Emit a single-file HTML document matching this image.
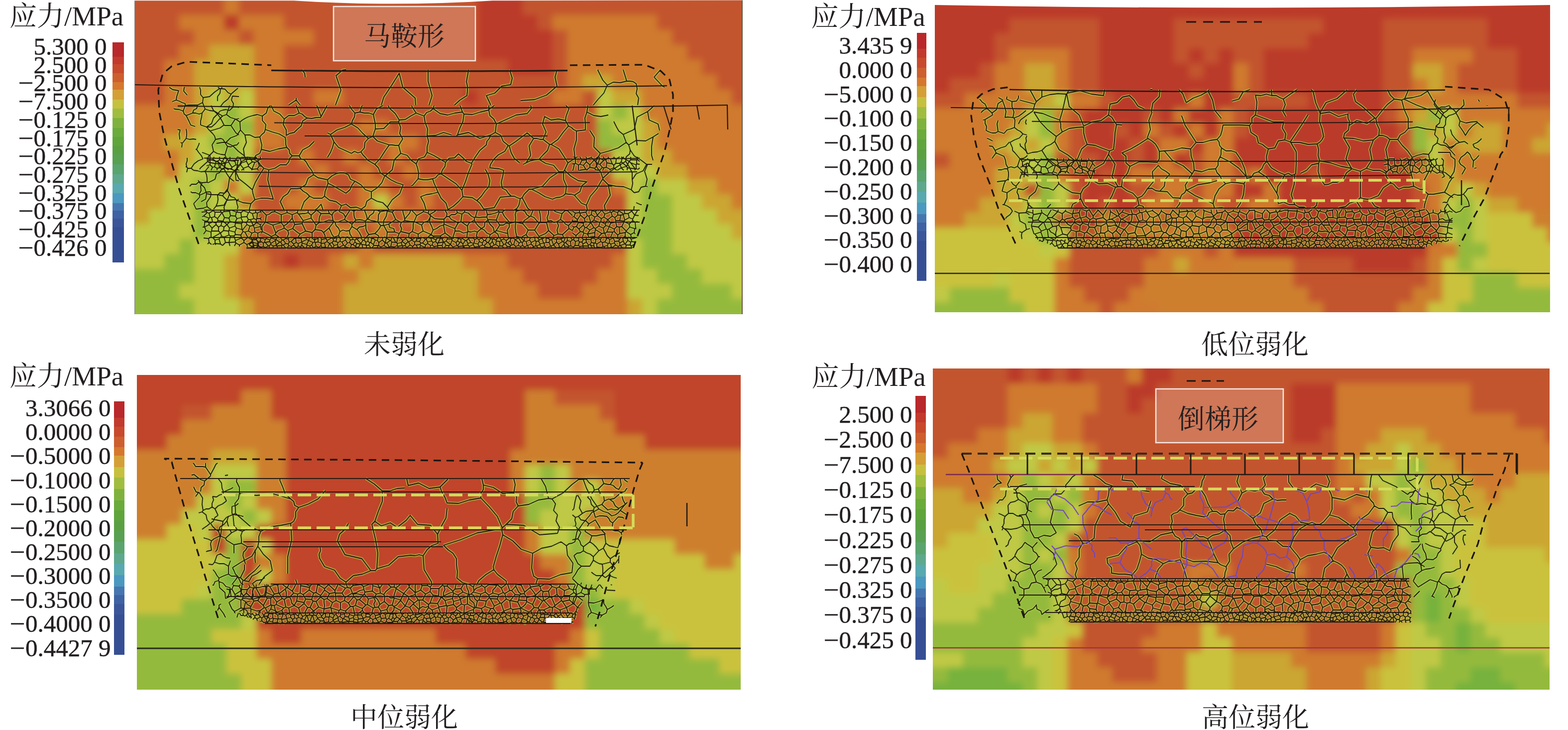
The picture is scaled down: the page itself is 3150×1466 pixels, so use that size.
<!DOCTYPE html><html><head><meta charset="utf-8"><style>
html,body{margin:0;padding:0;background:#fff;}
body{width:3150px;height:1466px;position:relative;overflow:hidden;}
.pan{position:absolute;display:block;}
.t{position:absolute;white-space:pre;color:#231f20;font-family:"Liberation Serif","Noto Serif CJK SC",serif;line-height:1;}
.cb{position:absolute;}
.lb{-webkit-text-stroke:0.45px #231f20}.ti{font-size:55px}.cap{font-size:54px}.bx{font-size:54px}.m{display:inline-block;transform:scaleX(1.12);transform-origin:right center}
</style></head><body>
<svg class="pan" style="left:270px;top:0px" width="1222" height="631" viewBox="0 0 1222 631">
<defs><filter id="bltl" filterUnits="userSpaceOnUse" x="-90" y="-90" width="1410" height="810"><feGaussianBlur stdDeviation="7"/></filter>
<clipPath id="cptl"><rect width="1222" height="631"/></clipPath></defs>
<g clip-path="url(#cptl)"><g filter="url(#bltl)"><g transform="translate(-90,-90)">
<rect x="0" y="0" width="270" height="30" fill="#c3552e"/><rect x="270" y="0" width="30" height="30" fill="#cf7a2e"/><rect x="300" y="0" width="480" height="30" fill="#c3552e"/><rect x="780" y="0" width="90" height="30" fill="#bb3a2a"/><rect x="870" y="0" width="540" height="30" fill="#c3552e"/><rect x="0" y="30" width="270" height="30" fill="#c3552e"/><rect x="270" y="30" width="30" height="30" fill="#cf7a2e"/><rect x="300" y="30" width="480" height="30" fill="#c3552e"/><rect x="780" y="30" width="90" height="30" fill="#bb3a2a"/><rect x="870" y="30" width="540" height="30" fill="#c3552e"/><rect x="0" y="60" width="270" height="30" fill="#c3552e"/><rect x="270" y="60" width="30" height="30" fill="#cf7a2e"/><rect x="300" y="60" width="480" height="30" fill="#c3552e"/><rect x="780" y="60" width="90" height="30" fill="#bb3a2a"/><rect x="870" y="60" width="540" height="30" fill="#c3552e"/><rect x="0" y="90" width="270" height="30" fill="#c3552e"/><rect x="270" y="90" width="30" height="30" fill="#cf7a2e"/><rect x="300" y="90" width="480" height="30" fill="#c3552e"/><rect x="780" y="90" width="90" height="30" fill="#bb3a2a"/><rect x="870" y="90" width="540" height="30" fill="#c3552e"/><rect x="0" y="120" width="180" height="30" fill="#c3552e"/><rect x="180" y="120" width="90" height="30" fill="#cf7a2e"/><rect x="270" y="120" width="30" height="30" fill="#bb3a2a"/><rect x="300" y="120" width="90" height="30" fill="#cf7a2e"/><rect x="390" y="120" width="390" height="30" fill="#c3552e"/><rect x="780" y="120" width="120" height="30" fill="#bb3a2a"/><rect x="900" y="120" width="30" height="30" fill="#c3552e"/><rect x="930" y="120" width="210" height="30" fill="#cf7a2e"/><rect x="1140" y="120" width="270" height="30" fill="#c3552e"/><rect x="0" y="150" width="210" height="30" fill="#c3552e"/><rect x="210" y="150" width="90" height="30" fill="#cf7a2e"/><rect x="300" y="150" width="30" height="30" fill="#c3552e"/><rect x="330" y="150" width="120" height="30" fill="#cf7a2e"/><rect x="450" y="150" width="330" height="30" fill="#c3552e"/><rect x="780" y="150" width="150" height="30" fill="#bb3a2a"/><rect x="930" y="150" width="30" height="30" fill="#c3552e"/><rect x="960" y="150" width="210" height="30" fill="#cf7a2e"/><rect x="1170" y="150" width="240" height="30" fill="#c3552e"/><rect x="0" y="180" width="180" height="30" fill="#c3552e"/><rect x="180" y="180" width="60" height="30" fill="#cf7a2e"/><rect x="240" y="180" width="90" height="30" fill="#cba633"/><rect x="330" y="180" width="60" height="30" fill="#cf7a2e"/><rect x="390" y="180" width="390" height="30" fill="#c3552e"/><rect x="780" y="180" width="150" height="30" fill="#bb3a2a"/><rect x="930" y="180" width="30" height="30" fill="#c3552e"/><rect x="960" y="180" width="240" height="30" fill="#cf7a2e"/><rect x="1200" y="180" width="210" height="30" fill="#c3552e"/><rect x="0" y="210" width="150" height="30" fill="#c3552e"/><rect x="150" y="210" width="60" height="30" fill="#cf7a2e"/><rect x="210" y="210" width="120" height="30" fill="#cba633"/><rect x="330" y="210" width="60" height="30" fill="#cf7a2e"/><rect x="390" y="210" width="450" height="30" fill="#c3552e"/><rect x="840" y="210" width="90" height="30" fill="#bb3a2a"/><rect x="930" y="210" width="30" height="30" fill="#c3552e"/><rect x="960" y="210" width="270" height="30" fill="#cf7a2e"/><rect x="1230" y="210" width="180" height="30" fill="#c3552e"/><rect x="0" y="240" width="150" height="30" fill="#c3552e"/><rect x="150" y="240" width="60" height="30" fill="#cf7a2e"/><rect x="210" y="240" width="120" height="30" fill="#cba633"/><rect x="330" y="240" width="60" height="30" fill="#cf7a2e"/><rect x="390" y="240" width="570" height="30" fill="#c3552e"/><rect x="960" y="240" width="30" height="30" fill="#cf7a2e"/><rect x="990" y="240" width="60" height="30" fill="#cba633"/><rect x="1050" y="240" width="210" height="30" fill="#cf7a2e"/><rect x="1260" y="240" width="150" height="30" fill="#c3552e"/><rect x="0" y="270" width="150" height="30" fill="#c3552e"/><rect x="150" y="270" width="60" height="30" fill="#cf7a2e"/><rect x="210" y="270" width="30" height="30" fill="#cba633"/><rect x="240" y="270" width="30" height="30" fill="#c0c945"/><rect x="270" y="270" width="30" height="30" fill="#cba633"/><rect x="300" y="270" width="30" height="30" fill="#c0c945"/><rect x="330" y="270" width="60" height="30" fill="#cf7a2e"/><rect x="390" y="270" width="60" height="30" fill="#c3552e"/><rect x="450" y="270" width="60" height="30" fill="#cf7a2e"/><rect x="510" y="270" width="240" height="30" fill="#c3552e"/><rect x="750" y="270" width="30" height="30" fill="#bb3a2a"/><rect x="780" y="270" width="150" height="30" fill="#c3552e"/><rect x="930" y="270" width="60" height="30" fill="#cf7a2e"/><rect x="990" y="270" width="30" height="30" fill="#c3552e"/><rect x="1020" y="270" width="30" height="30" fill="#c0c945"/><rect x="1050" y="270" width="60" height="30" fill="#cba633"/><rect x="1110" y="270" width="180" height="30" fill="#cf7a2e"/><rect x="1290" y="270" width="120" height="30" fill="#c3552e"/><rect x="0" y="300" width="210" height="30" fill="#cf7a2e"/><rect x="210" y="300" width="30" height="30" fill="#cba633"/><rect x="240" y="300" width="30" height="30" fill="#c0c945"/><rect x="270" y="300" width="30" height="30" fill="#94ba3e"/><rect x="300" y="300" width="30" height="30" fill="#c0c945"/><rect x="330" y="300" width="60" height="30" fill="#cf7a2e"/><rect x="390" y="300" width="630" height="30" fill="#c3552e"/><rect x="1020" y="300" width="30" height="30" fill="#c0c945"/><rect x="1050" y="300" width="30" height="30" fill="#94ba3e"/><rect x="1080" y="300" width="30" height="30" fill="#c0c945"/><rect x="1110" y="300" width="300" height="30" fill="#cf7a2e"/><rect x="0" y="330" width="210" height="30" fill="#cf7a2e"/><rect x="210" y="330" width="30" height="30" fill="#cba633"/><rect x="240" y="330" width="30" height="30" fill="#c0c945"/><rect x="270" y="330" width="60" height="30" fill="#94ba3e"/><rect x="330" y="330" width="60" height="30" fill="#cf7a2e"/><rect x="390" y="330" width="150" height="30" fill="#c3552e"/><rect x="540" y="330" width="60" height="30" fill="#cf7a2e"/><rect x="600" y="330" width="420" height="30" fill="#c3552e"/><rect x="1020" y="330" width="30" height="30" fill="#94ba3e"/><rect x="1050" y="330" width="60" height="30" fill="#c0c945"/><rect x="1110" y="330" width="30" height="30" fill="#cba633"/><rect x="1140" y="330" width="270" height="30" fill="#cf7a2e"/><rect x="0" y="360" width="150" height="30" fill="#cf7a2e"/><rect x="150" y="360" width="60" height="30" fill="#cba633"/><rect x="210" y="360" width="30" height="30" fill="#c0c945"/><rect x="240" y="360" width="60" height="30" fill="#94ba3e"/><rect x="300" y="360" width="30" height="30" fill="#c0c945"/><rect x="330" y="360" width="60" height="30" fill="#cf7a2e"/><rect x="390" y="360" width="210" height="30" fill="#c3552e"/><rect x="600" y="360" width="60" height="30" fill="#cf7a2e"/><rect x="660" y="360" width="360" height="30" fill="#c3552e"/><rect x="1020" y="360" width="60" height="30" fill="#94ba3e"/><rect x="1080" y="360" width="30" height="30" fill="#c0c945"/><rect x="1110" y="360" width="30" height="30" fill="#cba633"/><rect x="1140" y="360" width="270" height="30" fill="#cf7a2e"/><rect x="0" y="390" width="180" height="30" fill="#cf7a2e"/><rect x="180" y="390" width="30" height="30" fill="#cba633"/><rect x="210" y="390" width="60" height="30" fill="#c0c945"/><rect x="270" y="390" width="30" height="30" fill="#94ba3e"/><rect x="300" y="390" width="30" height="30" fill="#c0c945"/><rect x="330" y="390" width="90" height="30" fill="#c3552e"/><rect x="420" y="390" width="30" height="30" fill="#cf7a2e"/><rect x="450" y="390" width="60" height="30" fill="#c3552e"/><rect x="510" y="390" width="30" height="30" fill="#cf7a2e"/><rect x="540" y="390" width="60" height="30" fill="#c3552e"/><rect x="600" y="390" width="30" height="30" fill="#cf7a2e"/><rect x="630" y="390" width="420" height="30" fill="#c3552e"/><rect x="1050" y="390" width="60" height="30" fill="#c0c945"/><rect x="1110" y="390" width="60" height="30" fill="#cba633"/><rect x="1170" y="390" width="240" height="30" fill="#cf7a2e"/><rect x="0" y="420" width="150" height="30" fill="#cba633"/><rect x="150" y="420" width="30" height="30" fill="#cf7a2e"/><rect x="180" y="420" width="60" height="30" fill="#c0c945"/><rect x="240" y="420" width="30" height="30" fill="#94ba3e"/><rect x="270" y="420" width="60" height="30" fill="#c0c945"/><rect x="330" y="420" width="120" height="30" fill="#c3552e"/><rect x="450" y="420" width="30" height="30" fill="#cf7a2e"/><rect x="480" y="420" width="60" height="30" fill="#c3552e"/><rect x="540" y="420" width="30" height="30" fill="#cf7a2e"/><rect x="570" y="420" width="60" height="30" fill="#c3552e"/><rect x="630" y="420" width="30" height="30" fill="#cf7a2e"/><rect x="660" y="420" width="390" height="30" fill="#c3552e"/><rect x="1050" y="420" width="90" height="30" fill="#c0c945"/><rect x="1140" y="420" width="60" height="30" fill="#cba633"/><rect x="1200" y="420" width="210" height="30" fill="#cf7a2e"/><rect x="0" y="450" width="150" height="30" fill="#cba633"/><rect x="150" y="450" width="60" height="30" fill="#c0c945"/><rect x="210" y="450" width="30" height="30" fill="#94ba3e"/><rect x="240" y="450" width="30" height="30" fill="#c0c945"/><rect x="270" y="450" width="30" height="30" fill="#cf7a2e"/><rect x="300" y="450" width="30" height="30" fill="#c0c945"/><rect x="330" y="450" width="90" height="30" fill="#c3552e"/><rect x="420" y="450" width="30" height="30" fill="#cf7a2e"/><rect x="450" y="450" width="90" height="30" fill="#c3552e"/><rect x="540" y="450" width="60" height="30" fill="#cf7a2e"/><rect x="600" y="450" width="60" height="30" fill="#c3552e"/><rect x="660" y="450" width="30" height="30" fill="#cf7a2e"/><rect x="690" y="450" width="360" height="30" fill="#c3552e"/><rect x="1050" y="450" width="30" height="30" fill="#cf7a2e"/><rect x="1080" y="450" width="30" height="30" fill="#c0c945"/><rect x="1110" y="450" width="30" height="30" fill="#94ba3e"/><rect x="1140" y="450" width="60" height="30" fill="#c0c945"/><rect x="1200" y="450" width="60" height="30" fill="#cba633"/><rect x="1260" y="450" width="150" height="30" fill="#cf7a2e"/><rect x="0" y="480" width="150" height="30" fill="#cba633"/><rect x="150" y="480" width="60" height="30" fill="#c0c945"/><rect x="210" y="480" width="30" height="30" fill="#94ba3e"/><rect x="240" y="480" width="60" height="30" fill="#c0c945"/><rect x="300" y="480" width="30" height="30" fill="#cf7a2e"/><rect x="330" y="480" width="60" height="30" fill="#c3552e"/><rect x="390" y="480" width="90" height="30" fill="#cf7a2e"/><rect x="480" y="480" width="60" height="30" fill="#c3552e"/><rect x="540" y="480" width="30" height="30" fill="#cf7a2e"/><rect x="570" y="480" width="30" height="30" fill="#c0c945"/><rect x="600" y="480" width="30" height="30" fill="#cf7a2e"/><rect x="630" y="480" width="30" height="30" fill="#c3552e"/><rect x="660" y="480" width="30" height="30" fill="#cf7a2e"/><rect x="690" y="480" width="390" height="30" fill="#c3552e"/><rect x="1080" y="480" width="30" height="30" fill="#c0c945"/><rect x="1110" y="480" width="60" height="30" fill="#94ba3e"/><rect x="1170" y="480" width="60" height="30" fill="#c0c945"/><rect x="1230" y="480" width="60" height="30" fill="#cba633"/><rect x="1290" y="480" width="120" height="30" fill="#cf7a2e"/><rect x="0" y="510" width="120" height="30" fill="#cba633"/><rect x="120" y="510" width="90" height="30" fill="#c0c945"/><rect x="210" y="510" width="30" height="30" fill="#94ba3e"/><rect x="240" y="510" width="30" height="30" fill="#c0c945"/><rect x="270" y="510" width="30" height="30" fill="#94ba3e"/><rect x="300" y="510" width="30" height="30" fill="#c0c945"/><rect x="330" y="510" width="90" height="30" fill="#c3552e"/><rect x="420" y="510" width="30" height="30" fill="#cf7a2e"/><rect x="450" y="510" width="90" height="30" fill="#c3552e"/><rect x="540" y="510" width="60" height="30" fill="#cf7a2e"/><rect x="600" y="510" width="30" height="30" fill="#c3552e"/><rect x="630" y="510" width="30" height="30" fill="#cf7a2e"/><rect x="660" y="510" width="420" height="30" fill="#c3552e"/><rect x="1080" y="510" width="30" height="30" fill="#c0c945"/><rect x="1110" y="510" width="60" height="30" fill="#94ba3e"/><rect x="1170" y="510" width="90" height="30" fill="#c0c945"/><rect x="1260" y="510" width="150" height="30" fill="#cba633"/><rect x="0" y="540" width="210" height="30" fill="#c0c945"/><rect x="210" y="540" width="30" height="30" fill="#94ba3e"/><rect x="240" y="540" width="60" height="30" fill="#c0c945"/><rect x="300" y="540" width="30" height="30" fill="#cf7a2e"/><rect x="330" y="540" width="150" height="30" fill="#c3552e"/><rect x="480" y="540" width="60" height="30" fill="#cf7a2e"/><rect x="540" y="540" width="30" height="30" fill="#c3552e"/><rect x="570" y="540" width="30" height="30" fill="#cf7a2e"/><rect x="600" y="540" width="60" height="30" fill="#c3552e"/><rect x="660" y="540" width="30" height="30" fill="#cf7a2e"/><rect x="690" y="540" width="390" height="30" fill="#c3552e"/><rect x="1080" y="540" width="90" height="30" fill="#94ba3e"/><rect x="1170" y="540" width="120" height="30" fill="#c0c945"/><rect x="1290" y="540" width="120" height="30" fill="#cba633"/><rect x="0" y="570" width="180" height="30" fill="#c0c945"/><rect x="180" y="570" width="30" height="30" fill="#94ba3e"/><rect x="210" y="570" width="90" height="30" fill="#c0c945"/><rect x="300" y="570" width="30" height="30" fill="#cf7a2e"/><rect x="330" y="570" width="210" height="30" fill="#c3552e"/><rect x="540" y="570" width="30" height="30" fill="#cf7a2e"/><rect x="570" y="570" width="510" height="30" fill="#c3552e"/><rect x="1080" y="570" width="30" height="30" fill="#c0c945"/><rect x="1110" y="570" width="60" height="30" fill="#94ba3e"/><rect x="1170" y="570" width="240" height="30" fill="#c0c945"/><rect x="0" y="600" width="150" height="30" fill="#c0c945"/><rect x="150" y="600" width="60" height="30" fill="#94ba3e"/><rect x="210" y="600" width="60" height="30" fill="#c0c945"/><rect x="270" y="600" width="30" height="30" fill="#cba633"/><rect x="300" y="600" width="60" height="30" fill="#cf7a2e"/><rect x="360" y="600" width="30" height="30" fill="#c3552e"/><rect x="390" y="600" width="30" height="30" fill="#bb3a2a"/><rect x="420" y="600" width="60" height="30" fill="#c3552e"/><rect x="480" y="600" width="30" height="30" fill="#cf7a2e"/><rect x="510" y="600" width="30" height="30" fill="#cba633"/><rect x="540" y="600" width="30" height="30" fill="#cf7a2e"/><rect x="570" y="600" width="180" height="30" fill="#cba633"/><rect x="750" y="600" width="90" height="30" fill="#cf7a2e"/><rect x="840" y="600" width="210" height="30" fill="#c3552e"/><rect x="1050" y="600" width="30" height="30" fill="#cf7a2e"/><rect x="1080" y="600" width="30" height="30" fill="#c0c945"/><rect x="1110" y="600" width="90" height="30" fill="#94ba3e"/><rect x="1200" y="600" width="210" height="30" fill="#c0c945"/><rect x="0" y="630" width="210" height="30" fill="#94ba3e"/><rect x="210" y="630" width="60" height="30" fill="#c0c945"/><rect x="270" y="630" width="30" height="30" fill="#cba633"/><rect x="300" y="630" width="240" height="30" fill="#cf7a2e"/><rect x="540" y="630" width="240" height="30" fill="#cba633"/><rect x="780" y="630" width="90" height="30" fill="#cf7a2e"/><rect x="870" y="630" width="150" height="30" fill="#c3552e"/><rect x="1020" y="630" width="60" height="30" fill="#cf7a2e"/><rect x="1080" y="630" width="60" height="30" fill="#c0c945"/><rect x="1140" y="630" width="90" height="30" fill="#94ba3e"/><rect x="1230" y="630" width="180" height="30" fill="#c0c945"/><rect x="0" y="660" width="180" height="30" fill="#94ba3e"/><rect x="180" y="660" width="90" height="30" fill="#c0c945"/><rect x="270" y="660" width="30" height="30" fill="#cba633"/><rect x="300" y="660" width="210" height="30" fill="#cf7a2e"/><rect x="510" y="660" width="270" height="30" fill="#cba633"/><rect x="780" y="660" width="120" height="30" fill="#cf7a2e"/><rect x="900" y="660" width="90" height="30" fill="#c3552e"/><rect x="990" y="660" width="90" height="30" fill="#cf7a2e"/><rect x="1080" y="660" width="90" height="30" fill="#c0c945"/><rect x="1170" y="660" width="120" height="30" fill="#94ba3e"/><rect x="1290" y="660" width="120" height="30" fill="#c0c945"/><rect x="0" y="690" width="210" height="30" fill="#94ba3e"/><rect x="210" y="690" width="90" height="30" fill="#c0c945"/><rect x="300" y="690" width="30" height="30" fill="#cba633"/><rect x="330" y="690" width="180" height="30" fill="#cf7a2e"/><rect x="510" y="690" width="300" height="30" fill="#cba633"/><rect x="810" y="690" width="270" height="30" fill="#cf7a2e"/><rect x="1080" y="690" width="30" height="30" fill="#cba633"/><rect x="1110" y="690" width="30" height="30" fill="#c0c945"/><rect x="1140" y="690" width="270" height="30" fill="#94ba3e"/><rect x="0" y="720" width="210" height="30" fill="#94ba3e"/><rect x="210" y="720" width="90" height="30" fill="#c0c945"/><rect x="300" y="720" width="30" height="30" fill="#cba633"/><rect x="330" y="720" width="180" height="30" fill="#cf7a2e"/><rect x="510" y="720" width="300" height="30" fill="#cba633"/><rect x="810" y="720" width="270" height="30" fill="#cf7a2e"/><rect x="1080" y="720" width="30" height="30" fill="#cba633"/><rect x="1110" y="720" width="30" height="30" fill="#c0c945"/><rect x="1140" y="720" width="270" height="30" fill="#94ba3e"/><rect x="0" y="750" width="210" height="30" fill="#94ba3e"/><rect x="210" y="750" width="90" height="30" fill="#c0c945"/><rect x="300" y="750" width="30" height="30" fill="#cba633"/><rect x="330" y="750" width="180" height="30" fill="#cf7a2e"/><rect x="510" y="750" width="300" height="30" fill="#cba633"/><rect x="810" y="750" width="270" height="30" fill="#cf7a2e"/><rect x="1080" y="750" width="30" height="30" fill="#cba633"/><rect x="1110" y="750" width="30" height="30" fill="#c0c945"/><rect x="1140" y="750" width="270" height="30" fill="#94ba3e"/><rect x="0" y="780" width="210" height="30" fill="#94ba3e"/><rect x="210" y="780" width="90" height="30" fill="#c0c945"/><rect x="300" y="780" width="30" height="30" fill="#cba633"/><rect x="330" y="780" width="180" height="30" fill="#cf7a2e"/><rect x="510" y="780" width="300" height="30" fill="#cba633"/><rect x="810" y="780" width="270" height="30" fill="#cf7a2e"/><rect x="1080" y="780" width="30" height="30" fill="#cba633"/><rect x="1110" y="780" width="30" height="30" fill="#c0c945"/><rect x="1140" y="780" width="270" height="30" fill="#94ba3e"/>
</g>
</g>
<path d="M453 225L457 213L458 212M453 225L443 227M443 227L436 219L432 212M1004 387L1013 385L1018 376L1027 374M1027 374L1031 375M1008 407L1017 411L1019 411M128 362L132 368L141 377L145 389M145 389L143 400L134 405M374 236L365 236L356 238L347 237M374 236L375 234M375 234L368 215L366 212M347 237L342 234L337 229L331 227M331 227L326 214L325 212M388 267L394 270M387 212L387 212L381 223L375 234M443 227L442 235L438 242L436 249M394 270L407 261L422 256L436 249M1003 422L1004 414M145 389L156 391L167 391L177 393M181 422L180 416L186 402M177 393L186 402M232 422L231 420L234 409M186 402L203 401L218 407L234 409M299 422L300 420M301 422L300 420M394 270L401 285M436 249L449 257L459 268L470 278M470 278L463 286L462 297L455 305M455 305L449 307L442 304L436 308M401 285L410 296L423 302L436 308M347 237L338 243L335 253L327 260M1044 212L1038 218L1031 224M1055 262L1052 249L1034 241L1031 224M1031 224L1031 224M1031 224L1010 235L1004 260L982 270M982 270L973 263L968 254L963 244M152 320L142 329L133 337L131 340M152 320L169 326L184 337L201 342M201 342L191 358L188 378L177 393M152 320L152 312M152 312L136 306M177 233L170 240L163 248L155 255M177 233L159 222L154 212M155 255L144 255L144 255M279 400L273 381L268 361L270 341M279 400L267 398L254 398L242 401M242 401L240 395L238 388L237 381M237 381L243 366L251 352L260 338M260 338L270 341M234 409L242 401M300 420L293 405M201 342L202 342M202 342L210 359L224 370L237 381M360 351L356 342L350 334L345 325M360 351L349 358L344 371L333 378M333 378L327 379L320 379L314 379M345 325L341 321L334 319L331 313M305 331L310 325L312 318L317 313M331 313L317 313M293 405L299 395L308 389L314 379M270 341L282 338L293 331L305 331M401 285L398 296L394 306L388 316M361 284L351 294L338 301L331 313M352 394L341 405L336 418L335 422M352 394L360 398L369 398L377 398M375 410L367 419L362 422M333 378L339 384L346 388L352 394M379 422L375 410M455 305L459 311L464 316L469 322M445 365L443 364M443 364L434 360L430 351L421 347M421 347L412 347L405 349L397 353M360 351L369 357L379 359L388 361M388 361L397 353M762 422L768 419M768 422L768 419M453 225L462 227L471 227L480 230M480 230L486 219L499 212L499 212M723 212L712 220M712 212L712 220M445 365L455 371L464 381L476 385M469 322L483 330M483 330L490 337L494 347L503 353M503 353L497 367L488 377L476 385M512 422L508 416M456 422L456 420M456 420L464 414L467 404L476 398M508 416L499 407L487 404L476 398M331 227L321 232L310 232L301 239M327 260L321 266L312 268L305 272M305 272L305 261L299 250L301 239M1053 268L1042 275M1042 275L1039 294L1039 312L1042 322M1027 374L1030 360L1025 344L1031 330M1040 330L1031 330M802 278L809 278L815 280L821 280M802 278L789 267M789 228L798 217M821 280L827 265L820 249L824 234M184 286L193 277L206 272L213 261M184 286L198 293L209 304L221 313M213 261L222 271M222 271L225 286L219 299L221 313M202 342L210 334L214 325L224 320M260 338L254 332L248 324L240 320M240 320L224 320M184 286L177 286L171 287L165 288M221 313L224 320M213 261L212 245M177 233L185 230M185 230L193 236L203 239L212 245M185 230L190 216L191 212M425 388L413 381L401 374L389 368M425 410L416 413M416 413L405 405L392 402L382 394M382 394L383 385L386 377L389 368M443 364L437 372L433 381L425 388M388 361L389 368M456 420L446 416L434 417L425 410M476 398L476 385M412 422L416 413M377 398L382 394M707 291L694 302L685 315L677 328M714 337L715 331L718 326L722 320M677 328L678 330M796 212L798 217M789 228L767 231L747 240L727 249M712 220L712 221M712 221L714 232L722 239L727 249M753 293L751 292M753 293L765 285L777 276L789 267M751 292L741 284L736 272L725 266M727 249L725 266M751 292L744 304L731 311L722 320M707 291L708 284L713 278L716 271M716 271L725 266M306 296L304 290L304 283L303 276M306 296L289 299L272 304L255 300M303 276L291 269L277 265L263 260M255 300L256 291L254 283L252 275M263 260L261 266L256 270L252 275M317 313L312 308L311 301L306 296M240 320L244 312L252 308L255 300M222 271L232 271L242 276L252 275M866 242L872 253M866 242L867 234L870 226L873 218M872 253L878 256L882 260L888 263M911 212L911 212L909 225M909 225L905 237L906 249L906 261M906 261L888 263M834 290L821 280M834 290L837 290M837 290L851 280L861 266L872 253M824 234L837 241L852 239L866 242M867 212L873 218M952 231L937 234L923 232L909 225M982 270L988 286M915 262L924 276L923 295L936 308M936 308L954 303L972 297L988 286M1042 275L1027 283L1008 282L993 291M1031 330L1029 330M1029 330L1017 321L1004 313L996 301M996 301L993 291M988 286L993 291M257 233L265 227L268 217L273 212M257 233L247 230L238 232L228 235M301 239L292 229L280 223L275 212M263 260L264 250L257 242L257 233M212 245L217 241L222 238L228 235M802 278L793 293L796 312L787 327M834 290L830 302L821 311L813 320M813 320L804 321L795 323L787 327M775 399L779 397M775 399L769 397L763 394L757 394M779 397L783 390L788 385L793 380M757 394L751 388L747 382L739 378M739 378L737 366L740 354L742 342M768 419L772 413L774 406L775 399M795 422L790 418L779 397M702 420L703 422M702 420L723 417L735 396L757 394M702 420L698 414L694 408L688 403M712 375L704 384L697 394L688 403M712 375L714 363L711 351L705 340M714 337L723 338L733 339L742 342M753 293L757 307L763 318L774 327M787 327L781 330M503 353L504 353M508 416L518 401L533 389L540 371M504 353L515 361L527 367L540 371M483 330L494 318L503 304L512 291M535 308L522 321L518 341L504 353M535 308L531 292M531 292L524 292L518 291L512 291M470 278L479 274M512 291L500 287L488 283L479 274M480 230L482 240L484 249L484 259M479 274L484 259M688 403L679 397L670 396L660 395M678 330L671 347L665 365L658 382M660 395L658 382M677 328L667 324L659 316L651 309M651 309L643 317L632 318L625 326M625 326L624 334L619 341L616 349M658 382L646 369L631 359L616 349M659 225L644 227L629 231L614 228M659 225L662 229M662 229L660 244L654 257L649 271M649 271L647 273M654 212L655 214L659 225M600 218L602 212M600 218L614 228M712 221L695 225L679 230L662 229M716 271L694 278L671 266L649 271M888 263L888 281L883 299L885 318M936 308L927 324M837 290L853 299L862 313L871 327M885 318L871 327M884 392L891 400L898 408L908 412M884 392L895 385L899 373L909 365M908 412L916 394L929 379L939 362M952 371L941 360M952 371L967 374L983 375L998 381M987 324L971 334L955 345L941 358M987 324L994 335L1000 347L1000 361M941 360L941 358M998 381L1000 374L1001 368L1000 361M946 422L944 413L956 392L952 371M910 422L908 412M939 362L941 360M1004 387L998 381M996 301L995 309L988 315L987 324M927 324L929 336L937 346L941 358M1029 330L1022 343L1008 349L1000 361M909 365L892 363L877 354L864 342M864 342L871 327M840 400L825 395L812 387L798 380M840 400L847 397L855 396L862 393M798 380L820 374L835 357L853 345M866 389L862 393M866 389L868 374L862 360L862 345M862 345L853 345M793 380L798 380M813 320L826 328L842 332L853 345M884 392L878 390L872 390L866 389M864 342L862 345M539 279L533 268L535 256L531 245M532 241L531 245M532 241L544 240L555 233L566 227M582 233L566 227M582 233L584 246L589 259L588 273M588 273L588 273M531 292L539 279M484 259L501 258L514 245L531 245M588 306L588 295L591 284L588 273M588 306L583 315L571 319L566 329M535 308L548 312L556 322L566 329M510 212L512 217L524 228L532 241M557 212L558 215L566 227M600 218L595 223L587 226L582 233M637 271L621 266L605 272L588 273M588 306L601 312L613 319L625 326M566 329L569 338L571 348L570 359M616 349L610 351L605 357L599 359M570 359L580 361L589 361L599 359M631 422L630 422M660 395L651 405L641 414L630 421M630 422L630 421M599 359L602 368L606 377L610 386M630 421L626 408L616 398L610 386M556 373L559 372M575 395L582 408L586 422M570 359L559 372M610 386L598 389L586 391L575 395M872 422L870 423M880 433L870 423M880 441L879 446M880 446L879 446M433 422L424 436M424 436L420 429L412 425L411 422M255 422L255 422M879 446L872 453M872 453L873 459M880 463L873 459M856 441L862 445L866 450L872 453M856 441L849 445M851 470L849 462L852 453L849 445M851 470L860 471M860 471L873 459M436 422L441 424M446 422L441 424M422 441L424 436M422 441L437 450M441 424L441 431L442 437L445 442M445 442L437 450M456 476L456 475L452 467L447 461M447 461L437 455M437 455L432 463M437 476L433 470L432 463M422 441L416 443L410 446L403 446M403 446L405 453L410 458L413 465M437 450L437 455M432 463L425 464L419 462L413 465M407 422L406 423L400 426L397 432M403 446L401 445M401 445L399 443M399 443L397 432M366 422L375 429M375 429L392 429M389 422L392 429M365 452L371 447M365 452L355 438M355 438L355 432M355 432L366 422M371 447L371 441L372 435L375 429M371 447L380 446L390 442L399 443M397 432L392 429M355 432L349 427M349 427L349 422M349 427L343 429L337 429L330 430M329 422L327 427M327 427L330 430M355 438L339 443M330 430L339 443M255 422L265 432M282 425L276 426L271 430L265 432M282 425L282 422M832 422L832 429L829 437L831 444M816 447L816 439L815 430L813 422M816 447L828 447M831 444L828 447M813 448L816 447M813 448L808 443L803 437L796 434M801 422L796 434M780 449L791 462M780 449L783 443L789 439L794 435M813 448L804 462M804 462L791 462M794 435L796 434M841 476L843 473M843 473L832 463M832 463L826 469L819 472L813 475M813 476L813 475M851 470L843 473M862 476L860 471M849 445L843 447L837 443L831 444M828 447L832 463M804 462L813 475M466 476L471 471M447 461L452 456L459 455L465 452M471 471L467 465L465 459L465 452M445 442L452 441L458 442L464 444M465 452L464 444M462 422L463 424L466 432L468 440M468 440L464 444M602 476L600 474M596 471L590 476M596 471L596 471M596 471L600 474M767 424L766 422M767 424L776 422M765 446L766 438L765 431L767 424M765 446L755 448M755 448L749 441L743 434L739 426M739 426L744 422L745 422M780 449L766 446M766 446L765 446M794 435L788 431L785 425L779 422M318 459L323 463L328 467L333 470M318 459L322 451M322 451L337 449M337 449L344 464M344 464L333 470M365 452L363 461M363 461L357 467M339 443L337 449M357 467L344 464M306 422L307 427M282 425L295 431M295 431L307 427M327 427L317 431M307 427L317 431M322 451L317 438M317 431L317 438M275 476L275 475M255 468L257 465M275 475L269 471L263 468L257 465M255 455L256 455M257 465L256 455M265 432L263 446M263 446L256 455M329 476L329 476L333 470M357 467L357 476M865 422L865 423M865 423L859 429M859 429L852 427L846 425L842 422M870 423L865 423M856 441L859 429M790 476L787 471M778 476L787 471M791 462L787 471M767 476L768 475M768 475L773 476M766 446L765 456L766 466L768 475M581 425L590 428M581 425L580 422M590 428L592 422M606 422L603 425L593 431M593 431L590 428M487 422L494 425M482 422L480 428L473 433L469 440M494 425L490 432L490 439L489 446M469 440L476 443L483 444L489 446M505 423L505 422M505 423L494 425M468 440L469 440M521 422L521 423M521 423L523 422M505 423L508 424M521 423L518 426M508 424L518 426M581 425L567 433M567 433L557 422M539 422L540 428L542 434L543 440M555 422L553 428L548 434L543 440M600 474L614 474M614 474L616 476M731 422L732 425M707 422L709 431M709 431L717 430L725 428L732 425M739 426L733 426M733 426L732 425M363 461L370 462L376 463L380 467M401 445L391 458M380 467L391 458M410 473L412 476M410 473L402 476M413 465L410 473M391 458L394 464L397 471L401 476M380 467L383 473L383 476M275 475L283 471M283 471L289 475L290 476M318 459L308 463M308 463L310 469L307 476L307 476M491 476L490 473L483 469M507 476L508 466M483 469L488 464L492 459L495 453M508 466L501 453M495 453L500 453M501 453L500 453M471 471L483 469M529 476L532 469M523 466L532 469M523 466L508 466M489 446L495 453M523 466L521 459L513 457L511 450M511 450L501 453M508 424L506 434L501 443L500 453M518 426L525 441M525 441L511 450M593 431L595 433M595 433L594 437M594 437L590 444L582 446L577 452M567 433L562 445M562 445L577 452M596 471L580 464M594 437L593 446L597 454L600 462M600 462L596 471M577 452L580 464M570 476L570 470M570 470L580 464M536 447L534 453L537 459L535 465M536 447L543 443M543 443L549 444L555 445L561 445M561 445L560 452L560 459L558 465M535 465L552 469M552 469L558 465M532 469L535 465M525 441L536 447M543 440L543 443M562 445L561 445M570 470L558 465M551 476L552 469M713 476L715 471M732 476L730 470L724 466M715 471L723 466M723 466L724 466M689 476L687 474L689 466M689 466L697 459M697 459L703 462L708 468L715 471M697 459L697 459M723 466L721 457L714 450L710 442M697 459L703 455L704 447L710 442M709 431L708 436M733 426L727 442M727 442L710 441M708 436L710 441M670 465L669 454M670 465L676 466L683 464L689 466M697 459L691 454L686 448L683 442M669 454L672 448L678 445L683 442M614 474L624 468M635 476L624 468M600 462L607 459L614 454L621 452M624 468L621 452M734 452L727 463M734 452L741 452L747 448L753 449M727 463L735 465L742 467L750 469M753 449L753 456L749 462L750 469M727 442L734 452M724 466L727 463M710 442L710 441M755 448L753 449M751 476L750 469M278 452L284 468M278 452L295 447M284 468L289 463L295 461L301 458M295 447L300 454M300 454L301 458M263 446L278 452M283 471L284 468M295 431L295 447M308 463L301 458M317 438L312 444L306 450L300 454M644 464L640 476M644 464L653 464L661 468L669 466M669 466L668 476M670 465L669 466M663 426L664 422M663 426L671 428L677 434L683 437M689 422L685 436M685 436L683 437M647 422L649 427M649 427L658 430M658 430L663 426M669 454L656 445M683 442L683 437M656 445L658 430M708 436L700 436L693 437L685 436M644 459L636 456L629 453L622 450M644 459L650 448M650 448L644 444L637 441L632 435M622 450L622 440M622 440L627 435M627 435L632 435M621 452L622 450M644 464L644 459M656 445L650 448M649 427L644 431L637 431L632 435M595 433L603 439L613 440L622 440M624 422L624 422L628 429L627 435M158 422L158 423M158 423L162 426M162 426L174 426M174 426L173 422M161 435L155 437M161 435L162 426M155 437L152 436M158 423L150 428M152 436L150 428M163 489L163 492M163 489L173 490M173 490L177 493M255 436L253 439M253 439L255 442M255 462L253 455M253 455L253 451M255 450L253 451M255 497L254 498M254 498L254 498M253 455L241 458M239 453L245 447M239 453L239 453M253 451L245 447M239 453L241 458M139 470L144 463M137 456L140 456M140 456L141 456M144 463L141 456M136 441L136 441M140 456L142 444M136 441L142 444M150 449L147 444M150 449L150 451M150 451L141 456M142 444L147 444M150 449L157 446M157 446L155 437M152 436L150 438M147 444L150 438M195 422L205 426M205 426L206 426M206 426L207 422M193 422L193 422M193 422L193 422M219 423L218 422M219 423L214 427M214 427L206 426M163 489L162 489M173 490L170 480M170 480L162 482M162 489L162 482M173 468L157 477M173 468L175 474M175 474L170 480M162 482L157 477M139 478L149 479M154 466L144 463M154 466L154 476M149 479L154 476M225 447L218 446M225 447L229 441M218 446L214 437M229 441L226 435M226 435L215 436M215 436L214 437M215 449L218 446M215 449L203 448M203 448L202 447M202 447L206 439M206 439L214 437M229 427L219 423M229 427L226 435M214 427L215 436M203 434L206 439M203 434L205 426M254 498L250 494M250 494L246 497M202 466L205 458M202 466L190 463M191 458L190 463M191 458L202 454M202 454L205 458M192 445L202 447M192 445L186 451M203 448L202 454M186 451L191 458M215 449L216 461M216 461L205 458M203 471L214 472M203 471L200 474M215 478L214 472M215 478L203 483M200 474L203 483M193 422L191 424M180 422L180 425M191 424L180 425M203 434L193 433M191 424L193 433M192 445L190 438M190 438L193 433M174 426L176 427M176 427L180 425M139 434L136 435M139 434L146 427M146 427L145 425M145 425L135 426M136 441L136 441M150 438L139 434M150 428L146 427M144 422L145 425M255 427L253 425M253 425L254 422M155 491L150 487M150 487L147 490M162 489L157 491M149 479L150 487M154 476L157 477M250 494L249 492M249 492L241 493M237 497L241 493M217 462L218 465M217 462L226 451M218 465L222 466M222 466L229 464M229 464L232 454M226 451L232 454M216 461L217 462M203 471L202 466M214 472L218 465M225 447L226 451M220 483L228 477M220 483L215 478M228 477L222 466M239 453L233 441M233 441L229 441M239 453L232 454M228 477L233 476M229 464L236 468M233 476L236 468M241 458L242 466M242 466L236 468M192 494L190 487M203 486L190 487M203 486L204 488M204 488L201 494M164 451L169 456M164 451L156 458M169 456L169 464M169 464L155 464M156 458L155 464M157 446L164 448M164 448L164 451M150 451L156 458M154 466L155 464M173 468L173 468M173 468L169 464M189 464L190 463M189 464L179 463M186 451L186 451M179 463L180 456M186 451L180 456M173 468L179 463M169 456L174 453M180 456L174 453M190 472L193 474M190 472L180 476M193 474L190 487M180 476L183 487M183 487L190 487M189 464L190 472M200 474L193 474M175 474L180 476M203 483L203 486M190 487L190 487M177 493L183 487M181 437L176 427M181 437L178 444M176 427L167 439M178 444L176 444M176 444L168 443M167 439L168 443M190 438L181 437M176 427L176 427M186 451L178 444M161 435L167 439M174 453L176 444M164 448L168 443M253 439L246 439M253 425L247 428M247 428L246 439M233 441L240 439M245 447L245 441M240 439L245 441M246 439L245 441M232 422L231 426M231 426L237 429M243 422L244 427M237 429L244 427M229 427L231 426M240 439L237 429M247 428L244 427M227 496L226 491M226 491L220 487M220 487L211 492M211 492L211 495M241 493L235 486M235 486L226 491M220 483L220 487M235 486L237 482M233 476L237 482M204 488L211 492M255 465L255 465M242 466L248 468M248 468L255 465M255 466L255 465M245 481L248 476M245 481L249 488M248 476L255 478M255 486L249 488M237 482L245 481M248 468L248 476M249 492L249 488M926 476L925 475M925 475L915 476M910 433L904 439M910 433L913 434M913 434L917 447M904 439L905 445M905 445L917 447M1006 446L1011 445M1006 446L1007 458M1007 458L1008 457M1007 459L1007 458M1007 459L1008 460M929 422L926 425M919 423L926 425M919 423L918 422M886 428L883 435M886 428L894 427M896 432L890 441M896 432L895 428M890 441L883 435M894 427L895 428M880 424L886 428M880 436L883 435M894 422L894 427M910 433L907 426M904 439L896 432M907 426L895 428M913 476L910 470M900 476L903 468M903 468L910 470M925 475L925 467M925 467L910 470M910 470L910 470M887 476L887 473M880 468L887 473M987 476L986 474M983 476L986 474M909 423L908 422M909 423L910 422M907 426L909 423M913 434L918 431M918 431L919 423M917 447L908 457M917 447L917 447M915 462L908 457M915 462L923 457M923 457L917 447M917 447L917 447M918 431L925 436M925 436L923 442M917 447L923 442M901 466L905 457M901 466L896 465M896 465L893 460M893 460L902 452M902 452L905 457M903 468L901 466M915 462L910 470M908 457L905 457M887 473L896 465M905 445L902 448M902 448L902 452M888 455L883 456M888 455L892 447M890 444L892 447M890 444L880 444M883 456L880 454M880 463L883 456M893 460L888 455M902 448L892 447M890 441L890 444M998 476L997 471M1006 470L1004 467M997 471L1004 467M1007 459L1005 459M1004 467L1005 459M986 474L986 467M971 476L971 472M971 472L975 469M975 469L986 467M997 471L988 465M986 467L988 465M995 456L988 464M995 456L1005 459M988 465L988 464M1006 446L1001 443M995 456L994 450M994 450L1001 443M1013 433L1005 432M1005 432L1001 440M1001 443L1001 440M975 469L974 456M988 464L979 455M979 455L974 456M994 450L984 445M979 455L984 445M926 425L930 432M925 436L930 433M930 432L930 433M939 422L939 422M930 432L939 422M1005 432L1005 432M1005 432L1011 422M994 437L1001 440M994 437L992 429M1005 432L999 424M992 429L999 424M1001 422L999 424M999 424L999 424M999 424L997 422M957 476L956 476M957 476L957 476M932 476L939 469M925 467L926 461M939 469L926 461M923 457L926 459M935 447L923 442M935 447L933 454M933 454L926 459M926 461L926 459M943 436L938 439M943 436L951 441M946 450L951 441M946 450L937 445M937 445L938 439M930 433L938 439M939 422L945 430M945 430L943 436M935 447L937 445M957 448L951 441M957 448L954 455M951 441L951 441M946 450L947 453M947 453L954 455M933 454L942 458M947 453L942 458M939 469L944 468M942 458L944 468M948 476L945 469M945 469L944 468M954 455L949 466M954 455L964 460M949 466L961 466M964 460L964 465M964 465L961 466M954 455L954 455M945 469L949 466M969 455L967 446M969 455L964 460M967 446L957 448M957 476L961 466M971 472L964 465M969 455L974 456M967 446L967 443M951 441L960 434M960 434L965 437M967 443L965 437M945 430L956 426M960 434L958 427M956 426L958 427M956 426L955 422M984 445L984 444M967 443L975 443M975 443L984 444M994 437L985 442M985 442L984 444M975 443L977 432M985 442L982 431M982 431L977 432M965 437L971 432M971 432L977 432M992 429L985 429M985 429L984 422M982 431L983 430M985 429L983 430M971 427L973 423M971 427L962 424M973 423L973 422M964 422L962 424M971 432L971 427M983 430L973 423M958 427L962 424M1004 476L1006 478M1006 479L1006 478M1004 491L998 494M1005 486L999 485M996 492L998 494M996 492L997 486M997 486L999 485M999 498L998 494M1006 478L998 480M998 480L999 485M794 477L794 476M794 477L789 476M998 480L993 476M993 476L994 476M988 492L987 498M988 492L996 492M274 489L272 485M274 489L283 483M272 485L272 482M283 483L284 481M284 481L275 478M272 482L275 478M284 481L284 481M284 481L287 476M287 476L287 476M275 478L275 476M755 498L755 495M755 495L749 495M749 495L747 498M712 498L712 497M703 498L704 495M712 497L704 495M783 484L775 476M783 484L784 476M775 476L776 476M795 478L794 482M795 478L794 477M783 484L787 485M783 484L783 484M794 482L787 485M779 487L783 484M779 487L780 493M787 485L789 493M780 493L784 496M789 493L784 496M804 476L795 478M804 476L804 476M804 476L805 483M794 482L797 487M805 483L797 487M790 493L789 493M790 493L797 490M797 490L797 487M828 498L824 494M824 494L818 497M818 497L817 498M966 476L964 477M963 476L963 478M964 477L963 478M988 492L986 490M997 486L991 483M986 490L991 483M993 476L991 479M991 483L991 479M985 476L984 478M977 476L978 477M978 477L981 478M984 478L981 478M991 479L984 478M964 477L975 480M975 480L978 477M973 484L975 480M973 484L975 488M975 488L982 484M982 484L981 478M986 490L985 490M985 490L982 484M507 476L506 477M506 477L503 476M503 476L503 476M504 488L507 488M504 488L506 478M507 488L514 483M506 478L514 483M518 476L518 476M506 477L506 478M514 483L515 483M518 476L515 483M472 476L470 477M472 476L472 476M463 476L464 478M464 478L470 477M475 498L471 492M471 492L466 493M466 493L466 498M455 489L457 491M455 489L455 489M455 489L459 483M457 491L465 492M459 483L461 482M461 482L465 486M465 486L465 492M466 493L465 492M459 498L457 491M469 485L470 477M469 485L465 486M464 478L461 482M471 492L473 487M473 487L469 485M455 489L447 480M459 483L454 477M454 477L447 480M414 479L417 476M414 479L409 476M363 476L362 482M362 482L354 476M233 498L236 495M236 495L230 491M272 482L265 479M265 479L265 476M352 494L354 498M352 494L347 492M347 492L345 498M546 477L545 479M546 477L545 476M533 477L533 476M533 477L539 483M545 479L539 483M563 491L566 492M563 491L559 495M559 495L559 498M566 492L569 498M589 486L597 484M589 486L586 480M586 480L589 477M589 477L596 479M597 484L596 479M581 476L581 478M581 478L585 480M585 480L586 480M589 476L589 477M598 478L596 479M598 478L599 476M600 487L597 484M600 487L605 485M598 478L606 482M606 482L605 485M600 487L598 492M598 492L595 493M589 486L589 489M595 493L589 489M598 492L602 495M609 493L609 494M609 493L609 489M609 489L605 485M609 494L602 495M595 493L594 498M602 495L602 498M609 493L618 493M618 493L620 498M609 494L610 498M606 482L608 478M608 476L608 478M684 481L688 479M684 481L680 478M680 478L681 476M688 479L689 476M672 478L671 476M672 478L680 478M640 498L640 496M631 498L632 493M640 496L635 491M632 493L635 491M635 491L635 491M626 493L632 493M626 493L622 498M688 479L692 481M699 476L698 478M692 481L698 478M709 476L709 476M709 476L705 483M698 478L702 483M705 483L702 483M703 493L699 492M703 493L709 487M709 487L705 483M702 483L699 488M699 492L699 488M692 481L693 485M699 488L693 485M684 481L682 488M682 488L690 490M693 485L690 490M683 496L693 495M683 496L683 498M693 498L693 495M693 495L693 495M682 488L681 489M681 489L681 491M681 491L683 496M690 490L693 495M704 495L703 493M699 492L693 495M681 491L673 495M672 498L673 495M750 488L755 484M750 488L756 493M755 484L759 492M756 493L759 492M755 495L756 493M745 490L749 495M745 490L747 487M747 487L750 488M762 491L766 495M762 491L759 492M766 495L766 498M747 487L747 483M747 483L753 478M755 484L756 479M756 479L753 478M747 483L742 480M742 480L742 476M753 478L752 476M779 487L777 486M771 493L776 495M771 493L773 488M780 493L776 495M777 486L773 488M790 493L792 498M784 496L784 498M813 482L819 479M813 482L809 476M819 479L817 476M808 494L806 494M808 494L814 491M806 494L807 485M814 491L815 490M815 490L812 484M812 484L807 485M811 498L808 494M818 497L814 491M813 482L812 484M805 483L807 485M963 478L962 478M973 484L965 485M962 478L965 485M902 498L901 494M894 498L895 495M895 495L901 494M911 498L912 498M912 498L912 494M901 494L901 494M901 494L912 494M544 493L547 497M544 493L545 490M547 497L554 492M545 490L550 485M554 492L551 486M551 486L550 485M547 498L547 497M559 495L554 492M545 479L550 485M538 485L545 490M538 485L539 483M563 486L557 482M563 486L563 491M557 482L551 486M518 476L520 477M526 476L526 477M520 477L526 477M533 477L529 479M526 477L529 479M454 477L454 476M447 480L446 480M446 480L445 476M446 480L443 482M438 476L439 481M443 482L439 481M369 486L369 478M369 486L363 487M369 478L362 482M363 487L362 486M362 486L362 482M375 488L376 481M375 488L369 486M376 481L374 476M371 476L369 478M362 482L362 482M356 492L360 498M356 492L359 487M359 487L362 486M365 494L360 498M365 494L363 487M359 487L350 483M350 483L353 476M350 483L346 481M350 483L346 491M346 481L336 486M346 491L337 488M337 488L336 486M336 486L336 486M356 492L352 494M350 483L350 483M347 492L346 491M336 492L337 488M336 492L342 498M346 481L345 478M345 476L345 478M230 479L231 476M230 479L236 481M230 491L238 486M238 486L236 481M240 476L239 479M236 481L239 479M255 476L255 478M265 479L263 481M255 478L263 481M272 485L263 487M263 481L261 487M263 487L261 487M263 498L263 497M271 498L271 493M263 497L269 494M271 493L269 494M255 496L255 498M255 496L259 495M259 495L263 497M259 495L259 488M259 488L261 487M263 487L269 494M274 489L274 491M274 491L271 493M336 492L334 496M334 496L335 498M287 476L293 477M293 477L293 476M548 476L557 480M557 480L557 476M557 482L557 482M557 482L557 480M546 477L547 476M566 476L567 480M566 476L566 476M567 480L576 478M576 476L577 477M577 477L576 478M563 486L566 484M557 482L566 476M566 484L567 480M566 484L573 485M573 485L576 478M581 478L577 477M584 497L585 492M584 497L575 493M585 492L579 488M579 488L575 488M575 488L574 491M575 493L574 491M589 489L585 492M584 498L584 497M573 498L575 493M585 480L579 488M573 485L575 488M566 492L574 491M712 497L715 496M715 496L715 498M608 478L615 478M615 476L615 478M676 487L670 489M676 487L671 479M670 489L667 483M671 479L667 483M681 489L676 487M673 495L670 492M670 492L670 489M672 478L671 479M660 476L659 479M659 479L665 483M665 483L667 483M664 498L661 495M660 498L661 495M670 492L661 494M661 494L661 495M772 476L772 477M772 477L772 478M772 478L765 481M761 478L761 476M761 478L765 481M765 481L765 481M775 476L772 477M777 486L772 478M773 488L765 481M756 479L761 478M762 491L765 481M771 493L766 495M803 498L802 495M799 498L802 495M802 495L802 495M806 494L802 495M797 490L802 495M776 495L776 498M826 476L819 480M826 476L827 478M827 478L827 487M819 480L822 488M827 487L823 488M823 488L822 488M819 479L819 480M826 476L826 476M833 476L832 479M832 479L827 478M815 490L822 488M824 494L823 488M841 476L841 479M841 479L848 481M850 476L849 480M848 481L849 480M832 479L835 482M841 479L838 481M838 481L835 482M827 487L833 487M835 482L833 487M828 498L836 494M833 487L836 494M838 498L837 494M836 494L837 494M854 496L852 490M854 496L848 498M848 498L842 492M852 490L848 486M848 486L842 492M842 492L842 492M857 498L857 497M857 497L854 496M848 498L848 498M837 494L842 492M848 481L848 486M838 481L842 492M882 498L882 496M892 493L885 493M892 493L895 495M882 496L885 493M955 481L962 478M955 481L951 478M951 478L951 476M962 476L962 478M962 476L961 476M961 476L962 476M962 478L962 478M918 487L917 481M918 487L923 488M919 479L917 481M919 479L921 478M923 488L926 488M926 488L927 481M927 481L921 478M919 479L916 476M921 478L921 476M940 476L936 481M931 476L932 479M936 481L932 479M949 479L944 476M949 479L951 478M927 481L932 479M917 481L908 481M908 476L908 481M445 496L450 497M445 496L444 498M451 498L450 497M455 489L454 490M454 490L450 497M515 483L517 486M520 477L525 487M517 486L525 487M529 479L527 487M527 487L525 487M544 493L539 494M539 494L538 498M475 487L480 491M475 487L477 479M480 491L484 482M484 482L480 479M477 479L480 479M472 476L477 479M473 487L475 487M481 476L480 479M481 493L490 493M481 493L477 498M490 493L487 498M477 498L478 498M476 498L477 498M480 491L481 493M401 493L399 498M401 493L397 487M392 489L397 487M392 489L392 489M398 498L392 489M396 478L387 483M396 478L393 476M385 476L385 479M385 479L387 483M398 476L398 478M398 478L396 478M376 481L385 479M400 484L399 480M400 484L405 485M399 480L407 477M405 485L407 477M387 485L392 489M387 485L387 483M397 487L400 484M398 478L399 480M409 487L408 491M409 487L405 485M408 491L401 493M408 476L407 477M414 479L413 485M409 487L413 485M409 495L406 498M409 495L411 497M411 497L412 498M408 491L409 495M413 485L417 486M417 486L420 492M420 492L411 497M423 495L422 498M423 495L432 498M423 494L420 492M423 494L423 495M434 498L435 498M434 498L434 498M434 482L432 487M434 482L429 476M424 482L428 488M424 482L425 477M428 488L432 487M429 476L426 476M425 477L426 476M430 476L429 476M439 481L434 482M417 486L424 482M423 494L428 488M418 476L425 477M434 498L436 491M436 491L432 487M426 476L426 476M444 495L447 489M444 495L439 491M439 491L443 486M447 489L443 486M454 490L447 489M445 496L444 495M436 491L439 491M443 482L443 486M360 498L360 498M365 494L370 497M370 497L369 498M392 489L388 498M335 479L327 478M335 479L336 477M336 477L336 476M327 478L327 476M336 486L335 479M345 478L336 477M239 487L247 489M239 487L238 495M238 495L242 498M248 494L244 498M248 494L247 489M243 498L244 498M236 495L238 495M238 486L239 487M245 498L244 498M255 496L248 494M253 484L254 479M253 484L249 486M254 479L246 477M249 486L244 480M246 477L244 480M255 478L254 479M259 488L253 484M247 489L249 486M246 476L246 477M239 479L244 480M336 486L329 489M334 496L329 494M329 489L329 494M311 477L315 476M311 477L311 476M723 476L722 480M717 476L716 479M722 480L719 480M719 480L716 479M709 476L716 479M709 487L711 487M716 479L711 487M716 479L716 479M745 490L742 491M742 498L739 494M739 494L742 491M609 489L610 488M615 478L615 478M610 488L615 478M643 476L643 477M651 476L651 479M651 479L643 477M659 479L656 480M656 480L651 479M651 479L651 479M637 480L636 476M637 480L638 480M643 477L638 480M665 483L660 490M656 480L656 486M656 486L660 490M661 494L660 494M660 490L660 494M651 498L651 495M660 494L651 495M866 477L857 479M866 477L862 486M860 485L862 486M860 485L857 480M857 480L857 479M858 476L857 479M868 476L866 477M857 497L863 490M863 490L864 488M864 488L862 486M852 490L860 485M849 480L857 480M872 496L864 494M872 496L870 498M864 494L865 498M863 490L864 494M864 488L866 487M866 487L873 494M873 494L872 496M873 494L877 494M877 494L882 496M866 487L870 483M877 494L876 485M870 483L876 485M870 483L869 476M971 498L971 498M981 498L976 493M971 498L972 495M972 495L975 493M975 493L976 493M985 490L976 493M975 488L975 493M912 498L912 498M916 492L920 498M916 492L923 494M923 494L925 498M915 491L912 492M915 491L916 492M912 494L912 492M918 487L915 491M923 488L923 494M892 493L894 486M885 493L886 485M886 485L892 483M892 483L894 486M512 496L513 496M512 496L508 497M508 497L507 498M513 496L513 498M507 488L512 496M517 486L515 495M513 496L515 495M528 493L528 489M528 493L529 495M529 495L538 493M528 489L536 487M536 487L538 493M527 487L528 489M515 495L522 496M522 496L528 493M539 494L538 493M530 498L529 495M538 485L536 487M484 482L488 483M490 476L488 483M503 476L499 477M499 477L497 476M384 496L377 497M384 496L382 488M375 489L382 488M375 489L375 493M375 493L377 497M387 498L384 496M377 498L377 497M387 485L382 488M375 488L375 489M370 497L375 493M311 477L309 480M303 476L304 479M309 480L304 479M293 477L297 482M304 479L299 482M297 482L299 482M716 495L718 495M716 495L714 491M714 491L719 485M718 495L723 492M723 492L719 485M715 496L716 495M720 498L718 495M711 487L714 491M719 480L719 485M732 476L732 476M722 480L726 482M726 482L732 476M742 480L737 482M732 476L737 482M742 491L737 483M737 482L737 483M629 480L627 476M629 480L626 484M623 476L618 480M626 484L622 486M618 480L621 486M622 486L621 486M621 486L621 486M637 480L629 480M635 491L638 483M635 491L626 484M638 480L638 483M615 478L618 480M626 493L622 486M610 488L621 486M618 493L621 486M654 487L649 494M654 487L649 484M646 487L649 484M646 487L648 493M648 493L649 494M656 486L654 487M651 495L649 494M651 479L649 484M638 483L646 487M640 496L648 493M886 485L882 481M876 485L880 482M882 481L880 482M893 478L892 483M893 478L884 477M882 481L884 477M893 478L894 476M884 477L884 476M965 485L964 488M972 495L967 492M964 488L967 492M902 481L899 486M902 481L907 481M908 486L901 490M908 486L907 481M901 490L899 486M897 476L902 481M894 486L899 486M908 481L907 481M901 494L901 490M912 492L908 486M522 496L522 498M491 487L498 482M491 487L491 493M495 496L491 493M495 496L501 493M498 482L504 488M504 488L501 493M499 477L498 482M488 483L491 487M490 493L491 493M495 498L495 496M508 497L501 493M504 488L504 488M274 491L279 494M279 494L278 498M326 498L325 498M325 498L325 498M329 494L325 497M325 498L325 497M307 498L307 498M307 498L304 498M304 498L304 498M327 478L324 479M329 489L325 487M325 487L324 479M320 476L321 479M324 479L321 479M310 493L315 495M310 493L309 490M309 490L311 486M315 495L320 492M311 486L315 485M315 485L320 490M320 492L320 490M316 498L315 495M307 498L310 493M304 489L299 492M304 489L309 490M299 492L304 498M309 480L311 486M304 489L299 482M325 497L320 492M321 479L315 485M325 487L320 490M292 486L285 492M292 486L294 486M294 486L297 492M285 492L285 493M296 493L297 492M296 493L286 494M285 493L286 494M283 483L285 492M284 481L292 486M297 482L294 486M299 492L297 492M279 494L285 493M296 498L296 493M288 498L286 494M727 484L734 485M727 484L726 491M734 485L734 494M726 491L732 495M732 495L734 494M726 482L727 484M737 483L734 485M723 492L726 491M739 494L734 494M731 498L732 495M877 476L877 478M871 476L877 478M880 482L877 478M941 494L939 497M941 494L940 487M939 497L929 496M937 485L940 487M937 485L929 490M929 490L929 496M943 495L941 494M943 495L945 498M939 498L939 497M928 498L929 496M949 479L945 486M936 481L937 485M945 486L940 487M926 488L929 490M955 481L954 488M964 488L957 490M957 490L954 488M945 486L952 489M954 488L952 489M943 495L950 493M952 489L950 493M960 497L958 496M960 497L960 498M958 496L954 498M967 492L960 497M957 490L958 496M971 498L970 498M950 493L952 498M152 331L145 333M152 331L152 322M152 322L145 317M152 331L157 336M157 336L154 342M164 324L168 323M164 324L161 335M168 323L171 337M161 335L166 338M166 338L171 337M171 315L171 321M160 315L158 320M158 320L164 324M171 321L168 323M152 322L158 320M157 336L161 335M166 342L166 338M253 315L253 320M255 320L253 320M212 317L207 315M212 317L215 327M215 327L213 331M213 331L207 332M204 331L207 332M204 331L202 324M207 315L202 324M181 315L181 316M181 316L190 323M190 323L192 322M192 322L192 315M216 316L216 315M216 316L227 316M227 316L228 316M228 316L227 315M212 317L216 316M215 327L225 324M225 324L227 316M211 342L207 341M207 341L206 342M171 321L176 324M171 337L172 337M172 337L176 324M175 342L176 339M172 337L176 339M181 316L177 324M176 324L177 324M251 333L255 334M251 333L247 339M247 339L249 342M236 340L236 340M236 340L229 334M236 340L236 342M220 342L219 339M229 334L219 338M219 339L219 338M247 339L236 340M215 342L219 339M213 331L219 338M225 324L229 331M229 331L229 334M207 332L207 341M207 315L207 315M202 324L192 322M231 316L237 325M231 316L231 316M231 316L245 317M237 325L242 326M242 326L248 324M245 317L249 322M249 322L248 324M229 331L237 325M228 316L231 316M231 315L231 316M244 315L245 317M236 340L242 326M251 333L248 324M253 320L249 322M181 337L183 328M181 337L188 340M188 340L195 338M189 325L183 328M189 325L196 336M196 336L195 338M176 339L181 337M177 324L183 328M188 342L188 340M198 342L195 338M190 323L189 325M204 331L196 336M926 342L926 341M926 341L935 342M935 342L935 342M918 315L918 316M918 316L909 319M907 315L909 319M882 315L886 317M890 315L886 317M884 329L881 342M884 329L880 329M880 342L881 342M886 328L886 317M886 328L884 329M983 342L978 337M970 342L978 337M955 342L956 340M956 340L963 337M969 342L963 337M892 342L892 342M886 328L892 331M892 342L892 331M1012 340L1015 337M892 342L893 342M895 315L899 322M892 331L895 330M899 322L895 330M909 319L908 321M899 322L908 321M908 325L902 332M908 325L915 331M902 332L907 340M915 336L915 331M915 336L909 341M909 341L907 340M895 330L902 332M908 321L908 325M918 316L923 322M923 322L915 331M894 342L907 340M925 338L915 336M925 338L931 329M923 322L924 322M924 322L931 329M926 341L925 338M909 342L909 341M963 337L963 332M963 332L967 328M978 337L978 337M967 328L975 328M975 328L978 337M935 342L940 336M931 329L931 329M931 329L935 330M935 330L940 336M941 342L943 337M956 340L948 336M948 336L943 337M943 337L940 336M935 318L933 315M935 318L943 322M943 322L945 321M945 321L942 315M924 322L931 315M931 329L935 318M935 330L943 322M1012 340L1008 339M1015 330L1009 329M1009 329L1008 331M1008 331L1008 339M1005 342L1007 339M1007 339L1008 339M1010 320L1011 318M1010 320L1009 321M1009 321L997 321M1011 318L1011 315M997 321L997 315M1015 324L1010 320M1015 317L1011 318M1009 329L1009 321M983 315L981 317M978 315L980 317M980 317L981 317M968 319L967 328M968 319L975 315M975 328L978 325M978 325L980 317M968 319L964 317M964 317L963 315M949 327L947 321M949 327L960 329M947 321L952 317M960 329L956 319M956 319L952 317M948 336L949 327M945 321L947 321M963 332L960 329M952 315L952 317M964 317L956 319M1006 339L997 327M1006 339L990 337M990 337L989 334M997 327L994 324M989 334L989 334M989 334L994 324M994 324L994 324M1008 331L997 327M1007 339L1006 339M990 342L990 337M978 337L989 334M997 321L994 324M978 325L989 334M981 317L994 324M707 192L715 209L715 211M668 192L654 201L643 211M756 170L738 173L724 187L707 192M671 140L671 142L667 164M756 170L759 157L755 144L756 140M668 192L669 183L669 173L667 164M592 211L598 192L590 163L590 140M532 147L517 171L501 195L496 211M532 147L539 175L564 197L565 211M1013 197L1011 211M1065 175L1061 173L1044 155M1013 197L1008 188L1010 178L1008 168M1044 155L1057 140M776 202L804 200L828 191L849 173M425 140L418 141L405 152M405 152L415 181L404 211L404 211M310 211L325 201M325 197L325 201M333 211L325 201M1008 168L1002 164L996 163L989 163M982 140L989 163M922 211L931 200L943 187L950 171M989 163L976 166L962 165L950 171M932 140L931 141L941 161M849 173L845 155L849 140M950 171L941 161M343 155L342 147L337 141L336 140M167 229L159 237L155 248L145 255M167 229L172 236L176 243L180 251M145 255L149 260M149 260L152 263M152 263L162 260L172 257L180 251M162 360L165 349M165 349L171 347L174 341L180 339M180 339L185 348L191 357L200 364M167 392L168 400L167 407L164 414M167 392L172 387L181 388L187 383M180 412L164 414M180 412L184 405L188 398L191 390M191 390L187 383M207 420L208 415L206 409L205 402M210 400L205 402M162 360L148 367M154 388L152 385M188 377L187 383M99 183L100 176L101 175M89 182L83 181L77 180L71 176M71 176L71 175M71 177L71 176M106 191L99 183M133 190L133 181M131 175L133 181M146 366L148 367M146 366L146 358L145 351L142 344M142 344L150 334M182 328L180 339M182 328L171 329L160 328L149 326M124 420L131 419L139 418L146 415M151 419L146 415M124 420L119 409M145 407L146 415M119 409L131 396M154 388L153 395L149 401L145 407M152 385L144 386L138 389L131 392M131 396L131 392M210 322L208 322M208 322L208 322M208 322L206 336L203 349L204 362M210 363L204 362M210 286L206 291M186 321L194 323L201 322L208 322M186 321L182 328M191 390L194 395L201 397L205 402M186 321L182 311M206 291L200 292L194 295L187 294M182 311L187 294M204 267L194 252M178 280L174 278M181 252L194 252M210 271L204 267M187 294L178 280M152 263L157 268L161 273L163 280M180 251L181 252M163 280L174 278M164 414L159 420M151 419L154 420M89 182L87 188L85 194L84 201M102 208L96 206L90 203L84 201M84 201L76 204M167 229L167 229M145 255L133 251M133 251L133 243L135 235L136 227M167 229L160 223L151 222L142 219M136 227L142 219M167 229L172 223M137 206L142 219M137 206L138 198M191 222L198 215M198 215L206 215L210 216M202 240L210 238M172 215L179 206L188 199L194 190M172 223L178 221L184 220L191 222M197 193L195 201L199 208L198 215M194 252L202 240M210 194L197 193M106 317L106 323L104 329L105 335M105 335L103 335M96 289L95 296M105 346L107 338M107 338L105 335M130 390L123 387L116 387L113 385M130 390L134 383L133 374L136 367M130 365L124 370L115 370L111 374M130 365L136 367M131 392L130 390M146 366L136 367M107 338L114 338M119 342L114 338M142 344L134 345L127 343L119 342M102 212L98 223M102 212L110 211L118 211L127 211M127 211L125 218L119 221L117 227M98 223L100 229M100 229L104 232M104 232L117 227M102 208L102 212M79 218L81 219L90 220L98 223M133 190L138 196M137 206L127 211M138 196L138 198M136 227L130 229L123 227L117 227M113 251L110 244L107 238L104 232M113 251L122 254M167 203L167 194L172 187L173 178M138 196L151 194L161 185L171 178M171 178L173 178M171 178L168 175M194 189L194 190M194 189L188 186L182 179L175 178M175 178L173 178M194 189L208 177M175 178L176 175M91 280L91 277L90 269L92 261M93 286L96 288M96 288L104 278M104 278L105 272L105 265L104 259M87 260L92 261M124 280L118 279L111 280L104 278M130 289L125 300M125 300L129 306L134 312L138 319M159 304L156 291M159 304L154 309L149 314L146 321M130 287L130 289M123 300L125 300M163 280L156 291M114 338L120 329L128 323L138 319M182 311L174 310L166 308L159 304M149 326L146 321" fill="none" stroke="#a8cc48" stroke-opacity="0.62" stroke-width="6"/>
<path d="M453 225L457 213L458 212M453 225L443 227M443 227L436 219L432 212M1004 387L1013 385L1018 376L1027 374M1027 374L1031 375M1008 407L1017 411L1019 411M128 362L132 368L141 377L145 389M145 389L143 400L134 405M374 236L365 236L356 238L347 237M374 236L375 234M375 234L368 215L366 212M347 237L342 234L337 229L331 227M331 227L326 214L325 212M388 267L394 270M387 212L387 212L381 223L375 234M443 227L442 235L438 242L436 249M394 270L407 261L422 256L436 249M1003 422L1004 414M145 389L156 391L167 391L177 393M181 422L180 416L186 402M177 393L186 402M232 422L231 420L234 409M186 402L203 401L218 407L234 409M299 422L300 420M301 422L300 420M394 270L401 285M436 249L449 257L459 268L470 278M470 278L463 286L462 297L455 305M455 305L449 307L442 304L436 308M401 285L410 296L423 302L436 308M347 237L338 243L335 253L327 260M1044 212L1038 218L1031 224M1055 262L1052 249L1034 241L1031 224M1031 224L1031 224M1031 224L1010 235L1004 260L982 270M982 270L973 263L968 254L963 244M152 320L142 329L133 337L131 340M152 320L169 326L184 337L201 342M201 342L191 358L188 378L177 393M152 320L152 312M152 312L136 306M177 233L170 240L163 248L155 255M177 233L159 222L154 212M155 255L144 255L144 255M279 400L273 381L268 361L270 341M279 400L267 398L254 398L242 401M242 401L240 395L238 388L237 381M237 381L243 366L251 352L260 338M260 338L270 341M234 409L242 401M300 420L293 405M201 342L202 342M202 342L210 359L224 370L237 381M360 351L356 342L350 334L345 325M360 351L349 358L344 371L333 378M333 378L327 379L320 379L314 379M345 325L341 321L334 319L331 313M305 331L310 325L312 318L317 313M331 313L317 313M293 405L299 395L308 389L314 379M270 341L282 338L293 331L305 331M401 285L398 296L394 306L388 316M361 284L351 294L338 301L331 313M352 394L341 405L336 418L335 422M352 394L360 398L369 398L377 398M375 410L367 419L362 422M333 378L339 384L346 388L352 394M379 422L375 410M455 305L459 311L464 316L469 322M445 365L443 364M443 364L434 360L430 351L421 347M421 347L412 347L405 349L397 353M360 351L369 357L379 359L388 361M388 361L397 353M762 422L768 419M768 422L768 419M453 225L462 227L471 227L480 230M480 230L486 219L499 212L499 212M723 212L712 220M712 212L712 220M445 365L455 371L464 381L476 385M469 322L483 330M483 330L490 337L494 347L503 353M503 353L497 367L488 377L476 385M512 422L508 416M456 422L456 420M456 420L464 414L467 404L476 398M508 416L499 407L487 404L476 398M331 227L321 232L310 232L301 239M327 260L321 266L312 268L305 272M305 272L305 261L299 250L301 239M1053 268L1042 275M1042 275L1039 294L1039 312L1042 322M1027 374L1030 360L1025 344L1031 330M1040 330L1031 330M802 278L809 278L815 280L821 280M802 278L789 267M789 228L798 217M821 280L827 265L820 249L824 234M184 286L193 277L206 272L213 261M184 286L198 293L209 304L221 313M213 261L222 271M222 271L225 286L219 299L221 313M202 342L210 334L214 325L224 320M260 338L254 332L248 324L240 320M240 320L224 320M184 286L177 286L171 287L165 288M221 313L224 320M213 261L212 245M177 233L185 230M185 230L193 236L203 239L212 245M185 230L190 216L191 212M425 388L413 381L401 374L389 368M425 410L416 413M416 413L405 405L392 402L382 394M382 394L383 385L386 377L389 368M443 364L437 372L433 381L425 388M388 361L389 368M456 420L446 416L434 417L425 410M476 398L476 385M412 422L416 413M377 398L382 394M707 291L694 302L685 315L677 328M714 337L715 331L718 326L722 320M677 328L678 330M796 212L798 217M789 228L767 231L747 240L727 249M712 220L712 221M712 221L714 232L722 239L727 249M753 293L751 292M753 293L765 285L777 276L789 267M751 292L741 284L736 272L725 266M727 249L725 266M751 292L744 304L731 311L722 320M707 291L708 284L713 278L716 271M716 271L725 266M306 296L304 290L304 283L303 276M306 296L289 299L272 304L255 300M303 276L291 269L277 265L263 260M255 300L256 291L254 283L252 275M263 260L261 266L256 270L252 275M317 313L312 308L311 301L306 296M240 320L244 312L252 308L255 300M222 271L232 271L242 276L252 275M866 242L872 253M866 242L867 234L870 226L873 218M872 253L878 256L882 260L888 263M911 212L911 212L909 225M909 225L905 237L906 249L906 261M906 261L888 263M834 290L821 280M834 290L837 290M837 290L851 280L861 266L872 253M824 234L837 241L852 239L866 242M867 212L873 218M952 231L937 234L923 232L909 225M982 270L988 286M915 262L924 276L923 295L936 308M936 308L954 303L972 297L988 286M1042 275L1027 283L1008 282L993 291M1031 330L1029 330M1029 330L1017 321L1004 313L996 301M996 301L993 291M988 286L993 291M257 233L265 227L268 217L273 212M257 233L247 230L238 232L228 235M301 239L292 229L280 223L275 212M263 260L264 250L257 242L257 233M212 245L217 241L222 238L228 235M802 278L793 293L796 312L787 327M834 290L830 302L821 311L813 320M813 320L804 321L795 323L787 327M775 399L779 397M775 399L769 397L763 394L757 394M779 397L783 390L788 385L793 380M757 394L751 388L747 382L739 378M739 378L737 366L740 354L742 342M768 419L772 413L774 406L775 399M795 422L790 418L779 397M702 420L703 422M702 420L723 417L735 396L757 394M702 420L698 414L694 408L688 403M712 375L704 384L697 394L688 403M712 375L714 363L711 351L705 340M714 337L723 338L733 339L742 342M753 293L757 307L763 318L774 327M787 327L781 330M503 353L504 353M508 416L518 401L533 389L540 371M504 353L515 361L527 367L540 371M483 330L494 318L503 304L512 291M535 308L522 321L518 341L504 353M535 308L531 292M531 292L524 292L518 291L512 291M470 278L479 274M512 291L500 287L488 283L479 274M480 230L482 240L484 249L484 259M479 274L484 259M688 403L679 397L670 396L660 395M678 330L671 347L665 365L658 382M660 395L658 382M677 328L667 324L659 316L651 309M651 309L643 317L632 318L625 326M625 326L624 334L619 341L616 349M658 382L646 369L631 359L616 349M659 225L644 227L629 231L614 228M659 225L662 229M662 229L660 244L654 257L649 271M649 271L647 273M654 212L655 214L659 225M600 218L602 212M600 218L614 228M712 221L695 225L679 230L662 229M716 271L694 278L671 266L649 271M888 263L888 281L883 299L885 318M936 308L927 324M837 290L853 299L862 313L871 327M885 318L871 327M884 392L891 400L898 408L908 412M884 392L895 385L899 373L909 365M908 412L916 394L929 379L939 362M952 371L941 360M952 371L967 374L983 375L998 381M987 324L971 334L955 345L941 358M987 324L994 335L1000 347L1000 361M941 360L941 358M998 381L1000 374L1001 368L1000 361M946 422L944 413L956 392L952 371M910 422L908 412M939 362L941 360M1004 387L998 381M996 301L995 309L988 315L987 324M927 324L929 336L937 346L941 358M1029 330L1022 343L1008 349L1000 361M909 365L892 363L877 354L864 342M864 342L871 327M840 400L825 395L812 387L798 380M840 400L847 397L855 396L862 393M798 380L820 374L835 357L853 345M866 389L862 393M866 389L868 374L862 360L862 345M862 345L853 345M793 380L798 380M813 320L826 328L842 332L853 345M884 392L878 390L872 390L866 389M864 342L862 345M539 279L533 268L535 256L531 245M532 241L531 245M532 241L544 240L555 233L566 227M582 233L566 227M582 233L584 246L589 259L588 273M588 273L588 273M531 292L539 279M484 259L501 258L514 245L531 245M588 306L588 295L591 284L588 273M588 306L583 315L571 319L566 329M535 308L548 312L556 322L566 329M510 212L512 217L524 228L532 241M557 212L558 215L566 227M600 218L595 223L587 226L582 233M637 271L621 266L605 272L588 273M588 306L601 312L613 319L625 326M566 329L569 338L571 348L570 359M616 349L610 351L605 357L599 359M570 359L580 361L589 361L599 359M631 422L630 422M660 395L651 405L641 414L630 421M630 422L630 421M599 359L602 368L606 377L610 386M630 421L626 408L616 398L610 386M556 373L559 372M575 395L582 408L586 422M570 359L559 372M610 386L598 389L586 391L575 395M872 422L870 423M880 433L870 423M880 441L879 446M880 446L879 446M433 422L424 436M424 436L420 429L412 425L411 422M255 422L255 422M879 446L872 453M872 453L873 459M880 463L873 459M856 441L862 445L866 450L872 453M856 441L849 445M851 470L849 462L852 453L849 445M851 470L860 471M860 471L873 459M436 422L441 424M446 422L441 424M422 441L424 436M422 441L437 450M441 424L441 431L442 437L445 442M445 442L437 450M456 476L456 475L452 467L447 461M447 461L437 455M437 455L432 463M437 476L433 470L432 463M422 441L416 443L410 446L403 446M403 446L405 453L410 458L413 465M437 450L437 455M432 463L425 464L419 462L413 465M407 422L406 423L400 426L397 432M403 446L401 445M401 445L399 443M399 443L397 432M366 422L375 429M375 429L392 429M389 422L392 429M365 452L371 447M365 452L355 438M355 438L355 432M355 432L366 422M371 447L371 441L372 435L375 429M371 447L380 446L390 442L399 443M397 432L392 429M355 432L349 427M349 427L349 422M349 427L343 429L337 429L330 430M329 422L327 427M327 427L330 430M355 438L339 443M330 430L339 443M255 422L265 432M282 425L276 426L271 430L265 432M282 425L282 422M832 422L832 429L829 437L831 444M816 447L816 439L815 430L813 422M816 447L828 447M831 444L828 447M813 448L816 447M813 448L808 443L803 437L796 434M801 422L796 434M780 449L791 462M780 449L783 443L789 439L794 435M813 448L804 462M804 462L791 462M794 435L796 434M841 476L843 473M843 473L832 463M832 463L826 469L819 472L813 475M813 476L813 475M851 470L843 473M862 476L860 471M849 445L843 447L837 443L831 444M828 447L832 463M804 462L813 475M466 476L471 471M447 461L452 456L459 455L465 452M471 471L467 465L465 459L465 452M445 442L452 441L458 442L464 444M465 452L464 444M462 422L463 424L466 432L468 440M468 440L464 444M602 476L600 474M596 471L590 476M596 471L596 471M596 471L600 474M767 424L766 422M767 424L776 422M765 446L766 438L765 431L767 424M765 446L755 448M755 448L749 441L743 434L739 426M739 426L744 422L745 422M780 449L766 446M766 446L765 446M794 435L788 431L785 425L779 422M318 459L323 463L328 467L333 470M318 459L322 451M322 451L337 449M337 449L344 464M344 464L333 470M365 452L363 461M363 461L357 467M339 443L337 449M357 467L344 464M306 422L307 427M282 425L295 431M295 431L307 427M327 427L317 431M307 427L317 431M322 451L317 438M317 431L317 438M275 476L275 475M255 468L257 465M275 475L269 471L263 468L257 465M255 455L256 455M257 465L256 455M265 432L263 446M263 446L256 455M329 476L329 476L333 470M357 467L357 476M865 422L865 423M865 423L859 429M859 429L852 427L846 425L842 422M870 423L865 423M856 441L859 429M790 476L787 471M778 476L787 471M791 462L787 471M767 476L768 475M768 475L773 476M766 446L765 456L766 466L768 475M581 425L590 428M581 425L580 422M590 428L592 422M606 422L603 425L593 431M593 431L590 428M487 422L494 425M482 422L480 428L473 433L469 440M494 425L490 432L490 439L489 446M469 440L476 443L483 444L489 446M505 423L505 422M505 423L494 425M468 440L469 440M521 422L521 423M521 423L523 422M505 423L508 424M521 423L518 426M508 424L518 426M581 425L567 433M567 433L557 422M539 422L540 428L542 434L543 440M555 422L553 428L548 434L543 440M600 474L614 474M614 474L616 476M731 422L732 425M707 422L709 431M709 431L717 430L725 428L732 425M739 426L733 426M733 426L732 425M363 461L370 462L376 463L380 467M401 445L391 458M380 467L391 458M410 473L412 476M410 473L402 476M413 465L410 473M391 458L394 464L397 471L401 476M380 467L383 473L383 476M275 475L283 471M283 471L289 475L290 476M318 459L308 463M308 463L310 469L307 476L307 476M491 476L490 473L483 469M507 476L508 466M483 469L488 464L492 459L495 453M508 466L501 453M495 453L500 453M501 453L500 453M471 471L483 469M529 476L532 469M523 466L532 469M523 466L508 466M489 446L495 453M523 466L521 459L513 457L511 450M511 450L501 453M508 424L506 434L501 443L500 453M518 426L525 441M525 441L511 450M593 431L595 433M595 433L594 437M594 437L590 444L582 446L577 452M567 433L562 445M562 445L577 452M596 471L580 464M594 437L593 446L597 454L600 462M600 462L596 471M577 452L580 464M570 476L570 470M570 470L580 464M536 447L534 453L537 459L535 465M536 447L543 443M543 443L549 444L555 445L561 445M561 445L560 452L560 459L558 465M535 465L552 469M552 469L558 465M532 469L535 465M525 441L536 447M543 440L543 443M562 445L561 445M570 470L558 465M551 476L552 469M713 476L715 471M732 476L730 470L724 466M715 471L723 466M723 466L724 466M689 476L687 474L689 466M689 466L697 459M697 459L703 462L708 468L715 471M697 459L697 459M723 466L721 457L714 450L710 442M697 459L703 455L704 447L710 442M709 431L708 436M733 426L727 442M727 442L710 441M708 436L710 441M670 465L669 454M670 465L676 466L683 464L689 466M697 459L691 454L686 448L683 442M669 454L672 448L678 445L683 442M614 474L624 468M635 476L624 468M600 462L607 459L614 454L621 452M624 468L621 452M734 452L727 463M734 452L741 452L747 448L753 449M727 463L735 465L742 467L750 469M753 449L753 456L749 462L750 469M727 442L734 452M724 466L727 463M710 442L710 441M755 448L753 449M751 476L750 469M278 452L284 468M278 452L295 447M284 468L289 463L295 461L301 458M295 447L300 454M300 454L301 458M263 446L278 452M283 471L284 468M295 431L295 447M308 463L301 458M317 438L312 444L306 450L300 454M644 464L640 476M644 464L653 464L661 468L669 466M669 466L668 476M670 465L669 466M663 426L664 422M663 426L671 428L677 434L683 437M689 422L685 436M685 436L683 437M647 422L649 427M649 427L658 430M658 430L663 426M669 454L656 445M683 442L683 437M656 445L658 430M708 436L700 436L693 437L685 436M644 459L636 456L629 453L622 450M644 459L650 448M650 448L644 444L637 441L632 435M622 450L622 440M622 440L627 435M627 435L632 435M621 452L622 450M644 464L644 459M656 445L650 448M649 427L644 431L637 431L632 435M595 433L603 439L613 440L622 440M624 422L624 422L628 429L627 435M158 422L158 423M158 423L162 426M162 426L174 426M174 426L173 422M161 435L155 437M161 435L162 426M155 437L152 436M158 423L150 428M152 436L150 428M163 489L163 492M163 489L173 490M173 490L177 493M255 436L253 439M253 439L255 442M255 462L253 455M253 455L253 451M255 450L253 451M255 497L254 498M254 498L254 498M253 455L241 458M239 453L245 447M239 453L239 453M253 451L245 447M239 453L241 458M139 470L144 463M137 456L140 456M140 456L141 456M144 463L141 456M136 441L136 441M140 456L142 444M136 441L142 444M150 449L147 444M150 449L150 451M150 451L141 456M142 444L147 444M150 449L157 446M157 446L155 437M152 436L150 438M147 444L150 438M195 422L205 426M205 426L206 426M206 426L207 422M193 422L193 422M193 422L193 422M219 423L218 422M219 423L214 427M214 427L206 426M163 489L162 489M173 490L170 480M170 480L162 482M162 489L162 482M173 468L157 477M173 468L175 474M175 474L170 480M162 482L157 477M139 478L149 479M154 466L144 463M154 466L154 476M149 479L154 476M225 447L218 446M225 447L229 441M218 446L214 437M229 441L226 435M226 435L215 436M215 436L214 437M215 449L218 446M215 449L203 448M203 448L202 447M202 447L206 439M206 439L214 437M229 427L219 423M229 427L226 435M214 427L215 436M203 434L206 439M203 434L205 426M254 498L250 494M250 494L246 497M202 466L205 458M202 466L190 463M191 458L190 463M191 458L202 454M202 454L205 458M192 445L202 447M192 445L186 451M203 448L202 454M186 451L191 458M215 449L216 461M216 461L205 458M203 471L214 472M203 471L200 474M215 478L214 472M215 478L203 483M200 474L203 483M193 422L191 424M180 422L180 425M191 424L180 425M203 434L193 433M191 424L193 433M192 445L190 438M190 438L193 433M174 426L176 427M176 427L180 425M139 434L136 435M139 434L146 427M146 427L145 425M145 425L135 426M136 441L136 441M150 438L139 434M150 428L146 427M144 422L145 425M255 427L253 425M253 425L254 422M155 491L150 487M150 487L147 490M162 489L157 491M149 479L150 487M154 476L157 477M250 494L249 492M249 492L241 493M237 497L241 493M217 462L218 465M217 462L226 451M218 465L222 466M222 466L229 464M229 464L232 454M226 451L232 454M216 461L217 462M203 471L202 466M214 472L218 465M225 447L226 451M220 483L228 477M220 483L215 478M228 477L222 466M239 453L233 441M233 441L229 441M239 453L232 454M228 477L233 476M229 464L236 468M233 476L236 468M241 458L242 466M242 466L236 468M192 494L190 487M203 486L190 487M203 486L204 488M204 488L201 494M164 451L169 456M164 451L156 458M169 456L169 464M169 464L155 464M156 458L155 464M157 446L164 448M164 448L164 451M150 451L156 458M154 466L155 464M173 468L173 468M173 468L169 464M189 464L190 463M189 464L179 463M186 451L186 451M179 463L180 456M186 451L180 456M173 468L179 463M169 456L174 453M180 456L174 453M190 472L193 474M190 472L180 476M193 474L190 487M180 476L183 487M183 487L190 487M189 464L190 472M200 474L193 474M175 474L180 476M203 483L203 486M190 487L190 487M177 493L183 487M181 437L176 427M181 437L178 444M176 427L167 439M178 444L176 444M176 444L168 443M167 439L168 443M190 438L181 437M176 427L176 427M186 451L178 444M161 435L167 439M174 453L176 444M164 448L168 443M253 439L246 439M253 425L247 428M247 428L246 439M233 441L240 439M245 447L245 441M240 439L245 441M246 439L245 441M232 422L231 426M231 426L237 429M243 422L244 427M237 429L244 427M229 427L231 426M240 439L237 429M247 428L244 427M227 496L226 491M226 491L220 487M220 487L211 492M211 492L211 495M241 493L235 486M235 486L226 491M220 483L220 487M235 486L237 482M233 476L237 482M204 488L211 492M255 465L255 465M242 466L248 468M248 468L255 465M255 466L255 465M245 481L248 476M245 481L249 488M248 476L255 478M255 486L249 488M237 482L245 481M248 468L248 476M249 492L249 488M926 476L925 475M925 475L915 476M910 433L904 439M910 433L913 434M913 434L917 447M904 439L905 445M905 445L917 447M1006 446L1011 445M1006 446L1007 458M1007 458L1008 457M1007 459L1007 458M1007 459L1008 460M929 422L926 425M919 423L926 425M919 423L918 422M886 428L883 435M886 428L894 427M896 432L890 441M896 432L895 428M890 441L883 435M894 427L895 428M880 424L886 428M880 436L883 435M894 422L894 427M910 433L907 426M904 439L896 432M907 426L895 428M913 476L910 470M900 476L903 468M903 468L910 470M925 475L925 467M925 467L910 470M910 470L910 470M887 476L887 473M880 468L887 473M987 476L986 474M983 476L986 474M909 423L908 422M909 423L910 422M907 426L909 423M913 434L918 431M918 431L919 423M917 447L908 457M917 447L917 447M915 462L908 457M915 462L923 457M923 457L917 447M917 447L917 447M918 431L925 436M925 436L923 442M917 447L923 442M901 466L905 457M901 466L896 465M896 465L893 460M893 460L902 452M902 452L905 457M903 468L901 466M915 462L910 470M908 457L905 457M887 473L896 465M905 445L902 448M902 448L902 452M888 455L883 456M888 455L892 447M890 444L892 447M890 444L880 444M883 456L880 454M880 463L883 456M893 460L888 455M902 448L892 447M890 441L890 444M998 476L997 471M1006 470L1004 467M997 471L1004 467M1007 459L1005 459M1004 467L1005 459M986 474L986 467M971 476L971 472M971 472L975 469M975 469L986 467M997 471L988 465M986 467L988 465M995 456L988 464M995 456L1005 459M988 465L988 464M1006 446L1001 443M995 456L994 450M994 450L1001 443M1013 433L1005 432M1005 432L1001 440M1001 443L1001 440M975 469L974 456M988 464L979 455M979 455L974 456M994 450L984 445M979 455L984 445M926 425L930 432M925 436L930 433M930 432L930 433M939 422L939 422M930 432L939 422M1005 432L1005 432M1005 432L1011 422M994 437L1001 440M994 437L992 429M1005 432L999 424M992 429L999 424M1001 422L999 424M999 424L999 424M999 424L997 422M957 476L956 476M957 476L957 476M932 476L939 469M925 467L926 461M939 469L926 461M923 457L926 459M935 447L923 442M935 447L933 454M933 454L926 459M926 461L926 459M943 436L938 439M943 436L951 441M946 450L951 441M946 450L937 445M937 445L938 439M930 433L938 439M939 422L945 430M945 430L943 436M935 447L937 445M957 448L951 441M957 448L954 455M951 441L951 441M946 450L947 453M947 453L954 455M933 454L942 458M947 453L942 458M939 469L944 468M942 458L944 468M948 476L945 469M945 469L944 468M954 455L949 466M954 455L964 460M949 466L961 466M964 460L964 465M964 465L961 466M954 455L954 455M945 469L949 466M969 455L967 446M969 455L964 460M967 446L957 448M957 476L961 466M971 472L964 465M969 455L974 456M967 446L967 443M951 441L960 434M960 434L965 437M967 443L965 437M945 430L956 426M960 434L958 427M956 426L958 427M956 426L955 422M984 445L984 444M967 443L975 443M975 443L984 444M994 437L985 442M985 442L984 444M975 443L977 432M985 442L982 431M982 431L977 432M965 437L971 432M971 432L977 432M992 429L985 429M985 429L984 422M982 431L983 430M985 429L983 430M971 427L973 423M971 427L962 424M973 423L973 422M964 422L962 424M971 432L971 427M983 430L973 423M958 427L962 424M1004 476L1006 478M1006 479L1006 478M1004 491L998 494M1005 486L999 485M996 492L998 494M996 492L997 486M997 486L999 485M999 498L998 494M1006 478L998 480M998 480L999 485M794 477L794 476M794 477L789 476M998 480L993 476M993 476L994 476M988 492L987 498M988 492L996 492M274 489L272 485M274 489L283 483M272 485L272 482M283 483L284 481M284 481L275 478M272 482L275 478M284 481L284 481M284 481L287 476M287 476L287 476M275 478L275 476M755 498L755 495M755 495L749 495M749 495L747 498M712 498L712 497M703 498L704 495M712 497L704 495M783 484L775 476M783 484L784 476M775 476L776 476M795 478L794 482M795 478L794 477M783 484L787 485M783 484L783 484M794 482L787 485M779 487L783 484M779 487L780 493M787 485L789 493M780 493L784 496M789 493L784 496M804 476L795 478M804 476L804 476M804 476L805 483M794 482L797 487M805 483L797 487M790 493L789 493M790 493L797 490M797 490L797 487M828 498L824 494M824 494L818 497M818 497L817 498M966 476L964 477M963 476L963 478M964 477L963 478M988 492L986 490M997 486L991 483M986 490L991 483M993 476L991 479M991 483L991 479M985 476L984 478M977 476L978 477M978 477L981 478M984 478L981 478M991 479L984 478M964 477L975 480M975 480L978 477M973 484L975 480M973 484L975 488M975 488L982 484M982 484L981 478M986 490L985 490M985 490L982 484M507 476L506 477M506 477L503 476M503 476L503 476M504 488L507 488M504 488L506 478M507 488L514 483M506 478L514 483M518 476L518 476M506 477L506 478M514 483L515 483M518 476L515 483M472 476L470 477M472 476L472 476M463 476L464 478M464 478L470 477M475 498L471 492M471 492L466 493M466 493L466 498M455 489L457 491M455 489L455 489M455 489L459 483M457 491L465 492M459 483L461 482M461 482L465 486M465 486L465 492M466 493L465 492M459 498L457 491M469 485L470 477M469 485L465 486M464 478L461 482M471 492L473 487M473 487L469 485M455 489L447 480M459 483L454 477M454 477L447 480M414 479L417 476M414 479L409 476M363 476L362 482M362 482L354 476M233 498L236 495M236 495L230 491M272 482L265 479M265 479L265 476M352 494L354 498M352 494L347 492M347 492L345 498M546 477L545 479M546 477L545 476M533 477L533 476M533 477L539 483M545 479L539 483M563 491L566 492M563 491L559 495M559 495L559 498M566 492L569 498M589 486L597 484M589 486L586 480M586 480L589 477M589 477L596 479M597 484L596 479M581 476L581 478M581 478L585 480M585 480L586 480M589 476L589 477M598 478L596 479M598 478L599 476M600 487L597 484M600 487L605 485M598 478L606 482M606 482L605 485M600 487L598 492M598 492L595 493M589 486L589 489M595 493L589 489M598 492L602 495M609 493L609 494M609 493L609 489M609 489L605 485M609 494L602 495M595 493L594 498M602 495L602 498M609 493L618 493M618 493L620 498M609 494L610 498M606 482L608 478M608 476L608 478M684 481L688 479M684 481L680 478M680 478L681 476M688 479L689 476M672 478L671 476M672 478L680 478M640 498L640 496M631 498L632 493M640 496L635 491M632 493L635 491M635 491L635 491M626 493L632 493M626 493L622 498M688 479L692 481M699 476L698 478M692 481L698 478M709 476L709 476M709 476L705 483M698 478L702 483M705 483L702 483M703 493L699 492M703 493L709 487M709 487L705 483M702 483L699 488M699 492L699 488M692 481L693 485M699 488L693 485M684 481L682 488M682 488L690 490M693 485L690 490M683 496L693 495M683 496L683 498M693 498L693 495M693 495L693 495M682 488L681 489M681 489L681 491M681 491L683 496M690 490L693 495M704 495L703 493M699 492L693 495M681 491L673 495M672 498L673 495M750 488L755 484M750 488L756 493M755 484L759 492M756 493L759 492M755 495L756 493M745 490L749 495M745 490L747 487M747 487L750 488M762 491L766 495M762 491L759 492M766 495L766 498M747 487L747 483M747 483L753 478M755 484L756 479M756 479L753 478M747 483L742 480M742 480L742 476M753 478L752 476M779 487L777 486M771 493L776 495M771 493L773 488M780 493L776 495M777 486L773 488M790 493L792 498M784 496L784 498M813 482L819 479M813 482L809 476M819 479L817 476M808 494L806 494M808 494L814 491M806 494L807 485M814 491L815 490M815 490L812 484M812 484L807 485M811 498L808 494M818 497L814 491M813 482L812 484M805 483L807 485M963 478L962 478M973 484L965 485M962 478L965 485M902 498L901 494M894 498L895 495M895 495L901 494M911 498L912 498M912 498L912 494M901 494L901 494M901 494L912 494M544 493L547 497M544 493L545 490M547 497L554 492M545 490L550 485M554 492L551 486M551 486L550 485M547 498L547 497M559 495L554 492M545 479L550 485M538 485L545 490M538 485L539 483M563 486L557 482M563 486L563 491M557 482L551 486M518 476L520 477M526 476L526 477M520 477L526 477M533 477L529 479M526 477L529 479M454 477L454 476M447 480L446 480M446 480L445 476M446 480L443 482M438 476L439 481M443 482L439 481M369 486L369 478M369 486L363 487M369 478L362 482M363 487L362 486M362 486L362 482M375 488L376 481M375 488L369 486M376 481L374 476M371 476L369 478M362 482L362 482M356 492L360 498M356 492L359 487M359 487L362 486M365 494L360 498M365 494L363 487M359 487L350 483M350 483L353 476M350 483L346 481M350 483L346 491M346 481L336 486M346 491L337 488M337 488L336 486M336 486L336 486M356 492L352 494M350 483L350 483M347 492L346 491M336 492L337 488M336 492L342 498M346 481L345 478M345 476L345 478M230 479L231 476M230 479L236 481M230 491L238 486M238 486L236 481M240 476L239 479M236 481L239 479M255 476L255 478M265 479L263 481M255 478L263 481M272 485L263 487M263 481L261 487M263 487L261 487M263 498L263 497M271 498L271 493M263 497L269 494M271 493L269 494M255 496L255 498M255 496L259 495M259 495L263 497M259 495L259 488M259 488L261 487M263 487L269 494M274 489L274 491M274 491L271 493M336 492L334 496M334 496L335 498M287 476L293 477M293 477L293 476M548 476L557 480M557 480L557 476M557 482L557 482M557 482L557 480M546 477L547 476M566 476L567 480M566 476L566 476M567 480L576 478M576 476L577 477M577 477L576 478M563 486L566 484M557 482L566 476M566 484L567 480M566 484L573 485M573 485L576 478M581 478L577 477M584 497L585 492M584 497L575 493M585 492L579 488M579 488L575 488M575 488L574 491M575 493L574 491M589 489L585 492M584 498L584 497M573 498L575 493M585 480L579 488M573 485L575 488M566 492L574 491M712 497L715 496M715 496L715 498M608 478L615 478M615 476L615 478M676 487L670 489M676 487L671 479M670 489L667 483M671 479L667 483M681 489L676 487M673 495L670 492M670 492L670 489M672 478L671 479M660 476L659 479M659 479L665 483M665 483L667 483M664 498L661 495M660 498L661 495M670 492L661 494M661 494L661 495M772 476L772 477M772 477L772 478M772 478L765 481M761 478L761 476M761 478L765 481M765 481L765 481M775 476L772 477M777 486L772 478M773 488L765 481M756 479L761 478M762 491L765 481M771 493L766 495M803 498L802 495M799 498L802 495M802 495L802 495M806 494L802 495M797 490L802 495M776 495L776 498M826 476L819 480M826 476L827 478M827 478L827 487M819 480L822 488M827 487L823 488M823 488L822 488M819 479L819 480M826 476L826 476M833 476L832 479M832 479L827 478M815 490L822 488M824 494L823 488M841 476L841 479M841 479L848 481M850 476L849 480M848 481L849 480M832 479L835 482M841 479L838 481M838 481L835 482M827 487L833 487M835 482L833 487M828 498L836 494M833 487L836 494M838 498L837 494M836 494L837 494M854 496L852 490M854 496L848 498M848 498L842 492M852 490L848 486M848 486L842 492M842 492L842 492M857 498L857 497M857 497L854 496M848 498L848 498M837 494L842 492M848 481L848 486M838 481L842 492M882 498L882 496M892 493L885 493M892 493L895 495M882 496L885 493M955 481L962 478M955 481L951 478M951 478L951 476M962 476L962 478M962 476L961 476M961 476L962 476M962 478L962 478M918 487L917 481M918 487L923 488M919 479L917 481M919 479L921 478M923 488L926 488M926 488L927 481M927 481L921 478M919 479L916 476M921 478L921 476M940 476L936 481M931 476L932 479M936 481L932 479M949 479L944 476M949 479L951 478M927 481L932 479M917 481L908 481M908 476L908 481M445 496L450 497M445 496L444 498M451 498L450 497M455 489L454 490M454 490L450 497M515 483L517 486M520 477L525 487M517 486L525 487M529 479L527 487M527 487L525 487M544 493L539 494M539 494L538 498M475 487L480 491M475 487L477 479M480 491L484 482M484 482L480 479M477 479L480 479M472 476L477 479M473 487L475 487M481 476L480 479M481 493L490 493M481 493L477 498M490 493L487 498M477 498L478 498M476 498L477 498M480 491L481 493M401 493L399 498M401 493L397 487M392 489L397 487M392 489L392 489M398 498L392 489M396 478L387 483M396 478L393 476M385 476L385 479M385 479L387 483M398 476L398 478M398 478L396 478M376 481L385 479M400 484L399 480M400 484L405 485M399 480L407 477M405 485L407 477M387 485L392 489M387 485L387 483M397 487L400 484M398 478L399 480M409 487L408 491M409 487L405 485M408 491L401 493M408 476L407 477M414 479L413 485M409 487L413 485M409 495L406 498M409 495L411 497M411 497L412 498M408 491L409 495M413 485L417 486M417 486L420 492M420 492L411 497M423 495L422 498M423 495L432 498M423 494L420 492M423 494L423 495M434 498L435 498M434 498L434 498M434 482L432 487M434 482L429 476M424 482L428 488M424 482L425 477M428 488L432 487M429 476L426 476M425 477L426 476M430 476L429 476M439 481L434 482M417 486L424 482M423 494L428 488M418 476L425 477M434 498L436 491M436 491L432 487M426 476L426 476M444 495L447 489M444 495L439 491M439 491L443 486M447 489L443 486M454 490L447 489M445 496L444 495M436 491L439 491M443 482L443 486M360 498L360 498M365 494L370 497M370 497L369 498M392 489L388 498M335 479L327 478M335 479L336 477M336 477L336 476M327 478L327 476M336 486L335 479M345 478L336 477M239 487L247 489M239 487L238 495M238 495L242 498M248 494L244 498M248 494L247 489M243 498L244 498M236 495L238 495M238 486L239 487M245 498L244 498M255 496L248 494M253 484L254 479M253 484L249 486M254 479L246 477M249 486L244 480M246 477L244 480M255 478L254 479M259 488L253 484M247 489L249 486M246 476L246 477M239 479L244 480M336 486L329 489M334 496L329 494M329 489L329 494M311 477L315 476M311 477L311 476M723 476L722 480M717 476L716 479M722 480L719 480M719 480L716 479M709 476L716 479M709 487L711 487M716 479L711 487M716 479L716 479M745 490L742 491M742 498L739 494M739 494L742 491M609 489L610 488M615 478L615 478M610 488L615 478M643 476L643 477M651 476L651 479M651 479L643 477M659 479L656 480M656 480L651 479M651 479L651 479M637 480L636 476M637 480L638 480M643 477L638 480M665 483L660 490M656 480L656 486M656 486L660 490M661 494L660 494M660 490L660 494M651 498L651 495M660 494L651 495M866 477L857 479M866 477L862 486M860 485L862 486M860 485L857 480M857 480L857 479M858 476L857 479M868 476L866 477M857 497L863 490M863 490L864 488M864 488L862 486M852 490L860 485M849 480L857 480M872 496L864 494M872 496L870 498M864 494L865 498M863 490L864 494M864 488L866 487M866 487L873 494M873 494L872 496M873 494L877 494M877 494L882 496M866 487L870 483M877 494L876 485M870 483L876 485M870 483L869 476M971 498L971 498M981 498L976 493M971 498L972 495M972 495L975 493M975 493L976 493M985 490L976 493M975 488L975 493M912 498L912 498M916 492L920 498M916 492L923 494M923 494L925 498M915 491L912 492M915 491L916 492M912 494L912 492M918 487L915 491M923 488L923 494M892 493L894 486M885 493L886 485M886 485L892 483M892 483L894 486M512 496L513 496M512 496L508 497M508 497L507 498M513 496L513 498M507 488L512 496M517 486L515 495M513 496L515 495M528 493L528 489M528 493L529 495M529 495L538 493M528 489L536 487M536 487L538 493M527 487L528 489M515 495L522 496M522 496L528 493M539 494L538 493M530 498L529 495M538 485L536 487M484 482L488 483M490 476L488 483M503 476L499 477M499 477L497 476M384 496L377 497M384 496L382 488M375 489L382 488M375 489L375 493M375 493L377 497M387 498L384 496M377 498L377 497M387 485L382 488M375 488L375 489M370 497L375 493M311 477L309 480M303 476L304 479M309 480L304 479M293 477L297 482M304 479L299 482M297 482L299 482M716 495L718 495M716 495L714 491M714 491L719 485M718 495L723 492M723 492L719 485M715 496L716 495M720 498L718 495M711 487L714 491M719 480L719 485M732 476L732 476M722 480L726 482M726 482L732 476M742 480L737 482M732 476L737 482M742 491L737 483M737 482L737 483M629 480L627 476M629 480L626 484M623 476L618 480M626 484L622 486M618 480L621 486M622 486L621 486M621 486L621 486M637 480L629 480M635 491L638 483M635 491L626 484M638 480L638 483M615 478L618 480M626 493L622 486M610 488L621 486M618 493L621 486M654 487L649 494M654 487L649 484M646 487L649 484M646 487L648 493M648 493L649 494M656 486L654 487M651 495L649 494M651 479L649 484M638 483L646 487M640 496L648 493M886 485L882 481M876 485L880 482M882 481L880 482M893 478L892 483M893 478L884 477M882 481L884 477M893 478L894 476M884 477L884 476M965 485L964 488M972 495L967 492M964 488L967 492M902 481L899 486M902 481L907 481M908 486L901 490M908 486L907 481M901 490L899 486M897 476L902 481M894 486L899 486M908 481L907 481M901 494L901 490M912 492L908 486M522 496L522 498M491 487L498 482M491 487L491 493M495 496L491 493M495 496L501 493M498 482L504 488M504 488L501 493M499 477L498 482M488 483L491 487M490 493L491 493M495 498L495 496M508 497L501 493M504 488L504 488M274 491L279 494M279 494L278 498M326 498L325 498M325 498L325 498M329 494L325 497M325 498L325 497M307 498L307 498M307 498L304 498M304 498L304 498M327 478L324 479M329 489L325 487M325 487L324 479M320 476L321 479M324 479L321 479M310 493L315 495M310 493L309 490M309 490L311 486M315 495L320 492M311 486L315 485M315 485L320 490M320 492L320 490M316 498L315 495M307 498L310 493M304 489L299 492M304 489L309 490M299 492L304 498M309 480L311 486M304 489L299 482M325 497L320 492M321 479L315 485M325 487L320 490M292 486L285 492M292 486L294 486M294 486L297 492M285 492L285 493M296 493L297 492M296 493L286 494M285 493L286 494M283 483L285 492M284 481L292 486M297 482L294 486M299 492L297 492M279 494L285 493M296 498L296 493M288 498L286 494M727 484L734 485M727 484L726 491M734 485L734 494M726 491L732 495M732 495L734 494M726 482L727 484M737 483L734 485M723 492L726 491M739 494L734 494M731 498L732 495M877 476L877 478M871 476L877 478M880 482L877 478M941 494L939 497M941 494L940 487M939 497L929 496M937 485L940 487M937 485L929 490M929 490L929 496M943 495L941 494M943 495L945 498M939 498L939 497M928 498L929 496M949 479L945 486M936 481L937 485M945 486L940 487M926 488L929 490M955 481L954 488M964 488L957 490M957 490L954 488M945 486L952 489M954 488L952 489M943 495L950 493M952 489L950 493M960 497L958 496M960 497L960 498M958 496L954 498M967 492L960 497M957 490L958 496M971 498L970 498M950 493L952 498M152 331L145 333M152 331L152 322M152 322L145 317M152 331L157 336M157 336L154 342M164 324L168 323M164 324L161 335M168 323L171 337M161 335L166 338M166 338L171 337M171 315L171 321M160 315L158 320M158 320L164 324M171 321L168 323M152 322L158 320M157 336L161 335M166 342L166 338M253 315L253 320M255 320L253 320M212 317L207 315M212 317L215 327M215 327L213 331M213 331L207 332M204 331L207 332M204 331L202 324M207 315L202 324M181 315L181 316M181 316L190 323M190 323L192 322M192 322L192 315M216 316L216 315M216 316L227 316M227 316L228 316M228 316L227 315M212 317L216 316M215 327L225 324M225 324L227 316M211 342L207 341M207 341L206 342M171 321L176 324M171 337L172 337M172 337L176 324M175 342L176 339M172 337L176 339M181 316L177 324M176 324L177 324M251 333L255 334M251 333L247 339M247 339L249 342M236 340L236 340M236 340L229 334M236 340L236 342M220 342L219 339M229 334L219 338M219 339L219 338M247 339L236 340M215 342L219 339M213 331L219 338M225 324L229 331M229 331L229 334M207 332L207 341M207 315L207 315M202 324L192 322M231 316L237 325M231 316L231 316M231 316L245 317M237 325L242 326M242 326L248 324M245 317L249 322M249 322L248 324M229 331L237 325M228 316L231 316M231 315L231 316M244 315L245 317M236 340L242 326M251 333L248 324M253 320L249 322M181 337L183 328M181 337L188 340M188 340L195 338M189 325L183 328M189 325L196 336M196 336L195 338M176 339L181 337M177 324L183 328M188 342L188 340M198 342L195 338M190 323L189 325M204 331L196 336M926 342L926 341M926 341L935 342M935 342L935 342M918 315L918 316M918 316L909 319M907 315L909 319M882 315L886 317M890 315L886 317M884 329L881 342M884 329L880 329M880 342L881 342M886 328L886 317M886 328L884 329M983 342L978 337M970 342L978 337M955 342L956 340M956 340L963 337M969 342L963 337M892 342L892 342M886 328L892 331M892 342L892 331M1012 340L1015 337M892 342L893 342M895 315L899 322M892 331L895 330M899 322L895 330M909 319L908 321M899 322L908 321M908 325L902 332M908 325L915 331M902 332L907 340M915 336L915 331M915 336L909 341M909 341L907 340M895 330L902 332M908 321L908 325M918 316L923 322M923 322L915 331M894 342L907 340M925 338L915 336M925 338L931 329M923 322L924 322M924 322L931 329M926 341L925 338M909 342L909 341M963 337L963 332M963 332L967 328M978 337L978 337M967 328L975 328M975 328L978 337M935 342L940 336M931 329L931 329M931 329L935 330M935 330L940 336M941 342L943 337M956 340L948 336M948 336L943 337M943 337L940 336M935 318L933 315M935 318L943 322M943 322L945 321M945 321L942 315M924 322L931 315M931 329L935 318M935 330L943 322M1012 340L1008 339M1015 330L1009 329M1009 329L1008 331M1008 331L1008 339M1005 342L1007 339M1007 339L1008 339M1010 320L1011 318M1010 320L1009 321M1009 321L997 321M1011 318L1011 315M997 321L997 315M1015 324L1010 320M1015 317L1011 318M1009 329L1009 321M983 315L981 317M978 315L980 317M980 317L981 317M968 319L967 328M968 319L975 315M975 328L978 325M978 325L980 317M968 319L964 317M964 317L963 315M949 327L947 321M949 327L960 329M947 321L952 317M960 329L956 319M956 319L952 317M948 336L949 327M945 321L947 321M963 332L960 329M952 315L952 317M964 317L956 319M1006 339L997 327M1006 339L990 337M990 337L989 334M997 327L994 324M989 334L989 334M989 334L994 324M994 324L994 324M1008 331L997 327M1007 339L1006 339M990 342L990 337M978 337L989 334M997 321L994 324M978 325L989 334M981 317L994 324M707 192L715 209L715 211M668 192L654 201L643 211M756 170L738 173L724 187L707 192M671 140L671 142L667 164M756 170L759 157L755 144L756 140M668 192L669 183L669 173L667 164M592 211L598 192L590 163L590 140M532 147L517 171L501 195L496 211M532 147L539 175L564 197L565 211M1013 197L1011 211M1065 175L1061 173L1044 155M1013 197L1008 188L1010 178L1008 168M1044 155L1057 140M776 202L804 200L828 191L849 173M425 140L418 141L405 152M405 152L415 181L404 211L404 211M310 211L325 201M325 197L325 201M333 211L325 201M1008 168L1002 164L996 163L989 163M982 140L989 163M922 211L931 200L943 187L950 171M989 163L976 166L962 165L950 171M932 140L931 141L941 161M849 173L845 155L849 140M950 171L941 161M343 155L342 147L337 141L336 140M167 229L159 237L155 248L145 255M167 229L172 236L176 243L180 251M145 255L149 260M149 260L152 263M152 263L162 260L172 257L180 251M162 360L165 349M165 349L171 347L174 341L180 339M180 339L185 348L191 357L200 364M167 392L168 400L167 407L164 414M167 392L172 387L181 388L187 383M180 412L164 414M180 412L184 405L188 398L191 390M191 390L187 383M207 420L208 415L206 409L205 402M210 400L205 402M162 360L148 367M154 388L152 385M188 377L187 383M99 183L100 176L101 175M89 182L83 181L77 180L71 176M71 176L71 175M71 177L71 176M106 191L99 183M133 190L133 181M131 175L133 181M146 366L148 367M146 366L146 358L145 351L142 344M142 344L150 334M182 328L180 339M182 328L171 329L160 328L149 326M124 420L131 419L139 418L146 415M151 419L146 415M124 420L119 409M145 407L146 415M119 409L131 396M154 388L153 395L149 401L145 407M152 385L144 386L138 389L131 392M131 396L131 392M210 322L208 322M208 322L208 322M208 322L206 336L203 349L204 362M210 363L204 362M210 286L206 291M186 321L194 323L201 322L208 322M186 321L182 328M191 390L194 395L201 397L205 402M186 321L182 311M206 291L200 292L194 295L187 294M182 311L187 294M204 267L194 252M178 280L174 278M181 252L194 252M210 271L204 267M187 294L178 280M152 263L157 268L161 273L163 280M180 251L181 252M163 280L174 278M164 414L159 420M151 419L154 420M89 182L87 188L85 194L84 201M102 208L96 206L90 203L84 201M84 201L76 204M167 229L167 229M145 255L133 251M133 251L133 243L135 235L136 227M167 229L160 223L151 222L142 219M136 227L142 219M167 229L172 223M137 206L142 219M137 206L138 198M191 222L198 215M198 215L206 215L210 216M202 240L210 238M172 215L179 206L188 199L194 190M172 223L178 221L184 220L191 222M197 193L195 201L199 208L198 215M194 252L202 240M210 194L197 193M106 317L106 323L104 329L105 335M105 335L103 335M96 289L95 296M105 346L107 338M107 338L105 335M130 390L123 387L116 387L113 385M130 390L134 383L133 374L136 367M130 365L124 370L115 370L111 374M130 365L136 367M131 392L130 390M146 366L136 367M107 338L114 338M119 342L114 338M142 344L134 345L127 343L119 342M102 212L98 223M102 212L110 211L118 211L127 211M127 211L125 218L119 221L117 227M98 223L100 229M100 229L104 232M104 232L117 227M102 208L102 212M79 218L81 219L90 220L98 223M133 190L138 196M137 206L127 211M138 196L138 198M136 227L130 229L123 227L117 227M113 251L110 244L107 238L104 232M113 251L122 254M167 203L167 194L172 187L173 178M138 196L151 194L161 185L171 178M171 178L173 178M171 178L168 175M194 189L194 190M194 189L188 186L182 179L175 178M175 178L173 178M194 189L208 177M175 178L176 175M91 280L91 277L90 269L92 261M93 286L96 288M96 288L104 278M104 278L105 272L105 265L104 259M87 260L92 261M124 280L118 279L111 280L104 278M130 289L125 300M125 300L129 306L134 312L138 319M159 304L156 291M159 304L154 309L149 314L146 321M130 287L130 289M123 300L125 300M163 280L156 291M114 338L120 329L128 323L138 319M182 311L174 310L166 308L159 304M149 326L146 321" fill="none" stroke="#22160d" stroke-width="1.8" stroke-linejoin="round"/>
<path d="M275.0 141.3 L299.8 141.6 L324.6 141.8 L349.4 142.0 L374.2 142.2 L399.0 142.4 L423.8 142.5 L448.5 142.7 L473.3 142.8 L498.1 142.9 L522.9 142.9 L547.7 143.0 L572.5 143.0 L597.3 143.0 L622.1 143.0 L646.9 142.9 L671.7 142.9 L696.5 142.8 L721.2 142.7 L746.0 142.6 L770.8 142.5 L795.6 142.3 L820.4 142.1 L845.2 141.9 L870.0 141.7" fill="none" stroke="#231a14" stroke-width="3.2"/>
<path d="M0.0 170.2 L44.6 171.0 L89.2 171.8 L133.8 172.5 L178.3 173.2 L222.9 173.8 L267.5 174.3 L312.1 174.7 L356.7 175.1 L401.2 175.4 L445.8 175.7 L490.4 175.8 L535.0 175.9 L579.6 176.0 L624.2 176.0 L668.8 175.9 L713.3 175.7 L757.9 175.5 L802.5 175.2 L847.1 174.9 L891.7 174.5 L936.2 174.0 L980.8 173.5 L1025.4 172.8 L1070.0 172.2" fill="none" stroke="#231a14" stroke-width="2.2"/>
<path d="M87.0 212.8 L133.0 213.5 L179.1 214.2 L225.1 214.8 L271.2 215.3 L317.2 215.8 L363.2 216.1 L409.3 216.5 L455.3 216.7 L501.4 216.9 L547.4 217.0 L593.5 217.0 L639.5 217.0 L685.5 216.8 L731.6 216.7 L777.6 216.4 L823.7 216.1 L869.7 215.7 L915.8 215.2 L961.8 214.7 L1007.8 214.1 L1053.9 213.4 L1099.9 212.7 L1146.0 211.8 L1192.0 211.0" fill="none" stroke="#231a14" stroke-width="2.2"/>
<path d="M281.0 246.4 L307.4 246.7 L333.8 246.9 L360.2 247.1 L386.7 247.3 L413.1 247.5 L439.5 247.6 L465.9 247.7 L492.3 247.8 L518.8 247.9 L545.2 248.0 L571.6 248.0 L598.0 248.0 L624.4 248.0 L650.8 247.9 L677.2 247.9 L703.7 247.8 L730.1 247.7 L756.5 247.5 L782.9 247.4 L809.3 247.2 L835.8 247.0 L862.2 246.8 L888.6 246.5 L915.0 246.2" fill="none" stroke="#231a14" stroke-width="2"/>
<path d="M342.0 273.0 L362.3 273.1 L382.7 273.3 L403.0 273.4 L423.3 273.5 L443.7 273.6 L464.0 273.7 L484.3 273.8 L504.7 273.9 L525.0 273.9 L545.3 274.0 L565.7 274.0 L586.0 274.0 L606.3 274.0 L626.7 274.0 L647.0 273.9 L667.3 273.9 L687.7 273.8 L708.0 273.8 L728.3 273.7 L748.7 273.6 L769.0 273.5 L789.3 273.3 L809.7 273.2 L830.0 273.0" fill="none" stroke="#231a14" stroke-width="2"/>
<path d="M140.0 317.6 L176.2 318.1 L212.5 318.6 L248.8 319.1 L285.0 319.4 L321.2 319.8 L357.5 320.1 L393.8 320.4 L430.0 320.6 L466.2 320.7 L502.5 320.9 L538.8 321.0 L575.0 321.0 L611.2 321.0 L647.5 320.9 L683.8 320.9 L720.0 320.7 L756.2 320.5 L792.5 320.3 L828.8 320.0 L865.0 319.7 L901.2 319.4 L937.5 319.0 L973.8 318.5 L1010.0 318.1" fill="none" stroke="#231a14" stroke-width="2"/>
<path d="M140.0 344.6 L176.2 345.1 L212.5 345.6 L248.8 346.1 L285.0 346.4 L321.2 346.8 L357.5 347.1 L393.8 347.4 L430.0 347.6 L466.2 347.7 L502.5 347.9 L538.8 348.0 L575.0 348.0 L611.2 348.0 L647.5 347.9 L683.8 347.9 L720.0 347.7 L756.2 347.5 L792.5 347.3 L828.8 347.0 L865.0 346.7 L901.2 346.4 L937.5 346.0 L973.8 345.5 L1010.0 345.1" fill="none" stroke="#231a14" stroke-width="2"/>
<path d="M250.0 374.1 L279.6 374.4 L309.2 374.7 L338.8 374.9 L368.3 375.2 L397.9 375.4 L427.5 375.6 L457.1 375.7 L486.7 375.8 L516.2 375.9 L545.8 376.0 L575.4 376.0 L605.0 376.0 L634.6 376.0 L664.2 375.9 L693.8 375.8 L723.3 375.7 L752.9 375.6 L782.5 375.4 L812.1 375.2 L841.7 374.9 L871.2 374.7 L900.8 374.4 L930.4 374.1 L960.0 373.7" fill="none" stroke="#231a14" stroke-width="2"/>
<line x1="140.0" y1="422.0" x2="1015.0" y2="422.0" stroke="#231a14" stroke-width="2"/>
<line x1="140.0" y1="446.0" x2="1015.0" y2="446.0" stroke="#231a14" stroke-width="2"/>
<line x1="150.0" y1="477.0" x2="1010.0" y2="477.0" stroke="#231a14" stroke-width="2"/>
<line x1="225.0" y1="498.0" x2="1000.0" y2="498.0" stroke="#231a14" stroke-width="2.4"/>
<path d="M129.0 490.0 L90.0 380.0 L60.0 275.0 L50.0 225.0 L48.0 180.0 L57.0 148.0 L75.0 133.0 L105.0 124.0 L180.0 127.0 L275.0 131.0" fill="none" stroke="#1a1410" stroke-width="3.2" stroke-dasharray="15 11"/>
<path d="M875.0 131.0 L1025.0 130.0 L1058.0 143.0 L1075.0 160.0 L1082.0 190.0 L1082.0 225.0 L1075.0 262.0 L1065.0 305.0 L1040.0 377.0 L1024.0 437.0 L1002.0 498.0" fill="none" stroke="#1a1410" stroke-width="3.2" stroke-dasharray="15 11"/>
<path d="M1000 212 L1010 292 M1063 212 L1078 260 M1130 212 L1135 240 M1191 212 L1192 260" stroke="#231a14" stroke-width="2.2" fill="none"/>
<rect x="400" y="13" width="285" height="109" fill="#ffffff" fill-opacity="0.2" stroke="#ffffff" stroke-opacity="0.85" stroke-width="2.5"/>
<line x1="1221" y1="0" x2="1221" y2="631" stroke="#6b5a40" stroke-width="2"/>
<line x1="0.6" y1="0" x2="0.6" y2="631" stroke="#8a8a8a" stroke-width="1.2"/>
<path d="M0 0 L0 1.2 L320 1.2 Q520 14 720 1.2 L1222 0.5 L1222 0 Z" fill="#ffffff"/>
</g></svg>
<svg class="pan" style="left:1878px;top:7px" width="1236" height="620" viewBox="0 0 1236 620">
<defs><filter id="bltr" filterUnits="userSpaceOnUse" x="-90" y="-90" width="1440" height="810"><feGaussianBlur stdDeviation="7"/></filter>
<clipPath id="cptr"><rect width="1236" height="620"/></clipPath></defs>
<g clip-path="url(#cptr)"><g filter="url(#bltr)"><g transform="translate(-90,-90)">
<rect x="0" y="0" width="1440" height="30" fill="#bb3a2a"/><rect x="0" y="30" width="1440" height="30" fill="#bb3a2a"/><rect x="0" y="60" width="1440" height="30" fill="#bb3a2a"/><rect x="0" y="90" width="1440" height="30" fill="#bb3a2a"/><rect x="0" y="120" width="240" height="30" fill="#bb3a2a"/><rect x="240" y="120" width="180" height="30" fill="#c3552e"/><rect x="420" y="120" width="150" height="30" fill="#bb3a2a"/><rect x="570" y="120" width="300" height="30" fill="#c3552e"/><rect x="870" y="120" width="120" height="30" fill="#bb3a2a"/><rect x="990" y="120" width="210" height="30" fill="#c3552e"/><rect x="1200" y="120" width="240" height="30" fill="#bb3a2a"/><rect x="0" y="150" width="210" height="30" fill="#bb3a2a"/><rect x="210" y="150" width="210" height="30" fill="#c3552e"/><rect x="420" y="150" width="150" height="30" fill="#bb3a2a"/><rect x="570" y="150" width="270" height="30" fill="#c3552e"/><rect x="840" y="150" width="150" height="30" fill="#bb3a2a"/><rect x="990" y="150" width="210" height="30" fill="#c3552e"/><rect x="1200" y="150" width="240" height="30" fill="#bb3a2a"/><rect x="0" y="180" width="210" height="30" fill="#bb3a2a"/><rect x="210" y="180" width="30" height="30" fill="#c3552e"/><rect x="240" y="180" width="120" height="30" fill="#cf7a2e"/><rect x="360" y="180" width="60" height="30" fill="#c3552e"/><rect x="420" y="180" width="150" height="30" fill="#bb3a2a"/><rect x="570" y="180" width="30" height="30" fill="#c3552e"/><rect x="600" y="180" width="30" height="30" fill="#bb3a2a"/><rect x="630" y="180" width="30" height="30" fill="#c3552e"/><rect x="660" y="180" width="30" height="30" fill="#bb3a2a"/><rect x="690" y="180" width="60" height="30" fill="#c3552e"/><rect x="750" y="180" width="240" height="30" fill="#bb3a2a"/><rect x="990" y="180" width="60" height="30" fill="#c3552e"/><rect x="1050" y="180" width="120" height="30" fill="#cf7a2e"/><rect x="1170" y="180" width="90" height="30" fill="#c3552e"/><rect x="1260" y="180" width="180" height="30" fill="#bb3a2a"/><rect x="0" y="210" width="180" height="30" fill="#bb3a2a"/><rect x="180" y="210" width="30" height="30" fill="#c3552e"/><rect x="210" y="210" width="60" height="30" fill="#cf7a2e"/><rect x="270" y="210" width="60" height="30" fill="#cba633"/><rect x="330" y="210" width="30" height="30" fill="#cf7a2e"/><rect x="360" y="210" width="60" height="30" fill="#c3552e"/><rect x="420" y="210" width="180" height="30" fill="#bb3a2a"/><rect x="600" y="210" width="30" height="30" fill="#c3552e"/><rect x="630" y="210" width="60" height="30" fill="#bb3a2a"/><rect x="690" y="210" width="30" height="30" fill="#cf7a2e"/><rect x="720" y="210" width="30" height="30" fill="#c3552e"/><rect x="750" y="210" width="240" height="30" fill="#bb3a2a"/><rect x="990" y="210" width="60" height="30" fill="#c3552e"/><rect x="1050" y="210" width="60" height="30" fill="#cba633"/><rect x="1110" y="210" width="30" height="30" fill="#cf7a2e"/><rect x="1140" y="210" width="120" height="30" fill="#c3552e"/><rect x="1260" y="210" width="180" height="30" fill="#bb3a2a"/><rect x="0" y="240" width="120" height="30" fill="#bb3a2a"/><rect x="120" y="240" width="90" height="30" fill="#c3552e"/><rect x="210" y="240" width="60" height="30" fill="#cf7a2e"/><rect x="270" y="240" width="60" height="30" fill="#cba633"/><rect x="330" y="240" width="30" height="30" fill="#cf7a2e"/><rect x="360" y="240" width="60" height="30" fill="#c3552e"/><rect x="420" y="240" width="270" height="30" fill="#bb3a2a"/><rect x="690" y="240" width="30" height="30" fill="#cf7a2e"/><rect x="720" y="240" width="30" height="30" fill="#c3552e"/><rect x="750" y="240" width="240" height="30" fill="#bb3a2a"/><rect x="990" y="240" width="60" height="30" fill="#c3552e"/><rect x="1050" y="240" width="30" height="30" fill="#cf7a2e"/><rect x="1080" y="240" width="30" height="30" fill="#cba633"/><rect x="1110" y="240" width="30" height="30" fill="#cf7a2e"/><rect x="1140" y="240" width="120" height="30" fill="#c3552e"/><rect x="1260" y="240" width="180" height="30" fill="#bb3a2a"/><rect x="0" y="270" width="150" height="30" fill="#c3552e"/><rect x="150" y="270" width="150" height="30" fill="#cf7a2e"/><rect x="300" y="270" width="30" height="30" fill="#cba633"/><rect x="330" y="270" width="30" height="30" fill="#c0c945"/><rect x="360" y="270" width="60" height="30" fill="#cf7a2e"/><rect x="420" y="270" width="30" height="30" fill="#c3552e"/><rect x="450" y="270" width="150" height="30" fill="#bb3a2a"/><rect x="600" y="270" width="30" height="30" fill="#cf7a2e"/><rect x="630" y="270" width="60" height="30" fill="#bb3a2a"/><rect x="690" y="270" width="150" height="30" fill="#c3552e"/><rect x="840" y="270" width="150" height="30" fill="#bb3a2a"/><rect x="990" y="270" width="30" height="30" fill="#c3552e"/><rect x="1020" y="270" width="240" height="30" fill="#cf7a2e"/><rect x="1260" y="270" width="180" height="30" fill="#c3552e"/><rect x="0" y="300" width="270" height="30" fill="#cf7a2e"/><rect x="270" y="300" width="30" height="30" fill="#c0c945"/><rect x="300" y="300" width="30" height="30" fill="#94ba3e"/><rect x="330" y="300" width="30" height="30" fill="#cf7a2e"/><rect x="360" y="300" width="30" height="30" fill="#c3552e"/><rect x="390" y="300" width="120" height="30" fill="#bb3a2a"/><rect x="510" y="300" width="30" height="30" fill="#c3552e"/><rect x="540" y="300" width="30" height="30" fill="#bb3a2a"/><rect x="570" y="300" width="30" height="30" fill="#cf7a2e"/><rect x="600" y="300" width="60" height="30" fill="#bb3a2a"/><rect x="660" y="300" width="30" height="30" fill="#cf7a2e"/><rect x="690" y="300" width="30" height="30" fill="#c3552e"/><rect x="720" y="300" width="270" height="30" fill="#bb3a2a"/><rect x="990" y="300" width="30" height="30" fill="#c3552e"/><rect x="1020" y="300" width="30" height="30" fill="#cf7a2e"/><rect x="1050" y="300" width="30" height="30" fill="#cba633"/><rect x="1080" y="300" width="30" height="30" fill="#94ba3e"/><rect x="1110" y="300" width="30" height="30" fill="#c0c945"/><rect x="1140" y="300" width="300" height="30" fill="#cf7a2e"/><rect x="0" y="330" width="240" height="30" fill="#cf7a2e"/><rect x="240" y="330" width="30" height="30" fill="#cba633"/><rect x="270" y="330" width="30" height="30" fill="#c0c945"/><rect x="300" y="330" width="30" height="30" fill="#94ba3e"/><rect x="330" y="330" width="30" height="30" fill="#cf7a2e"/><rect x="360" y="330" width="30" height="30" fill="#c3552e"/><rect x="390" y="330" width="60" height="30" fill="#bb3a2a"/><rect x="450" y="330" width="30" height="30" fill="#c3552e"/><rect x="480" y="330" width="30" height="30" fill="#bb3a2a"/><rect x="510" y="330" width="30" height="30" fill="#cf7a2e"/><rect x="540" y="330" width="30" height="30" fill="#c3552e"/><rect x="570" y="330" width="30" height="30" fill="#bb3a2a"/><rect x="600" y="330" width="30" height="30" fill="#cf7a2e"/><rect x="630" y="330" width="30" height="30" fill="#bb3a2a"/><rect x="660" y="330" width="30" height="30" fill="#cf7a2e"/><rect x="690" y="330" width="30" height="30" fill="#c3552e"/><rect x="720" y="330" width="300" height="30" fill="#bb3a2a"/><rect x="1020" y="330" width="30" height="30" fill="#c3552e"/><rect x="1050" y="330" width="30" height="30" fill="#94ba3e"/><rect x="1080" y="330" width="30" height="30" fill="#cba633"/><rect x="1110" y="330" width="30" height="30" fill="#c0c945"/><rect x="1140" y="330" width="30" height="30" fill="#cf7a2e"/><rect x="1170" y="330" width="60" height="30" fill="#cba633"/><rect x="1230" y="330" width="90" height="30" fill="#cf7a2e"/><rect x="1320" y="330" width="120" height="30" fill="#cba633"/><rect x="0" y="360" width="210" height="30" fill="#cf7a2e"/><rect x="210" y="360" width="30" height="30" fill="#cba633"/><rect x="240" y="360" width="30" height="30" fill="#c0c945"/><rect x="270" y="360" width="30" height="30" fill="#cba633"/><rect x="300" y="360" width="30" height="30" fill="#c0c945"/><rect x="330" y="360" width="30" height="30" fill="#cf7a2e"/><rect x="360" y="360" width="30" height="30" fill="#c3552e"/><rect x="390" y="360" width="90" height="30" fill="#bb3a2a"/><rect x="480" y="360" width="30" height="30" fill="#c3552e"/><rect x="510" y="360" width="30" height="30" fill="#bb3a2a"/><rect x="540" y="360" width="60" height="30" fill="#cf7a2e"/><rect x="600" y="360" width="30" height="30" fill="#bb3a2a"/><rect x="630" y="360" width="60" height="30" fill="#cf7a2e"/><rect x="690" y="360" width="330" height="30" fill="#bb3a2a"/><rect x="1020" y="360" width="30" height="30" fill="#c3552e"/><rect x="1050" y="360" width="30" height="30" fill="#94ba3e"/><rect x="1080" y="360" width="30" height="30" fill="#c0c945"/><rect x="1110" y="360" width="30" height="30" fill="#cf7a2e"/><rect x="1140" y="360" width="90" height="30" fill="#cba633"/><rect x="1230" y="360" width="60" height="30" fill="#cf7a2e"/><rect x="1290" y="360" width="150" height="30" fill="#cba633"/><rect x="0" y="390" width="120" height="30" fill="#c3552e"/><rect x="120" y="390" width="120" height="30" fill="#cf7a2e"/><rect x="240" y="390" width="30" height="30" fill="#cba633"/><rect x="270" y="390" width="30" height="30" fill="#c0c945"/><rect x="300" y="390" width="30" height="30" fill="#94ba3e"/><rect x="330" y="390" width="90" height="30" fill="#c3552e"/><rect x="420" y="390" width="60" height="30" fill="#bb3a2a"/><rect x="480" y="390" width="30" height="30" fill="#c3552e"/><rect x="510" y="390" width="30" height="30" fill="#bb3a2a"/><rect x="540" y="390" width="30" height="30" fill="#cf7a2e"/><rect x="570" y="390" width="30" height="30" fill="#bb3a2a"/><rect x="600" y="390" width="30" height="30" fill="#c3552e"/><rect x="630" y="390" width="60" height="30" fill="#cf7a2e"/><rect x="690" y="390" width="390" height="30" fill="#bb3a2a"/><rect x="1080" y="390" width="30" height="30" fill="#c0c945"/><rect x="1110" y="390" width="330" height="30" fill="#cf7a2e"/><rect x="0" y="420" width="210" height="30" fill="#cf7a2e"/><rect x="210" y="420" width="60" height="30" fill="#cba633"/><rect x="270" y="420" width="30" height="30" fill="#c0c945"/><rect x="300" y="420" width="30" height="30" fill="#94ba3e"/><rect x="330" y="420" width="30" height="30" fill="#cf7a2e"/><rect x="360" y="420" width="30" height="30" fill="#c3552e"/><rect x="390" y="420" width="30" height="30" fill="#bb3a2a"/><rect x="420" y="420" width="30" height="30" fill="#c3552e"/><rect x="450" y="420" width="30" height="30" fill="#bb3a2a"/><rect x="480" y="420" width="120" height="30" fill="#cf7a2e"/><rect x="600" y="420" width="30" height="30" fill="#c3552e"/><rect x="630" y="420" width="60" height="30" fill="#cf7a2e"/><rect x="690" y="420" width="30" height="30" fill="#c3552e"/><rect x="720" y="420" width="30" height="30" fill="#cf7a2e"/><rect x="750" y="420" width="90" height="30" fill="#bb3a2a"/><rect x="840" y="420" width="30" height="30" fill="#c3552e"/><rect x="870" y="420" width="180" height="30" fill="#bb3a2a"/><rect x="1050" y="420" width="60" height="30" fill="#cf7a2e"/><rect x="1110" y="420" width="30" height="30" fill="#cba633"/><rect x="1140" y="420" width="300" height="30" fill="#cf7a2e"/><rect x="0" y="450" width="210" height="30" fill="#cf7a2e"/><rect x="210" y="450" width="60" height="30" fill="#cba633"/><rect x="270" y="450" width="30" height="30" fill="#c3552e"/><rect x="300" y="450" width="30" height="30" fill="#94ba3e"/><rect x="330" y="450" width="30" height="30" fill="#c0c945"/><rect x="360" y="450" width="30" height="30" fill="#c3552e"/><rect x="390" y="450" width="90" height="30" fill="#bb3a2a"/><rect x="480" y="450" width="60" height="30" fill="#c3552e"/><rect x="540" y="450" width="60" height="30" fill="#cf7a2e"/><rect x="600" y="450" width="30" height="30" fill="#c3552e"/><rect x="630" y="450" width="60" height="30" fill="#cf7a2e"/><rect x="690" y="450" width="60" height="30" fill="#bb3a2a"/><rect x="750" y="450" width="30" height="30" fill="#cf7a2e"/><rect x="780" y="450" width="270" height="30" fill="#bb3a2a"/><rect x="1050" y="450" width="30" height="30" fill="#c3552e"/><rect x="1080" y="450" width="30" height="30" fill="#cf7a2e"/><rect x="1110" y="450" width="30" height="30" fill="#cba633"/><rect x="1140" y="450" width="30" height="30" fill="#c0c945"/><rect x="1170" y="450" width="30" height="30" fill="#cba633"/><rect x="1200" y="450" width="240" height="30" fill="#cf7a2e"/><rect x="0" y="480" width="180" height="30" fill="#cf7a2e"/><rect x="180" y="480" width="90" height="30" fill="#cba633"/><rect x="270" y="480" width="30" height="30" fill="#c0c945"/><rect x="300" y="480" width="30" height="30" fill="#94ba3e"/><rect x="330" y="480" width="30" height="30" fill="#c0c945"/><rect x="360" y="480" width="60" height="30" fill="#bb3a2a"/><rect x="420" y="480" width="30" height="30" fill="#c3552e"/><rect x="450" y="480" width="60" height="30" fill="#bb3a2a"/><rect x="510" y="480" width="60" height="30" fill="#cf7a2e"/><rect x="570" y="480" width="60" height="30" fill="#c3552e"/><rect x="630" y="480" width="30" height="30" fill="#cf7a2e"/><rect x="660" y="480" width="60" height="30" fill="#c3552e"/><rect x="720" y="480" width="60" height="30" fill="#cf7a2e"/><rect x="780" y="480" width="270" height="30" fill="#bb3a2a"/><rect x="1050" y="480" width="30" height="30" fill="#c3552e"/><rect x="1080" y="480" width="30" height="30" fill="#cf7a2e"/><rect x="1110" y="480" width="30" height="30" fill="#c0c945"/><rect x="1140" y="480" width="30" height="30" fill="#94ba3e"/><rect x="1170" y="480" width="30" height="30" fill="#c0c945"/><rect x="1200" y="480" width="60" height="30" fill="#cba633"/><rect x="1260" y="480" width="180" height="30" fill="#cf7a2e"/><rect x="0" y="510" width="150" height="30" fill="#cf7a2e"/><rect x="150" y="510" width="90" height="30" fill="#cba633"/><rect x="240" y="510" width="30" height="30" fill="#c0c945"/><rect x="270" y="510" width="60" height="30" fill="#94ba3e"/><rect x="330" y="510" width="30" height="30" fill="#c3552e"/><rect x="360" y="510" width="60" height="30" fill="#bb3a2a"/><rect x="420" y="510" width="30" height="30" fill="#cf7a2e"/><rect x="450" y="510" width="30" height="30" fill="#bb3a2a"/><rect x="480" y="510" width="30" height="30" fill="#c3552e"/><rect x="510" y="510" width="30" height="30" fill="#cf7a2e"/><rect x="540" y="510" width="30" height="30" fill="#c3552e"/><rect x="570" y="510" width="60" height="30" fill="#cf7a2e"/><rect x="630" y="510" width="60" height="30" fill="#c3552e"/><rect x="690" y="510" width="390" height="30" fill="#bb3a2a"/><rect x="1080" y="510" width="30" height="30" fill="#c3552e"/><rect x="1110" y="510" width="60" height="30" fill="#94ba3e"/><rect x="1170" y="510" width="30" height="30" fill="#c0c945"/><rect x="1200" y="510" width="90" height="30" fill="#cac23c"/><rect x="1290" y="510" width="150" height="30" fill="#cd7f2e"/><rect x="0" y="540" width="270" height="30" fill="#cac23c"/><rect x="270" y="540" width="30" height="30" fill="#c0c945"/><rect x="300" y="540" width="30" height="30" fill="#94ba3e"/><rect x="330" y="540" width="30" height="30" fill="#c0c945"/><rect x="360" y="540" width="30" height="30" fill="#bb3a2a"/><rect x="390" y="540" width="30" height="30" fill="#c3552e"/><rect x="420" y="540" width="30" height="30" fill="#cf7a2e"/><rect x="450" y="540" width="30" height="30" fill="#c3552e"/><rect x="480" y="540" width="210" height="30" fill="#cf7a2e"/><rect x="690" y="540" width="420" height="30" fill="#bb3a2a"/><rect x="1110" y="540" width="30" height="30" fill="#c0c945"/><rect x="1140" y="540" width="30" height="30" fill="#94ba3e"/><rect x="1170" y="540" width="30" height="30" fill="#c0c945"/><rect x="1200" y="540" width="120" height="30" fill="#cac23c"/><rect x="1320" y="540" width="120" height="30" fill="#cd7f2e"/><rect x="0" y="570" width="300" height="30" fill="#cac23c"/><rect x="300" y="570" width="30" height="30" fill="#c0c945"/><rect x="330" y="570" width="30" height="30" fill="#cac23c"/><rect x="360" y="570" width="180" height="30" fill="#c3552e"/><rect x="540" y="570" width="90" height="30" fill="#cf7a2e"/><rect x="630" y="570" width="30" height="30" fill="#c3552e"/><rect x="660" y="570" width="30" height="30" fill="#cf7a2e"/><rect x="690" y="570" width="390" height="30" fill="#bb3a2a"/><rect x="1080" y="570" width="60" height="30" fill="#cf7a2e"/><rect x="1140" y="570" width="60" height="30" fill="#94ba3e"/><rect x="1200" y="570" width="240" height="30" fill="#cac23c"/><rect x="0" y="600" width="330" height="30" fill="#cac23c"/><rect x="330" y="600" width="30" height="30" fill="#cf7a2e"/><rect x="360" y="600" width="150" height="30" fill="#c3552e"/><rect x="510" y="600" width="60" height="30" fill="#cf7a2e"/><rect x="570" y="600" width="30" height="30" fill="#cba633"/><rect x="600" y="600" width="90" height="30" fill="#cf7a2e"/><rect x="690" y="600" width="120" height="30" fill="#cd7f2e"/><rect x="810" y="600" width="120" height="30" fill="#c3552e"/><rect x="930" y="600" width="120" height="30" fill="#bb3a2a"/><rect x="1050" y="600" width="30" height="30" fill="#c3552e"/><rect x="1080" y="600" width="30" height="30" fill="#cd7f2e"/><rect x="1110" y="600" width="30" height="30" fill="#cac23c"/><rect x="1140" y="600" width="30" height="30" fill="#94ba3e"/><rect x="1170" y="600" width="30" height="30" fill="#c0c945"/><rect x="1200" y="600" width="240" height="30" fill="#cac23c"/><rect x="0" y="630" width="210" height="30" fill="#cac23c"/><rect x="210" y="630" width="30" height="30" fill="#c0c945"/><rect x="240" y="630" width="90" height="30" fill="#cac23c"/><rect x="330" y="630" width="30" height="30" fill="#cf7a2e"/><rect x="360" y="630" width="150" height="30" fill="#c3552e"/><rect x="510" y="630" width="300" height="30" fill="#cd7f2e"/><rect x="810" y="630" width="270" height="30" fill="#c3552e"/><rect x="1080" y="630" width="30" height="30" fill="#cd7f2e"/><rect x="1110" y="630" width="60" height="30" fill="#cac23c"/><rect x="1170" y="630" width="90" height="30" fill="#94ba3e"/><rect x="1260" y="630" width="180" height="30" fill="#cac23c"/><rect x="0" y="660" width="120" height="30" fill="#c0c945"/><rect x="120" y="660" width="120" height="30" fill="#94ba3e"/><rect x="240" y="660" width="90" height="30" fill="#cac23c"/><rect x="330" y="660" width="60" height="30" fill="#cf7a2e"/><rect x="390" y="660" width="90" height="30" fill="#c3552e"/><rect x="480" y="660" width="30" height="30" fill="#cf7a2e"/><rect x="510" y="660" width="330" height="30" fill="#cd7f2e"/><rect x="840" y="660" width="210" height="30" fill="#c3552e"/><rect x="1050" y="660" width="60" height="30" fill="#cd7f2e"/><rect x="1110" y="660" width="60" height="30" fill="#cac23c"/><rect x="1170" y="660" width="270" height="30" fill="#94ba3e"/><rect x="0" y="690" width="270" height="30" fill="#94ba3e"/><rect x="270" y="690" width="60" height="30" fill="#cac23c"/><rect x="330" y="690" width="90" height="30" fill="#cf7a2e"/><rect x="420" y="690" width="30" height="30" fill="#c3552e"/><rect x="450" y="690" width="90" height="30" fill="#cf7a2e"/><rect x="540" y="690" width="330" height="30" fill="#cd7f2e"/><rect x="870" y="690" width="150" height="30" fill="#c3552e"/><rect x="1020" y="690" width="60" height="30" fill="#cd7f2e"/><rect x="1080" y="690" width="60" height="30" fill="#cac23c"/><rect x="1140" y="690" width="300" height="30" fill="#94ba3e"/><rect x="0" y="720" width="270" height="30" fill="#94ba3e"/><rect x="270" y="720" width="60" height="30" fill="#cac23c"/><rect x="330" y="720" width="90" height="30" fill="#cf7a2e"/><rect x="420" y="720" width="30" height="30" fill="#c3552e"/><rect x="450" y="720" width="90" height="30" fill="#cf7a2e"/><rect x="540" y="720" width="330" height="30" fill="#cd7f2e"/><rect x="870" y="720" width="150" height="30" fill="#c3552e"/><rect x="1020" y="720" width="60" height="30" fill="#cd7f2e"/><rect x="1080" y="720" width="60" height="30" fill="#cac23c"/><rect x="1140" y="720" width="300" height="30" fill="#94ba3e"/><rect x="0" y="750" width="270" height="30" fill="#94ba3e"/><rect x="270" y="750" width="60" height="30" fill="#cac23c"/><rect x="330" y="750" width="90" height="30" fill="#cf7a2e"/><rect x="420" y="750" width="30" height="30" fill="#c3552e"/><rect x="450" y="750" width="90" height="30" fill="#cf7a2e"/><rect x="540" y="750" width="330" height="30" fill="#cd7f2e"/><rect x="870" y="750" width="150" height="30" fill="#c3552e"/><rect x="1020" y="750" width="60" height="30" fill="#cd7f2e"/><rect x="1080" y="750" width="60" height="30" fill="#cac23c"/><rect x="1140" y="750" width="300" height="30" fill="#94ba3e"/><rect x="0" y="780" width="270" height="30" fill="#94ba3e"/><rect x="270" y="780" width="60" height="30" fill="#cac23c"/><rect x="330" y="780" width="90" height="30" fill="#cf7a2e"/><rect x="420" y="780" width="30" height="30" fill="#c3552e"/><rect x="450" y="780" width="90" height="30" fill="#cf7a2e"/><rect x="540" y="780" width="330" height="30" fill="#cd7f2e"/><rect x="870" y="780" width="150" height="30" fill="#c3552e"/><rect x="1020" y="780" width="60" height="30" fill="#cd7f2e"/><rect x="1080" y="780" width="60" height="30" fill="#cac23c"/><rect x="1140" y="780" width="300" height="30" fill="#94ba3e"/>
</g>
</g>
<path d="M923 192L938 194M923 192L909 203L897 217L886 231M951 251L951 231L943 213L938 194M951 251L944 259L935 264L930 273M930 273L914 273M914 273L908 268L900 265L892 265M886 231L888 242L893 253L892 265M1043 349L1039 351M1039 351L1033 360L1029 370L1024 379M1024 379L1041 390M991 173L990 176M990 176L976 185L960 189L944 191M944 191L950 177L952 173M1022 220L1028 216L1032 212L1036 207M1022 220L1009 207L999 192L990 176M910 173L910 174L915 184L923 192M938 194L942 192M942 192L944 191M1006 254L1007 246L1014 240L1015 232M1006 254L1004 263L1011 271L1009 280M1016 231L1015 232M1032 290L1025 285L1016 284L1009 280M1032 290L1044 285L1046 284M951 251L969 248L987 252L1006 254M942 192L968 204L994 214L1015 232M992 303L998 295L1001 286L1009 280M992 303L981 302L969 305L959 309M959 309L950 296L939 285L930 273M1022 220L1016 231M992 303L993 309L995 315L998 321M998 321L1010 334L1026 340L1039 351M1045 305L1044 304L1032 290M176 326L185 321M179 349L179 349L181 335L185 321M191 173L204 197M171 194L174 195L201 202M204 197L201 202M959 309L957 313M914 273L906 293L910 314L911 335M957 313L944 325L925 327L911 335M575 231L575 230M575 230L562 214L558 194L549 176M549 176L535 184L519 190L505 199M551 173L549 176M490 173L498 181L505 199M485 411L492 402L493 391M493 391L478 390L467 378L452 377M452 377L444 376L436 371L427 372M420 411L418 407L410 405M410 405L407 391M407 391L416 387L422 380L427 372M401 411L410 405M581 411L576 410L564 411M204 197L215 188M215 188L215 175L215 173M171 286L172 286M171 281L172 286M201 202L197 216M168 242L172 234L184 225L197 216M186 320L185 321M186 302L183 296L178 291L172 286M341 173L340 178L339 185M270 173L270 173L266 180M339 185L315 182L291 175L266 180M1024 379L1013 381L1002 383L991 383M983 411L984 404L987 393L991 383M998 321L992 338L983 355L981 374M957 313L954 331L959 349L962 367M962 367L968 370L974 373L981 374M981 374L991 383M773 218L765 199L760 177L756 173M773 218L774 219M774 219L786 199L808 191L825 176M496 226L495 226M452 173L451 187L438 200L435 217M435 217L436 219M493 391L496 384L502 380L505 374M559 402L562 411M559 402L541 394L523 386L506 375M506 375L505 374M437 173L435 173L433 173M391 185L377 188L366 199L352 202M391 185L400 194L408 206L421 212M186 401L190 388L202 378L207 365M186 320L191 326L196 333L203 338M203 338L206 347L203 356L207 365M225 411L226 410L233 403M274 411L277 403M186 402L194 409L197 411M238 375L228 371L217 370L207 365M307 411L300 406L293 392M293 392L288 396L283 400L277 403M342 411L347 402L356 386L363 369M375 368L368 368M375 368L386 376L398 381L407 391M363 369L368 368M607 411L614 401L620 384L622 366M745 411L742 409L732 409L723 404M723 404L712 404L701 399L690 402M650 338L667 349L677 365L687 381M650 338L657 332L661 323L667 317M687 381L689 367L697 356L703 344M667 317L676 330L689 338L703 344M723 404L716 384L722 363L723 343M687 381L690 388L689 395L690 402M703 344L710 341L717 345L723 343M847 397L856 411M847 397L833 401M833 401L825 408L813 410L812 411M756 411L762 410L767 405M725 342L723 343M767 405L768 397M825 176L828 175M828 175L827 173M848 173L841 182M932 373L927 369L922 363L916 360M916 360L901 370L891 386L874 393M874 393L884 407L894 411M962 367L952 369L942 369L932 373M911 335L906 341M906 341L907 348L912 354L916 360M847 397L855 390M855 390L861 392L868 393L874 393M832 245L833 237L830 230L830 222M832 245L848 235L868 241L884 230M884 230L872 219L859 207L845 197M774 221L793 218L811 227L830 222M774 221L773 237L778 252L781 267M821 270L823 261L831 254L832 245M774 219L774 221M841 182L845 197M886 231L884 230M735 341L747 335L757 324L771 321M771 321L770 337L774 351L783 364M768 282L771 293L770 305L773 316M768 282L750 283L733 279L715 279M715 279L726 298L726 320L725 342M771 321L773 316M783 364L791 363L799 359L808 359M881 274L861 276L842 271L822 270M881 274L874 293L878 314L867 331M822 270L833 289L826 312L837 331M855 337L867 331M855 337L838 332M838 332L837 331M892 265L881 274M821 270L822 270M906 341L894 335L880 335L867 331M768 282L774 278L778 273L781 267M773 316L795 320L816 327L837 331M855 390L855 373L855 355L855 337M808 359L821 353L827 340L838 332M448 290L443 282L436 276L428 271M436 219L430 235L433 253L427 269M428 271L427 269M503 365L508 357L512 349L517 342M517 342L499 326L477 315L461 296M472 343L464 337L455 332L449 325M447 319L451 312L451 304L451 297M451 297L461 296M452 377L461 367L463 353L472 343M505 374L503 365M427 372L439 358L437 338L449 325M375 368L377 353L387 341L392 327M392 327L410 318L428 318L447 319M448 290L451 297M392 327L384 320L384 307L376 300M428 271L411 282L394 292L376 300M559 402L563 386L571 372L584 362M506 375L528 364L553 360L576 353M576 353L584 362M622 366L621 362M584 362L596 359L609 360L621 362M650 338L641 341L636 349L627 351M621 362L627 351M633 173L633 173M633 173L619 178L611 192L597 196M293 392L293 382M238 375L249 362M293 382L276 380L262 372L249 362M363 369L347 361L329 362L313 353M293 382L298 372L308 364L313 353M186 302L196 299L206 298L215 295M203 338L218 342L233 340L246 346M215 295L225 311L240 322L254 333M254 333L246 346M246 346L249 362M715 279L714 278M714 278L726 260L738 242L750 223M605 299L615 314L622 331L626 348M667 317L666 308L668 300L670 292M626 348L627 351M650 280L658 283L664 288L670 292M714 278L703 274M670 292L683 290L690 276L703 274M564 332L569 325L569 316L573 308M564 332L550 333L536 338L521 335M521 335L520 321L515 307L514 292M573 308L575 303L575 296L576 290M525 279L514 292M525 279L539 279L553 275L567 273M567 273L571 278L572 285L576 290M576 353L573 346L567 340L564 332M626 348L611 331L593 318L573 308M517 342L521 335M461 296L479 295L496 290L514 292M605 299L596 296L585 296L576 290M496 226L503 245L514 262L525 279M579 244L577 255L574 265L567 273M579 244L597 244L614 244L632 245M650 280L647 267L635 259L632 245M352 202L351 209L350 217L349 224M376 244L365 243M349 224L356 229L360 236L365 243M365 243L362 260L361 276L359 293M644 184L655 185L666 182L677 185M644 184L647 198L646 211L644 224M644 224L662 231L680 238L701 238M677 185L686 185L693 189L700 192M700 192L704 203L699 216L705 227M676 173L677 185M632 245L637 239L637 230L644 224M703 274L705 262L698 250L701 238M728 173L714 182L700 192M199 218L211 237L226 253L244 267M215 295L223 287L233 283L241 277M244 267L241 277M254 333L265 330L272 321L282 316M241 277L250 294L267 304L282 316M299 246L290 224L270 207L265 182M299 248L284 249L270 251L256 258M264 182L265 182M264 182L260 200L256 217L251 234M251 234L253 242L253 250L256 258M266 180L265 182M349 224L334 235L316 238L299 246M215 188L231 183L247 181L264 182M199 218L217 221L234 228L251 234M244 267L256 258M313 353L307 338L291 330L285 316M313 353L320 332L339 321L349 303M285 316L290 304L295 292L306 283M306 283L322 285L337 291L351 296M349 303L351 296M313 353L313 353M282 316L285 316M368 368L356 348L362 323L349 303M299 248L299 260L302 272L306 283M359 293L351 296M1034 436L1040 436M1034 436L1030 449M1030 449L1030 450M1030 450L1040 452M1030 450L1030 460M1030 460L1040 464M974 416L973 414M974 416L984 414M1030 460L1027 464M1027 464L1027 474M1001 414L1001 420M987 414L993 422M1001 420L993 422M993 422L993 422M1014 474L1012 469M1003 474L1012 469M1014 447L1008 456M1014 447L1030 449M1008 456L1007 458M1027 464L1011 461M1007 458L1011 461M1012 469L1011 461M1007 458L995 464M995 464L997 474M1040 431L1034 435M1034 436L1034 435M1034 435L1034 435M1014 447L1011 438M1011 438L1013 434M1034 435L1026 436L1020 432L1013 434M1001 420L1011 423M1016 414L1017 418M1017 418L1011 423M1011 438L996 439M993 422L996 439M1013 434L1011 423M1027 414L1025 418M1040 419L1034 417L1028 420M1028 420L1025 418M1017 418L1025 418M1034 435L1028 420M609 474L618 468M624 474L618 468M199 463L199 462M207 474L205 468L201 463M199 462L201 463M185 418L190 419L197 421M197 421L197 414M1008 456L997 446M984 460L995 464M984 460L984 458M984 458L997 446M996 439L995 440M997 446L995 440M965 474L966 469M981 474L980 467M966 469L980 467M984 460L980 467M838 414L839 418M839 418L826 419M826 419L824 414M839 418L843 421M854 414L854 417M843 421L854 417M958 414L957 415M974 416L973 417M957 415L962 419M973 417L962 419M905 439L907 439M905 439L904 438M907 439L914 435L920 432L926 427M904 438L906 429M906 429L911 425L917 422L923 421M923 421L926 427M902 449L889 448M902 449L905 439M892 438L889 448M892 438L904 438M904 426L888 418M904 426L906 417M906 417L904 414M888 418L889 414M843 421L840 431M855 433L841 434M855 433L859 423M859 423L854 417M840 431L841 434M592 474L597 468M581 474L577 471M577 471L584 468L590 466L596 463M597 468L596 463M709 414L709 415M694 414L691 418M709 415L703 415L697 417L691 418M728 417L728 414M728 417L742 421M742 421L744 420M744 420L743 414M189 429L189 430L196 431M197 421L198 424M196 431L198 424M256 422L247 418M256 422L262 417M262 417L263 414M248 414L247 418M910 474L912 474M896 474L896 473L893 467L890 462M912 474L906 469L902 464L897 459M890 462L897 459M913 474L913 473M913 473L912 474M919 460L914 457L907 456L902 455M919 460L913 473M902 455L897 459M902 449L902 455M886 461L883 455M886 461L890 462M889 448L883 455M892 438L884 433M883 455L872 446M872 446L877 443L879 437L884 433M906 429L904 426M888 418L883 423M884 433L883 423M871 414L875 422M859 423L867 426M867 426L875 422M883 423L875 422M885 462L872 469M885 462L885 474M871 474L872 469M886 461L885 462M858 474L857 472M857 472L868 467M868 467L872 469M979 430L979 442M979 430L976 428M976 428L965 429M979 442L977 445M977 445L964 440M965 429L964 440M993 422L979 430M995 440L979 442M973 417L976 428M962 419L963 427M963 427L965 429M984 458L977 449M977 449L977 445M950 432L963 427M950 432L952 444M952 444L964 440M917 444L925 439M917 444L907 439M926 427L927 429M925 439L927 429M923 421L923 420M906 417L914 414M923 420L921 414M956 415L945 424M956 415L956 414M945 424L939 414M939 414L939 414M950 432L945 426M957 415L956 415M945 426L945 424M945 426L935 430M935 430L927 429M923 420L939 414M727 469L727 470M727 469L727 469M727 469L731 474M725 474L727 470M728 417L728 417M709 415L710 416M728 417L710 416M742 421L742 430M742 430L732 439M732 439L725 431M728 417L725 431M773 417L775 414M773 417L785 420M788 414L788 417M785 420L788 417M773 417L771 418M771 418L766 414M744 420L751 419M751 419L758 414M790 430L785 420M790 430L788 432M768 428L771 418M768 428L778 440M788 432L778 440M742 430L750 436M751 419L757 431M750 436L757 431M768 428L763 431M757 431L763 431M817 414L816 417L812 423L812 430M826 419L824 429M824 429L812 430M840 431L828 432M824 429L828 432M732 439L732 445M732 445L739 450M750 436L751 447M739 450L751 447M763 431L763 443M763 443L753 448M753 448L751 447M597 462L588 455M597 462L596 463M577 471L574 470M572 461L574 470M572 461L578 455M578 455L588 455M574 470L574 470M574 470L574 474M601 474L597 468M628 442L628 455M628 442L621 446L615 451L608 454M628 455L612 457M612 457L608 454M608 454L608 454M618 468L612 457M634 474L637 460M637 460L628 455M597 462L608 454M643 456L637 460M643 456L644 453M628 442L630 436M630 436L637 437M644 453L637 437M285 474L285 470M285 470L299 471M299 474L299 471M292 430L282 434M292 430L290 420M290 420L277 422M282 434L277 429M277 429L276 423M276 423L277 422M292 414L290 420M279 414L277 422M262 417L276 423M207 435L197 436M207 435L217 440M217 440L208 449M208 449L194 447M197 436L194 446M194 446L194 447M196 431L197 436M198 424L214 421M214 421L207 435M194 446L194 446M199 462L194 447M214 421L215 420M215 420L214 414M229 453L233 459L239 462L243 466M229 453L237 448M243 466L243 460L245 454L244 447M237 448L244 447M213 459L214 457M213 459L218 473M214 457L224 453M218 473L228 469M228 469L226 454M224 453L226 454M201 463L213 459M208 449L214 457M217 474L218 473M219 440L217 440M219 440L224 453M240 474L228 469M241 474L244 469M244 469L243 466M229 453L226 454M219 440L227 431M227 431L232 435L234 442L237 448M496 474L496 473M485 474L496 473M487 449L481 462M487 449L489 449M489 449L495 456M495 456L493 467M493 467L481 462M500 442L513 449M500 442L489 449M505 458L513 449M505 458L495 456M505 468L505 458M505 468L496 473M496 473L493 467M474 466L481 462M474 466L482 474M496 473L496 473M943 449L948 455L952 461L958 465M943 449L952 444M952 444L963 457M963 457L961 464M961 464L958 465M977 449L963 457M952 444L952 444M966 469L961 464M952 474L953 468M953 468L958 465M938 449L940 449M938 449L931 451L925 454L920 459M942 450L942 456L942 462L941 468M942 450L940 449M936 470L939 471M936 470L929 468L926 461L920 459M920 459L920 459M939 471L941 468M925 439L938 449M935 430L938 436L941 442L940 449M917 444L920 459M953 468L941 468M943 449L942 450M931 474L936 470M940 474L939 471M919 460L920 459M678 474L678 467M678 467L670 474M727 469L720 457M727 470L720 470L713 471L706 470M720 457L709 458M709 458L706 470M696 474L697 473M678 466L678 467M678 466L693 467M693 467L697 473M705 474L704 472M697 473L704 472M704 472L706 470M800 430L799 415M800 430L808 432M809 431L808 432M809 431L808 425L809 418L806 414M799 415L801 414M790 430L800 430M788 417L799 415M812 430L809 431M778 440L777 442M763 443L772 446M772 446L777 442M764 461L757 457M764 461L767 462M767 462L771 457M757 457L753 448M772 446L771 457M847 471L844 468M847 471L846 474M844 468L827 469M830 474L827 469M857 472L855 471M855 471L847 471M868 467L865 456M855 471L857 460M857 460L865 456M855 433L860 444M867 426L867 432L866 439L868 445M860 444L868 445M872 446L869 446M865 456L869 446M868 445L869 446M828 432L826 447M808 440L815 446M808 440L808 432M815 446L826 447M747 466L738 463M747 466L751 474M733 467L739 473L740 474M733 467L738 463M739 450L738 463M757 457L747 466M764 461L759 465L755 470L753 474M767 462L769 465M766 474L769 465M727 469L733 467M732 445L724 448M720 457L724 448M574 446L578 455M574 446L585 438M588 455L587 440M587 440L585 438M578 419L567 421M578 419L574 433M567 421L560 427M574 433L565 434M565 434L561 430M561 430L560 428M560 427L560 428M566 414L567 421M583 416L583 414M583 416L578 419M589 421L583 416M589 421L589 423M589 423L584 437M584 437L574 433M555 414L556 421M556 421L560 427M574 446L566 443M566 443L565 434M584 437L585 438M574 470L565 473M564 474L565 473M546 449L546 457M546 449L547 449M547 449L560 451M546 457L549 469M564 458L555 467M564 458L560 451M555 467L549 469M566 443L560 451M561 430L556 436L554 444L547 449M546 474L549 469M537 474L535 473M535 473L531 463M531 463L546 457M572 461L564 458M565 473L555 467M510 469L518 468M510 469L510 474M518 468L521 474M520 463L518 468M520 463L513 449M505 468L510 469M513 449L513 449M530 462L531 463M530 462L520 463M535 473L533 474M644 453L654 446M637 437L643 433M654 446L643 433M631 414L632 416M632 416L642 415M642 414L642 415M416 420L424 417M416 420L412 420M424 414L424 417M412 420L410 414M416 420L418 435M424 417L426 419M426 419L432 428M432 428L425 437M418 435L425 437M244 469L257 463M257 463L253 450M244 447L249 445M249 445L253 450M256 422L256 433M277 429L272 431L265 432L260 435M256 433L260 435M268 474L268 473M285 470L284 470M284 470L268 473M257 463L266 465M268 473L266 465M367 427L353 418M367 427L355 433M353 418L350 434M355 433L350 434M304 428L312 434M304 428L305 417M305 417L310 414M310 414L318 427M312 434L318 431M318 431L318 427M293 431L304 428M293 431L292 430M297 414L305 417M284 470L284 458M266 465L274 455M284 458L274 455M282 434L280 440M260 435L264 440L268 444L274 447M280 440L274 447M249 445L251 438M253 450L260 450L266 450L273 451M251 438L256 433M274 447L273 451M273 451L274 455M327 414L328 415M328 415L338 425M338 425L345 414M310 414L311 414M318 427L328 415M247 418L236 414M247 418L235 430M234 414L226 427M235 430L227 430M227 430L226 427M247 418L247 418M251 438L235 430M215 420L226 427M227 431L227 430M426 419L437 416M437 416L438 414M486 449L474 445M486 449L485 431M474 445L477 431M485 431L477 431M474 466L471 466M464 460L471 466M464 460L471 446M487 449L486 449M471 446L474 445M500 442L499 431M490 428L499 431M490 428L485 431M491 419L490 426M491 419L491 414M490 426L478 415M478 415L478 414M508 417L491 419M508 417L506 414M643 456L652 461M658 474L654 464M652 461L654 464M724 448L714 442M709 458L704 452M704 452L714 442M725 431L713 434M714 442L713 434M710 416L708 430M708 430L713 434M769 465L781 474M780 445L791 459M780 445L793 445M798 452L797 458M798 452L793 445M797 458L793 460M793 460L791 459M777 442L780 445M771 457L778 458L784 457L791 459M788 432L793 445M808 440L798 452M784 474L788 471M788 471L793 460M828 450L829 455M828 450L844 443M829 455L845 456M844 443L849 448M849 448L848 454M845 456L848 454M841 434L844 443M826 447L828 450M860 444L849 448M857 460L848 454M844 468L845 456M815 446L813 456M797 458L798 458M798 458L813 456M829 455L825 466M813 456L825 466M827 469L825 467M825 467L825 466M589 421L599 417M600 414L599 417M589 423L602 433M587 440L602 440M602 433L602 440M608 454L608 447M608 447L602 440M643 433L658 431M643 433L643 417M643 417L658 422M658 431L658 422M643 417L642 415M658 422L664 414M368 473L359 472M368 473L368 474M359 472L358 474M359 472L359 471M345 474L359 471M374 433L376 433M374 433L369 426M376 433L391 424M369 426L370 424M370 424L376 419M391 424L376 419M352 414L353 418M367 427L369 426M365 414L370 424M379 414L376 419M334 447L325 446M334 447L345 441M338 430L324 433M338 430L345 436M324 433L325 446M345 436L345 441M318 431L324 433M338 425L338 430M350 434L345 436M333 461L330 463M333 461L341 461M341 461L344 474M330 463L334 474M293 431L297 441M312 434L308 445M297 441L308 445M280 440L292 446M297 441L292 446M284 458L291 457M292 446L291 457M299 471L301 461M301 461L291 457M450 474L453 470M453 470L459 474M431 474L442 471M442 471L445 474M464 460L460 460M471 466L469 474M460 460L453 470M530 462L531 448M513 449L517 446M517 446L531 448M546 449L538 444M531 448L538 444M490 428L490 426M477 431L476 430M478 415L473 424M476 430L473 424M693 467L693 460M704 452L702 451M693 460L702 451M696 434L694 441M696 434L708 430M702 451L694 441M817 470L806 468M817 470L816 474M806 468L803 474M798 458L806 468M825 467L817 470M788 471L794 474M609 426L619 436M609 426L610 420M610 420L612 418M612 418L626 424M626 424L627 434M627 434L619 436M602 433L609 426M608 447L619 436M599 417L610 420M613 414L612 418M632 416L626 424M630 436L627 434M643 433L643 433M654 446L659 445M658 431L662 435M662 435L659 445M652 461L662 450M659 445L662 450M654 464L669 455M662 450L669 455M693 460L680 449M694 441L681 447M680 449L681 447M678 466L673 456M680 449L673 456M658 474L661 467L670 464L673 456M669 455L673 456M673 456L673 456M673 421L671 434M673 421L686 418M689 426L685 430L680 434L674 435M689 426L688 420M674 435L671 434M688 420L686 418M666 414L673 421M662 435L671 434M685 414L686 418M696 434L689 426M681 447L674 435M691 418L688 420M412 420L404 424M418 435L410 437M410 437L404 424M391 442L391 442M391 442L376 433M391 424L396 424M391 442L395 436L396 430L396 424M394 414L397 423M404 424L397 423M397 423L396 424M416 450L423 466M416 450L405 448M405 448L405 448M405 448L402 460M406 467L423 466M406 467L402 460M423 466L423 466M425 437L426 444M426 444L416 450M410 437L405 448M391 442L405 448M392 474L405 470M405 470L405 474M425 474L423 466M406 467L405 470M347 447L354 447L361 445L367 448M347 447L348 456M348 456L357 462M357 462L364 456M364 456L368 449M367 448L368 449M355 433L361 437L363 443L367 448M345 441L347 447M333 461L334 447M341 461L348 456M359 471L357 462M374 433L369 449M369 449L368 449M387 471L372 470M387 471L388 463M388 463L381 454M372 470L373 465M373 465L380 454M381 454L380 454M368 473L372 470M388 474L387 471M402 460L388 463M391 442L381 454M364 456L373 465M369 449L380 454M318 468L326 462M318 468L305 459M326 462L321 450M321 450L310 449M310 449L305 459M330 463L326 462M317 474L318 468M301 461L305 459M325 446L321 450M308 445L310 449M440 460L456 457M440 460L435 457M435 457L434 449M456 457L452 445M452 445L439 444M434 449L439 444M442 471L440 460M460 460L456 457M423 466L435 457M426 444L434 449M432 428L439 430M439 430L439 444M499 431L505 427M517 446L517 438M517 438L505 427M508 417L509 418M517 414L516 417M516 417L509 418M505 427L509 418M450 425L455 417M450 425L449 425M449 425L455 439M455 417L465 423M465 423L464 437M455 439L463 438M463 438L464 437M437 416L450 425M455 414L455 417M439 430L449 425M452 445L455 439M473 424L465 423M476 430L464 437M471 446L463 438M522 420L525 427M522 420L531 414M525 427L538 433M539 414L540 415M539 432L538 433M539 432L541 416M541 416L540 415M517 438L525 427M516 417L522 420M538 444L538 433M541 414L540 415M560 428L553 429L546 429L539 432M556 421L541 416M526 477L522 480M526 477L526 474M522 480L514 478M525 474L526 474M516 474L513 477M514 478L513 477M202 474L202 474M1010 474L1010 477M1010 477L1017 478M1021 476L1017 478M1021 476L1021 474M1037 475L1037 474M1026 478L1026 478M1026 478L1032 476M1032 476L1032 476M1021 476L1026 478M1031 474L1032 476M1017 478L1018 480M922 486L921 490M922 486L931 485M931 485L932 486M931 490L932 490M932 490L932 486M971 483L966 485M971 483L975 488M966 485L965 490M975 488L974 490M975 488L978 489M978 489L979 490M510 490L510 488M510 488L513 486M513 486L519 488M519 488L520 490M522 480L522 483M514 478L513 486M519 488L522 483M532 483L528 487M532 483L535 483M535 483L536 484M536 484L536 490M528 489L528 487M528 489L529 490M526 477L532 483M522 483L528 487M544 490L542 485M542 485L536 484M526 490L528 489M417 474L411 477M419 474L420 483M411 477L417 485M420 483L417 485M417 485L409 486M417 485L417 490M409 486L407 490M526 474L526 474M510 488L506 487M505 490L506 487M323 490L326 488M326 488L328 490M347 490L347 485M347 485L341 484M341 484L337 487M337 490L337 487M354 488L354 490M354 488L362 486M362 486L363 487M363 487L362 490M354 488L349 484M349 484L347 485M367 490L366 487M366 487L363 487M361 479L363 478M361 479L355 476M363 478L364 474M355 476L355 475M355 475L356 474M351 480L349 484M351 480L355 476M362 486L361 479M370 479L369 486M370 479L373 476M373 476L374 477M374 477L379 483M369 486L375 487M375 487L379 483M366 487L369 486M363 478L370 479M373 474L373 476M376 490L375 487M318 490L318 490M318 490L317 490M911 490L912 488M922 486L918 482M912 488L918 482M902 490L903 482M903 482L909 484M912 488L909 484M974 474L971 477M971 477L968 474M971 483L972 480M966 485L960 483M972 480L971 477M960 483L959 475M959 475L964 474M972 480L980 479M982 474L982 477M980 479L982 477M978 489L983 483M980 479L983 483M988 489L988 484M983 483L988 484M598 474L598 476M598 476L593 479M588 474L589 476M593 479L589 476M584 478L580 474M584 478L589 476M549 490L551 487M551 487L560 487M559 490L560 487M622 477L621 487M622 477L615 477M615 477L613 478M613 478L617 489M621 487L617 489M622 477L625 475M615 474L615 477M625 474L625 475M717 490L716 484M722 490L726 486M716 484L717 481M717 481L726 483M726 483L726 486M732 490L731 488M726 486L731 488M878 490L878 488M878 488L873 485M873 485L867 488M867 488L866 490M751 490L744 485M739 490L740 486M740 486L744 485M731 488L736 480M736 480L740 486M726 483L728 479M736 480L736 480M728 479L736 480M753 474L752 476M751 477L747 478M751 477L752 476M744 476L747 478M744 476L743 474M763 479L765 476M763 479L752 476M765 476L764 474M753 487L752 490M753 487L751 477M744 485L747 478M753 487L763 481M763 481L763 479M737 478L736 480M737 478L744 476M736 474L737 478M813 474L813 475M822 474L822 476M813 475L820 477M822 476L820 477M542 485L547 481M551 487L549 481M549 481L547 481M408 474L406 475M406 474L406 475M411 477L406 475M406 475L406 475M423 474L426 475M427 474L426 475M211 474L211 476M209 477L211 476M211 476L216 478M216 478L220 474M326 488L327 484M337 487L331 484M327 484L331 484M355 475L355 474M383 483L385 476M383 483L379 483M374 477L384 475M385 476L384 475M384 475L383 474M313 482L317 485M313 482L314 478M314 478L317 475M317 475L325 480M317 485L325 481M325 481L325 480M317 474L317 475M309 474L314 478M318 490L317 485M327 484L325 481M304 481L301 488M304 481L310 483M310 483L310 490M301 490L301 488M303 479L307 474M303 479L304 481M313 482L310 483M896 490L895 486M903 482L901 480M901 480L895 486M909 484L911 477M901 480L901 477M901 477L904 474M911 477L905 474M959 475L959 475M959 475L959 474M938 475L934 474M938 475L938 475M938 475L939 474M931 485L926 476M938 475L938 481M932 486L935 485M938 481L935 485M931 474L926 476M932 490L932 490M935 485L942 490M942 490L942 490M960 483L955 485M957 490L955 485M942 490L943 490M992 474L992 475M982 477L989 480M992 475L989 480M988 484L990 481M990 481L989 480M601 479L612 478M601 479L604 486M606 487L604 486M606 487L612 478M612 478L612 478M610 474L612 478M598 476L601 479M608 490L606 487M597 489L597 490M597 489L604 486M613 478L612 478M617 490L617 489M597 489L593 485M587 490L593 485M593 479L593 483M593 483L593 485M560 487L562 484M549 481L553 478M562 484L553 478M570 490L570 488M570 488L573 490M585 490L582 489M581 490L582 489M593 483L582 485M582 489L582 485M584 478L582 484M582 484L582 485M621 487L625 487M625 475L629 480M629 480L630 483M630 483L625 487M625 487L626 490M635 475L629 480M635 475L634 474M638 478L635 475M638 478L642 475M642 474L642 475M707 490L707 490M707 490L707 490M705 484L706 483M705 484L707 490M706 483L716 484M705 484L701 484M701 484L698 490M686 490L688 488M692 490L688 488M725 474L717 476M716 474L717 476M717 476L717 476M728 479L726 474M717 481L717 476M707 479L717 476M707 479L706 474M706 483L707 479M763 481L765 484M765 484L765 485M760 490L765 485M765 476L765 476M765 476L767 474M826 485L822 488M826 485L823 477M823 477L822 476M820 477L816 483M822 488L816 483M832 490L829 486M829 486L826 485M822 488L821 490M538 476L537 474M538 476L538 476M538 476L542 474M542 474L542 474M528 474L538 476M535 483L538 476M547 481L542 474M384 490L385 489M387 490L385 489M383 483L384 484M385 489L384 484M385 476L390 475M389 474L390 475M399 485L394 484M399 485L405 478M393 477L398 475M393 477L394 483M398 475L405 477M405 478L405 477M394 483L394 484M401 490L399 485M392 490L394 484M409 486L405 478M390 475L393 477M398 474L398 475M384 484L394 483M406 475L405 477M417 485L417 485M461 490L462 490M462 490L459 484M459 484L453 490M456 477L456 474M456 477L451 476M446 474L451 476M456 477L459 482M459 482L447 485M451 476L447 485M459 484L459 482M449 490L445 487M459 482L459 482M445 487L447 485M303 479L301 478M301 478L300 474M276 479L272 477M276 479L275 486M275 486L267 486M270 477L272 477M270 477L267 482M267 482L267 486M277 490L275 486M266 490L267 486M216 478L216 479M222 474L227 475M228 474L228 475M227 475L228 475M227 475L226 482M331 484L333 478M325 480L328 474M333 478L331 474M338 474L340 478M344 474L340 479M344 474L344 474M340 479L340 478M333 478L340 478M351 480L344 474M341 484L340 479M901 477L894 474M894 474L894 474M917 474L917 475M924 476L924 474M924 476L919 477M919 477L917 475M911 477L917 475M926 476L924 476M918 482L919 477M952 485L950 486M952 485L953 474M950 486L946 482M946 482L948 476M948 476L949 474M953 474L953 474M955 485L952 485M948 490L950 486M959 475L953 474M938 481L946 482M938 475L948 476M999 486L997 483M997 483L998 479M998 479L1002 475M1007 483L1009 478M1009 478L1002 475M990 481L997 483M992 475L998 479M1001 474L1002 475M1010 477L1009 478M552 474L553 476M553 476L557 474M553 478L553 476M570 488L575 482M570 488L563 483M567 477L574 479M567 477L564 479M574 479L575 482M564 479L563 483M570 488L570 488M582 484L575 482M562 484L563 483M568 474L567 477M578 474L574 479M560 474L564 479M638 478L635 483M630 483L633 484M635 483L633 484M633 484L635 490M645 490L644 489M644 489L640 490M635 483L646 483M646 483L644 489M668 490L672 489M672 489L672 490M687 486L688 488M687 486L682 482M682 482L675 490M662 483L657 479M662 483L666 482M657 479L660 474M666 482L666 479M666 479L663 474M650 475L645 478M650 475L656 480M656 480L653 484M653 484L646 483M645 478L646 483M650 474L650 475M642 475L645 478M657 479L656 480M662 483L660 490M655 490L653 484M646 483L646 483M873 481L867 477M873 481L873 485M867 477L864 478M867 488L862 483M864 478L862 483M765 485L768 490M783 478L782 483M783 478L776 475M782 483L776 486M776 475L774 476M774 476L773 484M773 484L776 486M787 489L782 483M787 489L786 490M776 490L776 486M765 476L774 476M776 474L776 475M765 484L773 484M790 474L786 476M785 474L785 476M785 476L786 476M783 478L785 476M803 474L803 475M797 474L800 477M803 475L800 477M813 475L810 478M803 475L810 478M513 477L511 476M511 476L510 474M506 487L503 485M496 490L497 489M497 489L503 485M511 476L503 481M503 485L503 481M501 474L501 479M503 481L501 479M472 474L473 474M473 474L473 474M433 474L435 477M444 474L440 478M440 478L435 477M426 475L428 482M435 477L428 482M420 483L427 484M428 482L427 484M427 490L427 484M427 484L427 484M283 490L284 489M286 490L285 490M284 489L285 490M277 479L276 479M277 479L284 483M284 489L284 483M291 490L291 489M285 490L291 489M301 488L293 485M291 489L293 485M261 481L267 482M261 481L261 478M261 478L262 474M270 477L268 474M261 478L254 475M254 475L254 474M228 475L237 476M231 484L235 481M235 481L237 476M895 486L891 483M894 474L892 475M891 483L892 475M888 490L887 484M891 483L887 484M878 488L884 483M887 484L884 483M666 482L671 486M672 489L671 489M671 486L671 489M682 482L681 480M671 489L681 480M701 484L692 481M701 484L700 476M700 476L699 475M699 475L692 479M692 481L692 479M701 484L701 484M687 486L692 481M703 474L700 476M698 474L699 475M690 474L692 479M835 480L837 481M835 480L831 474M837 481L841 478M841 478L840 474M831 474L831 474M839 490L840 488M829 486L835 480M840 488L837 481M823 477L831 474M841 478L848 478M848 478L849 474M867 477L869 474M864 478L860 474M816 483L810 485M810 485L814 490M810 478L810 485M810 485L810 485M469 482L473 477M469 482L461 482M461 482L464 476M464 476L473 476M473 476L473 477M464 474L464 476M459 482L461 482M473 474L473 476M474 477L473 477M474 477L486 477M483 474L486 477M462 490L462 490M478 486L471 490M478 486L480 487M480 487L482 490M471 490L471 490M474 477L478 486M469 482L471 490M495 479L494 485M495 479L489 475M486 480L489 484M486 480L486 477M494 485L489 484M489 475L486 477M497 489L494 485M501 479L495 479M489 474L489 475M488 490L489 484M480 487L486 480M486 477L486 477M445 487L441 482M445 487L443 490M441 482L435 486M435 486L436 490M445 487L445 487M440 478L441 482M427 484L435 486M295 479L292 475M295 479L293 484M293 484L287 481M292 475L288 477M288 477L287 481M301 478L295 479M292 474L292 475M293 485L293 484M284 483L287 481M284 474L288 477M277 479L282 474M272 477L273 474M237 476L237 475M237 475L237 474M254 475L252 477M246 474L246 476M252 477L246 476M237 475L244 477M246 476L244 477M235 481L241 488M241 488L241 488M244 477L245 486M241 488L245 486M883 479L888 475M883 479L879 476M888 475L887 474M879 476L879 474M892 475L888 475M884 483L883 479M873 481L879 476M672 477L671 474M672 477L674 478M674 478L679 477M680 474L680 475M680 475L679 477M666 479L672 477M671 486L674 478M681 480L679 477M686 474L680 475M848 485L848 478M848 485L849 487M849 487L856 487M848 478L854 480M854 480L858 484M858 484L856 487M840 488L848 485M848 478L848 478M849 490L849 487M857 490L856 487M859 474L854 480M862 483L858 484M245 486L248 490M245 486L254 483M256 486L256 484M256 486L253 490M256 484L254 483M245 486L245 486M252 477L254 483M261 481L256 484M260 490L256 486M810 485L806 486M806 490L805 488M806 486L805 488M800 477L799 480M806 486L799 480M786 476L794 484M799 480L794 484M787 489L788 490M788 490L793 486M794 484L793 486M788 490L789 490M793 486L798 490M805 488L803 490M309 311L310 315M310 315L316 318M322 315L316 318M281 341L282 339M291 341L282 339M172 312L176 318M176 318L176 327M176 327L172 329M321 341L321 340M316 318L317 321M317 321L322 327M321 340L320 337M320 337L322 335M227 341L229 340M229 340L232 341M176 318L187 313M186 311L187 313M176 327L184 328M188 326L184 328M188 326L191 316M191 316L187 313M228 311L227 313M227 314L227 313M227 314L234 312L240 313L246 316M246 316L246 311M213 338L201 340M213 338L214 328M207 323L214 328M207 323L199 331M199 331L199 339M201 340L199 339M202 341L201 340M215 341L213 338M295 328L305 329M295 328L297 340M306 341L310 335M301 341L297 340M305 329L310 334M310 334L310 335M292 341L297 340M282 339L282 334M282 334L292 325M292 325L295 328M320 337L310 335M310 315L306 317M306 317L305 329M317 321L310 334M258 317L248 321M258 317L264 319M247 324L251 328M247 324L248 321M268 327L251 328M268 327L268 327M268 327L264 319M270 341L265 337M282 334L274 326M265 337L268 327M268 327L274 326M254 337L263 338M254 337L251 341M263 338L262 341M265 337L263 338M251 328L254 337M247 324L242 326M238 338L242 326M238 338L246 341M238 338L234 341M228 316L222 328M228 316L238 325M238 325L226 332M222 328L226 332M248 321L246 316M242 326L238 325M227 314L228 316M229 340L226 332M214 328L222 328M178 341L186 339M187 341L186 339M172 338L175 341M199 339L196 341M184 328L186 339M188 326L199 331M258 317L259 311M306 317L294 317M292 325L292 318M294 317L292 318M294 317L295 311M200 311L200 315M214 313L213 311M214 313L207 320M207 320L200 315M191 316L200 315M227 313L214 313M207 323L207 320M274 326L280 317M264 319L269 313M280 317L269 313M292 318L284 314M280 317L284 314M268 311L269 313M284 314L283 311M997 337L996 341M997 337L999 335M999 335L1009 341M1009 341L1009 341M1001 311L1002 313M1010 311L1006 314M1006 314L1002 313M1006 314L1008 324M1002 313L993 318M1008 324L1000 330M1000 330L993 323M993 323L993 318M968 340L967 341M968 340L959 338M959 338L953 341M973 333L974 337M973 333L979 324M974 337L979 341M987 327L979 324M987 327L988 337M988 337L980 341M963 325L973 333M963 325L961 326M968 340L974 337M961 326L959 338M993 323L987 327M993 318L986 312M978 315L986 312M978 315L979 324M997 337L988 337M999 335L1000 330M906 341L907 338M907 338L902 334M952 314L949 311M952 314L960 312M961 311L960 312M963 325L965 320M952 314L952 324M952 324L961 326M960 312L965 320M978 315L976 314M965 320L976 314M986 312L986 311M1009 341L1014 339M1008 324L1013 326M1013 326L1014 339M1014 339L1022 341M1022 315L1022 315M1022 315L1021 324M1021 324L1022 325M1018 311L1022 315M1013 326L1021 324M948 311L937 316M937 316L934 311M902 312L911 315M902 324L911 322M911 315L911 322M976 314L974 311M924 311L923 312M923 312L913 312M913 311L913 312M911 315L913 312M911 322L916 328M923 312L924 325M924 325L916 328M920 341L920 338M907 338L915 333M920 338L915 333M915 333L916 328M937 324L930 326M937 324L943 330M930 326L928 338M943 330L943 331M943 331L935 341M931 341L928 338M937 316L937 324M924 325L930 326M952 324L943 330M920 338L928 338M951 341L943 331M168 190L168 185M101 202L95 198L91 193L90 193M105 211L98 214L93 219M105 211L115 220M116 224L115 220M116 224L101 233M101 233L97 234M101 202L105 211M128 189L137 194M136 195L127 201L124 213L115 220M136 195L140 206L143 217L141 229M103 255L104 247L101 241L101 233M188 368L188 368L178 374L167 372M167 372L165 379L168 385L169 392M189 397L183 395L176 393L169 392M125 358L132 357L142 356M127 334L134 334L140 332L146 332M146 332L148 339L148 346L147 353M142 356L147 353M103 255L109 258L115 260L122 260M105 271L106 271L116 276M127 235L125 242L126 249L127 257M127 257L122 260M160 249L166 254L172 257L177 262M160 249L152 252L145 254L139 261M151 279L160 274L170 270L177 262M144 192L155 197M144 192L144 192M155 197L155 207L159 218L157 229M157 229L146 228M164 196L168 190M164 196L155 197M145 187L144 192M141 229L146 228M184 233L184 233L182 239M183 215L177 220L169 226L159 230M159 230L161 234M184 243L182 239M160 249L161 234M177 262L185 264M157 229L159 230M127 257L139 261M163 367L170 358L172 347L177 338M163 367L157 363L153 357L147 353M147 330L146 332M147 330L153 328L160 330L166 327M166 327L177 338M163 367L164 370M164 370L157 372L151 376L145 380M142 356L139 363L137 370L135 377M135 377L145 380M169 392L167 394M145 380L145 391M115 311L123 300M123 300L121 295M121 295L116 287M116 287L109 286M147 330L143 323L142 315L139 307M139 307L123 300M150 278L142 287L132 290L121 295M181 283L182 290L184 297L186 301M186 305L183 308L178 311L171 312M171 312L166 306L161 300L156 295M156 295L156 290M151 279L156 290M185 266L183 270L184 277L181 283M166 327L171 312M178 338L183 344L188 347M177 338L178 338M189 400L188 405L186 413L183 420M160 417L169 421M183 420L169 421M183 420L190 424M156 417L151 424L144 429L142 432M156 417L152 411L146 407L139 404M136 404L139 404M145 391L139 404M169 426L171 437L182 443L184 454M170 458L175 460M175 460L184 454M169 421L169 426M191 452L184 454M175 473L174 466L175 460M1025 423L1024 412L1030 402M1047 420L1040 415L1035 410L1030 402M1020 400L1023 399L1029 400M1007 245L1010 249M1011 214L1016 220L1022 225L1027 230M1011 214L1008 221L1005 224M1027 230L1026 237L1026 243L1022 249M1010 249L1022 249M1003 203L1005 195L1006 193M1011 214L1010 212M1010 212L1003 203M1029 400L1033 391M1020 325L1022 332L1020 340L1024 347M1019 350L1024 347M1033 391L1043 383M1047 420L1056 417L1063 409L1074 407M1043 383L1050 385L1056 385L1062 383M1074 407L1072 398L1068 390L1062 383M1022 249L1023 250M1023 250L1023 259L1026 269L1022 279M1098 271L1097 273L1090 279L1081 283M1081 283L1084 289L1091 292L1094 295M1011 299L1012 299L1024 299L1035 299M1037 307L1035 299M1022 279L1028 282L1032 287L1037 291M1036 253L1039 263L1046 272L1054 279M1037 291L1042 287L1047 282L1054 279M1066 265L1062 258L1058 252L1053 245M1054 279L1064 277M1066 265L1072 255L1080 246L1090 239M1102 249L1090 239M1064 277L1071 282M1092 193L1094 197M1110 205L1109 205M1027 230L1033 225L1040 223L1047 220M1053 245L1055 236M1047 220L1050 225L1053 231L1055 236M1090 239L1089 237M1055 236L1067 240L1078 238L1089 237M1081 370L1070 372M1070 372L1068 376M1062 383L1068 376M1084 331L1088 330M1093 305L1088 311L1082 316M1070 298L1075 303L1078 310L1082 316M1081 329L1082 316M1063 201L1062 193M1063 201L1063 204M1063 204L1058 209L1052 214L1047 219M1033 205L1037 210L1043 214L1047 219M1047 220L1047 219M1010 212L1017 208L1025 208L1033 205M1066 331L1062 327L1056 323L1053 317M1066 331L1059 343M1036 349L1043 338L1045 326L1045 313M1070 298L1064 304L1057 309L1053 317M1034 351L1036 349M1037 307L1045 313" fill="none" stroke="#a8cc48" stroke-opacity="0.62" stroke-width="6"/>
<path d="M923 192L938 194M923 192L909 203L897 217L886 231M951 251L951 231L943 213L938 194M951 251L944 259L935 264L930 273M930 273L914 273M914 273L908 268L900 265L892 265M886 231L888 242L893 253L892 265M1043 349L1039 351M1039 351L1033 360L1029 370L1024 379M1024 379L1041 390M991 173L990 176M990 176L976 185L960 189L944 191M944 191L950 177L952 173M1022 220L1028 216L1032 212L1036 207M1022 220L1009 207L999 192L990 176M910 173L910 174L915 184L923 192M938 194L942 192M942 192L944 191M1006 254L1007 246L1014 240L1015 232M1006 254L1004 263L1011 271L1009 280M1016 231L1015 232M1032 290L1025 285L1016 284L1009 280M1032 290L1044 285L1046 284M951 251L969 248L987 252L1006 254M942 192L968 204L994 214L1015 232M992 303L998 295L1001 286L1009 280M992 303L981 302L969 305L959 309M959 309L950 296L939 285L930 273M1022 220L1016 231M992 303L993 309L995 315L998 321M998 321L1010 334L1026 340L1039 351M1045 305L1044 304L1032 290M176 326L185 321M179 349L179 349L181 335L185 321M191 173L204 197M171 194L174 195L201 202M204 197L201 202M959 309L957 313M914 273L906 293L910 314L911 335M957 313L944 325L925 327L911 335M575 231L575 230M575 230L562 214L558 194L549 176M549 176L535 184L519 190L505 199M551 173L549 176M490 173L498 181L505 199M485 411L492 402L493 391M493 391L478 390L467 378L452 377M452 377L444 376L436 371L427 372M420 411L418 407L410 405M410 405L407 391M407 391L416 387L422 380L427 372M401 411L410 405M581 411L576 410L564 411M204 197L215 188M215 188L215 175L215 173M171 286L172 286M171 281L172 286M201 202L197 216M168 242L172 234L184 225L197 216M186 320L185 321M186 302L183 296L178 291L172 286M341 173L340 178L339 185M270 173L270 173L266 180M339 185L315 182L291 175L266 180M1024 379L1013 381L1002 383L991 383M983 411L984 404L987 393L991 383M998 321L992 338L983 355L981 374M957 313L954 331L959 349L962 367M962 367L968 370L974 373L981 374M981 374L991 383M773 218L765 199L760 177L756 173M773 218L774 219M774 219L786 199L808 191L825 176M496 226L495 226M452 173L451 187L438 200L435 217M435 217L436 219M493 391L496 384L502 380L505 374M559 402L562 411M559 402L541 394L523 386L506 375M506 375L505 374M437 173L435 173L433 173M391 185L377 188L366 199L352 202M391 185L400 194L408 206L421 212M186 401L190 388L202 378L207 365M186 320L191 326L196 333L203 338M203 338L206 347L203 356L207 365M225 411L226 410L233 403M274 411L277 403M186 402L194 409L197 411M238 375L228 371L217 370L207 365M307 411L300 406L293 392M293 392L288 396L283 400L277 403M342 411L347 402L356 386L363 369M375 368L368 368M375 368L386 376L398 381L407 391M363 369L368 368M607 411L614 401L620 384L622 366M745 411L742 409L732 409L723 404M723 404L712 404L701 399L690 402M650 338L667 349L677 365L687 381M650 338L657 332L661 323L667 317M687 381L689 367L697 356L703 344M667 317L676 330L689 338L703 344M723 404L716 384L722 363L723 343M687 381L690 388L689 395L690 402M703 344L710 341L717 345L723 343M847 397L856 411M847 397L833 401M833 401L825 408L813 410L812 411M756 411L762 410L767 405M725 342L723 343M767 405L768 397M825 176L828 175M828 175L827 173M848 173L841 182M932 373L927 369L922 363L916 360M916 360L901 370L891 386L874 393M874 393L884 407L894 411M962 367L952 369L942 369L932 373M911 335L906 341M906 341L907 348L912 354L916 360M847 397L855 390M855 390L861 392L868 393L874 393M832 245L833 237L830 230L830 222M832 245L848 235L868 241L884 230M884 230L872 219L859 207L845 197M774 221L793 218L811 227L830 222M774 221L773 237L778 252L781 267M821 270L823 261L831 254L832 245M774 219L774 221M841 182L845 197M886 231L884 230M735 341L747 335L757 324L771 321M771 321L770 337L774 351L783 364M768 282L771 293L770 305L773 316M768 282L750 283L733 279L715 279M715 279L726 298L726 320L725 342M771 321L773 316M783 364L791 363L799 359L808 359M881 274L861 276L842 271L822 270M881 274L874 293L878 314L867 331M822 270L833 289L826 312L837 331M855 337L867 331M855 337L838 332M838 332L837 331M892 265L881 274M821 270L822 270M906 341L894 335L880 335L867 331M768 282L774 278L778 273L781 267M773 316L795 320L816 327L837 331M855 390L855 373L855 355L855 337M808 359L821 353L827 340L838 332M448 290L443 282L436 276L428 271M436 219L430 235L433 253L427 269M428 271L427 269M503 365L508 357L512 349L517 342M517 342L499 326L477 315L461 296M472 343L464 337L455 332L449 325M447 319L451 312L451 304L451 297M451 297L461 296M452 377L461 367L463 353L472 343M505 374L503 365M427 372L439 358L437 338L449 325M375 368L377 353L387 341L392 327M392 327L410 318L428 318L447 319M448 290L451 297M392 327L384 320L384 307L376 300M428 271L411 282L394 292L376 300M559 402L563 386L571 372L584 362M506 375L528 364L553 360L576 353M576 353L584 362M622 366L621 362M584 362L596 359L609 360L621 362M650 338L641 341L636 349L627 351M621 362L627 351M633 173L633 173M633 173L619 178L611 192L597 196M293 392L293 382M238 375L249 362M293 382L276 380L262 372L249 362M363 369L347 361L329 362L313 353M293 382L298 372L308 364L313 353M186 302L196 299L206 298L215 295M203 338L218 342L233 340L246 346M215 295L225 311L240 322L254 333M254 333L246 346M246 346L249 362M715 279L714 278M714 278L726 260L738 242L750 223M605 299L615 314L622 331L626 348M667 317L666 308L668 300L670 292M626 348L627 351M650 280L658 283L664 288L670 292M714 278L703 274M670 292L683 290L690 276L703 274M564 332L569 325L569 316L573 308M564 332L550 333L536 338L521 335M521 335L520 321L515 307L514 292M573 308L575 303L575 296L576 290M525 279L514 292M525 279L539 279L553 275L567 273M567 273L571 278L572 285L576 290M576 353L573 346L567 340L564 332M626 348L611 331L593 318L573 308M517 342L521 335M461 296L479 295L496 290L514 292M605 299L596 296L585 296L576 290M496 226L503 245L514 262L525 279M579 244L577 255L574 265L567 273M579 244L597 244L614 244L632 245M650 280L647 267L635 259L632 245M352 202L351 209L350 217L349 224M376 244L365 243M349 224L356 229L360 236L365 243M365 243L362 260L361 276L359 293M644 184L655 185L666 182L677 185M644 184L647 198L646 211L644 224M644 224L662 231L680 238L701 238M677 185L686 185L693 189L700 192M700 192L704 203L699 216L705 227M676 173L677 185M632 245L637 239L637 230L644 224M703 274L705 262L698 250L701 238M728 173L714 182L700 192M199 218L211 237L226 253L244 267M215 295L223 287L233 283L241 277M244 267L241 277M254 333L265 330L272 321L282 316M241 277L250 294L267 304L282 316M299 246L290 224L270 207L265 182M299 248L284 249L270 251L256 258M264 182L265 182M264 182L260 200L256 217L251 234M251 234L253 242L253 250L256 258M266 180L265 182M349 224L334 235L316 238L299 246M215 188L231 183L247 181L264 182M199 218L217 221L234 228L251 234M244 267L256 258M313 353L307 338L291 330L285 316M313 353L320 332L339 321L349 303M285 316L290 304L295 292L306 283M306 283L322 285L337 291L351 296M349 303L351 296M313 353L313 353M282 316L285 316M368 368L356 348L362 323L349 303M299 248L299 260L302 272L306 283M359 293L351 296M1034 436L1040 436M1034 436L1030 449M1030 449L1030 450M1030 450L1040 452M1030 450L1030 460M1030 460L1040 464M974 416L973 414M974 416L984 414M1030 460L1027 464M1027 464L1027 474M1001 414L1001 420M987 414L993 422M1001 420L993 422M993 422L993 422M1014 474L1012 469M1003 474L1012 469M1014 447L1008 456M1014 447L1030 449M1008 456L1007 458M1027 464L1011 461M1007 458L1011 461M1012 469L1011 461M1007 458L995 464M995 464L997 474M1040 431L1034 435M1034 436L1034 435M1034 435L1034 435M1014 447L1011 438M1011 438L1013 434M1034 435L1026 436L1020 432L1013 434M1001 420L1011 423M1016 414L1017 418M1017 418L1011 423M1011 438L996 439M993 422L996 439M1013 434L1011 423M1027 414L1025 418M1040 419L1034 417L1028 420M1028 420L1025 418M1017 418L1025 418M1034 435L1028 420M609 474L618 468M624 474L618 468M199 463L199 462M207 474L205 468L201 463M199 462L201 463M185 418L190 419L197 421M197 421L197 414M1008 456L997 446M984 460L995 464M984 460L984 458M984 458L997 446M996 439L995 440M997 446L995 440M965 474L966 469M981 474L980 467M966 469L980 467M984 460L980 467M838 414L839 418M839 418L826 419M826 419L824 414M839 418L843 421M854 414L854 417M843 421L854 417M958 414L957 415M974 416L973 417M957 415L962 419M973 417L962 419M905 439L907 439M905 439L904 438M907 439L914 435L920 432L926 427M904 438L906 429M906 429L911 425L917 422L923 421M923 421L926 427M902 449L889 448M902 449L905 439M892 438L889 448M892 438L904 438M904 426L888 418M904 426L906 417M906 417L904 414M888 418L889 414M843 421L840 431M855 433L841 434M855 433L859 423M859 423L854 417M840 431L841 434M592 474L597 468M581 474L577 471M577 471L584 468L590 466L596 463M597 468L596 463M709 414L709 415M694 414L691 418M709 415L703 415L697 417L691 418M728 417L728 414M728 417L742 421M742 421L744 420M744 420L743 414M189 429L189 430L196 431M197 421L198 424M196 431L198 424M256 422L247 418M256 422L262 417M262 417L263 414M248 414L247 418M910 474L912 474M896 474L896 473L893 467L890 462M912 474L906 469L902 464L897 459M890 462L897 459M913 474L913 473M913 473L912 474M919 460L914 457L907 456L902 455M919 460L913 473M902 455L897 459M902 449L902 455M886 461L883 455M886 461L890 462M889 448L883 455M892 438L884 433M883 455L872 446M872 446L877 443L879 437L884 433M906 429L904 426M888 418L883 423M884 433L883 423M871 414L875 422M859 423L867 426M867 426L875 422M883 423L875 422M885 462L872 469M885 462L885 474M871 474L872 469M886 461L885 462M858 474L857 472M857 472L868 467M868 467L872 469M979 430L979 442M979 430L976 428M976 428L965 429M979 442L977 445M977 445L964 440M965 429L964 440M993 422L979 430M995 440L979 442M973 417L976 428M962 419L963 427M963 427L965 429M984 458L977 449M977 449L977 445M950 432L963 427M950 432L952 444M952 444L964 440M917 444L925 439M917 444L907 439M926 427L927 429M925 439L927 429M923 421L923 420M906 417L914 414M923 420L921 414M956 415L945 424M956 415L956 414M945 424L939 414M939 414L939 414M950 432L945 426M957 415L956 415M945 426L945 424M945 426L935 430M935 430L927 429M923 420L939 414M727 469L727 470M727 469L727 469M727 469L731 474M725 474L727 470M728 417L728 417M709 415L710 416M728 417L710 416M742 421L742 430M742 430L732 439M732 439L725 431M728 417L725 431M773 417L775 414M773 417L785 420M788 414L788 417M785 420L788 417M773 417L771 418M771 418L766 414M744 420L751 419M751 419L758 414M790 430L785 420M790 430L788 432M768 428L771 418M768 428L778 440M788 432L778 440M742 430L750 436M751 419L757 431M750 436L757 431M768 428L763 431M757 431L763 431M817 414L816 417L812 423L812 430M826 419L824 429M824 429L812 430M840 431L828 432M824 429L828 432M732 439L732 445M732 445L739 450M750 436L751 447M739 450L751 447M763 431L763 443M763 443L753 448M753 448L751 447M597 462L588 455M597 462L596 463M577 471L574 470M572 461L574 470M572 461L578 455M578 455L588 455M574 470L574 470M574 470L574 474M601 474L597 468M628 442L628 455M628 442L621 446L615 451L608 454M628 455L612 457M612 457L608 454M608 454L608 454M618 468L612 457M634 474L637 460M637 460L628 455M597 462L608 454M643 456L637 460M643 456L644 453M628 442L630 436M630 436L637 437M644 453L637 437M285 474L285 470M285 470L299 471M299 474L299 471M292 430L282 434M292 430L290 420M290 420L277 422M282 434L277 429M277 429L276 423M276 423L277 422M292 414L290 420M279 414L277 422M262 417L276 423M207 435L197 436M207 435L217 440M217 440L208 449M208 449L194 447M197 436L194 446M194 446L194 447M196 431L197 436M198 424L214 421M214 421L207 435M194 446L194 446M199 462L194 447M214 421L215 420M215 420L214 414M229 453L233 459L239 462L243 466M229 453L237 448M243 466L243 460L245 454L244 447M237 448L244 447M213 459L214 457M213 459L218 473M214 457L224 453M218 473L228 469M228 469L226 454M224 453L226 454M201 463L213 459M208 449L214 457M217 474L218 473M219 440L217 440M219 440L224 453M240 474L228 469M241 474L244 469M244 469L243 466M229 453L226 454M219 440L227 431M227 431L232 435L234 442L237 448M496 474L496 473M485 474L496 473M487 449L481 462M487 449L489 449M489 449L495 456M495 456L493 467M493 467L481 462M500 442L513 449M500 442L489 449M505 458L513 449M505 458L495 456M505 468L505 458M505 468L496 473M496 473L493 467M474 466L481 462M474 466L482 474M496 473L496 473M943 449L948 455L952 461L958 465M943 449L952 444M952 444L963 457M963 457L961 464M961 464L958 465M977 449L963 457M952 444L952 444M966 469L961 464M952 474L953 468M953 468L958 465M938 449L940 449M938 449L931 451L925 454L920 459M942 450L942 456L942 462L941 468M942 450L940 449M936 470L939 471M936 470L929 468L926 461L920 459M920 459L920 459M939 471L941 468M925 439L938 449M935 430L938 436L941 442L940 449M917 444L920 459M953 468L941 468M943 449L942 450M931 474L936 470M940 474L939 471M919 460L920 459M678 474L678 467M678 467L670 474M727 469L720 457M727 470L720 470L713 471L706 470M720 457L709 458M709 458L706 470M696 474L697 473M678 466L678 467M678 466L693 467M693 467L697 473M705 474L704 472M697 473L704 472M704 472L706 470M800 430L799 415M800 430L808 432M809 431L808 432M809 431L808 425L809 418L806 414M799 415L801 414M790 430L800 430M788 417L799 415M812 430L809 431M778 440L777 442M763 443L772 446M772 446L777 442M764 461L757 457M764 461L767 462M767 462L771 457M757 457L753 448M772 446L771 457M847 471L844 468M847 471L846 474M844 468L827 469M830 474L827 469M857 472L855 471M855 471L847 471M868 467L865 456M855 471L857 460M857 460L865 456M855 433L860 444M867 426L867 432L866 439L868 445M860 444L868 445M872 446L869 446M865 456L869 446M868 445L869 446M828 432L826 447M808 440L815 446M808 440L808 432M815 446L826 447M747 466L738 463M747 466L751 474M733 467L739 473L740 474M733 467L738 463M739 450L738 463M757 457L747 466M764 461L759 465L755 470L753 474M767 462L769 465M766 474L769 465M727 469L733 467M732 445L724 448M720 457L724 448M574 446L578 455M574 446L585 438M588 455L587 440M587 440L585 438M578 419L567 421M578 419L574 433M567 421L560 427M574 433L565 434M565 434L561 430M561 430L560 428M560 427L560 428M566 414L567 421M583 416L583 414M583 416L578 419M589 421L583 416M589 421L589 423M589 423L584 437M584 437L574 433M555 414L556 421M556 421L560 427M574 446L566 443M566 443L565 434M584 437L585 438M574 470L565 473M564 474L565 473M546 449L546 457M546 449L547 449M547 449L560 451M546 457L549 469M564 458L555 467M564 458L560 451M555 467L549 469M566 443L560 451M561 430L556 436L554 444L547 449M546 474L549 469M537 474L535 473M535 473L531 463M531 463L546 457M572 461L564 458M565 473L555 467M510 469L518 468M510 469L510 474M518 468L521 474M520 463L518 468M520 463L513 449M505 468L510 469M513 449L513 449M530 462L531 463M530 462L520 463M535 473L533 474M644 453L654 446M637 437L643 433M654 446L643 433M631 414L632 416M632 416L642 415M642 414L642 415M416 420L424 417M416 420L412 420M424 414L424 417M412 420L410 414M416 420L418 435M424 417L426 419M426 419L432 428M432 428L425 437M418 435L425 437M244 469L257 463M257 463L253 450M244 447L249 445M249 445L253 450M256 422L256 433M277 429L272 431L265 432L260 435M256 433L260 435M268 474L268 473M285 470L284 470M284 470L268 473M257 463L266 465M268 473L266 465M367 427L353 418M367 427L355 433M353 418L350 434M355 433L350 434M304 428L312 434M304 428L305 417M305 417L310 414M310 414L318 427M312 434L318 431M318 431L318 427M293 431L304 428M293 431L292 430M297 414L305 417M284 470L284 458M266 465L274 455M284 458L274 455M282 434L280 440M260 435L264 440L268 444L274 447M280 440L274 447M249 445L251 438M253 450L260 450L266 450L273 451M251 438L256 433M274 447L273 451M273 451L274 455M327 414L328 415M328 415L338 425M338 425L345 414M310 414L311 414M318 427L328 415M247 418L236 414M247 418L235 430M234 414L226 427M235 430L227 430M227 430L226 427M247 418L247 418M251 438L235 430M215 420L226 427M227 431L227 430M426 419L437 416M437 416L438 414M486 449L474 445M486 449L485 431M474 445L477 431M485 431L477 431M474 466L471 466M464 460L471 466M464 460L471 446M487 449L486 449M471 446L474 445M500 442L499 431M490 428L499 431M490 428L485 431M491 419L490 426M491 419L491 414M490 426L478 415M478 415L478 414M508 417L491 419M508 417L506 414M643 456L652 461M658 474L654 464M652 461L654 464M724 448L714 442M709 458L704 452M704 452L714 442M725 431L713 434M714 442L713 434M710 416L708 430M708 430L713 434M769 465L781 474M780 445L791 459M780 445L793 445M798 452L797 458M798 452L793 445M797 458L793 460M793 460L791 459M777 442L780 445M771 457L778 458L784 457L791 459M788 432L793 445M808 440L798 452M784 474L788 471M788 471L793 460M828 450L829 455M828 450L844 443M829 455L845 456M844 443L849 448M849 448L848 454M845 456L848 454M841 434L844 443M826 447L828 450M860 444L849 448M857 460L848 454M844 468L845 456M815 446L813 456M797 458L798 458M798 458L813 456M829 455L825 466M813 456L825 466M827 469L825 467M825 467L825 466M589 421L599 417M600 414L599 417M589 423L602 433M587 440L602 440M602 433L602 440M608 454L608 447M608 447L602 440M643 433L658 431M643 433L643 417M643 417L658 422M658 431L658 422M643 417L642 415M658 422L664 414M368 473L359 472M368 473L368 474M359 472L358 474M359 472L359 471M345 474L359 471M374 433L376 433M374 433L369 426M376 433L391 424M369 426L370 424M370 424L376 419M391 424L376 419M352 414L353 418M367 427L369 426M365 414L370 424M379 414L376 419M334 447L325 446M334 447L345 441M338 430L324 433M338 430L345 436M324 433L325 446M345 436L345 441M318 431L324 433M338 425L338 430M350 434L345 436M333 461L330 463M333 461L341 461M341 461L344 474M330 463L334 474M293 431L297 441M312 434L308 445M297 441L308 445M280 440L292 446M297 441L292 446M284 458L291 457M292 446L291 457M299 471L301 461M301 461L291 457M450 474L453 470M453 470L459 474M431 474L442 471M442 471L445 474M464 460L460 460M471 466L469 474M460 460L453 470M530 462L531 448M513 449L517 446M517 446L531 448M546 449L538 444M531 448L538 444M490 428L490 426M477 431L476 430M478 415L473 424M476 430L473 424M693 467L693 460M704 452L702 451M693 460L702 451M696 434L694 441M696 434L708 430M702 451L694 441M817 470L806 468M817 470L816 474M806 468L803 474M798 458L806 468M825 467L817 470M788 471L794 474M609 426L619 436M609 426L610 420M610 420L612 418M612 418L626 424M626 424L627 434M627 434L619 436M602 433L609 426M608 447L619 436M599 417L610 420M613 414L612 418M632 416L626 424M630 436L627 434M643 433L643 433M654 446L659 445M658 431L662 435M662 435L659 445M652 461L662 450M659 445L662 450M654 464L669 455M662 450L669 455M693 460L680 449M694 441L681 447M680 449L681 447M678 466L673 456M680 449L673 456M658 474L661 467L670 464L673 456M669 455L673 456M673 456L673 456M673 421L671 434M673 421L686 418M689 426L685 430L680 434L674 435M689 426L688 420M674 435L671 434M688 420L686 418M666 414L673 421M662 435L671 434M685 414L686 418M696 434L689 426M681 447L674 435M691 418L688 420M412 420L404 424M418 435L410 437M410 437L404 424M391 442L391 442M391 442L376 433M391 424L396 424M391 442L395 436L396 430L396 424M394 414L397 423M404 424L397 423M397 423L396 424M416 450L423 466M416 450L405 448M405 448L405 448M405 448L402 460M406 467L423 466M406 467L402 460M423 466L423 466M425 437L426 444M426 444L416 450M410 437L405 448M391 442L405 448M392 474L405 470M405 470L405 474M425 474L423 466M406 467L405 470M347 447L354 447L361 445L367 448M347 447L348 456M348 456L357 462M357 462L364 456M364 456L368 449M367 448L368 449M355 433L361 437L363 443L367 448M345 441L347 447M333 461L334 447M341 461L348 456M359 471L357 462M374 433L369 449M369 449L368 449M387 471L372 470M387 471L388 463M388 463L381 454M372 470L373 465M373 465L380 454M381 454L380 454M368 473L372 470M388 474L387 471M402 460L388 463M391 442L381 454M364 456L373 465M369 449L380 454M318 468L326 462M318 468L305 459M326 462L321 450M321 450L310 449M310 449L305 459M330 463L326 462M317 474L318 468M301 461L305 459M325 446L321 450M308 445L310 449M440 460L456 457M440 460L435 457M435 457L434 449M456 457L452 445M452 445L439 444M434 449L439 444M442 471L440 460M460 460L456 457M423 466L435 457M426 444L434 449M432 428L439 430M439 430L439 444M499 431L505 427M517 446L517 438M517 438L505 427M508 417L509 418M517 414L516 417M516 417L509 418M505 427L509 418M450 425L455 417M450 425L449 425M449 425L455 439M455 417L465 423M465 423L464 437M455 439L463 438M463 438L464 437M437 416L450 425M455 414L455 417M439 430L449 425M452 445L455 439M473 424L465 423M476 430L464 437M471 446L463 438M522 420L525 427M522 420L531 414M525 427L538 433M539 414L540 415M539 432L538 433M539 432L541 416M541 416L540 415M517 438L525 427M516 417L522 420M538 444L538 433M541 414L540 415M560 428L553 429L546 429L539 432M556 421L541 416M526 477L522 480M526 477L526 474M522 480L514 478M525 474L526 474M516 474L513 477M514 478L513 477M202 474L202 474M1010 474L1010 477M1010 477L1017 478M1021 476L1017 478M1021 476L1021 474M1037 475L1037 474M1026 478L1026 478M1026 478L1032 476M1032 476L1032 476M1021 476L1026 478M1031 474L1032 476M1017 478L1018 480M922 486L921 490M922 486L931 485M931 485L932 486M931 490L932 490M932 490L932 486M971 483L966 485M971 483L975 488M966 485L965 490M975 488L974 490M975 488L978 489M978 489L979 490M510 490L510 488M510 488L513 486M513 486L519 488M519 488L520 490M522 480L522 483M514 478L513 486M519 488L522 483M532 483L528 487M532 483L535 483M535 483L536 484M536 484L536 490M528 489L528 487M528 489L529 490M526 477L532 483M522 483L528 487M544 490L542 485M542 485L536 484M526 490L528 489M417 474L411 477M419 474L420 483M411 477L417 485M420 483L417 485M417 485L409 486M417 485L417 490M409 486L407 490M526 474L526 474M510 488L506 487M505 490L506 487M323 490L326 488M326 488L328 490M347 490L347 485M347 485L341 484M341 484L337 487M337 490L337 487M354 488L354 490M354 488L362 486M362 486L363 487M363 487L362 490M354 488L349 484M349 484L347 485M367 490L366 487M366 487L363 487M361 479L363 478M361 479L355 476M363 478L364 474M355 476L355 475M355 475L356 474M351 480L349 484M351 480L355 476M362 486L361 479M370 479L369 486M370 479L373 476M373 476L374 477M374 477L379 483M369 486L375 487M375 487L379 483M366 487L369 486M363 478L370 479M373 474L373 476M376 490L375 487M318 490L318 490M318 490L317 490M911 490L912 488M922 486L918 482M912 488L918 482M902 490L903 482M903 482L909 484M912 488L909 484M974 474L971 477M971 477L968 474M971 483L972 480M966 485L960 483M972 480L971 477M960 483L959 475M959 475L964 474M972 480L980 479M982 474L982 477M980 479L982 477M978 489L983 483M980 479L983 483M988 489L988 484M983 483L988 484M598 474L598 476M598 476L593 479M588 474L589 476M593 479L589 476M584 478L580 474M584 478L589 476M549 490L551 487M551 487L560 487M559 490L560 487M622 477L621 487M622 477L615 477M615 477L613 478M613 478L617 489M621 487L617 489M622 477L625 475M615 474L615 477M625 474L625 475M717 490L716 484M722 490L726 486M716 484L717 481M717 481L726 483M726 483L726 486M732 490L731 488M726 486L731 488M878 490L878 488M878 488L873 485M873 485L867 488M867 488L866 490M751 490L744 485M739 490L740 486M740 486L744 485M731 488L736 480M736 480L740 486M726 483L728 479M736 480L736 480M728 479L736 480M753 474L752 476M751 477L747 478M751 477L752 476M744 476L747 478M744 476L743 474M763 479L765 476M763 479L752 476M765 476L764 474M753 487L752 490M753 487L751 477M744 485L747 478M753 487L763 481M763 481L763 479M737 478L736 480M737 478L744 476M736 474L737 478M813 474L813 475M822 474L822 476M813 475L820 477M822 476L820 477M542 485L547 481M551 487L549 481M549 481L547 481M408 474L406 475M406 474L406 475M411 477L406 475M406 475L406 475M423 474L426 475M427 474L426 475M211 474L211 476M209 477L211 476M211 476L216 478M216 478L220 474M326 488L327 484M337 487L331 484M327 484L331 484M355 475L355 474M383 483L385 476M383 483L379 483M374 477L384 475M385 476L384 475M384 475L383 474M313 482L317 485M313 482L314 478M314 478L317 475M317 475L325 480M317 485L325 481M325 481L325 480M317 474L317 475M309 474L314 478M318 490L317 485M327 484L325 481M304 481L301 488M304 481L310 483M310 483L310 490M301 490L301 488M303 479L307 474M303 479L304 481M313 482L310 483M896 490L895 486M903 482L901 480M901 480L895 486M909 484L911 477M901 480L901 477M901 477L904 474M911 477L905 474M959 475L959 475M959 475L959 474M938 475L934 474M938 475L938 475M938 475L939 474M931 485L926 476M938 475L938 481M932 486L935 485M938 481L935 485M931 474L926 476M932 490L932 490M935 485L942 490M942 490L942 490M960 483L955 485M957 490L955 485M942 490L943 490M992 474L992 475M982 477L989 480M992 475L989 480M988 484L990 481M990 481L989 480M601 479L612 478M601 479L604 486M606 487L604 486M606 487L612 478M612 478L612 478M610 474L612 478M598 476L601 479M608 490L606 487M597 489L597 490M597 489L604 486M613 478L612 478M617 490L617 489M597 489L593 485M587 490L593 485M593 479L593 483M593 483L593 485M560 487L562 484M549 481L553 478M562 484L553 478M570 490L570 488M570 488L573 490M585 490L582 489M581 490L582 489M593 483L582 485M582 489L582 485M584 478L582 484M582 484L582 485M621 487L625 487M625 475L629 480M629 480L630 483M630 483L625 487M625 487L626 490M635 475L629 480M635 475L634 474M638 478L635 475M638 478L642 475M642 474L642 475M707 490L707 490M707 490L707 490M705 484L706 483M705 484L707 490M706 483L716 484M705 484L701 484M701 484L698 490M686 490L688 488M692 490L688 488M725 474L717 476M716 474L717 476M717 476L717 476M728 479L726 474M717 481L717 476M707 479L717 476M707 479L706 474M706 483L707 479M763 481L765 484M765 484L765 485M760 490L765 485M765 476L765 476M765 476L767 474M826 485L822 488M826 485L823 477M823 477L822 476M820 477L816 483M822 488L816 483M832 490L829 486M829 486L826 485M822 488L821 490M538 476L537 474M538 476L538 476M538 476L542 474M542 474L542 474M528 474L538 476M535 483L538 476M547 481L542 474M384 490L385 489M387 490L385 489M383 483L384 484M385 489L384 484M385 476L390 475M389 474L390 475M399 485L394 484M399 485L405 478M393 477L398 475M393 477L394 483M398 475L405 477M405 478L405 477M394 483L394 484M401 490L399 485M392 490L394 484M409 486L405 478M390 475L393 477M398 474L398 475M384 484L394 483M406 475L405 477M417 485L417 485M461 490L462 490M462 490L459 484M459 484L453 490M456 477L456 474M456 477L451 476M446 474L451 476M456 477L459 482M459 482L447 485M451 476L447 485M459 484L459 482M449 490L445 487M459 482L459 482M445 487L447 485M303 479L301 478M301 478L300 474M276 479L272 477M276 479L275 486M275 486L267 486M270 477L272 477M270 477L267 482M267 482L267 486M277 490L275 486M266 490L267 486M216 478L216 479M222 474L227 475M228 474L228 475M227 475L228 475M227 475L226 482M331 484L333 478M325 480L328 474M333 478L331 474M338 474L340 478M344 474L340 479M344 474L344 474M340 479L340 478M333 478L340 478M351 480L344 474M341 484L340 479M901 477L894 474M894 474L894 474M917 474L917 475M924 476L924 474M924 476L919 477M919 477L917 475M911 477L917 475M926 476L924 476M918 482L919 477M952 485L950 486M952 485L953 474M950 486L946 482M946 482L948 476M948 476L949 474M953 474L953 474M955 485L952 485M948 490L950 486M959 475L953 474M938 481L946 482M938 475L948 476M999 486L997 483M997 483L998 479M998 479L1002 475M1007 483L1009 478M1009 478L1002 475M990 481L997 483M992 475L998 479M1001 474L1002 475M1010 477L1009 478M552 474L553 476M553 476L557 474M553 478L553 476M570 488L575 482M570 488L563 483M567 477L574 479M567 477L564 479M574 479L575 482M564 479L563 483M570 488L570 488M582 484L575 482M562 484L563 483M568 474L567 477M578 474L574 479M560 474L564 479M638 478L635 483M630 483L633 484M635 483L633 484M633 484L635 490M645 490L644 489M644 489L640 490M635 483L646 483M646 483L644 489M668 490L672 489M672 489L672 490M687 486L688 488M687 486L682 482M682 482L675 490M662 483L657 479M662 483L666 482M657 479L660 474M666 482L666 479M666 479L663 474M650 475L645 478M650 475L656 480M656 480L653 484M653 484L646 483M645 478L646 483M650 474L650 475M642 475L645 478M657 479L656 480M662 483L660 490M655 490L653 484M646 483L646 483M873 481L867 477M873 481L873 485M867 477L864 478M867 488L862 483M864 478L862 483M765 485L768 490M783 478L782 483M783 478L776 475M782 483L776 486M776 475L774 476M774 476L773 484M773 484L776 486M787 489L782 483M787 489L786 490M776 490L776 486M765 476L774 476M776 474L776 475M765 484L773 484M790 474L786 476M785 474L785 476M785 476L786 476M783 478L785 476M803 474L803 475M797 474L800 477M803 475L800 477M813 475L810 478M803 475L810 478M513 477L511 476M511 476L510 474M506 487L503 485M496 490L497 489M497 489L503 485M511 476L503 481M503 485L503 481M501 474L501 479M503 481L501 479M472 474L473 474M473 474L473 474M433 474L435 477M444 474L440 478M440 478L435 477M426 475L428 482M435 477L428 482M420 483L427 484M428 482L427 484M427 490L427 484M427 484L427 484M283 490L284 489M286 490L285 490M284 489L285 490M277 479L276 479M277 479L284 483M284 489L284 483M291 490L291 489M285 490L291 489M301 488L293 485M291 489L293 485M261 481L267 482M261 481L261 478M261 478L262 474M270 477L268 474M261 478L254 475M254 475L254 474M228 475L237 476M231 484L235 481M235 481L237 476M895 486L891 483M894 474L892 475M891 483L892 475M888 490L887 484M891 483L887 484M878 488L884 483M887 484L884 483M666 482L671 486M672 489L671 489M671 486L671 489M682 482L681 480M671 489L681 480M701 484L692 481M701 484L700 476M700 476L699 475M699 475L692 479M692 481L692 479M701 484L701 484M687 486L692 481M703 474L700 476M698 474L699 475M690 474L692 479M835 480L837 481M835 480L831 474M837 481L841 478M841 478L840 474M831 474L831 474M839 490L840 488M829 486L835 480M840 488L837 481M823 477L831 474M841 478L848 478M848 478L849 474M867 477L869 474M864 478L860 474M816 483L810 485M810 485L814 490M810 478L810 485M810 485L810 485M469 482L473 477M469 482L461 482M461 482L464 476M464 476L473 476M473 476L473 477M464 474L464 476M459 482L461 482M473 474L473 476M474 477L473 477M474 477L486 477M483 474L486 477M462 490L462 490M478 486L471 490M478 486L480 487M480 487L482 490M471 490L471 490M474 477L478 486M469 482L471 490M495 479L494 485M495 479L489 475M486 480L489 484M486 480L486 477M494 485L489 484M489 475L486 477M497 489L494 485M501 479L495 479M489 474L489 475M488 490L489 484M480 487L486 480M486 477L486 477M445 487L441 482M445 487L443 490M441 482L435 486M435 486L436 490M445 487L445 487M440 478L441 482M427 484L435 486M295 479L292 475M295 479L293 484M293 484L287 481M292 475L288 477M288 477L287 481M301 478L295 479M292 474L292 475M293 485L293 484M284 483L287 481M284 474L288 477M277 479L282 474M272 477L273 474M237 476L237 475M237 475L237 474M254 475L252 477M246 474L246 476M252 477L246 476M237 475L244 477M246 476L244 477M235 481L241 488M241 488L241 488M244 477L245 486M241 488L245 486M883 479L888 475M883 479L879 476M888 475L887 474M879 476L879 474M892 475L888 475M884 483L883 479M873 481L879 476M672 477L671 474M672 477L674 478M674 478L679 477M680 474L680 475M680 475L679 477M666 479L672 477M671 486L674 478M681 480L679 477M686 474L680 475M848 485L848 478M848 485L849 487M849 487L856 487M848 478L854 480M854 480L858 484M858 484L856 487M840 488L848 485M848 478L848 478M849 490L849 487M857 490L856 487M859 474L854 480M862 483L858 484M245 486L248 490M245 486L254 483M256 486L256 484M256 486L253 490M256 484L254 483M245 486L245 486M252 477L254 483M261 481L256 484M260 490L256 486M810 485L806 486M806 490L805 488M806 486L805 488M800 477L799 480M806 486L799 480M786 476L794 484M799 480L794 484M787 489L788 490M788 490L793 486M794 484L793 486M788 490L789 490M793 486L798 490M805 488L803 490M309 311L310 315M310 315L316 318M322 315L316 318M281 341L282 339M291 341L282 339M172 312L176 318M176 318L176 327M176 327L172 329M321 341L321 340M316 318L317 321M317 321L322 327M321 340L320 337M320 337L322 335M227 341L229 340M229 340L232 341M176 318L187 313M186 311L187 313M176 327L184 328M188 326L184 328M188 326L191 316M191 316L187 313M228 311L227 313M227 314L227 313M227 314L234 312L240 313L246 316M246 316L246 311M213 338L201 340M213 338L214 328M207 323L214 328M207 323L199 331M199 331L199 339M201 340L199 339M202 341L201 340M215 341L213 338M295 328L305 329M295 328L297 340M306 341L310 335M301 341L297 340M305 329L310 334M310 334L310 335M292 341L297 340M282 339L282 334M282 334L292 325M292 325L295 328M320 337L310 335M310 315L306 317M306 317L305 329M317 321L310 334M258 317L248 321M258 317L264 319M247 324L251 328M247 324L248 321M268 327L251 328M268 327L268 327M268 327L264 319M270 341L265 337M282 334L274 326M265 337L268 327M268 327L274 326M254 337L263 338M254 337L251 341M263 338L262 341M265 337L263 338M251 328L254 337M247 324L242 326M238 338L242 326M238 338L246 341M238 338L234 341M228 316L222 328M228 316L238 325M238 325L226 332M222 328L226 332M248 321L246 316M242 326L238 325M227 314L228 316M229 340L226 332M214 328L222 328M178 341L186 339M187 341L186 339M172 338L175 341M199 339L196 341M184 328L186 339M188 326L199 331M258 317L259 311M306 317L294 317M292 325L292 318M294 317L292 318M294 317L295 311M200 311L200 315M214 313L213 311M214 313L207 320M207 320L200 315M191 316L200 315M227 313L214 313M207 323L207 320M274 326L280 317M264 319L269 313M280 317L269 313M292 318L284 314M280 317L284 314M268 311L269 313M284 314L283 311M997 337L996 341M997 337L999 335M999 335L1009 341M1009 341L1009 341M1001 311L1002 313M1010 311L1006 314M1006 314L1002 313M1006 314L1008 324M1002 313L993 318M1008 324L1000 330M1000 330L993 323M993 323L993 318M968 340L967 341M968 340L959 338M959 338L953 341M973 333L974 337M973 333L979 324M974 337L979 341M987 327L979 324M987 327L988 337M988 337L980 341M963 325L973 333M963 325L961 326M968 340L974 337M961 326L959 338M993 323L987 327M993 318L986 312M978 315L986 312M978 315L979 324M997 337L988 337M999 335L1000 330M906 341L907 338M907 338L902 334M952 314L949 311M952 314L960 312M961 311L960 312M963 325L965 320M952 314L952 324M952 324L961 326M960 312L965 320M978 315L976 314M965 320L976 314M986 312L986 311M1009 341L1014 339M1008 324L1013 326M1013 326L1014 339M1014 339L1022 341M1022 315L1022 315M1022 315L1021 324M1021 324L1022 325M1018 311L1022 315M1013 326L1021 324M948 311L937 316M937 316L934 311M902 312L911 315M902 324L911 322M911 315L911 322M976 314L974 311M924 311L923 312M923 312L913 312M913 311L913 312M911 315L913 312M911 322L916 328M923 312L924 325M924 325L916 328M920 341L920 338M907 338L915 333M920 338L915 333M915 333L916 328M937 324L930 326M937 324L943 330M930 326L928 338M943 330L943 331M943 331L935 341M931 341L928 338M937 316L937 324M924 325L930 326M952 324L943 330M920 338L928 338M951 341L943 331M168 190L168 185M101 202L95 198L91 193L90 193M105 211L98 214L93 219M105 211L115 220M116 224L115 220M116 224L101 233M101 233L97 234M101 202L105 211M128 189L137 194M136 195L127 201L124 213L115 220M136 195L140 206L143 217L141 229M103 255L104 247L101 241L101 233M188 368L188 368L178 374L167 372M167 372L165 379L168 385L169 392M189 397L183 395L176 393L169 392M125 358L132 357L142 356M127 334L134 334L140 332L146 332M146 332L148 339L148 346L147 353M142 356L147 353M103 255L109 258L115 260L122 260M105 271L106 271L116 276M127 235L125 242L126 249L127 257M127 257L122 260M160 249L166 254L172 257L177 262M160 249L152 252L145 254L139 261M151 279L160 274L170 270L177 262M144 192L155 197M144 192L144 192M155 197L155 207L159 218L157 229M157 229L146 228M164 196L168 190M164 196L155 197M145 187L144 192M141 229L146 228M184 233L184 233L182 239M183 215L177 220L169 226L159 230M159 230L161 234M184 243L182 239M160 249L161 234M177 262L185 264M157 229L159 230M127 257L139 261M163 367L170 358L172 347L177 338M163 367L157 363L153 357L147 353M147 330L146 332M147 330L153 328L160 330L166 327M166 327L177 338M163 367L164 370M164 370L157 372L151 376L145 380M142 356L139 363L137 370L135 377M135 377L145 380M169 392L167 394M145 380L145 391M115 311L123 300M123 300L121 295M121 295L116 287M116 287L109 286M147 330L143 323L142 315L139 307M139 307L123 300M150 278L142 287L132 290L121 295M181 283L182 290L184 297L186 301M186 305L183 308L178 311L171 312M171 312L166 306L161 300L156 295M156 295L156 290M151 279L156 290M185 266L183 270L184 277L181 283M166 327L171 312M178 338L183 344L188 347M177 338L178 338M189 400L188 405L186 413L183 420M160 417L169 421M183 420L169 421M183 420L190 424M156 417L151 424L144 429L142 432M156 417L152 411L146 407L139 404M136 404L139 404M145 391L139 404M169 426L171 437L182 443L184 454M170 458L175 460M175 460L184 454M169 421L169 426M191 452L184 454M175 473L174 466L175 460M1025 423L1024 412L1030 402M1047 420L1040 415L1035 410L1030 402M1020 400L1023 399L1029 400M1007 245L1010 249M1011 214L1016 220L1022 225L1027 230M1011 214L1008 221L1005 224M1027 230L1026 237L1026 243L1022 249M1010 249L1022 249M1003 203L1005 195L1006 193M1011 214L1010 212M1010 212L1003 203M1029 400L1033 391M1020 325L1022 332L1020 340L1024 347M1019 350L1024 347M1033 391L1043 383M1047 420L1056 417L1063 409L1074 407M1043 383L1050 385L1056 385L1062 383M1074 407L1072 398L1068 390L1062 383M1022 249L1023 250M1023 250L1023 259L1026 269L1022 279M1098 271L1097 273L1090 279L1081 283M1081 283L1084 289L1091 292L1094 295M1011 299L1012 299L1024 299L1035 299M1037 307L1035 299M1022 279L1028 282L1032 287L1037 291M1036 253L1039 263L1046 272L1054 279M1037 291L1042 287L1047 282L1054 279M1066 265L1062 258L1058 252L1053 245M1054 279L1064 277M1066 265L1072 255L1080 246L1090 239M1102 249L1090 239M1064 277L1071 282M1092 193L1094 197M1110 205L1109 205M1027 230L1033 225L1040 223L1047 220M1053 245L1055 236M1047 220L1050 225L1053 231L1055 236M1090 239L1089 237M1055 236L1067 240L1078 238L1089 237M1081 370L1070 372M1070 372L1068 376M1062 383L1068 376M1084 331L1088 330M1093 305L1088 311L1082 316M1070 298L1075 303L1078 310L1082 316M1081 329L1082 316M1063 201L1062 193M1063 201L1063 204M1063 204L1058 209L1052 214L1047 219M1033 205L1037 210L1043 214L1047 219M1047 220L1047 219M1010 212L1017 208L1025 208L1033 205M1066 331L1062 327L1056 323L1053 317M1066 331L1059 343M1036 349L1043 338L1045 326L1045 313M1070 298L1064 304L1057 309L1053 317M1034 351L1036 349M1037 307L1045 313" fill="none" stroke="#22160d" stroke-width="1.8" stroke-linejoin="round"/>
<path d="M150.0 172.9 L186.5 173.5 L222.9 174.1 L259.4 174.6 L295.8 175.1 L332.3 175.5 L368.8 175.9 L405.2 176.2 L441.7 176.4 L478.1 176.7 L514.6 176.8 L551.0 176.9 L587.5 177.0 L624.0 177.0 L660.4 177.0 L696.9 176.9 L733.3 176.7 L769.8 176.5 L806.2 176.3 L842.7 176.0 L879.2 175.6 L915.6 175.2 L952.1 174.8 L988.5 174.3 L1025.0 173.7" fill="none" stroke="#231a14" stroke-width="2.6"/>
<path d="M32.0 209.0 L78.8 209.6 L125.6 210.5 L172.4 211.3 L219.2 212.0 L266.0 212.7 L312.8 213.3 L359.5 213.8 L406.3 214.2 L453.1 214.5 L499.9 214.8 L546.7 214.9 L593.5 215.0 L640.3 215.0 L687.1 214.9 L733.9 214.7 L780.7 214.5 L827.5 214.1 L874.2 213.7 L921.0 213.2 L967.8 212.6 L1014.6 211.9 L1061.4 211.1 L1108.2 210.3 L1155.0 209.4" fill="none" stroke="#231a14" stroke-width="2.2"/>
<path d="M195.0 236.7 L226.9 237.2 L258.8 237.6 L290.6 238.0 L322.5 238.4 L354.4 238.7 L386.2 239.0 L418.1 239.3 L450.0 239.5 L481.9 239.7 L513.8 239.8 L545.6 239.9 L577.5 240.0 L609.4 240.0 L641.2 240.0 L673.1 239.9 L705.0 239.8 L736.9 239.7 L768.8 239.5 L800.6 239.3 L832.5 239.1 L864.4 238.8 L896.2 238.5 L928.1 238.1 L960.0 237.7" fill="none" stroke="#231a14" stroke-width="2"/>
<path d="M172.0 313.3 L206.6 313.9 L241.2 314.4 L275.8 314.8 L310.3 315.3 L344.9 315.6 L379.5 316.0 L414.1 316.3 L448.7 316.5 L483.2 316.7 L517.8 316.8 L552.4 316.9 L587.0 317.0 L621.6 317.0 L656.2 317.0 L690.8 316.9 L725.3 316.8 L759.9 316.6 L794.5 316.4 L829.1 316.1 L863.7 315.8 L898.2 315.4 L932.8 315.0 L967.4 314.6 L1002.0 314.1" fill="none" stroke="#231a14" stroke-width="2"/>
<path d="M174.0 343.3 L206.7 343.9 L239.3 344.3 L272.0 344.8 L304.7 345.2 L337.3 345.6 L370.0 345.9 L402.7 346.2 L435.3 346.4 L468.0 346.6 L500.7 346.8 L533.3 346.9 L566.0 347.0 L598.7 347.0 L631.3 347.0 L664.0 346.9 L696.7 346.9 L729.3 346.7 L762.0 346.6 L794.7 346.4 L827.3 346.1 L860.0 345.8 L892.7 345.5 L925.3 345.1 L958.0 344.7" fill="none" stroke="#231a14" stroke-width="2"/>
<line x1="187.0" y1="411.0" x2="966.0" y2="411.0" stroke="#231a14" stroke-width="2"/>
<line x1="187.0" y1="439.0" x2="1040.0" y2="439.0" stroke="#231a14" stroke-width="2"/>
<line x1="202.0" y1="470.0" x2="1040.0" y2="470.0" stroke="#231a14" stroke-width="2"/>
<line x1="247.0" y1="491.0" x2="984.0" y2="491.0" stroke="#231a14" stroke-width="2.4"/>
<line x1="0.0" y1="542.0" x2="1235.0" y2="542.0" stroke="#2a2a1e" stroke-width="2.6"/>
<path d="M162.0 482.0 L142.0 438.0 L129.0 416.0 L110.0 361.0 L88.0 306.0 L78.0 263.0 L73.0 225.0 L77.0 198.0 L94.0 182.0 L117.0 172.0 L150.0 168.0" fill="none" stroke="#1a1410" stroke-width="3.2" stroke-dasharray="15 11"/>
<path d="M1025.0 167.0 L1113.0 173.0 L1145.0 193.0 L1153.0 218.0 L1153.0 250.0 L1148.0 288.0 L1137.0 303.0 L1123.0 341.0 L1104.0 391.0 L1084.0 427.0 L1054.0 487.0" fill="none" stroke="#1a1410" stroke-width="3.2" stroke-dasharray="15 11"/>
<path d="M505.0 37.0 L657.0 37.0" fill="none" stroke="#1a1410" stroke-width="3" stroke-dasharray="20 14"/>
<path d="M149.0 355.0 H983.0 M149.0 396.0 H983.0 M983.0 355.0 V396.0" fill="none" stroke="#d4dc5a" stroke-width="5.5" stroke-dasharray="27 11"/>
<line x1="1058" y1="362" x2="1058" y2="412" transform="translate(0,-7)" stroke="#231a14" stroke-width="2.5"/>
<line x1="1153" y1="216" x2="1153" y2="232" transform="translate(0,-7)" stroke="#231a14" stroke-width="2.5"/>
<path d="M0 0 L0 3 Q617 14 1236 3 L1236 0 Z" fill="#ffffff"/>
</g></svg>
<svg class="pan" style="left:275px;top:753px" width="1213" height="632" viewBox="0 0 1213 632">
<defs><filter id="blbl" filterUnits="userSpaceOnUse" x="-90" y="-90" width="1410" height="810"><feGaussianBlur stdDeviation="7"/></filter>
<clipPath id="cpbl"><rect width="1213" height="632"/></clipPath></defs>
<g clip-path="url(#cpbl)"><g filter="url(#blbl)"><g transform="translate(-90,-90)">
<rect x="0" y="0" width="1410" height="30" fill="#c0452c"/><rect x="0" y="30" width="1410" height="30" fill="#c0452c"/><rect x="0" y="60" width="1410" height="30" fill="#c0452c"/><rect x="0" y="90" width="1410" height="30" fill="#c0452c"/><rect x="0" y="120" width="300" height="30" fill="#c0452c"/><rect x="300" y="120" width="60" height="30" fill="#cd7f2e"/><rect x="360" y="120" width="510" height="30" fill="#c0452c"/><rect x="870" y="120" width="60" height="30" fill="#cd7f2e"/><rect x="930" y="120" width="120" height="30" fill="#c3552e"/><rect x="1050" y="120" width="360" height="30" fill="#c0452c"/><rect x="0" y="150" width="180" height="30" fill="#c0452c"/><rect x="180" y="150" width="60" height="30" fill="#c3552e"/><rect x="240" y="150" width="120" height="30" fill="#cd7f2e"/><rect x="360" y="150" width="510" height="30" fill="#c0452c"/><rect x="870" y="150" width="150" height="30" fill="#cd7f2e"/><rect x="1020" y="150" width="30" height="30" fill="#c3552e"/><rect x="1050" y="150" width="360" height="30" fill="#c0452c"/><rect x="0" y="180" width="180" height="30" fill="#c0452c"/><rect x="180" y="180" width="210" height="30" fill="#cd7f2e"/><rect x="390" y="180" width="480" height="30" fill="#c0452c"/><rect x="870" y="180" width="180" height="30" fill="#cd7f2e"/><rect x="1050" y="180" width="360" height="30" fill="#c0452c"/><rect x="0" y="210" width="150" height="30" fill="#c0452c"/><rect x="150" y="210" width="240" height="30" fill="#cd7f2e"/><rect x="390" y="210" width="480" height="30" fill="#c0452c"/><rect x="870" y="210" width="240" height="30" fill="#cd7f2e"/><rect x="1110" y="210" width="300" height="30" fill="#c0452c"/><rect x="0" y="240" width="240" height="30" fill="#cd7f2e"/><rect x="240" y="240" width="90" height="30" fill="#cba633"/><rect x="330" y="240" width="60" height="30" fill="#cd7f2e"/><rect x="390" y="240" width="450" height="30" fill="#c0452c"/><rect x="840" y="240" width="570" height="30" fill="#cd7f2e"/><rect x="0" y="270" width="240" height="30" fill="#cd7f2e"/><rect x="240" y="270" width="90" height="30" fill="#c0c945"/><rect x="330" y="270" width="60" height="30" fill="#cd7f2e"/><rect x="390" y="270" width="450" height="30" fill="#c0452c"/><rect x="840" y="270" width="30" height="30" fill="#cd7f2e"/><rect x="870" y="270" width="30" height="30" fill="#c0c945"/><rect x="900" y="270" width="30" height="30" fill="#94ba3e"/><rect x="930" y="270" width="30" height="30" fill="#c0c945"/><rect x="960" y="270" width="450" height="30" fill="#cd7f2e"/><rect x="0" y="300" width="240" height="30" fill="#cd7f2e"/><rect x="240" y="300" width="30" height="30" fill="#c0c945"/><rect x="270" y="300" width="60" height="30" fill="#94ba3e"/><rect x="330" y="300" width="60" height="30" fill="#cd7f2e"/><rect x="390" y="300" width="450" height="30" fill="#c0452c"/><rect x="840" y="300" width="30" height="30" fill="#cd7f2e"/><rect x="870" y="300" width="30" height="30" fill="#c0c945"/><rect x="900" y="300" width="30" height="30" fill="#94ba3e"/><rect x="930" y="300" width="30" height="30" fill="#c0c945"/><rect x="960" y="300" width="30" height="30" fill="#cd7f2e"/><rect x="990" y="300" width="30" height="30" fill="#c0c945"/><rect x="1020" y="300" width="390" height="30" fill="#cd7f2e"/><rect x="0" y="330" width="210" height="30" fill="#cd7f2e"/><rect x="210" y="330" width="60" height="30" fill="#c0c945"/><rect x="270" y="330" width="30" height="30" fill="#94ba3e"/><rect x="300" y="330" width="30" height="30" fill="#c0c945"/><rect x="330" y="330" width="60" height="30" fill="#cd7f2e"/><rect x="390" y="330" width="480" height="30" fill="#c0452c"/><rect x="870" y="330" width="60" height="30" fill="#94ba3e"/><rect x="930" y="330" width="90" height="30" fill="#c0c945"/><rect x="1020" y="330" width="390" height="30" fill="#cd7f2e"/><rect x="0" y="360" width="180" height="30" fill="#cd7f2e"/><rect x="180" y="360" width="120" height="30" fill="#c0c945"/><rect x="300" y="360" width="30" height="30" fill="#94ba3e"/><rect x="330" y="360" width="30" height="30" fill="#c0c945"/><rect x="360" y="360" width="30" height="30" fill="#cd7f2e"/><rect x="390" y="360" width="480" height="30" fill="#c0452c"/><rect x="870" y="360" width="30" height="30" fill="#94ba3e"/><rect x="900" y="360" width="90" height="30" fill="#c0c945"/><rect x="990" y="360" width="420" height="30" fill="#cd7f2e"/><rect x="0" y="390" width="150" height="30" fill="#cd7f2e"/><rect x="150" y="390" width="60" height="30" fill="#cac23c"/><rect x="210" y="390" width="30" height="30" fill="#c0c945"/><rect x="240" y="390" width="30" height="30" fill="#c0452c"/><rect x="270" y="390" width="60" height="30" fill="#c0c945"/><rect x="330" y="390" width="540" height="30" fill="#c0452c"/><rect x="870" y="390" width="30" height="30" fill="#cd7f2e"/><rect x="900" y="390" width="60" height="30" fill="#c0c945"/><rect x="960" y="390" width="30" height="30" fill="#94ba3e"/><rect x="990" y="390" width="420" height="30" fill="#cd7f2e"/><rect x="0" y="420" width="240" height="30" fill="#cac23c"/><rect x="240" y="420" width="30" height="30" fill="#c0452c"/><rect x="270" y="420" width="30" height="30" fill="#94ba3e"/><rect x="300" y="420" width="30" height="30" fill="#c0452c"/><rect x="330" y="420" width="30" height="30" fill="#c0c945"/><rect x="360" y="420" width="510" height="30" fill="#c0452c"/><rect x="870" y="420" width="30" height="30" fill="#cd7f2e"/><rect x="900" y="420" width="60" height="30" fill="#c0c945"/><rect x="960" y="420" width="30" height="30" fill="#94ba3e"/><rect x="990" y="420" width="30" height="30" fill="#c0c945"/><rect x="1020" y="420" width="150" height="30" fill="#cac23c"/><rect x="1170" y="420" width="240" height="30" fill="#cd7f2e"/><rect x="0" y="450" width="240" height="30" fill="#cac23c"/><rect x="240" y="450" width="30" height="30" fill="#c0c945"/><rect x="270" y="450" width="30" height="30" fill="#94ba3e"/><rect x="300" y="450" width="30" height="30" fill="#c0452c"/><rect x="330" y="450" width="60" height="30" fill="#cd7f2e"/><rect x="390" y="450" width="510" height="30" fill="#c0452c"/><rect x="900" y="450" width="60" height="30" fill="#cd7f2e"/><rect x="960" y="450" width="30" height="30" fill="#94ba3e"/><rect x="990" y="450" width="30" height="30" fill="#c0c945"/><rect x="1020" y="450" width="210" height="30" fill="#cac23c"/><rect x="1230" y="450" width="60" height="30" fill="#cd7f2e"/><rect x="1290" y="450" width="120" height="30" fill="#cac23c"/><rect x="0" y="480" width="240" height="30" fill="#cac23c"/><rect x="240" y="480" width="30" height="30" fill="#94ba3e"/><rect x="270" y="480" width="30" height="30" fill="#76b23c"/><rect x="300" y="480" width="30" height="30" fill="#c0452c"/><rect x="330" y="480" width="30" height="30" fill="#c0c945"/><rect x="360" y="480" width="30" height="30" fill="#cd7f2e"/><rect x="390" y="480" width="540" height="30" fill="#c0452c"/><rect x="930" y="480" width="30" height="30" fill="#cd7f2e"/><rect x="960" y="480" width="30" height="30" fill="#94ba3e"/><rect x="990" y="480" width="60" height="30" fill="#c0c945"/><rect x="1050" y="480" width="360" height="30" fill="#cac23c"/><rect x="0" y="510" width="210" height="30" fill="#cac23c"/><rect x="210" y="510" width="30" height="30" fill="#c0c945"/><rect x="240" y="510" width="60" height="30" fill="#94ba3e"/><rect x="300" y="510" width="660" height="30" fill="#c0452c"/><rect x="960" y="510" width="60" height="30" fill="#94ba3e"/><rect x="1020" y="510" width="30" height="30" fill="#c0c945"/><rect x="1050" y="510" width="360" height="30" fill="#cac23c"/><rect x="0" y="540" width="180" height="30" fill="#cac23c"/><rect x="180" y="540" width="120" height="30" fill="#94ba3e"/><rect x="300" y="540" width="690" height="30" fill="#c0452c"/><rect x="990" y="540" width="30" height="30" fill="#76b23c"/><rect x="1020" y="540" width="60" height="30" fill="#94ba3e"/><rect x="1080" y="540" width="30" height="30" fill="#c0c945"/><rect x="1110" y="540" width="300" height="30" fill="#cac23c"/><rect x="0" y="570" width="300" height="30" fill="#94ba3e"/><rect x="300" y="570" width="30" height="30" fill="#c0c945"/><rect x="330" y="570" width="660" height="30" fill="#c0452c"/><rect x="990" y="570" width="120" height="30" fill="#94ba3e"/><rect x="1110" y="570" width="30" height="30" fill="#c0c945"/><rect x="1140" y="570" width="270" height="30" fill="#cac23c"/><rect x="0" y="600" width="240" height="30" fill="#94ba3e"/><rect x="240" y="600" width="90" height="30" fill="#cac23c"/><rect x="330" y="600" width="30" height="30" fill="#cf7a2e"/><rect x="360" y="600" width="60" height="30" fill="#c0452c"/><rect x="420" y="600" width="270" height="30" fill="#cf7a2e"/><rect x="690" y="600" width="270" height="30" fill="#c0452c"/><rect x="960" y="600" width="30" height="30" fill="#cf7a2e"/><rect x="990" y="600" width="30" height="30" fill="#cac23c"/><rect x="1020" y="600" width="120" height="30" fill="#94ba3e"/><rect x="1140" y="600" width="30" height="30" fill="#c0c945"/><rect x="1170" y="600" width="240" height="30" fill="#cac23c"/><rect x="0" y="630" width="270" height="30" fill="#94ba3e"/><rect x="270" y="630" width="60" height="30" fill="#cac23c"/><rect x="330" y="630" width="420" height="30" fill="#cf7a2e"/><rect x="750" y="630" width="180" height="30" fill="#c0452c"/><rect x="930" y="630" width="60" height="30" fill="#cf7a2e"/><rect x="990" y="630" width="30" height="30" fill="#cac23c"/><rect x="1020" y="630" width="180" height="30" fill="#94ba3e"/><rect x="1200" y="630" width="210" height="30" fill="#cac23c"/><rect x="0" y="660" width="270" height="30" fill="#94ba3e"/><rect x="270" y="660" width="90" height="30" fill="#cac23c"/><rect x="360" y="660" width="450" height="30" fill="#cf7a2e"/><rect x="810" y="660" width="120" height="30" fill="#c0452c"/><rect x="930" y="660" width="30" height="30" fill="#cf7a2e"/><rect x="960" y="660" width="30" height="30" fill="#cac23c"/><rect x="990" y="660" width="270" height="30" fill="#94ba3e"/><rect x="1260" y="660" width="150" height="30" fill="#cac23c"/><rect x="0" y="690" width="300" height="30" fill="#94ba3e"/><rect x="300" y="690" width="60" height="30" fill="#cac23c"/><rect x="360" y="690" width="570" height="30" fill="#cf7a2e"/><rect x="930" y="690" width="60" height="30" fill="#cac23c"/><rect x="990" y="690" width="420" height="30" fill="#94ba3e"/><rect x="0" y="720" width="300" height="30" fill="#94ba3e"/><rect x="300" y="720" width="60" height="30" fill="#cac23c"/><rect x="360" y="720" width="570" height="30" fill="#cf7a2e"/><rect x="930" y="720" width="60" height="30" fill="#cac23c"/><rect x="990" y="720" width="420" height="30" fill="#94ba3e"/><rect x="0" y="750" width="300" height="30" fill="#94ba3e"/><rect x="300" y="750" width="60" height="30" fill="#cac23c"/><rect x="360" y="750" width="570" height="30" fill="#cf7a2e"/><rect x="930" y="750" width="60" height="30" fill="#cac23c"/><rect x="990" y="750" width="420" height="30" fill="#94ba3e"/><rect x="0" y="780" width="300" height="30" fill="#94ba3e"/><rect x="300" y="780" width="60" height="30" fill="#cac23c"/><rect x="360" y="780" width="570" height="30" fill="#cf7a2e"/><rect x="930" y="780" width="60" height="30" fill="#cac23c"/><rect x="990" y="780" width="420" height="30" fill="#94ba3e"/>
</g>
</g>
<path d="M198 278L189 282L180 286L173 294M198 278L198 270M173 294L150 289M460 208L477 219L493 233M542 208L545 222M493 233L508 233L523 228L538 227M609 225L624 210L624 208M609 225L587 228L566 217L545 222M478 294L485 274L493 254L493 233M478 294L491 303L509 297L523 306M549 282L541 292L532 299L523 306M309 249L298 239L293 225L287 211M309 249L275 239L240 242L206 238M206 238L206 226M173 294L168 323L161 351L158 355M198 270L197 258L204 249L206 238M206 226L203 220L200 214L201 208M325 266L345 259L364 249L379 232M325 266L317 262L315 254L309 249M287 211L288 208M549 282L564 300L590 302L604 320M550 362L559 363L567 361L575 363M575 363L583 351L592 343L605 338M604 320L605 338M575 363L577 391L592 416L592 421M642 369L642 382L644 395L643 408M642 369L635 358L625 351L616 342M801 421L805 409M892 421L893 417M874 397L851 401L829 410L805 409M470 393L452 369L418 361L403 334M470 393L479 393M482 389L479 393M482 389L484 358L479 329L472 300M425 298L418 310L407 320L403 334M550 362L525 365L506 382L482 389M478 294L472 300M325 266L319 275L319 285L315 294M470 393L453 400L435 403L420 416M420 416L420 421M198 278L214 292L230 306L249 314M315 294L309 298M249 314L268 305L289 302L309 298M245 421L256 405L272 393M214 421L209 418L203 405M192 387L195 393L198 400L203 405M192 387L211 375L231 364L243 344M243 344L254 360L268 373L272 393M322 421L319 411M191 421L203 405M249 314L245 324L245 334L243 344M303 399L303 365L311 331L309 298M742 414L742 421M742 414L733 407L724 400L717 391M717 391L701 401L687 413L683 421M797 404L805 409M643 408L654 417L668 421L668 421M716 385L717 391M827 248L807 251L787 260L766 263M827 248L821 224L812 208M757 208L760 220L757 237M757 237L763 245L762 255L766 263M693 208L696 221M757 237L735 238L716 226L696 221M925 414L935 401L947 390L960 380M367 368L377 385L397 392L408 408M367 421L367 420M368 345L369 353L366 360L367 368M420 416L408 408M880 335L884 315L896 298L909 283M954 283L947 277L937 274L928 269M909 283L914 276L921 273L928 269M874 397L876 378L865 362L863 343M863 343L868 339L874 338L880 335M960 380L966 372L967 370M834 249L841 259L837 272L845 281M834 249L856 237L874 220L890 208M896 208L903 227L914 249L928 269M845 281L842 293L849 306L845 318M863 343L852 335M834 249L827 248M766 263L756 274L753 289L742 300M845 318L809 321L777 302L742 300M797 404L793 388L794 373L795 358M852 335L833 344L813 348L795 358M716 385L722 364L729 343L735 321M795 358L772 350L755 333L735 321M691 247L708 265L724 284L734 307M691 247L668 251L646 258L623 257M719 311L733 311M733 311L734 307M696 221L696 230L691 238L691 247M742 300L734 307M609 225L613 236L619 246L623 257M604 320L612 303L621 287L623 268M616 342L650 331L684 317L719 311M735 321L733 311M954 283L961 281L967 277L971 272M971 272L983 280M971 272L979 262L985 256M952 421L954 422M954 421L954 422M185 457L185 457M185 457L191 470M191 470L191 470M865 421L869 429M881 421L876 432M869 429L876 432M885 477L882 475M879 478L882 475M191 470L196 475M196 478L196 477M196 475L196 477M194 421L194 423M194 423L205 424M205 424L208 421M691 440L700 436M691 440L676 436M676 436L677 433M677 433L682 428L688 426L693 423M700 436L699 427M699 427L693 423M707 421L699 427M692 421L693 423M930 421L936 429M922 430L929 421M922 430L923 435M922 430L911 430M914 421L911 430M882 475L885 467M889 468L885 467M878 437L876 432M878 437L883 441M889 421L896 428M883 441L892 437M896 428L892 437M185 457L185 457M209 468L196 475M209 468L209 452M209 452L198 448M198 448L185 457M185 457L185 457M208 434L214 444M208 434L209 431M209 431L222 431M214 444L220 438M220 438L222 431M212 449L211 451M212 449L214 444M209 452L211 451M197 441L198 448M197 441L208 434M194 423L191 430M205 424L209 431M197 441L191 430M222 431L227 426M225 421L227 426M737 475L731 478M737 475L740 478M770 469L755 471M770 469L772 475L770 478M755 471L755 478M787 478L787 476M787 476L771 468M771 468L770 469M751 469L755 471M751 469L737 474M737 474L737 475M706 478L711 469M711 469L716 469M716 469L722 478M737 474L732 459M718 464L716 469M718 464L730 458M730 458L732 459M718 464L710 449M730 458L724 450M724 450L710 449M687 452L702 454M687 452L691 440M702 454L708 447M700 436L707 442M707 442L708 447M699 465L702 454M699 465L711 469M710 449L708 447M751 469L749 453M732 459L742 450M749 453L742 450M657 478L663 476L670 473L676 471M676 471L677 478M511 426L517 426M511 426L505 421M517 426L517 421M498 445L504 444L510 448L516 447M498 445L497 455M516 447L517 448M497 455L506 463M506 463L513 462M513 462L517 448M684 454L681 467M684 454L679 450L677 443L671 440M671 440L668 441M668 441L669 451L677 458L679 468M681 467L679 468M687 452L684 454M699 465L692 469M692 469L681 467M676 436L671 440M667 441L664 444M667 441L667 441M667 441L668 441M678 468L679 468M678 468L664 460M664 444L664 460M657 478L658 462M676 471L678 468M658 462L664 460M668 421L676 426M678 421L676 426M667 441L666 434L663 427L662 421M677 433L676 426M863 467L866 477M863 467L850 472M850 472L851 478M866 477L866 478M870 478L866 477M863 467L877 459M863 467L855 455M855 455L869 452M877 459L869 452M869 429L859 433M878 437L869 443M869 443L858 443M858 443L859 433M851 421L848 426M859 433L848 426M911 430L909 432M902 427L909 432M902 427L903 421M896 428L902 427M892 437L900 441M909 432L909 440M900 441L909 440M910 440L909 440M878 459L885 467M878 459L884 444M885 467L894 456M884 444L896 453M885 467L885 467M863 467L863 467M877 459L878 459M883 441L884 444M869 443L869 452M898 446L900 441M181 448L184 443L186 437L186 431M186 431L180 430M191 430L186 431M196 477L198 478M209 468L214 469M215 478L214 469M211 451L218 455L222 461L229 465M229 465L228 468M214 469L228 468M220 438L232 449M227 426L234 428M234 428L232 435L234 442L232 449M212 449L219 448L225 450L232 450M229 465L235 454M235 454L232 450M232 449L232 450M258 425L257 421M258 425L252 425L246 427L239 427M239 427L239 427M239 427L240 421M259 425L258 436M259 425L258 425M258 436L256 442M256 442L248 444M248 444L245 438L242 433L239 427M234 428L239 427M248 444L243 453M243 453L235 454M764 421L772 422M772 422L773 421M808 421L808 423M808 423L791 426M791 426L789 421M724 450L727 441M707 442L715 438M727 441L715 438M707 421L723 422M715 438L715 432L720 427L723 422M724 421L724 421M723 422L724 421M691 478L694 475M697 478L694 475M692 469L694 475M637 478L638 476M653 478L642 471M638 476L642 471M658 462L652 460M652 460L642 467M642 471L642 467M584 421L584 423M593 421L589 426M589 426L584 423M548 467L555 478M548 467L539 464M539 464L530 473M530 478L530 473M850 472L838 465M838 465L835 467M835 467L834 478M833 447L840 463M833 447L844 441M844 441L852 449M840 463L853 453M853 453L852 449M858 443L852 449M848 426L843 428M843 428L844 441M855 455L853 453M838 465L840 463M490 474L502 471M490 474L490 478M502 471L505 478M497 455L488 461M506 463L502 471M488 461L485 466M485 466L490 474M517 466L516 473L511 478L511 478M517 466L516 465M513 462L516 465M517 466L530 473M485 466L478 467M472 478L475 468M478 467L475 468M291 473L279 477M291 473L294 478M279 478L279 478M279 477L279 478M278 478L279 478M276 463L279 477M276 463L280 461M291 473L295 468M280 461L295 468M460 462L447 451M460 462L453 469M453 469L439 463M439 463L442 452M447 451L442 452M425 458L429 465M425 458L436 445M429 465L434 465M439 463L434 465M442 452L436 445M429 465L419 474M434 465L437 478M421 478L419 474M264 421L264 424M264 424L267 425M267 425L278 421M278 421L278 421M259 425L264 424M276 440L274 443M276 440L285 438M273 445L274 443M273 445L281 456M281 456L292 449M292 449L286 439M286 439L285 438M258 436L274 443M267 425L276 440M283 422L285 438M283 422L278 421M296 451L299 466M296 451L292 449M280 461L281 456M295 468L299 466M296 451L300 448M300 448L300 442L300 436L298 430M298 430L286 439M269 448L262 448M269 448L269 462M262 448L254 463M269 462L258 468M254 463L256 467M256 467L258 468M256 442L262 448M273 445L269 448M276 463L269 462M243 453L254 463M263 478L258 468M229 470L229 478M229 470L235 472L241 474L248 473M248 473L247 475M247 475L244 478M228 468L229 470M256 467L248 473M248 478L247 475M732 428L736 437M732 428L741 421M745 421L749 433M749 433L739 439M739 439L736 437M727 441L736 437M724 421L732 428M762 421L761 424M761 424L753 433M753 433L749 433M742 450L739 439M749 453L750 453M753 433L760 441M750 453L760 441M664 444L650 450M652 460L650 451M650 450L650 451M595 478L593 472M593 472L606 467M610 478L606 467M638 476L629 478M619 453L622 463M619 453L634 449M636 461L623 464M636 461L636 455M623 464L622 463M634 449L636 455M642 467L636 461M622 478L623 464M650 451L636 455M606 467L607 466M607 466L622 463M580 440L589 435M580 440L574 452M574 452L586 461M586 461L589 458M589 458L595 442M589 435L595 442M573 423L570 432M573 423L571 421M560 421L559 423L559 430L560 437M560 437L570 432M589 426L590 429M580 440L570 432M584 423L573 423M590 429L589 435M559 437L559 441M559 437L560 437M574 452L567 452M567 452L565 452M559 441L565 452M516 465L522 462L526 457L530 453M539 464L539 464M539 464L530 453M555 460L557 458M555 460L548 467M557 458L546 449M539 464L546 449M559 441L546 445M565 452L557 458M546 449L546 445M517 448L530 452M530 452L530 453M521 429L520 428M521 429L536 439M520 428L529 421M536 439L536 439M536 439L547 426M544 421L547 423M547 423L547 426M496 441L500 435L505 431L511 426M496 441L498 445M516 447L517 441L519 435L521 429M517 426L520 428M530 452L536 439M546 445L536 439M559 437L547 426M549 421L547 423M806 468L798 467M806 468L808 471M808 471L804 478M798 467L791 474M791 474L794 478M795 461L797 456L800 450L801 444M795 461L798 467M815 454L801 444M815 454L806 468M787 476L791 474M811 478L809 472M823 478L817 472M809 472L817 472M808 471L809 472M830 466L835 467M830 466L817 472M830 466L818 453M833 447L829 446M818 453L829 446M815 454L817 453M818 453L817 453M446 478L453 473M453 473L457 478M453 469L453 473M460 462L463 461M463 461L475 468M463 461L465 450M478 467L476 460L479 454L476 447M465 450L476 447M488 461L486 455L483 450L478 446M478 446L476 447M404 421L398 433M385 421L385 421M385 421L398 433M412 438L419 428M412 438L399 438M399 438L398 437M419 428L406 421M398 433L398 437M417 453L409 457M417 453L425 458M419 474L409 471M409 457L409 471M417 453L418 447M418 447L412 438M399 438L400 453M409 457L400 453M385 421L377 429M377 429L366 422M367 421L366 422M339 450L334 441M339 450L336 457M336 457L321 454M334 441L328 438M328 438L323 440M321 454L323 440M315 438L312 434M315 438L323 440M312 434L316 427L319 421M329 423L329 421M329 423L328 438M357 478L355 474M355 474L355 474M355 474L349 478M354 454L348 467M354 454L360 455M348 467L355 474M360 455L365 466M365 466L355 474M348 467L343 467M337 478L343 467M351 451L339 450M351 451L354 454M336 457L336 459M336 459L343 467M305 421L302 427M293 421L301 427M302 427L301 427M312 434L302 427M283 422L285 421M298 430L301 427M307 446L300 448M307 446L315 438M772 422L779 436M791 426L790 427M779 436L790 427M761 424L764 430L767 436L772 440M760 441L769 442M772 440L769 442M779 436L778 439M772 440L778 439M790 427L794 432L798 437L801 442M801 442L801 443M801 443L783 447M778 439L783 447M625 421L625 421M625 421L625 421M639 430L651 429M639 430L635 434M635 434L635 436M645 442L636 438M645 442L655 436M636 438L635 436M655 436L651 429M641 421L639 430M656 421L651 429M623 424L635 434M623 424L625 421M650 450L645 442M634 449L636 438M667 441L655 436M606 444L607 429M606 444L611 447M611 447L613 447M607 429L614 422M613 447L616 444M616 444L616 437L619 431L617 424M614 422L617 424M590 429L607 429M595 442L606 444M589 458L604 459M604 459L611 447M607 466L604 459M619 453L613 447M614 421L614 422M635 436L628 438L622 441L616 444M623 424L617 424M565 478L567 471M579 478L586 467M567 471L568 469M568 469L574 465L580 467L586 464M586 467L586 464M555 460L567 471M593 472L586 467M567 452L568 469M586 461L586 464M812 432L816 435M812 432L810 425M816 435L827 434M810 425L818 421M827 421L832 422M827 434L834 425M832 422L834 425M801 444L801 443M817 453L816 447L815 441L816 435M801 442L812 432M808 423L810 425M829 446L827 434M832 421L832 422M843 428L834 425M418 447L433 438M433 438L433 439M436 445L434 440M433 439L434 440M447 451L455 442M434 440L441 439L448 441L455 442M465 450L457 440M455 442L457 440M448 421L452 422M448 421L448 421M452 422L452 421M496 441L489 438M478 446L481 440M481 440L489 438M493 421L488 428M489 438L488 428M484 421L488 428M488 428L488 428M455 425L466 421M455 425L456 431M456 431L458 436M458 436L473 434M473 434L474 423M473 421L474 423M452 422L455 425M433 439L441 437L448 433L456 431M457 440L458 436M481 440L473 434M488 428L474 423M429 428L423 427M429 428L434 423M423 427L421 421M434 423L434 421M433 438L429 428M419 428L423 427M448 421L434 423M377 429L377 432M398 437L387 439M377 432L387 439M405 478L406 473M406 473L390 468M392 478L390 468M409 471L406 473M393 457L389 467M393 457L382 449M382 449L376 451M376 451L376 457L377 463L376 470M389 467L376 470M376 470L376 470M400 453L393 457M390 468L389 467M387 439L382 449M377 432L369 443M369 443L369 446M369 446L376 451M360 455L369 446M365 466L376 470M375 478L376 470M366 422L363 422M369 443L360 437M363 422L360 437M329 423L347 427M341 421L348 424M348 424L347 427M351 451L355 438M360 437L355 438M334 441L346 432M355 438L346 432M346 432L347 427M328 478L325 468M325 468L316 463M305 468L316 463M305 468L307 478M316 463L316 463M336 459L325 468M321 454L316 463M299 466L305 468M307 446L310 452L311 458L316 463M765 456L767 452M765 456L771 468M767 452L783 453M771 468L776 465L781 460L783 455M783 455L783 453M750 453L765 456M769 442L767 452M771 468L771 468M783 447L783 453M795 461L783 455M363 422L362 421M348 424L351 421M195 478L195 478M881 487L880 487M879 491L879 489M879 489L880 487M877 496L874 496M874 496L873 499M880 487L881 481M881 481L883 482M874 496L868 491M864 499L868 491M853 490L857 487M853 490L850 496M857 487L861 488M858 499L861 488M856 499L850 496M853 490L846 485M857 487L852 481M852 481L846 484M846 485L846 484M850 496L846 496M846 496L845 495M846 485L843 489M845 495L843 489M709 479L709 478M709 479L713 483M720 478L713 483M694 478L696 479M696 479L699 479M699 479L699 478M709 479L702 482M702 482L699 479M876 480L874 486M876 480L871 478M871 478L865 485M874 486L867 488M867 488L865 487M865 485L865 487M879 489L874 486M881 481L881 480M881 480L876 480M871 478L871 478M861 478L865 485M868 491L867 488M861 488L865 487M852 481L852 478M846 499L846 496M817 496L814 496M817 496L818 497M818 497L818 499M812 499L814 496M757 497L761 496M757 497L756 499M761 496L766 499M754 496L751 489M754 496L757 497M763 490L761 496M763 490L757 486M757 486L751 489M763 490L766 487M772 496L766 499M772 496L774 490M766 487L774 490M752 478L759 480M752 478L750 484M759 480L757 486M751 489L751 489M750 484L751 489M777 499L782 499M782 499L782 499M772 496L775 499M785 496L783 493M785 496L782 499M783 493L775 489M774 490L775 489M792 499L788 496M785 496L788 496M721 478L725 479M725 479L727 479M727 479L727 478M846 484L842 479M842 488L843 489M842 488L837 483M837 483L842 479M842 488L834 490M834 490L831 482M837 483L831 482M841 478L842 479M881 480L881 478M594 498L594 499M594 498L592 497M592 497L589 499M602 478L601 478M601 478L601 478M601 478L597 482M592 478L592 478M592 478L597 482M666 492L664 490M666 492L668 499M664 490L664 490M664 490L661 499M665 478L665 482M665 482L657 479M657 479L657 478M670 483L670 478M670 483L668 484M668 484L665 482M668 484L667 488M667 488L664 490M664 490L659 489M657 479L657 480M657 480L659 489M670 483L676 483M667 488L668 488M668 488L678 492M678 492L676 483M693 487L696 479M693 487L687 484M693 478L686 483M687 484L686 483M682 478L682 479M686 483L682 479M676 483L682 479M685 496L684 499M685 496L683 493M683 493L678 492M678 492L674 496M674 496L674 498M674 499L674 498M678 492L678 492M687 484L683 493M668 488L674 496M666 492L674 498M725 479L719 489M713 483L715 488M719 489L715 488M715 488L715 488M706 499L707 493M707 493L713 499M715 488L707 491M715 488L715 494M707 491L707 493M715 494L714 499M812 481L810 487M812 481L818 480M810 487L819 487M818 480L819 481M819 481L819 487M845 495L838 498M834 490L833 492M833 492L838 498M817 496L819 488M818 497L827 497M825 488L819 488M825 488L828 495M828 495L827 497M804 498L808 491M804 498L798 494M804 488L807 490M804 488L799 490M807 490L808 491M799 490L798 494M814 496L808 491M804 499L804 498M794 499L798 494M810 487L807 490M819 488L819 487M788 496L792 487M799 490L794 487M794 487L792 487M783 493L786 484M792 487L786 484M787 478L785 481M782 478L785 481M775 489L777 484M786 484L785 481M777 484L785 481M763 479L763 478M763 479L765 481M765 481L773 480M774 478L773 480M752 478L752 478M759 480L763 479M766 487L765 481M777 484L773 480M785 481L785 481M818 478L818 480M812 481L809 478M803 484L805 478M803 484L804 488M754 496L748 499M744 491L751 489M744 491L742 495M742 495L746 499M741 479L740 478M741 479L742 481M736 478L730 483M742 481L740 485M740 485L734 487M734 487L731 486M731 486L730 483M742 478L741 479M750 484L742 481M727 479L730 483M744 491L740 485M742 495L737 496M737 496L734 487M719 489L725 491M725 491L731 486M832 478L830 482M825 478L826 481M826 481L830 482M830 482L830 482M831 482L830 482M819 481L826 481M825 488L830 482M833 492L828 495M594 498L601 495M601 495L606 497M606 497L605 499M606 478L606 479M600 487L604 486M600 487L598 485M598 485L597 482M606 479L604 486M573 499L575 493M581 499L581 498M581 498L575 493M567 499L567 493M567 493L575 491M575 491L575 493M592 478L587 481M587 481L582 480M582 480L582 478M632 499L632 499M632 499L626 497M625 499L626 497M615 478L616 482M624 478L620 482M620 482L616 482M606 479L614 484M616 482L614 484M651 499L651 498M651 499L651 499M645 495L642 498M645 495L651 498M651 498L651 498M642 498L642 499M651 499L651 499M654 499L651 498M659 489L654 490M654 490L651 498M632 499L634 496M634 496L642 498M657 480L650 485M654 490L650 486M650 485L650 486M650 485L648 478M629 486L632 481M629 486L636 492M640 484L641 488M640 484L635 480M632 481L635 480M636 492L641 488M641 488L641 488M626 488L629 486M626 488L624 487M629 478L632 481M624 487L620 482M626 488L625 495M634 496L636 492M625 495L626 497M650 486L641 488M646 478L640 484M636 478L635 480M645 495L641 488M223 487L220 482M217 485L217 484M220 482L217 484M209 483L209 483M209 483L214 483M217 484L214 483M240 482L245 481M240 482L237 484M245 481L248 486M237 484L237 487M248 486L241 490M241 490L237 487M252 478L255 484M255 484L258 478M478 498L479 499M478 498L474 496M474 496L471 499M345 494L348 494M345 494L342 483M352 483L348 494M352 483L347 482M347 482L342 483M694 488L701 489M694 488L691 495M700 496L701 489M700 496L694 499M701 489L701 489M691 495L694 499M702 482L701 489M693 487L694 488M685 496L691 495M702 499L700 496M707 491L701 489M694 499L694 499M725 491L726 496M715 494L724 499M726 496L724 499M838 498L838 499M827 497L828 499M798 482L798 478M798 482L796 483M796 483L792 478M803 484L798 482M794 487L796 483M567 493L563 490M557 499L556 497M556 497L563 490M590 490L589 488M590 490L591 496M589 488L581 489M591 496L583 495M583 495L581 489M598 485L590 490M587 481L589 488M592 497L591 496M601 495L600 487M582 480L577 483M577 483L577 487M577 487L581 489M581 498L583 495M575 491L577 487M577 483L573 481M572 478L572 479M573 481L572 479M563 490L563 488M573 481L563 488M561 478L559 482M572 479L559 482M478 498L486 497M486 497L487 499M609 497L612 499M609 497L610 488M613 499L618 495M618 495L617 490M617 490L613 485M610 488L613 485M606 497L609 497M604 486L610 488M625 495L618 495M624 487L617 490M614 484L613 485M229 489L229 480M220 482L223 478M223 478L229 480M237 484L232 480M233 491L237 487M229 480L232 480M255 484L255 485M265 479L265 478M265 479L263 484M255 485L263 484M246 478L245 481M248 486L251 488M251 488L255 485M255 485L255 485M203 481L204 478M209 483L206 478M214 483L213 478M240 482L239 478M232 480L233 478M408 496L412 496M408 496L406 499M413 497L413 499M413 497L412 496M318 480L319 478M318 480L316 481M316 481L315 481M315 481L314 478M342 499L343 495M343 495L345 494M348 494L351 496M351 496L350 499M324 484L318 480M324 484L327 478M737 496L737 497M726 496L728 497M737 497L728 497M724 499L724 499M554 478L555 481M559 482L559 482M555 481L559 482M563 488L560 485M559 482L560 485M556 497L552 495M560 485L552 490M552 495L552 490M551 499L551 495M552 495L551 495M542 499L542 497M551 495L542 497M549 484L555 481M549 484L550 489M550 489L552 490M241 490L242 494M251 488L251 494M251 494L247 495M414 490L408 485M414 490L412 496M408 485L404 486M408 496L405 494M404 486L404 487M405 494L404 487M398 499L397 496M405 494L397 496M413 497L425 495M425 495L426 499M417 480L418 478M417 480L409 482M409 482L409 478M408 485L409 482M401 478L400 481M404 486L400 481M425 486L418 485M425 486L427 490M427 490L426 495M415 489L418 485M415 489L425 495M425 495L426 495M427 479L427 481M427 479L424 478M427 481L425 486M417 480L418 485M414 490L415 489M425 495L425 495M435 499L436 496M436 496L435 495M435 495L426 495M427 479L427 478M465 478L466 480M466 480L460 480M458 478L460 480M475 478L475 478M475 478L469 483M469 483L466 480M469 483L468 486M460 486L468 486M460 486L460 480M475 478L479 483M485 478L488 481M488 481L479 483M474 491L469 488M474 491L479 489M469 488L468 486M479 489L479 483M474 496L474 491M486 497L486 497M479 489L480 489M486 497L480 489M488 481L489 481M489 481L489 485M480 489L489 485M315 481L309 482M305 478L304 479M309 482L304 479M315 497L322 496M315 497L313 494M313 494L313 491M313 491L317 488M322 496L321 489M317 488L321 489M306 496L303 496M306 496L313 494M303 496L301 489M309 487L301 489M309 487L313 491M316 481L317 488M309 487L309 482M324 484L325 487M325 487L321 489M294 480L286 481M294 480L293 478M286 481L286 478M297 499L292 497M289 499L292 497M282 499L282 497M287 499L282 497M388 497L394 494M388 497L385 496M385 496L386 486M394 488L394 493M394 488L387 485M387 485L386 486M394 494L394 493M388 499L388 497M397 496L394 494M378 497L378 499M378 497L385 496M400 481L397 482M397 482L394 488M404 487L394 493M351 496L357 496M357 496L359 499M341 483L339 482M341 483L337 492M339 482L333 485M333 485L331 489M331 489L337 492M347 482L347 478M342 483L341 483M338 478L339 482M343 495L339 494M339 494L337 492M328 478L333 485M325 487L330 489M330 489L331 489M737 497L737 499M541 494L541 494M541 494L540 488M541 494L548 490M548 490L542 487M542 487L540 488M532 494L532 499M532 494L541 494M542 497L541 494M550 489L548 490M549 484L545 483M545 483L542 487M514 499L514 497M505 499L504 497M504 497L514 497M524 499L524 495M532 494L528 490M528 490L524 495M533 483L528 490M533 483L540 488M528 490L528 490M514 496L514 497M514 496L515 495M524 495L515 495M489 481L493 478M300 499L303 496M306 496L308 499M315 499L315 497M251 494L255 497M255 498L255 497M255 485L260 491M263 484L264 486M260 491L264 486M255 497L261 496M260 491L261 496M264 499L262 497M261 496L262 497M436 484L438 482M436 484L435 487M435 487L436 490M436 490L444 492M438 482L443 482M443 482L445 490M445 490L444 492M427 481L436 484M436 478L438 482M427 490L435 487M435 495L436 490M444 478L444 482M444 482L451 482M453 478L451 482M443 482L444 482M455 489L455 489M455 489L451 482M455 489L445 490M460 486L455 489M504 478L504 479M508 478L508 479M508 479L504 479M499 481L493 478M499 481L504 479M490 494L491 489M490 494L498 498M491 489L500 488M498 498L501 495M501 495L502 491M500 488L502 491M486 497L490 494M489 485L491 489M497 499L498 498M499 481L500 488M504 497L501 495M506 489L511 492M506 489L502 491M511 492L514 496M509 480L508 479M509 480L506 489M294 480L290 490M294 480L299 482M299 482L301 489M301 489L291 491M291 491L290 490M304 479L299 482M294 480L294 480M301 489L301 489M292 497L291 491M324 499L325 498M325 498L329 497M329 497L331 499M322 496L325 498M330 489L329 497M339 494L333 499M286 481L283 482M290 490L284 490M284 490L283 482M283 482L276 478M265 479L273 480M273 480L275 478M386 478L387 479M387 479L391 479M391 479L392 478M379 480L381 478M379 480L379 486M379 486L386 486M387 485L387 479M379 480L376 479M375 478L376 479M397 482L391 479M375 490L379 486M375 490L371 486M376 479L371 484M371 486L371 484M373 499L377 496M365 499L369 494M369 494L376 494M376 494L377 496M378 497L377 496M375 490L376 494M728 497L729 499M544 479L541 478M544 479L545 478M545 483L544 479M533 483L533 481M533 481L538 478M530 478L533 481M518 490L522 486M518 490L514 487M522 486L519 480M514 487L515 480M519 480L517 479M517 479L515 480M528 490L522 486M515 495L518 490M511 492L514 487M527 478L519 480M509 480L515 480M517 478L517 479M463 495L459 495M463 495L467 499M459 495L459 499M469 488L463 495M455 489L455 492M455 492L459 495M453 494L452 499M453 494L444 497M444 497L444 497M444 497L444 499M455 492L453 494M444 492L444 497M436 496L444 497M264 486L267 490M273 480L273 488M273 488L267 490M262 497L265 494M267 490L265 494M282 497L283 490M282 497L274 498M283 490L274 489M274 489L273 496M274 498L273 496M282 497L282 497M284 490L283 490M274 499L274 498M273 488L274 489M265 494L273 496M357 496L357 496M369 494L363 489M363 489L357 496M371 486L363 488M363 489L363 488M352 483L353 483M357 496L353 483M355 482L360 483M355 482L354 478M360 483L364 478M363 488L360 483M353 483L355 482M371 484L366 478M150 352L141 354L139 355M144 380L152 381M152 381L156 376M161 362L156 376M184 400L184 384M184 400L178 402L171 405L165 408M156 376L165 379L175 379L184 384M153 391L157 396L161 403L165 408M184 400L190 404L198 404L205 407M188 373L184 384M205 407L208 407M208 407L212 399L216 391L216 381M189 444L187 427M189 444L196 446L202 443L208 445M208 407L213 412M213 412L211 423L210 434L208 445M150 352L149 346L148 339L150 333M150 333L144 330L137 328L134 327M178 487L174 479M174 479L165 467M165 467L162 473M165 415L166 427L177 437L178 449M165 415L164 413M164 413L157 415L154 422L152 422M169 460L165 462M189 444L178 449M187 427L179 425L173 418L165 415M165 408L164 413M165 467L165 462M269 470L279 474L281 476M269 470L271 463M261 420L261 422L261 430M206 475L215 470M215 470L221 473L223 480L227 485M227 485L225 487M203 480L201 487M218 457L215 470M225 415L215 413M225 415L231 404L241 399L250 392M215 413L226 402L237 393L247 382M257 407L251 411L240 413L232 419M213 412L215 413M237 351L238 357L237 367L238 377M247 382L247 381M180 332L195 341M195 341L195 358M168 359L174 364L180 367L187 368M161 362L168 359M213 363L218 379M150 333L155 329L161 326L167 323M180 332L178 328M178 328L167 323M131 310L135 307L141 303L147 298M148 298L152 304L158 310L164 314M167 323L164 314M213 363L214 356L219 351L222 345M195 341L210 338M210 338L222 345M234 344L234 344M234 344L222 345M265 475L265 482L261 487L261 487M231 487L229 486M218 457L227 454M227 485L229 486M269 470L265 475M258 446L261 430M258 446L249 446L240 448L232 451M232 451L232 442L233 433L236 425M261 430L261 430M232 419L236 425M147 298L141 291L139 281L131 275M124 277L131 275M148 200L138 185M148 200L148 203M148 203L136 213M136 213L128 210L121 205L115 200M138 185L132 184L125 184L118 184M138 177L138 178L138 185M162 177L159 179L154 189L148 200M113 177L115 179L118 184M110 201L115 200M234 344L234 344M119 235L124 236M124 236L118 244M114 225L119 235M125 236L132 247L131 260L133 272M152 244L154 251L151 258L151 265M151 265L145 269L139 269L133 272M136 213L135 221L129 226L128 234M124 236L125 236M131 275L133 272M157 269L151 265M157 269L163 263L172 259L180 253M173 239L180 253M173 239L166 241L160 245L152 244M157 269L163 282M163 282L157 286L154 293L148 298M190 228L174 235M190 228L193 226M174 235L171 227L170 217L164 209M177 202L183 201M173 239L174 235M191 264L199 262L204 258M190 317L186 309L183 301L181 293M190 317L202 311M202 311L195 302L194 291L193 280M181 293L184 283M191 278L193 280M178 328L190 317M164 314L167 305L175 300L181 293M210 338L210 330L209 322L212 314M212 314L202 311M191 264L191 278M193 280L199 281L206 282L213 284M213 283L213 284M212 314L222 309M213 284L213 285M875 305L881 304M881 304L882 298L880 292L881 286M881 286L875 281M875 241L883 243M875 272L878 268L880 255L883 243M967 285L976 286L978 288M967 285L956 297M973 317L975 315M973 317L967 313L960 313L954 311M956 297L954 311M944 284L948 288L951 294L956 297M946 271L953 269L960 271L967 270M981 260L968 268M967 270L968 268M886 242L886 242M886 242L883 243M888 210L885 207M948 249L950 250M948 249L939 253M950 250L957 255L961 263L968 268M946 271L934 260M939 253L934 260M958 463L954 466L945 471M943 478L945 471M966 347L969 339L970 330L974 324M942 338L949 343L958 345L966 347M942 338L937 348M970 357L965 360L958 364L951 369M937 348L941 355L945 363L951 369M973 317L974 321M942 338L940 320M940 320L941 319M881 304L892 316M892 316L886 329M875 331L880 330L886 329M888 210L903 209M905 245L911 242L915 237L919 231M903 209L908 216L916 222L919 231M947 220L938 218M939 253L938 244L930 237L927 229M938 218L927 229M905 245L911 251L913 260L919 266M919 266L934 260M927 229L919 231M981 259L977 252L975 245L974 236M950 250L959 248L966 242L973 236M935 482L927 482L920 479L913 477M935 482L931 487M913 477L907 482L906 487M943 478L935 482M928 353L917 365M928 353L923 346L917 340L910 335M917 365L911 360L903 357L897 353M910 335L897 345M897 353L897 345M937 348L928 353M917 372L917 365M917 372L923 376L929 379L935 380M935 380L951 376M951 369L951 376M914 323L923 323L932 321L940 320M914 323L910 335M914 323L900 314M886 329L890 334L892 341L897 345M938 451L938 459L942 465L945 471M961 433L944 432M921 286L917 272M921 291L908 299M908 299L902 293L892 291L887 284M917 272L909 273L902 274L895 278M895 278L887 284M944 284L936 283L929 283L921 286M941 319L933 311L927 301L921 291M919 266L917 272M900 314L908 299M881 286L887 284M886 242L892 253L889 267L895 278M903 209L906 207M938 218L934 207M974 236L980 234L984 228L985 228M951 220L957 210L962 207M951 220L957 222L962 227L968 230M968 230L973 221L971 210L973 207M947 220L951 220M986 215L980 211L979 207M875 408L881 400L886 391L893 384M893 384L886 379L882 371L878 363M917 372L910 384M897 353L891 357L884 358L878 363M910 384L893 384M961 388L957 393L951 397L948 402M948 402L957 406L964 408M935 380L936 388L936 396L936 403M951 376L961 388M936 403L941 407M941 407L948 402M969 363L968 366L968 377L967 378M938 451L928 455L918 458L907 457M913 477L911 471L908 464L907 457M907 457L907 457M875 432L882 430M875 458L876 459M876 459L877 449L883 440L882 430M875 409L886 420M886 420L882 430M879 461L876 459M887 420L893 424L899 429L906 430M918 400L913 396M916 427L906 430M886 420L887 420M907 457L908 448L907 439L906 430M936 403L930 403L923 403L918 400" fill="none" stroke="#a8cc48" stroke-opacity="0.62" stroke-width="6"/>
<path d="M198 278L189 282L180 286L173 294M198 278L198 270M173 294L150 289M460 208L477 219L493 233M542 208L545 222M493 233L508 233L523 228L538 227M609 225L624 210L624 208M609 225L587 228L566 217L545 222M478 294L485 274L493 254L493 233M478 294L491 303L509 297L523 306M549 282L541 292L532 299L523 306M309 249L298 239L293 225L287 211M309 249L275 239L240 242L206 238M206 238L206 226M173 294L168 323L161 351L158 355M198 270L197 258L204 249L206 238M206 226L203 220L200 214L201 208M325 266L345 259L364 249L379 232M325 266L317 262L315 254L309 249M287 211L288 208M549 282L564 300L590 302L604 320M550 362L559 363L567 361L575 363M575 363L583 351L592 343L605 338M604 320L605 338M575 363L577 391L592 416L592 421M642 369L642 382L644 395L643 408M642 369L635 358L625 351L616 342M801 421L805 409M892 421L893 417M874 397L851 401L829 410L805 409M470 393L452 369L418 361L403 334M470 393L479 393M482 389L479 393M482 389L484 358L479 329L472 300M425 298L418 310L407 320L403 334M550 362L525 365L506 382L482 389M478 294L472 300M325 266L319 275L319 285L315 294M470 393L453 400L435 403L420 416M420 416L420 421M198 278L214 292L230 306L249 314M315 294L309 298M249 314L268 305L289 302L309 298M245 421L256 405L272 393M214 421L209 418L203 405M192 387L195 393L198 400L203 405M192 387L211 375L231 364L243 344M243 344L254 360L268 373L272 393M322 421L319 411M191 421L203 405M249 314L245 324L245 334L243 344M303 399L303 365L311 331L309 298M742 414L742 421M742 414L733 407L724 400L717 391M717 391L701 401L687 413L683 421M797 404L805 409M643 408L654 417L668 421L668 421M716 385L717 391M827 248L807 251L787 260L766 263M827 248L821 224L812 208M757 208L760 220L757 237M757 237L763 245L762 255L766 263M693 208L696 221M757 237L735 238L716 226L696 221M925 414L935 401L947 390L960 380M367 368L377 385L397 392L408 408M367 421L367 420M368 345L369 353L366 360L367 368M420 416L408 408M880 335L884 315L896 298L909 283M954 283L947 277L937 274L928 269M909 283L914 276L921 273L928 269M874 397L876 378L865 362L863 343M863 343L868 339L874 338L880 335M960 380L966 372L967 370M834 249L841 259L837 272L845 281M834 249L856 237L874 220L890 208M896 208L903 227L914 249L928 269M845 281L842 293L849 306L845 318M863 343L852 335M834 249L827 248M766 263L756 274L753 289L742 300M845 318L809 321L777 302L742 300M797 404L793 388L794 373L795 358M852 335L833 344L813 348L795 358M716 385L722 364L729 343L735 321M795 358L772 350L755 333L735 321M691 247L708 265L724 284L734 307M691 247L668 251L646 258L623 257M719 311L733 311M733 311L734 307M696 221L696 230L691 238L691 247M742 300L734 307M609 225L613 236L619 246L623 257M604 320L612 303L621 287L623 268M616 342L650 331L684 317L719 311M735 321L733 311M954 283L961 281L967 277L971 272M971 272L983 280M971 272L979 262L985 256M952 421L954 422M954 421L954 422M185 457L185 457M185 457L191 470M191 470L191 470M865 421L869 429M881 421L876 432M869 429L876 432M885 477L882 475M879 478L882 475M191 470L196 475M196 478L196 477M196 475L196 477M194 421L194 423M194 423L205 424M205 424L208 421M691 440L700 436M691 440L676 436M676 436L677 433M677 433L682 428L688 426L693 423M700 436L699 427M699 427L693 423M707 421L699 427M692 421L693 423M930 421L936 429M922 430L929 421M922 430L923 435M922 430L911 430M914 421L911 430M882 475L885 467M889 468L885 467M878 437L876 432M878 437L883 441M889 421L896 428M883 441L892 437M896 428L892 437M185 457L185 457M209 468L196 475M209 468L209 452M209 452L198 448M198 448L185 457M185 457L185 457M208 434L214 444M208 434L209 431M209 431L222 431M214 444L220 438M220 438L222 431M212 449L211 451M212 449L214 444M209 452L211 451M197 441L198 448M197 441L208 434M194 423L191 430M205 424L209 431M197 441L191 430M222 431L227 426M225 421L227 426M737 475L731 478M737 475L740 478M770 469L755 471M770 469L772 475L770 478M755 471L755 478M787 478L787 476M787 476L771 468M771 468L770 469M751 469L755 471M751 469L737 474M737 474L737 475M706 478L711 469M711 469L716 469M716 469L722 478M737 474L732 459M718 464L716 469M718 464L730 458M730 458L732 459M718 464L710 449M730 458L724 450M724 450L710 449M687 452L702 454M687 452L691 440M702 454L708 447M700 436L707 442M707 442L708 447M699 465L702 454M699 465L711 469M710 449L708 447M751 469L749 453M732 459L742 450M749 453L742 450M657 478L663 476L670 473L676 471M676 471L677 478M511 426L517 426M511 426L505 421M517 426L517 421M498 445L504 444L510 448L516 447M498 445L497 455M516 447L517 448M497 455L506 463M506 463L513 462M513 462L517 448M684 454L681 467M684 454L679 450L677 443L671 440M671 440L668 441M668 441L669 451L677 458L679 468M681 467L679 468M687 452L684 454M699 465L692 469M692 469L681 467M676 436L671 440M667 441L664 444M667 441L667 441M667 441L668 441M678 468L679 468M678 468L664 460M664 444L664 460M657 478L658 462M676 471L678 468M658 462L664 460M668 421L676 426M678 421L676 426M667 441L666 434L663 427L662 421M677 433L676 426M863 467L866 477M863 467L850 472M850 472L851 478M866 477L866 478M870 478L866 477M863 467L877 459M863 467L855 455M855 455L869 452M877 459L869 452M869 429L859 433M878 437L869 443M869 443L858 443M858 443L859 433M851 421L848 426M859 433L848 426M911 430L909 432M902 427L909 432M902 427L903 421M896 428L902 427M892 437L900 441M909 432L909 440M900 441L909 440M910 440L909 440M878 459L885 467M878 459L884 444M885 467L894 456M884 444L896 453M885 467L885 467M863 467L863 467M877 459L878 459M883 441L884 444M869 443L869 452M898 446L900 441M181 448L184 443L186 437L186 431M186 431L180 430M191 430L186 431M196 477L198 478M209 468L214 469M215 478L214 469M211 451L218 455L222 461L229 465M229 465L228 468M214 469L228 468M220 438L232 449M227 426L234 428M234 428L232 435L234 442L232 449M212 449L219 448L225 450L232 450M229 465L235 454M235 454L232 450M232 449L232 450M258 425L257 421M258 425L252 425L246 427L239 427M239 427L239 427M239 427L240 421M259 425L258 436M259 425L258 425M258 436L256 442M256 442L248 444M248 444L245 438L242 433L239 427M234 428L239 427M248 444L243 453M243 453L235 454M764 421L772 422M772 422L773 421M808 421L808 423M808 423L791 426M791 426L789 421M724 450L727 441M707 442L715 438M727 441L715 438M707 421L723 422M715 438L715 432L720 427L723 422M724 421L724 421M723 422L724 421M691 478L694 475M697 478L694 475M692 469L694 475M637 478L638 476M653 478L642 471M638 476L642 471M658 462L652 460M652 460L642 467M642 471L642 467M584 421L584 423M593 421L589 426M589 426L584 423M548 467L555 478M548 467L539 464M539 464L530 473M530 478L530 473M850 472L838 465M838 465L835 467M835 467L834 478M833 447L840 463M833 447L844 441M844 441L852 449M840 463L853 453M853 453L852 449M858 443L852 449M848 426L843 428M843 428L844 441M855 455L853 453M838 465L840 463M490 474L502 471M490 474L490 478M502 471L505 478M497 455L488 461M506 463L502 471M488 461L485 466M485 466L490 474M517 466L516 473L511 478L511 478M517 466L516 465M513 462L516 465M517 466L530 473M485 466L478 467M472 478L475 468M478 467L475 468M291 473L279 477M291 473L294 478M279 478L279 478M279 477L279 478M278 478L279 478M276 463L279 477M276 463L280 461M291 473L295 468M280 461L295 468M460 462L447 451M460 462L453 469M453 469L439 463M439 463L442 452M447 451L442 452M425 458L429 465M425 458L436 445M429 465L434 465M439 463L434 465M442 452L436 445M429 465L419 474M434 465L437 478M421 478L419 474M264 421L264 424M264 424L267 425M267 425L278 421M278 421L278 421M259 425L264 424M276 440L274 443M276 440L285 438M273 445L274 443M273 445L281 456M281 456L292 449M292 449L286 439M286 439L285 438M258 436L274 443M267 425L276 440M283 422L285 438M283 422L278 421M296 451L299 466M296 451L292 449M280 461L281 456M295 468L299 466M296 451L300 448M300 448L300 442L300 436L298 430M298 430L286 439M269 448L262 448M269 448L269 462M262 448L254 463M269 462L258 468M254 463L256 467M256 467L258 468M256 442L262 448M273 445L269 448M276 463L269 462M243 453L254 463M263 478L258 468M229 470L229 478M229 470L235 472L241 474L248 473M248 473L247 475M247 475L244 478M228 468L229 470M256 467L248 473M248 478L247 475M732 428L736 437M732 428L741 421M745 421L749 433M749 433L739 439M739 439L736 437M727 441L736 437M724 421L732 428M762 421L761 424M761 424L753 433M753 433L749 433M742 450L739 439M749 453L750 453M753 433L760 441M750 453L760 441M664 444L650 450M652 460L650 451M650 450L650 451M595 478L593 472M593 472L606 467M610 478L606 467M638 476L629 478M619 453L622 463M619 453L634 449M636 461L623 464M636 461L636 455M623 464L622 463M634 449L636 455M642 467L636 461M622 478L623 464M650 451L636 455M606 467L607 466M607 466L622 463M580 440L589 435M580 440L574 452M574 452L586 461M586 461L589 458M589 458L595 442M589 435L595 442M573 423L570 432M573 423L571 421M560 421L559 423L559 430L560 437M560 437L570 432M589 426L590 429M580 440L570 432M584 423L573 423M590 429L589 435M559 437L559 441M559 437L560 437M574 452L567 452M567 452L565 452M559 441L565 452M516 465L522 462L526 457L530 453M539 464L539 464M539 464L530 453M555 460L557 458M555 460L548 467M557 458L546 449M539 464L546 449M559 441L546 445M565 452L557 458M546 449L546 445M517 448L530 452M530 452L530 453M521 429L520 428M521 429L536 439M520 428L529 421M536 439L536 439M536 439L547 426M544 421L547 423M547 423L547 426M496 441L500 435L505 431L511 426M496 441L498 445M516 447L517 441L519 435L521 429M517 426L520 428M530 452L536 439M546 445L536 439M559 437L547 426M549 421L547 423M806 468L798 467M806 468L808 471M808 471L804 478M798 467L791 474M791 474L794 478M795 461L797 456L800 450L801 444M795 461L798 467M815 454L801 444M815 454L806 468M787 476L791 474M811 478L809 472M823 478L817 472M809 472L817 472M808 471L809 472M830 466L835 467M830 466L817 472M830 466L818 453M833 447L829 446M818 453L829 446M815 454L817 453M818 453L817 453M446 478L453 473M453 473L457 478M453 469L453 473M460 462L463 461M463 461L475 468M463 461L465 450M478 467L476 460L479 454L476 447M465 450L476 447M488 461L486 455L483 450L478 446M478 446L476 447M404 421L398 433M385 421L385 421M385 421L398 433M412 438L419 428M412 438L399 438M399 438L398 437M419 428L406 421M398 433L398 437M417 453L409 457M417 453L425 458M419 474L409 471M409 457L409 471M417 453L418 447M418 447L412 438M399 438L400 453M409 457L400 453M385 421L377 429M377 429L366 422M367 421L366 422M339 450L334 441M339 450L336 457M336 457L321 454M334 441L328 438M328 438L323 440M321 454L323 440M315 438L312 434M315 438L323 440M312 434L316 427L319 421M329 423L329 421M329 423L328 438M357 478L355 474M355 474L355 474M355 474L349 478M354 454L348 467M354 454L360 455M348 467L355 474M360 455L365 466M365 466L355 474M348 467L343 467M337 478L343 467M351 451L339 450M351 451L354 454M336 457L336 459M336 459L343 467M305 421L302 427M293 421L301 427M302 427L301 427M312 434L302 427M283 422L285 421M298 430L301 427M307 446L300 448M307 446L315 438M772 422L779 436M791 426L790 427M779 436L790 427M761 424L764 430L767 436L772 440M760 441L769 442M772 440L769 442M779 436L778 439M772 440L778 439M790 427L794 432L798 437L801 442M801 442L801 443M801 443L783 447M778 439L783 447M625 421L625 421M625 421L625 421M639 430L651 429M639 430L635 434M635 434L635 436M645 442L636 438M645 442L655 436M636 438L635 436M655 436L651 429M641 421L639 430M656 421L651 429M623 424L635 434M623 424L625 421M650 450L645 442M634 449L636 438M667 441L655 436M606 444L607 429M606 444L611 447M611 447L613 447M607 429L614 422M613 447L616 444M616 444L616 437L619 431L617 424M614 422L617 424M590 429L607 429M595 442L606 444M589 458L604 459M604 459L611 447M607 466L604 459M619 453L613 447M614 421L614 422M635 436L628 438L622 441L616 444M623 424L617 424M565 478L567 471M579 478L586 467M567 471L568 469M568 469L574 465L580 467L586 464M586 467L586 464M555 460L567 471M593 472L586 467M567 452L568 469M586 461L586 464M812 432L816 435M812 432L810 425M816 435L827 434M810 425L818 421M827 421L832 422M827 434L834 425M832 422L834 425M801 444L801 443M817 453L816 447L815 441L816 435M801 442L812 432M808 423L810 425M829 446L827 434M832 421L832 422M843 428L834 425M418 447L433 438M433 438L433 439M436 445L434 440M433 439L434 440M447 451L455 442M434 440L441 439L448 441L455 442M465 450L457 440M455 442L457 440M448 421L452 422M448 421L448 421M452 422L452 421M496 441L489 438M478 446L481 440M481 440L489 438M493 421L488 428M489 438L488 428M484 421L488 428M488 428L488 428M455 425L466 421M455 425L456 431M456 431L458 436M458 436L473 434M473 434L474 423M473 421L474 423M452 422L455 425M433 439L441 437L448 433L456 431M457 440L458 436M481 440L473 434M488 428L474 423M429 428L423 427M429 428L434 423M423 427L421 421M434 423L434 421M433 438L429 428M419 428L423 427M448 421L434 423M377 429L377 432M398 437L387 439M377 432L387 439M405 478L406 473M406 473L390 468M392 478L390 468M409 471L406 473M393 457L389 467M393 457L382 449M382 449L376 451M376 451L376 457L377 463L376 470M389 467L376 470M376 470L376 470M400 453L393 457M390 468L389 467M387 439L382 449M377 432L369 443M369 443L369 446M369 446L376 451M360 455L369 446M365 466L376 470M375 478L376 470M366 422L363 422M369 443L360 437M363 422L360 437M329 423L347 427M341 421L348 424M348 424L347 427M351 451L355 438M360 437L355 438M334 441L346 432M355 438L346 432M346 432L347 427M328 478L325 468M325 468L316 463M305 468L316 463M305 468L307 478M316 463L316 463M336 459L325 468M321 454L316 463M299 466L305 468M307 446L310 452L311 458L316 463M765 456L767 452M765 456L771 468M767 452L783 453M771 468L776 465L781 460L783 455M783 455L783 453M750 453L765 456M769 442L767 452M771 468L771 468M783 447L783 453M795 461L783 455M363 422L362 421M348 424L351 421M195 478L195 478M881 487L880 487M879 491L879 489M879 489L880 487M877 496L874 496M874 496L873 499M880 487L881 481M881 481L883 482M874 496L868 491M864 499L868 491M853 490L857 487M853 490L850 496M857 487L861 488M858 499L861 488M856 499L850 496M853 490L846 485M857 487L852 481M852 481L846 484M846 485L846 484M850 496L846 496M846 496L845 495M846 485L843 489M845 495L843 489M709 479L709 478M709 479L713 483M720 478L713 483M694 478L696 479M696 479L699 479M699 479L699 478M709 479L702 482M702 482L699 479M876 480L874 486M876 480L871 478M871 478L865 485M874 486L867 488M867 488L865 487M865 485L865 487M879 489L874 486M881 481L881 480M881 480L876 480M871 478L871 478M861 478L865 485M868 491L867 488M861 488L865 487M852 481L852 478M846 499L846 496M817 496L814 496M817 496L818 497M818 497L818 499M812 499L814 496M757 497L761 496M757 497L756 499M761 496L766 499M754 496L751 489M754 496L757 497M763 490L761 496M763 490L757 486M757 486L751 489M763 490L766 487M772 496L766 499M772 496L774 490M766 487L774 490M752 478L759 480M752 478L750 484M759 480L757 486M751 489L751 489M750 484L751 489M777 499L782 499M782 499L782 499M772 496L775 499M785 496L783 493M785 496L782 499M783 493L775 489M774 490L775 489M792 499L788 496M785 496L788 496M721 478L725 479M725 479L727 479M727 479L727 478M846 484L842 479M842 488L843 489M842 488L837 483M837 483L842 479M842 488L834 490M834 490L831 482M837 483L831 482M841 478L842 479M881 480L881 478M594 498L594 499M594 498L592 497M592 497L589 499M602 478L601 478M601 478L601 478M601 478L597 482M592 478L592 478M592 478L597 482M666 492L664 490M666 492L668 499M664 490L664 490M664 490L661 499M665 478L665 482M665 482L657 479M657 479L657 478M670 483L670 478M670 483L668 484M668 484L665 482M668 484L667 488M667 488L664 490M664 490L659 489M657 479L657 480M657 480L659 489M670 483L676 483M667 488L668 488M668 488L678 492M678 492L676 483M693 487L696 479M693 487L687 484M693 478L686 483M687 484L686 483M682 478L682 479M686 483L682 479M676 483L682 479M685 496L684 499M685 496L683 493M683 493L678 492M678 492L674 496M674 496L674 498M674 499L674 498M678 492L678 492M687 484L683 493M668 488L674 496M666 492L674 498M725 479L719 489M713 483L715 488M719 489L715 488M715 488L715 488M706 499L707 493M707 493L713 499M715 488L707 491M715 488L715 494M707 491L707 493M715 494L714 499M812 481L810 487M812 481L818 480M810 487L819 487M818 480L819 481M819 481L819 487M845 495L838 498M834 490L833 492M833 492L838 498M817 496L819 488M818 497L827 497M825 488L819 488M825 488L828 495M828 495L827 497M804 498L808 491M804 498L798 494M804 488L807 490M804 488L799 490M807 490L808 491M799 490L798 494M814 496L808 491M804 499L804 498M794 499L798 494M810 487L807 490M819 488L819 487M788 496L792 487M799 490L794 487M794 487L792 487M783 493L786 484M792 487L786 484M787 478L785 481M782 478L785 481M775 489L777 484M786 484L785 481M777 484L785 481M763 479L763 478M763 479L765 481M765 481L773 480M774 478L773 480M752 478L752 478M759 480L763 479M766 487L765 481M777 484L773 480M785 481L785 481M818 478L818 480M812 481L809 478M803 484L805 478M803 484L804 488M754 496L748 499M744 491L751 489M744 491L742 495M742 495L746 499M741 479L740 478M741 479L742 481M736 478L730 483M742 481L740 485M740 485L734 487M734 487L731 486M731 486L730 483M742 478L741 479M750 484L742 481M727 479L730 483M744 491L740 485M742 495L737 496M737 496L734 487M719 489L725 491M725 491L731 486M832 478L830 482M825 478L826 481M826 481L830 482M830 482L830 482M831 482L830 482M819 481L826 481M825 488L830 482M833 492L828 495M594 498L601 495M601 495L606 497M606 497L605 499M606 478L606 479M600 487L604 486M600 487L598 485M598 485L597 482M606 479L604 486M573 499L575 493M581 499L581 498M581 498L575 493M567 499L567 493M567 493L575 491M575 491L575 493M592 478L587 481M587 481L582 480M582 480L582 478M632 499L632 499M632 499L626 497M625 499L626 497M615 478L616 482M624 478L620 482M620 482L616 482M606 479L614 484M616 482L614 484M651 499L651 498M651 499L651 499M645 495L642 498M645 495L651 498M651 498L651 498M642 498L642 499M651 499L651 499M654 499L651 498M659 489L654 490M654 490L651 498M632 499L634 496M634 496L642 498M657 480L650 485M654 490L650 486M650 485L650 486M650 485L648 478M629 486L632 481M629 486L636 492M640 484L641 488M640 484L635 480M632 481L635 480M636 492L641 488M641 488L641 488M626 488L629 486M626 488L624 487M629 478L632 481M624 487L620 482M626 488L625 495M634 496L636 492M625 495L626 497M650 486L641 488M646 478L640 484M636 478L635 480M645 495L641 488M223 487L220 482M217 485L217 484M220 482L217 484M209 483L209 483M209 483L214 483M217 484L214 483M240 482L245 481M240 482L237 484M245 481L248 486M237 484L237 487M248 486L241 490M241 490L237 487M252 478L255 484M255 484L258 478M478 498L479 499M478 498L474 496M474 496L471 499M345 494L348 494M345 494L342 483M352 483L348 494M352 483L347 482M347 482L342 483M694 488L701 489M694 488L691 495M700 496L701 489M700 496L694 499M701 489L701 489M691 495L694 499M702 482L701 489M693 487L694 488M685 496L691 495M702 499L700 496M707 491L701 489M694 499L694 499M725 491L726 496M715 494L724 499M726 496L724 499M838 498L838 499M827 497L828 499M798 482L798 478M798 482L796 483M796 483L792 478M803 484L798 482M794 487L796 483M567 493L563 490M557 499L556 497M556 497L563 490M590 490L589 488M590 490L591 496M589 488L581 489M591 496L583 495M583 495L581 489M598 485L590 490M587 481L589 488M592 497L591 496M601 495L600 487M582 480L577 483M577 483L577 487M577 487L581 489M581 498L583 495M575 491L577 487M577 483L573 481M572 478L572 479M573 481L572 479M563 490L563 488M573 481L563 488M561 478L559 482M572 479L559 482M478 498L486 497M486 497L487 499M609 497L612 499M609 497L610 488M613 499L618 495M618 495L617 490M617 490L613 485M610 488L613 485M606 497L609 497M604 486L610 488M625 495L618 495M624 487L617 490M614 484L613 485M229 489L229 480M220 482L223 478M223 478L229 480M237 484L232 480M233 491L237 487M229 480L232 480M255 484L255 485M265 479L265 478M265 479L263 484M255 485L263 484M246 478L245 481M248 486L251 488M251 488L255 485M255 485L255 485M203 481L204 478M209 483L206 478M214 483L213 478M240 482L239 478M232 480L233 478M408 496L412 496M408 496L406 499M413 497L413 499M413 497L412 496M318 480L319 478M318 480L316 481M316 481L315 481M315 481L314 478M342 499L343 495M343 495L345 494M348 494L351 496M351 496L350 499M324 484L318 480M324 484L327 478M737 496L737 497M726 496L728 497M737 497L728 497M724 499L724 499M554 478L555 481M559 482L559 482M555 481L559 482M563 488L560 485M559 482L560 485M556 497L552 495M560 485L552 490M552 495L552 490M551 499L551 495M552 495L551 495M542 499L542 497M551 495L542 497M549 484L555 481M549 484L550 489M550 489L552 490M241 490L242 494M251 488L251 494M251 494L247 495M414 490L408 485M414 490L412 496M408 485L404 486M408 496L405 494M404 486L404 487M405 494L404 487M398 499L397 496M405 494L397 496M413 497L425 495M425 495L426 499M417 480L418 478M417 480L409 482M409 482L409 478M408 485L409 482M401 478L400 481M404 486L400 481M425 486L418 485M425 486L427 490M427 490L426 495M415 489L418 485M415 489L425 495M425 495L426 495M427 479L427 481M427 479L424 478M427 481L425 486M417 480L418 485M414 490L415 489M425 495L425 495M435 499L436 496M436 496L435 495M435 495L426 495M427 479L427 478M465 478L466 480M466 480L460 480M458 478L460 480M475 478L475 478M475 478L469 483M469 483L466 480M469 483L468 486M460 486L468 486M460 486L460 480M475 478L479 483M485 478L488 481M488 481L479 483M474 491L469 488M474 491L479 489M469 488L468 486M479 489L479 483M474 496L474 491M486 497L486 497M479 489L480 489M486 497L480 489M488 481L489 481M489 481L489 485M480 489L489 485M315 481L309 482M305 478L304 479M309 482L304 479M315 497L322 496M315 497L313 494M313 494L313 491M313 491L317 488M322 496L321 489M317 488L321 489M306 496L303 496M306 496L313 494M303 496L301 489M309 487L301 489M309 487L313 491M316 481L317 488M309 487L309 482M324 484L325 487M325 487L321 489M294 480L286 481M294 480L293 478M286 481L286 478M297 499L292 497M289 499L292 497M282 499L282 497M287 499L282 497M388 497L394 494M388 497L385 496M385 496L386 486M394 488L394 493M394 488L387 485M387 485L386 486M394 494L394 493M388 499L388 497M397 496L394 494M378 497L378 499M378 497L385 496M400 481L397 482M397 482L394 488M404 487L394 493M351 496L357 496M357 496L359 499M341 483L339 482M341 483L337 492M339 482L333 485M333 485L331 489M331 489L337 492M347 482L347 478M342 483L341 483M338 478L339 482M343 495L339 494M339 494L337 492M328 478L333 485M325 487L330 489M330 489L331 489M737 497L737 499M541 494L541 494M541 494L540 488M541 494L548 490M548 490L542 487M542 487L540 488M532 494L532 499M532 494L541 494M542 497L541 494M550 489L548 490M549 484L545 483M545 483L542 487M514 499L514 497M505 499L504 497M504 497L514 497M524 499L524 495M532 494L528 490M528 490L524 495M533 483L528 490M533 483L540 488M528 490L528 490M514 496L514 497M514 496L515 495M524 495L515 495M489 481L493 478M300 499L303 496M306 496L308 499M315 499L315 497M251 494L255 497M255 498L255 497M255 485L260 491M263 484L264 486M260 491L264 486M255 497L261 496M260 491L261 496M264 499L262 497M261 496L262 497M436 484L438 482M436 484L435 487M435 487L436 490M436 490L444 492M438 482L443 482M443 482L445 490M445 490L444 492M427 481L436 484M436 478L438 482M427 490L435 487M435 495L436 490M444 478L444 482M444 482L451 482M453 478L451 482M443 482L444 482M455 489L455 489M455 489L451 482M455 489L445 490M460 486L455 489M504 478L504 479M508 478L508 479M508 479L504 479M499 481L493 478M499 481L504 479M490 494L491 489M490 494L498 498M491 489L500 488M498 498L501 495M501 495L502 491M500 488L502 491M486 497L490 494M489 485L491 489M497 499L498 498M499 481L500 488M504 497L501 495M506 489L511 492M506 489L502 491M511 492L514 496M509 480L508 479M509 480L506 489M294 480L290 490M294 480L299 482M299 482L301 489M301 489L291 491M291 491L290 490M304 479L299 482M294 480L294 480M301 489L301 489M292 497L291 491M324 499L325 498M325 498L329 497M329 497L331 499M322 496L325 498M330 489L329 497M339 494L333 499M286 481L283 482M290 490L284 490M284 490L283 482M283 482L276 478M265 479L273 480M273 480L275 478M386 478L387 479M387 479L391 479M391 479L392 478M379 480L381 478M379 480L379 486M379 486L386 486M387 485L387 479M379 480L376 479M375 478L376 479M397 482L391 479M375 490L379 486M375 490L371 486M376 479L371 484M371 486L371 484M373 499L377 496M365 499L369 494M369 494L376 494M376 494L377 496M378 497L377 496M375 490L376 494M728 497L729 499M544 479L541 478M544 479L545 478M545 483L544 479M533 483L533 481M533 481L538 478M530 478L533 481M518 490L522 486M518 490L514 487M522 486L519 480M514 487L515 480M519 480L517 479M517 479L515 480M528 490L522 486M515 495L518 490M511 492L514 487M527 478L519 480M509 480L515 480M517 478L517 479M463 495L459 495M463 495L467 499M459 495L459 499M469 488L463 495M455 489L455 492M455 492L459 495M453 494L452 499M453 494L444 497M444 497L444 497M444 497L444 499M455 492L453 494M444 492L444 497M436 496L444 497M264 486L267 490M273 480L273 488M273 488L267 490M262 497L265 494M267 490L265 494M282 497L283 490M282 497L274 498M283 490L274 489M274 489L273 496M274 498L273 496M282 497L282 497M284 490L283 490M274 499L274 498M273 488L274 489M265 494L273 496M357 496L357 496M369 494L363 489M363 489L357 496M371 486L363 488M363 489L363 488M352 483L353 483M357 496L353 483M355 482L360 483M355 482L354 478M360 483L364 478M363 488L360 483M353 483L355 482M371 484L366 478M150 352L141 354L139 355M144 380L152 381M152 381L156 376M161 362L156 376M184 400L184 384M184 400L178 402L171 405L165 408M156 376L165 379L175 379L184 384M153 391L157 396L161 403L165 408M184 400L190 404L198 404L205 407M188 373L184 384M205 407L208 407M208 407L212 399L216 391L216 381M189 444L187 427M189 444L196 446L202 443L208 445M208 407L213 412M213 412L211 423L210 434L208 445M150 352L149 346L148 339L150 333M150 333L144 330L137 328L134 327M178 487L174 479M174 479L165 467M165 467L162 473M165 415L166 427L177 437L178 449M165 415L164 413M164 413L157 415L154 422L152 422M169 460L165 462M189 444L178 449M187 427L179 425L173 418L165 415M165 408L164 413M165 467L165 462M269 470L279 474L281 476M269 470L271 463M261 420L261 422L261 430M206 475L215 470M215 470L221 473L223 480L227 485M227 485L225 487M203 480L201 487M218 457L215 470M225 415L215 413M225 415L231 404L241 399L250 392M215 413L226 402L237 393L247 382M257 407L251 411L240 413L232 419M213 412L215 413M237 351L238 357L237 367L238 377M247 382L247 381M180 332L195 341M195 341L195 358M168 359L174 364L180 367L187 368M161 362L168 359M213 363L218 379M150 333L155 329L161 326L167 323M180 332L178 328M178 328L167 323M131 310L135 307L141 303L147 298M148 298L152 304L158 310L164 314M167 323L164 314M213 363L214 356L219 351L222 345M195 341L210 338M210 338L222 345M234 344L234 344M234 344L222 345M265 475L265 482L261 487L261 487M231 487L229 486M218 457L227 454M227 485L229 486M269 470L265 475M258 446L261 430M258 446L249 446L240 448L232 451M232 451L232 442L233 433L236 425M261 430L261 430M232 419L236 425M147 298L141 291L139 281L131 275M124 277L131 275M148 200L138 185M148 200L148 203M148 203L136 213M136 213L128 210L121 205L115 200M138 185L132 184L125 184L118 184M138 177L138 178L138 185M162 177L159 179L154 189L148 200M113 177L115 179L118 184M110 201L115 200M234 344L234 344M119 235L124 236M124 236L118 244M114 225L119 235M125 236L132 247L131 260L133 272M152 244L154 251L151 258L151 265M151 265L145 269L139 269L133 272M136 213L135 221L129 226L128 234M124 236L125 236M131 275L133 272M157 269L151 265M157 269L163 263L172 259L180 253M173 239L180 253M173 239L166 241L160 245L152 244M157 269L163 282M163 282L157 286L154 293L148 298M190 228L174 235M190 228L193 226M174 235L171 227L170 217L164 209M177 202L183 201M173 239L174 235M191 264L199 262L204 258M190 317L186 309L183 301L181 293M190 317L202 311M202 311L195 302L194 291L193 280M181 293L184 283M191 278L193 280M178 328L190 317M164 314L167 305L175 300L181 293M210 338L210 330L209 322L212 314M212 314L202 311M191 264L191 278M193 280L199 281L206 282L213 284M213 283L213 284M212 314L222 309M213 284L213 285M875 305L881 304M881 304L882 298L880 292L881 286M881 286L875 281M875 241L883 243M875 272L878 268L880 255L883 243M967 285L976 286L978 288M967 285L956 297M973 317L975 315M973 317L967 313L960 313L954 311M956 297L954 311M944 284L948 288L951 294L956 297M946 271L953 269L960 271L967 270M981 260L968 268M967 270L968 268M886 242L886 242M886 242L883 243M888 210L885 207M948 249L950 250M948 249L939 253M950 250L957 255L961 263L968 268M946 271L934 260M939 253L934 260M958 463L954 466L945 471M943 478L945 471M966 347L969 339L970 330L974 324M942 338L949 343L958 345L966 347M942 338L937 348M970 357L965 360L958 364L951 369M937 348L941 355L945 363L951 369M973 317L974 321M942 338L940 320M940 320L941 319M881 304L892 316M892 316L886 329M875 331L880 330L886 329M888 210L903 209M905 245L911 242L915 237L919 231M903 209L908 216L916 222L919 231M947 220L938 218M939 253L938 244L930 237L927 229M938 218L927 229M905 245L911 251L913 260L919 266M919 266L934 260M927 229L919 231M981 259L977 252L975 245L974 236M950 250L959 248L966 242L973 236M935 482L927 482L920 479L913 477M935 482L931 487M913 477L907 482L906 487M943 478L935 482M928 353L917 365M928 353L923 346L917 340L910 335M917 365L911 360L903 357L897 353M910 335L897 345M897 353L897 345M937 348L928 353M917 372L917 365M917 372L923 376L929 379L935 380M935 380L951 376M951 369L951 376M914 323L923 323L932 321L940 320M914 323L910 335M914 323L900 314M886 329L890 334L892 341L897 345M938 451L938 459L942 465L945 471M961 433L944 432M921 286L917 272M921 291L908 299M908 299L902 293L892 291L887 284M917 272L909 273L902 274L895 278M895 278L887 284M944 284L936 283L929 283L921 286M941 319L933 311L927 301L921 291M919 266L917 272M900 314L908 299M881 286L887 284M886 242L892 253L889 267L895 278M903 209L906 207M938 218L934 207M974 236L980 234L984 228L985 228M951 220L957 210L962 207M951 220L957 222L962 227L968 230M968 230L973 221L971 210L973 207M947 220L951 220M986 215L980 211L979 207M875 408L881 400L886 391L893 384M893 384L886 379L882 371L878 363M917 372L910 384M897 353L891 357L884 358L878 363M910 384L893 384M961 388L957 393L951 397L948 402M948 402L957 406L964 408M935 380L936 388L936 396L936 403M951 376L961 388M936 403L941 407M941 407L948 402M969 363L968 366L968 377L967 378M938 451L928 455L918 458L907 457M913 477L911 471L908 464L907 457M907 457L907 457M875 432L882 430M875 458L876 459M876 459L877 449L883 440L882 430M875 409L886 420M886 420L882 430M879 461L876 459M887 420L893 424L899 429L906 430M918 400L913 396M916 427L906 430M886 420L887 420M907 457L908 448L907 439L906 430M936 403L930 403L923 403L918 400" fill="none" stroke="#22160d" stroke-width="1.8" stroke-linejoin="round"/>
<line x1="87.0" y1="208.0" x2="990.0" y2="208.0" stroke="#231a14" stroke-width="2.2"/>
<line x1="170.0" y1="235.0" x2="978.0" y2="235.0" stroke="#231a14" stroke-width="2"/>
<line x1="144.0" y1="311.0" x2="984.0" y2="311.0" stroke="#231a14" stroke-width="2"/>
<line x1="214.0" y1="335.0" x2="611.0" y2="335.0" stroke="#231a14" stroke-width="2"/>
<line x1="251.0" y1="345.0" x2="615.0" y2="345.0" stroke="#231a14" stroke-width="2"/>
<line x1="269.0" y1="420.0" x2="880.0" y2="420.0" stroke="#231a14" stroke-width="2"/>
<line x1="180.0" y1="445.0" x2="899.0" y2="445.0" stroke="#231a14" stroke-width="2"/>
<line x1="257.0" y1="478.0" x2="875.0" y2="478.0" stroke="#231a14" stroke-width="2"/>
<line x1="257.0" y1="499.0" x2="871.0" y2="499.0" stroke="#231a14" stroke-width="2.4"/>
<line x1="0.0" y1="549.0" x2="1213.0" y2="549.0" stroke="#2a2a1e" stroke-width="3"/>
<path d="M163.0 488.0 L144.0 427.0 L122.0 355.0 L105.0 300.0 L85.0 230.0 L70.0 175.0 L55.0 168.0 L525.0 171.0 L1016.0 176.0" fill="none" stroke="#1a1410" stroke-width="3.2" stroke-dasharray="15 11"/>
<path d="M1016.0 176.0 L1010.0 190.0 L998.0 230.0 L983.0 288.0 L965.0 355.0 L946.0 416.0 L930.0 475.0 L921.0 505.0" fill="none" stroke="#1a1410" stroke-width="3.2" stroke-dasharray="15 11"/>
<path d="M171.0 241.0 H997.0 M171.0 307.0 H997.0 M997.0 241.0 V307.0" fill="none" stroke="#d4dc5a" stroke-width="5.5" stroke-dasharray="27 11"/>
<line x1="1105" y1="257" x2="1105" y2="304" stroke="#231a14" stroke-width="2.5"/>
<rect x="822" y="488" width="51" height="10" fill="#ffffff"/>
</g></svg>
<svg class="pan" style="left:1874px;top:740px" width="1239" height="645" viewBox="0 0 1239 645">
<defs><filter id="blbr" filterUnits="userSpaceOnUse" x="-90" y="-90" width="1440" height="840"><feGaussianBlur stdDeviation="7"/></filter>
<clipPath id="cpbr"><rect width="1239" height="645"/></clipPath></defs>
<g clip-path="url(#cpbr)"><g filter="url(#blbr)"><g transform="translate(-90,-90)">
<rect x="0" y="0" width="240" height="30" fill="#c3552e"/><rect x="240" y="0" width="30" height="30" fill="#bb3a2a"/><rect x="270" y="0" width="30" height="30" fill="#c3552e"/><rect x="300" y="0" width="30" height="30" fill="#bb3a2a"/><rect x="330" y="0" width="30" height="30" fill="#c3552e"/><rect x="360" y="0" width="30" height="30" fill="#bb3a2a"/><rect x="390" y="0" width="90" height="30" fill="#c3552e"/><rect x="480" y="0" width="30" height="30" fill="#cf7a2e"/><rect x="510" y="0" width="60" height="30" fill="#bb3a2a"/><rect x="570" y="0" width="870" height="30" fill="#c3552e"/><rect x="0" y="30" width="240" height="30" fill="#c3552e"/><rect x="240" y="30" width="30" height="30" fill="#bb3a2a"/><rect x="270" y="30" width="30" height="30" fill="#c3552e"/><rect x="300" y="30" width="30" height="30" fill="#bb3a2a"/><rect x="330" y="30" width="30" height="30" fill="#c3552e"/><rect x="360" y="30" width="30" height="30" fill="#bb3a2a"/><rect x="390" y="30" width="90" height="30" fill="#c3552e"/><rect x="480" y="30" width="30" height="30" fill="#cf7a2e"/><rect x="510" y="30" width="60" height="30" fill="#bb3a2a"/><rect x="570" y="30" width="870" height="30" fill="#c3552e"/><rect x="0" y="60" width="240" height="30" fill="#c3552e"/><rect x="240" y="60" width="30" height="30" fill="#bb3a2a"/><rect x="270" y="60" width="30" height="30" fill="#c3552e"/><rect x="300" y="60" width="30" height="30" fill="#bb3a2a"/><rect x="330" y="60" width="30" height="30" fill="#c3552e"/><rect x="360" y="60" width="30" height="30" fill="#bb3a2a"/><rect x="390" y="60" width="90" height="30" fill="#c3552e"/><rect x="480" y="60" width="30" height="30" fill="#cf7a2e"/><rect x="510" y="60" width="60" height="30" fill="#bb3a2a"/><rect x="570" y="60" width="870" height="30" fill="#c3552e"/><rect x="0" y="90" width="240" height="30" fill="#c3552e"/><rect x="240" y="90" width="30" height="30" fill="#bb3a2a"/><rect x="270" y="90" width="30" height="30" fill="#c3552e"/><rect x="300" y="90" width="30" height="30" fill="#bb3a2a"/><rect x="330" y="90" width="30" height="30" fill="#c3552e"/><rect x="360" y="90" width="30" height="30" fill="#bb3a2a"/><rect x="390" y="90" width="90" height="30" fill="#c3552e"/><rect x="480" y="90" width="30" height="30" fill="#cf7a2e"/><rect x="510" y="90" width="60" height="30" fill="#bb3a2a"/><rect x="570" y="90" width="870" height="30" fill="#c3552e"/><rect x="0" y="120" width="240" height="30" fill="#c3552e"/><rect x="240" y="120" width="180" height="30" fill="#cf7a2e"/><rect x="420" y="120" width="60" height="30" fill="#c3552e"/><rect x="480" y="120" width="60" height="30" fill="#bb3a2a"/><rect x="540" y="120" width="270" height="30" fill="#c3552e"/><rect x="810" y="120" width="90" height="30" fill="#bb3a2a"/><rect x="900" y="120" width="270" height="30" fill="#cf7a2e"/><rect x="1170" y="120" width="270" height="30" fill="#c3552e"/><rect x="0" y="150" width="240" height="30" fill="#c3552e"/><rect x="240" y="150" width="180" height="30" fill="#cf7a2e"/><rect x="420" y="150" width="60" height="30" fill="#c3552e"/><rect x="480" y="150" width="30" height="30" fill="#bb3a2a"/><rect x="510" y="150" width="300" height="30" fill="#c3552e"/><rect x="810" y="150" width="90" height="30" fill="#bb3a2a"/><rect x="900" y="150" width="270" height="30" fill="#cf7a2e"/><rect x="1170" y="150" width="270" height="30" fill="#c3552e"/><rect x="0" y="180" width="240" height="30" fill="#c3552e"/><rect x="240" y="180" width="30" height="30" fill="#cf7a2e"/><rect x="270" y="180" width="60" height="30" fill="#cba633"/><rect x="330" y="180" width="60" height="30" fill="#cf7a2e"/><rect x="390" y="180" width="420" height="30" fill="#c3552e"/><rect x="810" y="180" width="90" height="30" fill="#bb3a2a"/><rect x="900" y="180" width="360" height="30" fill="#cf7a2e"/><rect x="1260" y="180" width="180" height="30" fill="#c3552e"/><rect x="0" y="210" width="180" height="30" fill="#c3552e"/><rect x="180" y="210" width="60" height="30" fill="#cf7a2e"/><rect x="240" y="210" width="90" height="30" fill="#cba633"/><rect x="330" y="210" width="60" height="30" fill="#cf7a2e"/><rect x="390" y="210" width="420" height="30" fill="#c3552e"/><rect x="810" y="210" width="60" height="30" fill="#bb3a2a"/><rect x="870" y="210" width="30" height="30" fill="#c3552e"/><rect x="900" y="210" width="90" height="30" fill="#cf7a2e"/><rect x="990" y="210" width="90" height="30" fill="#cba633"/><rect x="1080" y="210" width="240" height="30" fill="#cf7a2e"/><rect x="1320" y="210" width="120" height="30" fill="#c3552e"/><rect x="0" y="240" width="120" height="30" fill="#c3552e"/><rect x="120" y="240" width="120" height="30" fill="#cf7a2e"/><rect x="240" y="240" width="30" height="30" fill="#cba633"/><rect x="270" y="240" width="60" height="30" fill="#c0c945"/><rect x="330" y="240" width="60" height="30" fill="#cba633"/><rect x="390" y="240" width="30" height="30" fill="#cf7a2e"/><rect x="420" y="240" width="480" height="30" fill="#c3552e"/><rect x="900" y="240" width="60" height="30" fill="#cf7a2e"/><rect x="960" y="240" width="60" height="30" fill="#cba633"/><rect x="1020" y="240" width="30" height="30" fill="#c0c945"/><rect x="1050" y="240" width="60" height="30" fill="#cba633"/><rect x="1110" y="240" width="330" height="30" fill="#cf7a2e"/><rect x="0" y="270" width="210" height="30" fill="#cf7a2e"/><rect x="210" y="270" width="30" height="30" fill="#cba633"/><rect x="240" y="270" width="60" height="30" fill="#c0c945"/><rect x="300" y="270" width="30" height="30" fill="#cba633"/><rect x="330" y="270" width="30" height="30" fill="#c0c945"/><rect x="360" y="270" width="30" height="30" fill="#cba633"/><rect x="390" y="270" width="30" height="30" fill="#c0c945"/><rect x="420" y="270" width="480" height="30" fill="#c3552e"/><rect x="900" y="270" width="30" height="30" fill="#cf7a2e"/><rect x="930" y="270" width="90" height="30" fill="#cba633"/><rect x="1020" y="270" width="30" height="30" fill="#c0c945"/><rect x="1050" y="270" width="30" height="30" fill="#94ba3e"/><rect x="1080" y="270" width="60" height="30" fill="#cba633"/><rect x="1140" y="270" width="300" height="30" fill="#cf7a2e"/><rect x="0" y="300" width="240" height="30" fill="#cf7a2e"/><rect x="240" y="300" width="30" height="30" fill="#cba633"/><rect x="270" y="300" width="30" height="30" fill="#94ba3e"/><rect x="300" y="300" width="30" height="30" fill="#c0c945"/><rect x="330" y="300" width="30" height="30" fill="#cba633"/><rect x="360" y="300" width="30" height="30" fill="#c0c945"/><rect x="390" y="300" width="30" height="30" fill="#cf7a2e"/><rect x="420" y="300" width="480" height="30" fill="#c3552e"/><rect x="900" y="300" width="60" height="30" fill="#cf7a2e"/><rect x="960" y="300" width="60" height="30" fill="#c0c945"/><rect x="1020" y="300" width="30" height="30" fill="#94ba3e"/><rect x="1050" y="300" width="30" height="30" fill="#c0c945"/><rect x="1080" y="300" width="90" height="30" fill="#cba633"/><rect x="1170" y="300" width="90" height="30" fill="#cf7a2e"/><rect x="1260" y="300" width="180" height="30" fill="#cba633"/><rect x="0" y="330" width="150" height="30" fill="#cba633"/><rect x="150" y="330" width="60" height="30" fill="#cf7a2e"/><rect x="210" y="330" width="30" height="30" fill="#cba633"/><rect x="240" y="330" width="30" height="30" fill="#c0c945"/><rect x="270" y="330" width="60" height="30" fill="#94ba3e"/><rect x="330" y="330" width="30" height="30" fill="#c0c945"/><rect x="360" y="330" width="30" height="30" fill="#94ba3e"/><rect x="390" y="330" width="30" height="30" fill="#cf7a2e"/><rect x="420" y="330" width="480" height="30" fill="#c3552e"/><rect x="900" y="330" width="30" height="30" fill="#cf7a2e"/><rect x="930" y="330" width="30" height="30" fill="#c3552e"/><rect x="960" y="330" width="30" height="30" fill="#cf7a2e"/><rect x="990" y="330" width="30" height="30" fill="#c0c945"/><rect x="1020" y="330" width="30" height="30" fill="#94ba3e"/><rect x="1050" y="330" width="60" height="30" fill="#c0c945"/><rect x="1110" y="330" width="90" height="30" fill="#cba633"/><rect x="1200" y="330" width="30" height="30" fill="#cf7a2e"/><rect x="1230" y="330" width="210" height="30" fill="#cba633"/><rect x="0" y="360" width="210" height="30" fill="#cba633"/><rect x="210" y="360" width="60" height="30" fill="#c0c945"/><rect x="270" y="360" width="30" height="30" fill="#94ba3e"/><rect x="300" y="360" width="30" height="30" fill="#c0c945"/><rect x="330" y="360" width="30" height="30" fill="#94ba3e"/><rect x="360" y="360" width="30" height="30" fill="#c0c945"/><rect x="390" y="360" width="30" height="30" fill="#cf7a2e"/><rect x="420" y="360" width="510" height="30" fill="#c3552e"/><rect x="930" y="360" width="60" height="30" fill="#cf7a2e"/><rect x="990" y="360" width="30" height="30" fill="#c0c945"/><rect x="1020" y="360" width="60" height="30" fill="#94ba3e"/><rect x="1080" y="360" width="60" height="30" fill="#c0c945"/><rect x="1140" y="360" width="300" height="30" fill="#cba633"/><rect x="0" y="390" width="180" height="30" fill="#cba633"/><rect x="180" y="390" width="90" height="30" fill="#c0c945"/><rect x="270" y="390" width="90" height="30" fill="#94ba3e"/><rect x="360" y="390" width="30" height="30" fill="#c0c945"/><rect x="390" y="390" width="630" height="30" fill="#c3552e"/><rect x="1020" y="390" width="30" height="30" fill="#c0c945"/><rect x="1050" y="390" width="30" height="30" fill="#94ba3e"/><rect x="1080" y="390" width="90" height="30" fill="#c0c945"/><rect x="1170" y="390" width="30" height="30" fill="#cac23c"/><rect x="1200" y="390" width="240" height="30" fill="#cba633"/><rect x="0" y="420" width="120" height="30" fill="#cba633"/><rect x="120" y="420" width="90" height="30" fill="#cac23c"/><rect x="210" y="420" width="60" height="30" fill="#c0c945"/><rect x="270" y="420" width="60" height="30" fill="#94ba3e"/><rect x="330" y="420" width="30" height="30" fill="#c0c945"/><rect x="360" y="420" width="660" height="30" fill="#c3552e"/><rect x="1020" y="420" width="30" height="30" fill="#c0c945"/><rect x="1050" y="420" width="30" height="30" fill="#94ba3e"/><rect x="1080" y="420" width="60" height="30" fill="#c0c945"/><rect x="1140" y="420" width="60" height="30" fill="#cac23c"/><rect x="1200" y="420" width="240" height="30" fill="#cba633"/><rect x="0" y="450" width="210" height="30" fill="#cac23c"/><rect x="210" y="450" width="60" height="30" fill="#c0c945"/><rect x="270" y="450" width="30" height="30" fill="#94ba3e"/><rect x="300" y="450" width="30" height="30" fill="#c0c945"/><rect x="330" y="450" width="30" height="30" fill="#94ba3e"/><rect x="360" y="450" width="30" height="30" fill="#cf7a2e"/><rect x="390" y="450" width="630" height="30" fill="#c3552e"/><rect x="1020" y="450" width="30" height="30" fill="#cf7a2e"/><rect x="1050" y="450" width="60" height="30" fill="#94ba3e"/><rect x="1110" y="450" width="30" height="30" fill="#c0c945"/><rect x="1140" y="450" width="180" height="30" fill="#cac23c"/><rect x="1320" y="450" width="120" height="30" fill="#cba633"/><rect x="0" y="480" width="180" height="30" fill="#cac23c"/><rect x="180" y="480" width="90" height="30" fill="#c0c945"/><rect x="270" y="480" width="60" height="30" fill="#94ba3e"/><rect x="330" y="480" width="30" height="30" fill="#c0c945"/><rect x="360" y="480" width="30" height="30" fill="#cf7a2e"/><rect x="390" y="480" width="210" height="30" fill="#c3552e"/><rect x="600" y="480" width="90" height="30" fill="#cf7a2e"/><rect x="690" y="480" width="120" height="30" fill="#c3552e"/><rect x="810" y="480" width="30" height="30" fill="#cf7a2e"/><rect x="840" y="480" width="180" height="30" fill="#c3552e"/><rect x="1020" y="480" width="90" height="30" fill="#94ba3e"/><rect x="1110" y="480" width="30" height="30" fill="#c0c945"/><rect x="1140" y="480" width="300" height="30" fill="#cac23c"/><rect x="0" y="510" width="120" height="30" fill="#c0c945"/><rect x="120" y="510" width="60" height="30" fill="#cac23c"/><rect x="180" y="510" width="60" height="30" fill="#c0c945"/><rect x="240" y="510" width="90" height="30" fill="#94ba3e"/><rect x="330" y="510" width="30" height="30" fill="#c0c945"/><rect x="360" y="510" width="240" height="30" fill="#c3552e"/><rect x="600" y="510" width="30" height="30" fill="#cf7a2e"/><rect x="630" y="510" width="420" height="30" fill="#c3552e"/><rect x="1050" y="510" width="90" height="30" fill="#94ba3e"/><rect x="1140" y="510" width="30" height="30" fill="#c0c945"/><rect x="1170" y="510" width="270" height="30" fill="#cac23c"/><rect x="0" y="540" width="210" height="30" fill="#c0c945"/><rect x="210" y="540" width="120" height="30" fill="#94ba3e"/><rect x="330" y="540" width="30" height="30" fill="#c0c945"/><rect x="360" y="540" width="270" height="30" fill="#c3552e"/><rect x="630" y="540" width="30" height="30" fill="#c0c945"/><rect x="660" y="540" width="390" height="30" fill="#c3552e"/><rect x="1050" y="540" width="30" height="30" fill="#94ba3e"/><rect x="1080" y="540" width="30" height="30" fill="#76b23c"/><rect x="1110" y="540" width="30" height="30" fill="#94ba3e"/><rect x="1140" y="540" width="30" height="30" fill="#c0c945"/><rect x="1170" y="540" width="270" height="30" fill="#cac23c"/><rect x="0" y="570" width="180" height="30" fill="#c0c945"/><rect x="180" y="570" width="150" height="30" fill="#94ba3e"/><rect x="330" y="570" width="30" height="30" fill="#c0c945"/><rect x="360" y="570" width="660" height="30" fill="#c3552e"/><rect x="1020" y="570" width="30" height="30" fill="#cf7a2e"/><rect x="1050" y="570" width="30" height="30" fill="#94ba3e"/><rect x="1080" y="570" width="30" height="30" fill="#76b23c"/><rect x="1110" y="570" width="60" height="30" fill="#94ba3e"/><rect x="1170" y="570" width="30" height="30" fill="#c0c945"/><rect x="1200" y="570" width="240" height="30" fill="#cac23c"/><rect x="0" y="600" width="300" height="30" fill="#94ba3e"/><rect x="300" y="600" width="60" height="30" fill="#c0c945"/><rect x="360" y="600" width="30" height="30" fill="#cac23c"/><rect x="390" y="600" width="150" height="30" fill="#c3552e"/><rect x="540" y="600" width="90" height="30" fill="#cf7a2e"/><rect x="630" y="600" width="30" height="30" fill="#cac23c"/><rect x="660" y="600" width="180" height="30" fill="#cf7a2e"/><rect x="840" y="600" width="150" height="30" fill="#c3552e"/><rect x="990" y="600" width="30" height="30" fill="#cf7a2e"/><rect x="1020" y="600" width="30" height="30" fill="#cac23c"/><rect x="1050" y="600" width="30" height="30" fill="#c0c945"/><rect x="1080" y="600" width="60" height="30" fill="#94ba3e"/><rect x="1140" y="600" width="30" height="30" fill="#76b23c"/><rect x="1170" y="600" width="30" height="30" fill="#94ba3e"/><rect x="1200" y="600" width="240" height="30" fill="#c0c945"/><rect x="0" y="630" width="270" height="30" fill="#94ba3e"/><rect x="270" y="630" width="60" height="30" fill="#c0c945"/><rect x="330" y="630" width="30" height="30" fill="#cac23c"/><rect x="360" y="630" width="30" height="30" fill="#cf7a2e"/><rect x="390" y="630" width="120" height="30" fill="#c3552e"/><rect x="510" y="630" width="120" height="30" fill="#cf7a2e"/><rect x="630" y="630" width="60" height="30" fill="#cac23c"/><rect x="690" y="630" width="150" height="30" fill="#cf7a2e"/><rect x="840" y="630" width="150" height="30" fill="#c3552e"/><rect x="990" y="630" width="30" height="30" fill="#cf7a2e"/><rect x="1020" y="630" width="30" height="30" fill="#cac23c"/><rect x="1050" y="630" width="60" height="30" fill="#c0c945"/><rect x="1110" y="630" width="30" height="30" fill="#94ba3e"/><rect x="1140" y="630" width="30" height="30" fill="#76b23c"/><rect x="1170" y="630" width="60" height="30" fill="#94ba3e"/><rect x="1230" y="630" width="210" height="30" fill="#c0c945"/><rect x="0" y="660" width="150" height="30" fill="#c0c945"/><rect x="150" y="660" width="120" height="30" fill="#94ba3e"/><rect x="270" y="660" width="60" height="30" fill="#c0c945"/><rect x="330" y="660" width="30" height="30" fill="#cac23c"/><rect x="360" y="660" width="60" height="30" fill="#cf7a2e"/><rect x="420" y="660" width="120" height="30" fill="#c3552e"/><rect x="540" y="660" width="60" height="30" fill="#cf7a2e"/><rect x="600" y="660" width="90" height="30" fill="#cac23c"/><rect x="690" y="660" width="120" height="30" fill="#cba633"/><rect x="810" y="660" width="180" height="30" fill="#cf7a2e"/><rect x="990" y="660" width="30" height="30" fill="#cba633"/><rect x="1020" y="660" width="30" height="30" fill="#cac23c"/><rect x="1050" y="660" width="60" height="30" fill="#c0c945"/><rect x="1110" y="660" width="210" height="30" fill="#94ba3e"/><rect x="1320" y="660" width="120" height="30" fill="#c0c945"/><rect x="0" y="690" width="120" height="30" fill="#94ba3e"/><rect x="120" y="690" width="120" height="30" fill="#76b23c"/><rect x="240" y="690" width="60" height="30" fill="#94ba3e"/><rect x="300" y="690" width="30" height="30" fill="#c0c945"/><rect x="330" y="690" width="30" height="30" fill="#cac23c"/><rect x="360" y="690" width="90" height="30" fill="#cf7a2e"/><rect x="450" y="690" width="90" height="30" fill="#c3552e"/><rect x="540" y="690" width="60" height="30" fill="#cf7a2e"/><rect x="600" y="690" width="90" height="30" fill="#cac23c"/><rect x="690" y="690" width="150" height="30" fill="#cba633"/><rect x="840" y="690" width="120" height="30" fill="#cf7a2e"/><rect x="960" y="690" width="30" height="30" fill="#cba633"/><rect x="990" y="690" width="60" height="30" fill="#cac23c"/><rect x="1050" y="690" width="30" height="30" fill="#c0c945"/><rect x="1080" y="690" width="90" height="30" fill="#94ba3e"/><rect x="1170" y="690" width="60" height="30" fill="#76b23c"/><rect x="1230" y="690" width="210" height="30" fill="#94ba3e"/><rect x="0" y="720" width="270" height="30" fill="#76b23c"/><rect x="270" y="720" width="30" height="30" fill="#94ba3e"/><rect x="300" y="720" width="30" height="30" fill="#c0c945"/><rect x="330" y="720" width="30" height="30" fill="#cac23c"/><rect x="360" y="720" width="240" height="30" fill="#cf7a2e"/><rect x="600" y="720" width="90" height="30" fill="#cac23c"/><rect x="690" y="720" width="150" height="30" fill="#cba633"/><rect x="840" y="720" width="120" height="30" fill="#cf7a2e"/><rect x="960" y="720" width="30" height="30" fill="#cba633"/><rect x="990" y="720" width="60" height="30" fill="#cac23c"/><rect x="1050" y="720" width="30" height="30" fill="#c0c945"/><rect x="1080" y="720" width="60" height="30" fill="#94ba3e"/><rect x="1140" y="720" width="120" height="30" fill="#76b23c"/><rect x="1260" y="720" width="180" height="30" fill="#94ba3e"/><rect x="0" y="750" width="270" height="30" fill="#76b23c"/><rect x="270" y="750" width="30" height="30" fill="#94ba3e"/><rect x="300" y="750" width="30" height="30" fill="#c0c945"/><rect x="330" y="750" width="30" height="30" fill="#cac23c"/><rect x="360" y="750" width="240" height="30" fill="#cf7a2e"/><rect x="600" y="750" width="90" height="30" fill="#cac23c"/><rect x="690" y="750" width="150" height="30" fill="#cba633"/><rect x="840" y="750" width="120" height="30" fill="#cf7a2e"/><rect x="960" y="750" width="30" height="30" fill="#cba633"/><rect x="990" y="750" width="60" height="30" fill="#cac23c"/><rect x="1050" y="750" width="30" height="30" fill="#c0c945"/><rect x="1080" y="750" width="60" height="30" fill="#94ba3e"/><rect x="1140" y="750" width="120" height="30" fill="#76b23c"/><rect x="1260" y="750" width="180" height="30" fill="#94ba3e"/><rect x="0" y="780" width="270" height="30" fill="#76b23c"/><rect x="270" y="780" width="30" height="30" fill="#94ba3e"/><rect x="300" y="780" width="30" height="30" fill="#c0c945"/><rect x="330" y="780" width="30" height="30" fill="#cac23c"/><rect x="360" y="780" width="240" height="30" fill="#cf7a2e"/><rect x="600" y="780" width="90" height="30" fill="#cac23c"/><rect x="690" y="780" width="150" height="30" fill="#cba633"/><rect x="840" y="780" width="120" height="30" fill="#cf7a2e"/><rect x="960" y="780" width="30" height="30" fill="#cba633"/><rect x="990" y="780" width="60" height="30" fill="#cac23c"/><rect x="1050" y="780" width="30" height="30" fill="#c0c945"/><rect x="1080" y="780" width="60" height="30" fill="#94ba3e"/><rect x="1140" y="780" width="120" height="30" fill="#76b23c"/><rect x="1260" y="780" width="180" height="30" fill="#94ba3e"/><rect x="0" y="810" width="270" height="30" fill="#76b23c"/><rect x="270" y="810" width="30" height="30" fill="#94ba3e"/><rect x="300" y="810" width="30" height="30" fill="#c0c945"/><rect x="330" y="810" width="30" height="30" fill="#cac23c"/><rect x="360" y="810" width="240" height="30" fill="#cf7a2e"/><rect x="600" y="810" width="90" height="30" fill="#cac23c"/><rect x="690" y="810" width="150" height="30" fill="#cba633"/><rect x="840" y="810" width="120" height="30" fill="#cf7a2e"/><rect x="960" y="810" width="30" height="30" fill="#cba633"/><rect x="990" y="810" width="60" height="30" fill="#cac23c"/><rect x="1050" y="810" width="30" height="30" fill="#c0c945"/><rect x="1080" y="810" width="60" height="30" fill="#94ba3e"/><rect x="1140" y="810" width="120" height="30" fill="#76b23c"/><rect x="1260" y="810" width="180" height="30" fill="#94ba3e"/>
</g>
</g>
<path d="M286 391L290 402L286 414L289 422M220 420L225 417L238 407L249 393M323 213L323 214M287 213L280 218L274 226L267 234M234 262L220 262L205 262L192 269M234 262L242 284L236 309L248 330M192 269L191 277L191 285L187 293M187 293L194 308L196 325L204 340M248 330L236 337L223 335L211 340M204 340L211 340M186 259L192 269M267 234L267 242M267 242L258 252L243 252L234 262M173 295L187 293M186 259L174 250L162 250M249 393L242 371L225 357L211 340M286 391L294 379L294 363L301 351M301 351L297 343L292 336L284 332M361 236L354 244L353 254L350 264M361 236L347 231L335 221L323 214M293 276L311 268L331 268L350 264M400 415L410 403L415 388L419 373M400 415L401 422M447 422L448 416L453 403L463 392M419 373L433 381L449 384L463 392M359 411L373 413L387 413L400 415M510 422L505 404L497 384M497 384L485 387L474 387L463 392M529 333L521 342L508 341L500 349M545 298L529 295L512 291L496 284M500 349L495 341L487 337L482 329M482 329L478 318L481 307L479 295M479 295L484 291L491 289L496 284M587 292L578 293L570 287L562 287M587 292L584 303L586 314L587 325M562 287L555 289L552 296L545 298M587 325L575 332L562 335L552 342M552 342L544 338L536 338L529 333M500 379L499 369L500 359L500 349M500 379L523 388L548 387L573 390M552 342L559 358L565 374L573 390M382 213L380 224M562 287L553 272L547 256L537 241M496 284L504 275L504 261L512 252M537 241L528 243L521 250L512 252M512 252L498 235L477 231L459 221M435 247L415 244L401 226L380 224M462 213L459 221M1071 327L1071 327L1065 324M1065 324L1053 331L1043 341L1031 347M948 213L952 224L970 242M986 213L985 214L978 228L970 242M1011 269L997 260L981 256L970 244M1046 227L1043 213M587 325L597 336L599 350L604 362M573 390L578 394L583 396L589 398M604 362L595 373L596 387L589 398M583 422L586 419L587 410L590 402M590 402L589 398M1067 286L1081 280L1086 279M1046 227L1063 234L1080 234L1086 233M397 318L396 318M410 346L410 348M410 348L389 357L373 375L350 381M309 351L324 341M438 266L431 288L405 296L397 318M350 264L353 272M353 272L366 288L377 307L396 318M482 329L458 334L436 348L410 346M353 272L337 292L326 315L324 341M419 373L418 364L416 355L410 348M359 411L359 400L351 391L350 381M301 351L309 351M548 213L545 216M537 241L540 234L541 226L545 219M545 219L545 216M1031 347L1023 337L1009 335L999 327M988 398L974 390L955 391M976 338L983 333L992 332L999 327M1011 269L1003 282L1004 297L998 311M650 418L651 422M670 393L690 398L708 407L727 411M728 422L727 411M955 391L945 394M945 394L943 398M945 422L945 418L943 398M754 312L739 309L729 297L717 291M754 312L736 323L725 339L718 358M717 291L698 304L687 324L670 338M718 358L703 357L690 346L674 345M674 345L670 338M738 384L753 376L770 373L786 369M738 384L732 375L725 367L718 358M778 313L770 313L762 309L754 312M738 384L734 393L728 401L727 411M604 362L622 349L642 341L663 336M663 336L670 338M660 243L666 252L676 255L683 262M660 243L647 246L633 244L621 250M683 262L665 271L658 290L643 301M643 301L633 293L623 285L611 279M621 250L613 266M615 213L611 227L621 250M670 213L664 220L668 234L660 243M710 264L701 264L692 265L683 262M663 336L659 323L649 313L643 301M587 292L593 285L604 286L611 279M715 213L715 228L724 240M724 240L747 247L770 232L793 239M791 213L797 227M797 227L793 239M802 259L800 252L797 246L793 239M802 259L802 271L802 283L797 294M778 313L785 308L791 301L797 294M802 259L827 264L851 253L876 259M876 259L878 240L880 220L882 213M797 294L815 299L830 309L845 320M845 320L858 304L875 292L887 276M876 259L880 265L885 270L887 276M970 244L965 248L958 249L954 253M895 213L904 225L930 237L954 253M976 338L960 334L949 321L934 315M934 315L928 307L924 299L923 289M934 315L935 334L924 349L918 366M887 276L896 281L906 281L914 289M923 289L914 289M845 320L851 334M786 369L792 372L797 376L801 381M851 334L831 346L813 360L801 381M914 289L902 311L883 328L877 353M918 366L906 360L893 361L880 359M880 359L877 353M943 398L925 405L908 414L897 422M880 359L874 371M874 371L880 389L891 406L892 422M804 386L813 390L821 395L828 403M804 386L787 401L783 422M827 422L832 413M832 413L828 403M801 381L804 386M837 422L832 413M476 488L481 484M484 488L484 487M481 484L484 487M295 473L277 468M295 473L293 479L287 483L284 488M278 484L283 488M278 484L274 474M274 474L277 468M284 488L283 488M275 488L278 484M255 478L255 482M255 478L262 478L268 476L274 474M255 482L258 488M285 488L284 488M300 488L302 477M295 473L297 472M302 477L297 472M950 425L941 424M950 425L953 422M939 422L941 424M960 439L956 438M956 438L950 425M956 438L943 443M941 424L938 442M938 442L943 443M470 438L454 443M470 438L475 447M454 443L468 454M475 447L472 453M472 453L468 454M470 429L456 432M470 429L470 438M454 443L454 443M454 443L453 435M453 435L456 432M477 475L481 464M477 475L463 472M481 464L472 453M464 459L463 472M464 459L468 454M488 422L484 430M484 430L471 427M471 427L470 422M470 429L471 427M456 432L453 426L453 422M453 435L438 428M440 422L438 428M418 485L418 485M418 485L408 485M403 473L408 485M403 473L415 462M418 485L426 470M415 462L426 470M430 443L432 453M430 443L436 446L442 447L449 448M449 448L449 459M433 457L432 453M433 457L448 460M448 460L449 459M454 443L449 448M464 459L449 459M415 462L415 462M415 462L421 459L426 455L432 453M428 470L426 470M428 470L433 457M411 451L412 447M411 451L415 462M412 447L417 445M430 443L429 443M429 443L417 445M418 485L418 488M408 485L406 488M422 488L418 485M411 451L397 462M412 447L408 445M408 445L396 446M396 446L394 456M394 456L397 462M379 449L385 441M379 449L384 456M396 446L385 441M394 456L384 456M403 473L396 470M397 462L396 470M350 461L351 459M350 461L355 469M371 451L369 449M371 451L369 463M355 469L369 463M351 459L357 455L362 452L369 449M242 477L251 474M235 460L239 454M251 474L246 458M246 458L239 454M448 467L462 473M448 467L441 475M441 475L442 481M442 481L457 485M457 485L462 473M463 472L462 473M448 460L448 467M428 470L441 475M439 488L442 481M458 488L457 485M481 484L477 475M245 487L251 485M251 485L248 488M255 478L254 476M255 482L251 485M254 476L251 474M330 488L328 484M315 488L315 482M315 482L328 484M302 477L310 476M315 482L310 476M351 459L355 442M369 449L364 444M355 442L364 444M377 470L373 480M377 470L384 469M390 471L384 469M390 471L387 488M373 480L381 488M385 488L387 488M371 451L379 449M369 463L377 470M384 456L384 469M396 470L390 471M388 488L387 488M345 477L354 471M345 477L343 488M354 471L363 483M362 488L363 483M355 469L354 471M373 480L363 483M832 478L850 481M832 478L822 486M822 486L823 488M845 488L850 483M850 483L850 481M915 422L915 426M915 426L926 426M926 426L929 422M898 424L898 422M898 424L908 433M908 433L915 426M898 422L898 422M938 442L931 442M931 442L926 426M898 422L898 422M898 424L897 425M897 425L890 426L884 429L877 429M881 422L877 429M961 458L959 459M943 443L944 448M944 448L949 451L955 454L959 459M961 470L954 467M959 459L954 467M557 457L570 468M557 457L548 469M570 468L557 480M548 469L557 480M475 447L488 441M484 430L490 438M488 441L490 438M484 487L486 486M486 486L493 485L500 485L506 486M506 486L506 488M669 488L667 487M666 488L667 487M681 472L667 480M681 472L686 478M686 485L686 478M686 485L680 486L674 482L667 484M667 480L667 484M687 488L686 485M667 487L667 484M415 422L417 425M429 422L430 422L436 430M417 425L422 429L426 434L431 438M436 430L431 438M406 422L403 426M417 445L416 438L418 432L417 425M408 445L407 438L404 432L403 426M438 428L436 430M429 443L431 438M380 429L377 424L377 422M380 429L384 432M391 428L384 432M391 428L392 422M385 441L384 432M371 431L364 444M371 431L380 429M403 426L391 428M350 461L335 456M355 442L350 436M350 436L341 439M341 439L335 456M239 454L238 452M238 452L231 449M315 471L330 472M315 471L315 455M334 456L320 451M334 456L331 471M331 471L330 472M315 455L320 451M310 476L315 471M328 484L330 472M345 477L331 471M335 456L334 456M371 431L367 427L361 425L355 423M350 436L350 435M350 435L355 423M355 422L355 422M355 422L355 423M864 479L853 484M864 479L871 488M853 484L856 488M850 483L853 484M850 481L850 474M864 479L873 470M873 470L859 460M850 474L859 460M781 488L783 480M781 488L782 488M783 480L799 472M799 472L804 485M802 488L804 485M781 488L781 488M821 485L804 485M821 485L822 486M876 488L884 484M885 488L884 484M534 422L531 430M531 430L519 427M519 427L515 422M490 438L501 436M504 422L501 436M556 452L557 457M556 452L541 452M541 469L548 469M541 469L536 464M536 464L541 452M532 485L532 488M532 485L536 484M536 484L552 488M552 488L552 488M524 480L516 483M524 480L532 485M516 483L519 488M541 469L536 484M556 485L552 488M556 485L557 480M561 488L556 485M516 483L507 484M506 486L507 484M620 445L634 439M620 445L624 453M639 445L634 439M639 445L639 452M639 452L624 453M618 442L607 442M618 442L620 445M607 442L606 448L602 453L602 459M603 461L602 459M603 461L604 462M604 462L621 460M624 453L621 460M559 426L554 439M559 426L573 436M573 436L571 445M571 445L558 448M558 448L554 439M534 436L533 441M534 436L540 435M556 452L558 448M540 435L554 439M533 441L541 452M582 478L594 476M582 478L580 485M580 485L583 488M594 488L597 480M594 476L597 480M578 472L581 466L587 462L589 456M578 472L582 478M589 456L602 459M603 461L594 476M576 488L580 485M570 468L570 468M570 468L578 472M600 488L602 482M602 482L597 480M602 482L612 479M604 462L607 467L609 473L612 479M232 425L231 435M232 425L237 422M239 422L249 434M249 434L237 444M237 444L231 435M226 422L232 425M226 436L231 435M238 448L238 452M238 448L237 444M246 458L259 452M238 448L244 444L251 443L257 440M259 452L257 440M254 476L257 468L266 463L268 454M259 452L268 454M249 434L257 435M257 440L257 435M270 422L271 425M252 422L252 423L256 428L257 435M271 425L266 432M266 432L257 435M257 435L257 435M297 472L300 456M315 455L301 456M300 456L301 456M350 435L346 430L340 425L336 422M355 422L355 422M316 441L319 445M316 441L318 435L318 429L321 424M319 445L333 434M333 434L328 422M321 424L328 422M320 451L319 445M301 456L302 449L301 442L303 436M303 436L316 441M341 439L333 434M328 422L328 422M316 422L321 424M832 478L832 468M850 474L840 465M832 468L840 465M775 488L764 485M764 485L762 488M686 478L702 473M702 473L703 488M821 485L816 472M799 472L799 472M799 472L806 467M816 472L806 467M912 460L909 456M912 460L926 457M909 456L914 451L919 447L925 443M926 457L929 448M929 448L930 443M930 443L925 443M931 442L930 443M944 448L942 455L943 462L941 469M941 469L935 463L934 455L929 448M908 433L908 434M908 434L913 438L920 438L925 443M901 446L906 454M901 446L886 445M906 454L895 462M895 462L882 457M886 445L884 446M884 446L882 452M882 452L882 457M908 434L901 446M909 456L906 454M897 425L893 431L891 439L886 445M875 436L874 430M875 436L884 446M877 429L874 430M961 488L954 481M946 488L948 484L954 481M954 467L949 471M941 469L941 469M941 469L949 471M949 471L954 481M876 470L882 457M876 470L883 477M895 462L896 468M883 477L896 468M876 470L873 470M884 484L884 481M883 477L884 481M570 468L571 462L572 455L575 449M571 445L573 447M575 449L573 447M589 456L587 452M575 449L587 452M607 442L604 438M587 452L592 437M604 438L592 437M573 436L584 427M573 447L580 445L583 438L590 435M584 427L590 435M592 437L590 435M495 472L505 474M495 472L490 462M505 474L506 457M506 457L494 458M490 462L494 458M486 486L495 472M507 484L506 476M506 476L505 474M481 464L490 462M488 441L494 458M536 464L533 464M533 441L522 448M533 464L530 458L526 453L522 448M524 480L523 469M533 464L523 469M506 476L520 466M523 469L520 466M645 458L637 473M645 458L658 457M658 457L659 458M659 458L659 475M659 475L649 481M649 481L637 473M655 433L649 436L645 441L639 445M655 433L655 441L654 449L658 457M639 452L645 458M680 470L681 472M680 470L672 468L667 462L659 458M659 458L659 458M667 480L659 475M649 488L649 481M634 473L625 467M634 473L630 482M625 467L613 480M630 482L623 488M618 488L613 480M621 460L625 467M637 473L634 473M635 488L630 482M612 479L613 480M628 422L624 426M647 425L634 431M647 425L646 422M634 431L624 426M618 422L624 426M624 426L624 426M618 442L624 426M634 439L634 431M562 422L559 425M559 425L552 422M581 423L579 422M581 423L581 422M559 426L559 425M581 423L584 427M584 427L584 427M540 435L544 431L547 425L551 422M534 436L531 430M277 464L282 460L285 455L291 453M277 464L269 454M269 454L274 445M274 445L286 442M291 453L286 442M277 468L277 464M300 456L291 453M268 454L269 454M266 432L274 445M281 428L287 439M281 428L288 422M287 439L301 433M296 422L302 429M302 429L301 433M271 425L281 428M286 442L287 439M303 436L301 433M312 422L302 429M859 460L857 456M840 465L842 458M842 458L857 456M680 470L687 457M659 458L674 450M687 457L674 450M823 445L831 450M823 445L812 449M831 450L825 461M812 449L814 456M814 456L824 461M825 461L824 461M832 468L825 461M842 458L834 449M834 449L831 450M816 472L824 461M806 467L806 464M806 464L814 456M937 488L933 480M941 469L940 470M933 480L940 470M921 488L919 483M933 480L919 483M926 457L931 466M931 466L940 470M912 460L913 471M931 466L924 466L919 470L913 471M899 488L897 481M908 488L909 485L915 480M897 481L908 475M915 480L911 475M908 475L911 475M884 481L897 481M919 483L915 480M896 468L908 475M913 471L911 475M609 422L605 433M605 433L599 431L596 425L592 422M604 438L605 433M584 427L590 422M522 448L512 455M522 448L514 436M514 436L503 438M503 438L503 444L506 450L509 455M509 455L512 455M520 466L512 455M522 448L522 448M519 427L514 436M501 436L503 438M506 457L509 455M882 452L875 454L867 452L859 454M857 456L858 455M859 454L858 455M875 436L868 442M859 454L868 442M783 480L779 470M764 485L761 475M761 475L768 474L774 473L779 470M834 449L841 438M841 438L836 434L831 431L825 428M823 445L820 430M820 430L825 428M874 430L870 427M870 427L868 422M655 433L655 433M647 425L655 430M655 430L655 433M662 422L660 426L655 430M799 472L788 459M806 464L797 450M788 459L797 450M779 470L781 460M788 459L781 460M690 443L692 426M690 443L675 439M692 426L679 431M679 431L674 438M675 439L674 438M674 422L676 425L679 431M655 433L661 436L668 438L674 438M674 450L675 439M849 441L854 438M849 441L842 438M842 438L847 424M847 424L860 432M854 438L860 432M858 455L849 441M868 442L854 438M841 438L842 438M828 422L825 428M847 422L847 424M870 427L860 432M810 422L809 425M820 430L813 429M813 429L809 425M812 449L806 444M813 429L806 444M797 450L798 446M806 444L798 446M702 473L705 469M713 488L714 481L719 476M719 476L705 469M755 488L744 485M742 488L744 485M761 475L757 470M757 470L747 470M744 485L747 470M694 422L692 425M698 429L692 425M698 429L704 427L709 424L716 423M716 423L715 422M692 425L692 425M686 422L686 422L692 425M692 426L692 425M809 425L798 424M798 446L792 440M792 440L798 424M781 460L778 457M792 440L780 438M778 457L780 451L781 444L780 438M757 470L760 463M760 463L773 457M778 457L773 457M719 476L724 472M719 476L727 485M724 472L735 469M735 469L735 476L733 482L732 488M727 485L732 488M725 488L727 485M719 476L719 476M739 467L735 469M739 467L743 468M733 488L732 488M747 470L743 468M739 467L737 461L733 456L732 449M732 449L731 449M724 472L724 465L719 460L719 453M719 453L731 449M727 422L727 426M727 426L725 427M716 423L722 427M722 427L725 427M734 422L728 426M732 427L728 426M732 427L738 428L745 426L752 428M752 428L748 422M717 453L710 438M717 453L704 461M704 461L695 454M705 438L695 452M705 438L710 438M695 454L695 452M719 453L717 453M731 449L727 442L726 435L725 427M722 427L710 438M705 469L704 461M687 457L695 454M690 443L695 452M698 429L705 438M727 426L728 426M765 424L777 433M765 424L754 430M764 444L777 434M764 444L753 443M777 434L777 433M754 430L752 439M752 439L752 442M752 442L753 443M753 443L753 443M752 428L754 430M765 422L765 424M773 457L764 444M780 438L777 434M760 463L757 457L757 450L753 443M732 427L737 433L745 434L752 439M732 449L738 445L746 446L752 442M743 468L747 460L752 452L753 443M782 422L783 424M783 424L790 422M777 433L783 424M798 424L796 422M252 493L252 493M252 493L252 493M939 498L945 496M939 498L937 504M945 496L949 499M949 499L949 504M940 507L949 504M940 507L938 507M937 504L938 507M254 488L255 489M255 489L256 488M252 493L255 489M255 489L255 489M959 509L961 508M959 509L958 505M958 505L959 500M959 500L961 500M954 497L949 499M954 497L959 500M949 504L949 506M949 506L958 505M961 493L960 491M960 491L961 491M954 497L955 493M955 493L960 491M960 491L960 491M946 488L945 496M946 488L946 488M955 493L952 488M917 508L913 505M917 508L922 501M919 498L922 501M919 498L911 501M911 501L913 505M932 504L929 510M932 504L926 499M927 510L924 500M926 499L924 500M937 504L932 504M938 507L937 510M917 508L917 510M922 501L924 500M949 510L950 509M950 509L951 510M940 507L943 510M949 506L950 509M959 509L958 510M924 491L926 499M924 491L928 489M926 499L932 494M928 489L932 494M946 488L944 488M939 498L935 494M936 488L935 494M926 499L926 499M935 494L932 494M928 489L928 488M960 491L960 488M913 505L909 508M908 510L909 508M913 488L916 491M919 488L919 489M919 489L916 491M916 491L916 491M905 488L907 494M907 494L916 491M924 491L919 489M919 498L916 491M293 500L295 499M293 500L287 497M295 499L298 492M298 492L293 489M293 489L287 492M287 497L287 492M276 488L279 490M279 490L284 490M284 488L284 490M293 488L293 489M287 492L284 490M314 506L314 510M314 506L311 505M311 505L306 509M306 509L306 510M292 503L297 508M292 503L286 509M286 509L286 509M286 509L289 510M296 510L296 510M296 510L297 508M300 502L300 504M300 502L295 499M293 500L292 503M300 504L297 508M286 510L286 509M296 510L296 510M306 509L300 504M311 505L309 500M300 502L305 499M309 500L305 499M298 492L303 491M305 499L304 492M303 491L304 492M706 488L707 490M715 488L715 489M715 489L710 492M707 490L710 492M842 489L842 488M842 489L834 495M832 488L833 493M834 495L833 493M855 510L854 507M854 507L849 508M849 508L847 510M779 510L780 507M780 507L775 502M775 502L769 505M769 505L772 510M882 499L882 491M882 499L877 503M877 503L872 497M882 491L879 490M879 490L872 496M872 496L872 497M889 501L888 505M889 501L882 499M877 506L877 503M877 506L877 506M877 506L888 505M888 488L888 490M888 490L882 491M878 488L879 490M508 501L511 507M508 501L501 499M511 507L511 508M499 503L511 508M499 503L499 503M499 503L501 499M309 500L312 498M310 490L304 492M310 490L314 491M312 498L314 491M314 506L320 504M312 498L321 499M320 504L321 499M516 489L515 488M516 489L521 490M522 488L522 489M522 489L521 490M533 488L533 490M530 495L522 489M530 495L531 495M531 495L533 490M451 488L450 491M462 488L462 488M450 491L458 492M462 488L458 492M486 498L494 499M486 498L485 497M485 497L486 494M494 499L494 490M494 490L491 491M491 491L486 494M486 498L491 506M485 497L484 498M491 506L484 508M484 508L481 504M481 504L484 498M477 510L476 506M484 508L483 510M481 504L476 506M546 508L547 510M546 508L556 507M556 507L555 510M275 509L274 508M274 508L273 508M263 500L264 501M263 500L260 491M264 501L270 498M270 498L269 490M260 491L264 489M264 489L269 490M255 489L260 491M263 500L263 500M264 488L264 489M270 488L269 490M274 499L276 505M274 499L276 497M276 497L285 499M276 505L284 505M284 505L285 499M274 508L276 505M264 501L264 501M270 498L274 499M279 490L276 497M287 497L285 499M286 509L284 505M309 488L310 490M303 491L303 488M644 488L644 491M635 488L638 494M638 494L644 491M629 488L626 493M626 493L623 493M620 488L623 493M695 496L693 489M695 496L697 497M697 497L701 491M701 491L696 488M694 488L693 489M707 490L701 491M710 492L709 498M697 497L699 500M709 498L699 500M686 489L685 499M686 489L693 489M695 496L685 499M685 499L685 499M699 500L698 503M698 503L689 505M685 499L689 505M873 510L874 509M874 509L866 503M863 510L861 505M861 505L866 503M877 506L874 509M872 497L869 498M869 498L866 503M854 507L858 503M858 503L861 505M877 506L880 510M889 510L888 505M821 488L821 489M833 493L826 494M826 494L821 489M810 488L809 492M809 492L819 491M821 489L819 491M757 510L758 508M764 510L763 508M763 508L758 507M758 507L758 508M745 510L745 508M748 507L745 508M748 507L758 508M769 505L769 505M769 505L763 508M735 488L741 488M741 488L741 488M738 496L733 498M738 496L744 503M733 498L734 505M734 505L739 507M739 507L743 507M744 503L743 507M728 510L734 505M728 510L728 510M738 510L739 507M745 508L743 507M801 488L800 490M800 490L795 490M795 490L794 488M786 488L791 492M795 490L791 492M775 488L774 491M783 488L779 493M774 491L779 493M872 496L869 490M869 490L869 488M897 492L891 492M897 492L900 488M893 488L890 491M890 491L891 492M888 490L890 491M889 501L891 500M891 500L891 492M891 500L894 501M897 492L900 496M894 501L900 496M911 501L906 498M909 508L903 503M903 503L906 498M907 494L906 498M900 496L906 498M906 498L906 498M497 488L496 489M496 489L501 495M501 495L507 492M507 492L508 488M494 490L496 489M489 488L491 491M499 503L494 499M501 499L501 495M512 495L507 492M512 495L512 496M508 501L512 496M516 489L512 495M492 507L491 510M492 507L497 506M497 506L499 510M491 506L492 507M499 503L497 506M511 508L511 510M379 491L381 488M379 491L387 490M388 488L387 490M371 488L371 488M371 488L373 488M379 491L379 491M375 488L379 491M380 510L382 502M374 504L377 510M374 504L376 500M382 502L380 500M380 500L378 499M378 499L376 500M371 488L368 495M379 491L378 499M376 500L368 496M368 496L368 495M374 504L366 507M366 507L366 510M365 502L368 496M365 502L366 507M366 507L366 507M314 491L317 489M316 488L317 489M365 502L357 498M357 498L354 500M366 507L354 504M354 500L354 504M523 500L519 497M523 500L524 504M522 506L524 504M522 506L516 503M516 503L516 498M516 498L519 497M530 495L523 500M521 490L519 497M511 507L516 503M521 510L522 506M512 496L516 498M535 502L538 510M535 502L528 505M528 505L530 510M538 510L538 510M535 501L535 502M535 501L547 499M546 507L538 510M546 507L547 499M531 495L534 498M534 498L535 501M524 504L528 505M546 508L546 507M450 491L450 491M443 488L443 489M443 489L450 491M481 488L482 490M482 490L474 494M471 488L470 490M470 490L474 494M486 494L482 490M484 498L475 497M475 497L474 494M462 488L469 490M469 490L470 490M546 494L550 488M546 494L542 492M542 492L541 490M541 490L541 488M534 498L542 492M547 499L547 499M547 499L546 494M533 490L541 490M549 499L557 494M549 499L558 505M557 494L561 500M561 500L559 505M558 505L559 505M556 507L558 505M547 499L549 499M560 488L559 490M553 488L557 490M557 490L559 490M557 494L557 490M728 510L725 508M725 508L717 509M717 509L717 510M723 501L716 501M723 501L727 494M716 501L721 492M721 492L726 493M726 493L727 493M727 493L727 494M716 501L716 501M716 501L716 508M725 508L723 501M717 509L716 508M733 498L727 494M715 489L721 492M716 501L709 498M709 498L709 498M725 488L726 493M732 488L727 493M743 490L741 488M743 490L738 496M711 509L711 510M711 509L707 507M707 507L702 510M716 508L711 509M709 498L707 507M698 503L701 510M686 489L686 489M686 489L685 488M689 505L689 507M689 510L689 507M869 498L864 496M858 503L858 503M858 503L864 496M869 490L862 493M864 496L862 493M860 488L859 490M862 493L859 490M809 492L808 493M800 490L801 492M808 493L801 492M791 492L789 498M781 496L779 493M781 496L787 499M787 499L789 498M780 507L786 504M775 502L775 501M775 501L781 496M787 499L786 504M790 510L789 508M786 504L789 508M834 495L835 495M826 494L824 501M824 501L833 498M835 495L833 498M753 494L755 498M753 494L749 490M746 500L752 499M746 500L743 490M752 499L755 498M743 490L749 490M750 488L749 490M758 488L753 494M748 507L752 499M744 503L746 500M743 490L743 490M758 507L757 499M757 499L755 498M764 489L760 497M764 489L769 490M769 490L771 491M767 500L770 494M767 500L760 497M770 494L771 491M757 499L760 497M763 488L764 489M769 488L769 490M774 491L771 491M769 505L767 500M775 501L770 494M902 504L896 503M902 504L901 510M896 503L893 510M894 501L896 503M903 503L902 504M387 491L397 491M387 491L388 497M388 497L392 499M392 499L396 497M397 491L396 497M387 490L387 491M398 489L398 488M398 489L397 491M380 500L388 497M398 489L402 490M403 501L402 501M403 501L405 498M405 498L402 490M402 501L396 497M327 508L330 509M327 508L324 508M324 508L324 510M324 510L324 510M330 510L330 509M335 500L328 501M335 500L336 506M336 506L330 509M328 501L327 508M320 504L324 508M321 499L323 495M323 495L328 501M323 510L324 510M337 506L338 510M337 506L336 506M334 488L332 492M324 488L322 492M332 492L323 493M323 493L322 492M317 489L322 492M323 495L323 493M335 500L336 497M336 497L332 492M368 495L361 493M362 488L361 493M357 498L360 493M361 493L360 493M349 509L354 505M349 509L349 510M354 505L357 510M337 506L344 504M344 504L349 509M354 504L354 505M476 506L472 505M472 505L469 510M443 489L438 490M450 491L449 496M449 496L446 499M446 499L440 496M440 496L438 490M439 505L446 503M439 505L436 503M446 503L446 499M436 503L437 499M440 496L437 499M436 488L436 489M438 490L436 489M562 510L563 508M559 505L563 507M563 508L563 507M563 508L565 510M561 500L564 498M559 490L565 491M564 498L565 491M569 488L569 489M569 489L565 491M586 488L589 488M589 488L589 488M580 488L581 488M581 488L581 488M598 488L599 491M593 494L599 491M593 494L589 488M615 488L616 489M607 488L606 490M606 490L612 494M616 489L613 494M612 494L613 494M619 488L616 489M601 492L599 491M601 492L606 490M604 501L601 492M604 501L605 502M605 502L612 494M604 501L596 503M593 494L592 494M592 494L596 503M599 510L594 508M592 510L592 509M594 508L592 508M592 509L592 508M604 510L606 503M605 502L606 503M596 503L594 508M591 510L592 509M628 510L630 507M630 507L632 506M636 510L632 506M626 493L634 498M638 494L637 497M634 498L637 497M623 494L616 497M623 494L624 500M616 497L616 505M624 500L620 505M620 505L618 506M618 506L616 505M616 505L616 505M623 493L623 494M613 494L616 497M632 502L634 498M632 502L624 500M606 503L616 505M630 507L620 505M632 506L632 502M620 510L618 506M613 510L616 505M644 491L646 493M654 488L656 490M646 493L656 490M659 488L657 490M656 490L657 490M675 488L673 492M669 488L673 492M855 498L857 491M855 498L847 497M846 495L851 489M846 495L847 497M851 489L857 491M847 497L847 497M858 503L855 498M859 490L857 491M846 503L847 497M846 503L849 508M842 489L846 495M851 488L851 489M839 498L835 495M839 498L847 497M846 503L839 505M839 505L839 498M817 496L819 491M817 496L810 498M808 493L809 497M810 498L809 497M839 505L836 509M833 498L832 505M832 505L836 509M836 510L836 509M403 501L411 504M402 501L401 507M411 504L404 509M401 507L404 509M413 505L415 507M413 505L411 504M404 509L405 510M413 510L414 509M415 507L414 509M414 509L415 510M439 505L438 510M447 504L446 510M447 504L446 503M360 493L354 488M469 490L466 498M475 497L472 504M472 504L466 498M472 505L472 505M472 504L472 505M564 498L572 499M569 489L573 493M572 499L573 493M581 488L580 490M592 494L585 499M580 490L585 499M580 490L573 493M648 502L641 510M648 502L641 501M641 501L640 509M641 510L640 509M638 510L640 509M637 497L641 501M641 510L641 510M686 489L673 492M673 492L673 492M673 492L673 492M685 499L681 500M673 492L681 500M657 490L658 493M668 488L662 493M658 493L662 493M673 492L669 497M662 493L669 497M804 500L804 507M804 500L798 501M798 501L798 501M798 501L798 504M798 504L799 506M799 506L804 507M810 498L812 503M809 497L804 500M812 503L806 508M806 508L804 507M801 492L798 501M789 498L798 501M789 508L798 504M798 510L799 506M807 510L806 508M827 504L826 510M827 504L823 501M822 502L823 501M822 502L817 506M817 506L818 510M832 505L827 504M824 501L823 501M817 496L822 502M812 503L817 506M405 498L411 494M402 490L409 489M409 489L411 493M411 494L411 493M413 505L415 498M411 494L415 498M382 502L389 507M387 510L389 507M392 499L390 507M389 507L390 507M418 507L423 510M418 507L426 500M428 504L426 500M428 504L429 510M415 507L418 507M436 503L428 504M350 490L347 489M350 490L350 497M347 489L341 492M350 497L346 498M346 498L340 496M340 496L341 492M346 488L347 489M352 488L350 490M354 500L350 497M339 488L341 492M344 504L346 498M336 497L340 496M459 499L460 499M459 499L457 500M460 499L463 506M457 500L455 506M463 506L460 510M455 506L456 510M458 492L459 499M466 498L460 499M449 496L457 500M472 505L463 506M447 504L455 506M563 507L570 503M572 510L573 509M570 503L573 509M572 499L572 499M570 503L572 499M689 507L680 509M681 500L679 502M679 502L680 509M679 510L680 509M646 493L650 500M658 493L656 499M656 499L650 500M648 502L648 502M650 500L648 502M648 510L649 507M649 507L648 502M437 499L430 496M436 489L433 491M430 496L433 491M426 500L426 500M430 496L426 500M415 498L422 496M426 500L422 496M409 489L409 488M397 509L397 510M397 509L394 509M394 509L394 510M401 507L397 509M390 507L394 509M580 510L577 508M581 510L587 505M577 508L578 501M578 501L585 500M587 505L585 500M573 509L577 508M592 508L587 505M572 499L578 501M585 499L585 500M679 502L672 504M672 504L672 510M420 488L421 489M421 489L422 490M422 490L426 488M426 488L426 488M411 493L421 489M422 496L422 490M433 491L426 488M669 497L668 500M656 499L659 502M668 500L659 502M672 504L669 502M668 500L669 502M656 509L659 505M656 509L656 510M659 505L665 510M665 510L665 510M649 507L656 509M659 502L659 505M669 502L665 510M232 500L233 499L236 499M166 378L174 387L184 392L196 394M196 400L196 394M196 400L186 405L176 408L168 415M168 415L167 412M165 377L166 378M165 377L159 383L152 387M167 412L158 407L156 404M165 377L165 375M165 375L170 365L179 358L185 349M146 358L151 354L153 346L158 339M187 271L189 281M233 484L228 487L219 494M183 500L184 495M184 495L191 487L201 483L208 475M208 475L209 483L217 487L219 494M196 394L203 390L208 385L212 378M185 349L190 353L195 356L200 360M200 360L202 367L208 371L212 378M187 271L172 263M172 263L169 257L169 250L166 244M166 244L174 236L185 233L189 232M153 213L154 213L157 219M157 219L162 214L163 213M186 213L186 214M189 281L189 283M199 288L199 288L189 283M200 360L206 353L210 349M215 378L212 378M196 400L204 416M219 404L211 407L204 416M223 441L227 450M223 441L218 433M208 429L218 433M208 429L198 431L193 441L183 443M183 443L183 457M225 439L223 441M208 475L208 474M204 416L208 429M184 495L181 485L172 481M170 472L175 468L179 462L183 457M168 415L164 426M161 426L164 426M183 443L181 442M164 426L171 429L174 438L181 442M181 316L182 309L181 303L178 297M181 316L169 321L157 323L144 322M178 297L169 296L161 291L152 291M140 318L141 320M140 318L143 311L143 304L145 297M152 291L145 297M144 322L141 320M190 327L181 316M158 339L154 333L150 327L144 322M172 263L165 267L156 269L151 275M151 275L152 291M139 325L141 320M121 239L123 238L129 232L138 230M140 264L134 264M140 264L146 256L147 246L152 238M152 238L150 233M129 213L130 223L138 230M157 219L150 233M166 244L152 238M134 264L130 270L128 270M145 297L137 293L132 291M140 318L138 318M1054 358L1044 373M1059 436L1055 438M1040 409L1047 407L1053 403L1060 401M1059 384L1060 401M1030 409L1040 409M974 213L973 213M1054 358L1048 349L1048 338L1041 330M1020 362L1021 365M1020 362L1025 352L1030 343L1034 332M1034 332L1041 330M1020 362L1009 359L999 356L989 351M1001 327L1009 319M1034 332L1027 327L1019 321L1009 319M977 302L987 298M977 302L977 309L979 315L982 321M987 298L994 300L1001 303L1006 308M1009 319L1006 308M956 225L960 225L970 220M968 213L971 217M973 216L974 213M973 216L971 217M966 459L978 447M1002 458L1003 457M1003 457L1008 460M1021 365L1015 371L1012 379L1005 384M983 352L985 363L990 372L992 383M992 383L1005 384M1030 409L1023 413M960 318L960 318M961 348L966 348L977 348M975 341L977 348M982 321L977 327L978 335L975 341M980 352L974 360L966 367L963 374M992 383L980 393M963 377L969 380L976 386L980 393M1008 399L999 402L990 403L982 406M980 393L982 406M1000 224L1007 218L1011 213M974 242L973 235L973 227L970 220M1000 224L1003 241M960 303L962 302M962 302L961 290L961 279L962 267M962 267L958 262M960 318L960 316M992 273L982 271L971 273L962 267M974 242L967 247L963 255L958 259M993 249L995 256L994 263L994 271M1043 460L1043 457L1040 450L1037 444M1047 460L1048 458L1055 454L1058 447M1055 439L1058 447M1055 439L1049 440L1043 442L1037 442M1037 442L1037 444M1030 460L1035 453L1037 444M1023 413L1016 427M1016 427L1023 433L1031 436L1037 442M1016 427L1014 429M1014 429L1012 439L1008 448L1003 457M971 414L981 407M971 414L965 427M975 439L983 434L991 429L999 424M975 439L965 427M982 406L981 407M1014 429L999 424M1006 308L1012 300L1017 292L1025 288M994 271L1004 273L1013 276L1022 274M1025 288L1022 274M1023 245L1016 241L1009 242L1003 241M1023 245L1026 251L1025 259L1027 266M1022 274L1027 266M1069 355L1067 350L1065 343L1066 335M1025 288L1034 292L1042 298L1050 303M1044 328L1045 319L1048 311L1050 303M1052 264L1058 274L1055 286L1060 297M1052 264L1044 265L1035 263L1027 266M1050 303L1060 297M1038 234L1046 231L1051 224L1057 220M1032 234L1029 223L1021 215L1020 213M1057 220L1054 213M1059 256L1066 254M1059 256L1053 248L1047 239L1038 234M1071 229L1071 238L1065 245L1066 254M1071 229L1057 220M1059 256L1052 264M1023 245L1032 234M1085 221L1083 226M1083 226L1071 229M1066 254L1072 257M1066 335L1071 334M1060 297L1068 297M1074 308L1074 307L1068 297M1072 257L1079 269M1068 297L1071 295" fill="none" stroke="#a8cc48" stroke-opacity="0.62" stroke-width="6"/>
<path d="M286 391L290 402L286 414L289 422M220 420L225 417L238 407L249 393M323 213L323 214M287 213L280 218L274 226L267 234M234 262L220 262L205 262L192 269M234 262L242 284L236 309L248 330M192 269L191 277L191 285L187 293M187 293L194 308L196 325L204 340M248 330L236 337L223 335L211 340M204 340L211 340M186 259L192 269M267 234L267 242M267 242L258 252L243 252L234 262M173 295L187 293M186 259L174 250L162 250M249 393L242 371L225 357L211 340M286 391L294 379L294 363L301 351M301 351L297 343L292 336L284 332M361 236L354 244L353 254L350 264M361 236L347 231L335 221L323 214M293 276L311 268L331 268L350 264M400 415L410 403L415 388L419 373M400 415L401 422M447 422L448 416L453 403L463 392M419 373L433 381L449 384L463 392M359 411L373 413L387 413L400 415M510 422L505 404L497 384M497 384L485 387L474 387L463 392M529 333L521 342L508 341L500 349M545 298L529 295L512 291L496 284M500 349L495 341L487 337L482 329M482 329L478 318L481 307L479 295M479 295L484 291L491 289L496 284M587 292L578 293L570 287L562 287M587 292L584 303L586 314L587 325M562 287L555 289L552 296L545 298M587 325L575 332L562 335L552 342M552 342L544 338L536 338L529 333M500 379L499 369L500 359L500 349M500 379L523 388L548 387L573 390M552 342L559 358L565 374L573 390M382 213L380 224M562 287L553 272L547 256L537 241M496 284L504 275L504 261L512 252M537 241L528 243L521 250L512 252M512 252L498 235L477 231L459 221M435 247L415 244L401 226L380 224M462 213L459 221M1071 327L1071 327L1065 324M1065 324L1053 331L1043 341L1031 347M948 213L952 224L970 242M986 213L985 214L978 228L970 242M1011 269L997 260L981 256L970 244M1046 227L1043 213M587 325L597 336L599 350L604 362M573 390L578 394L583 396L589 398M604 362L595 373L596 387L589 398M583 422L586 419L587 410L590 402M590 402L589 398M1067 286L1081 280L1086 279M1046 227L1063 234L1080 234L1086 233M397 318L396 318M410 346L410 348M410 348L389 357L373 375L350 381M309 351L324 341M438 266L431 288L405 296L397 318M350 264L353 272M353 272L366 288L377 307L396 318M482 329L458 334L436 348L410 346M353 272L337 292L326 315L324 341M419 373L418 364L416 355L410 348M359 411L359 400L351 391L350 381M301 351L309 351M548 213L545 216M537 241L540 234L541 226L545 219M545 219L545 216M1031 347L1023 337L1009 335L999 327M988 398L974 390L955 391M976 338L983 333L992 332L999 327M1011 269L1003 282L1004 297L998 311M650 418L651 422M670 393L690 398L708 407L727 411M728 422L727 411M955 391L945 394M945 394L943 398M945 422L945 418L943 398M754 312L739 309L729 297L717 291M754 312L736 323L725 339L718 358M717 291L698 304L687 324L670 338M718 358L703 357L690 346L674 345M674 345L670 338M738 384L753 376L770 373L786 369M738 384L732 375L725 367L718 358M778 313L770 313L762 309L754 312M738 384L734 393L728 401L727 411M604 362L622 349L642 341L663 336M663 336L670 338M660 243L666 252L676 255L683 262M660 243L647 246L633 244L621 250M683 262L665 271L658 290L643 301M643 301L633 293L623 285L611 279M621 250L613 266M615 213L611 227L621 250M670 213L664 220L668 234L660 243M710 264L701 264L692 265L683 262M663 336L659 323L649 313L643 301M587 292L593 285L604 286L611 279M715 213L715 228L724 240M724 240L747 247L770 232L793 239M791 213L797 227M797 227L793 239M802 259L800 252L797 246L793 239M802 259L802 271L802 283L797 294M778 313L785 308L791 301L797 294M802 259L827 264L851 253L876 259M876 259L878 240L880 220L882 213M797 294L815 299L830 309L845 320M845 320L858 304L875 292L887 276M876 259L880 265L885 270L887 276M970 244L965 248L958 249L954 253M895 213L904 225L930 237L954 253M976 338L960 334L949 321L934 315M934 315L928 307L924 299L923 289M934 315L935 334L924 349L918 366M887 276L896 281L906 281L914 289M923 289L914 289M845 320L851 334M786 369L792 372L797 376L801 381M851 334L831 346L813 360L801 381M914 289L902 311L883 328L877 353M918 366L906 360L893 361L880 359M880 359L877 353M943 398L925 405L908 414L897 422M880 359L874 371M874 371L880 389L891 406L892 422M804 386L813 390L821 395L828 403M804 386L787 401L783 422M827 422L832 413M832 413L828 403M801 381L804 386M837 422L832 413M476 488L481 484M484 488L484 487M481 484L484 487M295 473L277 468M295 473L293 479L287 483L284 488M278 484L283 488M278 484L274 474M274 474L277 468M284 488L283 488M275 488L278 484M255 478L255 482M255 478L262 478L268 476L274 474M255 482L258 488M285 488L284 488M300 488L302 477M295 473L297 472M302 477L297 472M950 425L941 424M950 425L953 422M939 422L941 424M960 439L956 438M956 438L950 425M956 438L943 443M941 424L938 442M938 442L943 443M470 438L454 443M470 438L475 447M454 443L468 454M475 447L472 453M472 453L468 454M470 429L456 432M470 429L470 438M454 443L454 443M454 443L453 435M453 435L456 432M477 475L481 464M477 475L463 472M481 464L472 453M464 459L463 472M464 459L468 454M488 422L484 430M484 430L471 427M471 427L470 422M470 429L471 427M456 432L453 426L453 422M453 435L438 428M440 422L438 428M418 485L418 485M418 485L408 485M403 473L408 485M403 473L415 462M418 485L426 470M415 462L426 470M430 443L432 453M430 443L436 446L442 447L449 448M449 448L449 459M433 457L432 453M433 457L448 460M448 460L449 459M454 443L449 448M464 459L449 459M415 462L415 462M415 462L421 459L426 455L432 453M428 470L426 470M428 470L433 457M411 451L412 447M411 451L415 462M412 447L417 445M430 443L429 443M429 443L417 445M418 485L418 488M408 485L406 488M422 488L418 485M411 451L397 462M412 447L408 445M408 445L396 446M396 446L394 456M394 456L397 462M379 449L385 441M379 449L384 456M396 446L385 441M394 456L384 456M403 473L396 470M397 462L396 470M350 461L351 459M350 461L355 469M371 451L369 449M371 451L369 463M355 469L369 463M351 459L357 455L362 452L369 449M242 477L251 474M235 460L239 454M251 474L246 458M246 458L239 454M448 467L462 473M448 467L441 475M441 475L442 481M442 481L457 485M457 485L462 473M463 472L462 473M448 460L448 467M428 470L441 475M439 488L442 481M458 488L457 485M481 484L477 475M245 487L251 485M251 485L248 488M255 478L254 476M255 482L251 485M254 476L251 474M330 488L328 484M315 488L315 482M315 482L328 484M302 477L310 476M315 482L310 476M351 459L355 442M369 449L364 444M355 442L364 444M377 470L373 480M377 470L384 469M390 471L384 469M390 471L387 488M373 480L381 488M385 488L387 488M371 451L379 449M369 463L377 470M384 456L384 469M396 470L390 471M388 488L387 488M345 477L354 471M345 477L343 488M354 471L363 483M362 488L363 483M355 469L354 471M373 480L363 483M832 478L850 481M832 478L822 486M822 486L823 488M845 488L850 483M850 483L850 481M915 422L915 426M915 426L926 426M926 426L929 422M898 424L898 422M898 424L908 433M908 433L915 426M898 422L898 422M938 442L931 442M931 442L926 426M898 422L898 422M898 424L897 425M897 425L890 426L884 429L877 429M881 422L877 429M961 458L959 459M943 443L944 448M944 448L949 451L955 454L959 459M961 470L954 467M959 459L954 467M557 457L570 468M557 457L548 469M570 468L557 480M548 469L557 480M475 447L488 441M484 430L490 438M488 441L490 438M484 487L486 486M486 486L493 485L500 485L506 486M506 486L506 488M669 488L667 487M666 488L667 487M681 472L667 480M681 472L686 478M686 485L686 478M686 485L680 486L674 482L667 484M667 480L667 484M687 488L686 485M667 487L667 484M415 422L417 425M429 422L430 422L436 430M417 425L422 429L426 434L431 438M436 430L431 438M406 422L403 426M417 445L416 438L418 432L417 425M408 445L407 438L404 432L403 426M438 428L436 430M429 443L431 438M380 429L377 424L377 422M380 429L384 432M391 428L384 432M391 428L392 422M385 441L384 432M371 431L364 444M371 431L380 429M403 426L391 428M350 461L335 456M355 442L350 436M350 436L341 439M341 439L335 456M239 454L238 452M238 452L231 449M315 471L330 472M315 471L315 455M334 456L320 451M334 456L331 471M331 471L330 472M315 455L320 451M310 476L315 471M328 484L330 472M345 477L331 471M335 456L334 456M371 431L367 427L361 425L355 423M350 436L350 435M350 435L355 423M355 422L355 422M355 422L355 423M864 479L853 484M864 479L871 488M853 484L856 488M850 483L853 484M850 481L850 474M864 479L873 470M873 470L859 460M850 474L859 460M781 488L783 480M781 488L782 488M783 480L799 472M799 472L804 485M802 488L804 485M781 488L781 488M821 485L804 485M821 485L822 486M876 488L884 484M885 488L884 484M534 422L531 430M531 430L519 427M519 427L515 422M490 438L501 436M504 422L501 436M556 452L557 457M556 452L541 452M541 469L548 469M541 469L536 464M536 464L541 452M532 485L532 488M532 485L536 484M536 484L552 488M552 488L552 488M524 480L516 483M524 480L532 485M516 483L519 488M541 469L536 484M556 485L552 488M556 485L557 480M561 488L556 485M516 483L507 484M506 486L507 484M620 445L634 439M620 445L624 453M639 445L634 439M639 445L639 452M639 452L624 453M618 442L607 442M618 442L620 445M607 442L606 448L602 453L602 459M603 461L602 459M603 461L604 462M604 462L621 460M624 453L621 460M559 426L554 439M559 426L573 436M573 436L571 445M571 445L558 448M558 448L554 439M534 436L533 441M534 436L540 435M556 452L558 448M540 435L554 439M533 441L541 452M582 478L594 476M582 478L580 485M580 485L583 488M594 488L597 480M594 476L597 480M578 472L581 466L587 462L589 456M578 472L582 478M589 456L602 459M603 461L594 476M576 488L580 485M570 468L570 468M570 468L578 472M600 488L602 482M602 482L597 480M602 482L612 479M604 462L607 467L609 473L612 479M232 425L231 435M232 425L237 422M239 422L249 434M249 434L237 444M237 444L231 435M226 422L232 425M226 436L231 435M238 448L238 452M238 448L237 444M246 458L259 452M238 448L244 444L251 443L257 440M259 452L257 440M254 476L257 468L266 463L268 454M259 452L268 454M249 434L257 435M257 440L257 435M270 422L271 425M252 422L252 423L256 428L257 435M271 425L266 432M266 432L257 435M257 435L257 435M297 472L300 456M315 455L301 456M300 456L301 456M350 435L346 430L340 425L336 422M355 422L355 422M316 441L319 445M316 441L318 435L318 429L321 424M319 445L333 434M333 434L328 422M321 424L328 422M320 451L319 445M301 456L302 449L301 442L303 436M303 436L316 441M341 439L333 434M328 422L328 422M316 422L321 424M832 478L832 468M850 474L840 465M832 468L840 465M775 488L764 485M764 485L762 488M686 478L702 473M702 473L703 488M821 485L816 472M799 472L799 472M799 472L806 467M816 472L806 467M912 460L909 456M912 460L926 457M909 456L914 451L919 447L925 443M926 457L929 448M929 448L930 443M930 443L925 443M931 442L930 443M944 448L942 455L943 462L941 469M941 469L935 463L934 455L929 448M908 433L908 434M908 434L913 438L920 438L925 443M901 446L906 454M901 446L886 445M906 454L895 462M895 462L882 457M886 445L884 446M884 446L882 452M882 452L882 457M908 434L901 446M909 456L906 454M897 425L893 431L891 439L886 445M875 436L874 430M875 436L884 446M877 429L874 430M961 488L954 481M946 488L948 484L954 481M954 467L949 471M941 469L941 469M941 469L949 471M949 471L954 481M876 470L882 457M876 470L883 477M895 462L896 468M883 477L896 468M876 470L873 470M884 484L884 481M883 477L884 481M570 468L571 462L572 455L575 449M571 445L573 447M575 449L573 447M589 456L587 452M575 449L587 452M607 442L604 438M587 452L592 437M604 438L592 437M573 436L584 427M573 447L580 445L583 438L590 435M584 427L590 435M592 437L590 435M495 472L505 474M495 472L490 462M505 474L506 457M506 457L494 458M490 462L494 458M486 486L495 472M507 484L506 476M506 476L505 474M481 464L490 462M488 441L494 458M536 464L533 464M533 441L522 448M533 464L530 458L526 453L522 448M524 480L523 469M533 464L523 469M506 476L520 466M523 469L520 466M645 458L637 473M645 458L658 457M658 457L659 458M659 458L659 475M659 475L649 481M649 481L637 473M655 433L649 436L645 441L639 445M655 433L655 441L654 449L658 457M639 452L645 458M680 470L681 472M680 470L672 468L667 462L659 458M659 458L659 458M667 480L659 475M649 488L649 481M634 473L625 467M634 473L630 482M625 467L613 480M630 482L623 488M618 488L613 480M621 460L625 467M637 473L634 473M635 488L630 482M612 479L613 480M628 422L624 426M647 425L634 431M647 425L646 422M634 431L624 426M618 422L624 426M624 426L624 426M618 442L624 426M634 439L634 431M562 422L559 425M559 425L552 422M581 423L579 422M581 423L581 422M559 426L559 425M581 423L584 427M584 427L584 427M540 435L544 431L547 425L551 422M534 436L531 430M277 464L282 460L285 455L291 453M277 464L269 454M269 454L274 445M274 445L286 442M291 453L286 442M277 468L277 464M300 456L291 453M268 454L269 454M266 432L274 445M281 428L287 439M281 428L288 422M287 439L301 433M296 422L302 429M302 429L301 433M271 425L281 428M286 442L287 439M303 436L301 433M312 422L302 429M859 460L857 456M840 465L842 458M842 458L857 456M680 470L687 457M659 458L674 450M687 457L674 450M823 445L831 450M823 445L812 449M831 450L825 461M812 449L814 456M814 456L824 461M825 461L824 461M832 468L825 461M842 458L834 449M834 449L831 450M816 472L824 461M806 467L806 464M806 464L814 456M937 488L933 480M941 469L940 470M933 480L940 470M921 488L919 483M933 480L919 483M926 457L931 466M931 466L940 470M912 460L913 471M931 466L924 466L919 470L913 471M899 488L897 481M908 488L909 485L915 480M897 481L908 475M915 480L911 475M908 475L911 475M884 481L897 481M919 483L915 480M896 468L908 475M913 471L911 475M609 422L605 433M605 433L599 431L596 425L592 422M604 438L605 433M584 427L590 422M522 448L512 455M522 448L514 436M514 436L503 438M503 438L503 444L506 450L509 455M509 455L512 455M520 466L512 455M522 448L522 448M519 427L514 436M501 436L503 438M506 457L509 455M882 452L875 454L867 452L859 454M857 456L858 455M859 454L858 455M875 436L868 442M859 454L868 442M783 480L779 470M764 485L761 475M761 475L768 474L774 473L779 470M834 449L841 438M841 438L836 434L831 431L825 428M823 445L820 430M820 430L825 428M874 430L870 427M870 427L868 422M655 433L655 433M647 425L655 430M655 430L655 433M662 422L660 426L655 430M799 472L788 459M806 464L797 450M788 459L797 450M779 470L781 460M788 459L781 460M690 443L692 426M690 443L675 439M692 426L679 431M679 431L674 438M675 439L674 438M674 422L676 425L679 431M655 433L661 436L668 438L674 438M674 450L675 439M849 441L854 438M849 441L842 438M842 438L847 424M847 424L860 432M854 438L860 432M858 455L849 441M868 442L854 438M841 438L842 438M828 422L825 428M847 422L847 424M870 427L860 432M810 422L809 425M820 430L813 429M813 429L809 425M812 449L806 444M813 429L806 444M797 450L798 446M806 444L798 446M702 473L705 469M713 488L714 481L719 476M719 476L705 469M755 488L744 485M742 488L744 485M761 475L757 470M757 470L747 470M744 485L747 470M694 422L692 425M698 429L692 425M698 429L704 427L709 424L716 423M716 423L715 422M692 425L692 425M686 422L686 422L692 425M692 426L692 425M809 425L798 424M798 446L792 440M792 440L798 424M781 460L778 457M792 440L780 438M778 457L780 451L781 444L780 438M757 470L760 463M760 463L773 457M778 457L773 457M719 476L724 472M719 476L727 485M724 472L735 469M735 469L735 476L733 482L732 488M727 485L732 488M725 488L727 485M719 476L719 476M739 467L735 469M739 467L743 468M733 488L732 488M747 470L743 468M739 467L737 461L733 456L732 449M732 449L731 449M724 472L724 465L719 460L719 453M719 453L731 449M727 422L727 426M727 426L725 427M716 423L722 427M722 427L725 427M734 422L728 426M732 427L728 426M732 427L738 428L745 426L752 428M752 428L748 422M717 453L710 438M717 453L704 461M704 461L695 454M705 438L695 452M705 438L710 438M695 454L695 452M719 453L717 453M731 449L727 442L726 435L725 427M722 427L710 438M705 469L704 461M687 457L695 454M690 443L695 452M698 429L705 438M727 426L728 426M765 424L777 433M765 424L754 430M764 444L777 434M764 444L753 443M777 434L777 433M754 430L752 439M752 439L752 442M752 442L753 443M753 443L753 443M752 428L754 430M765 422L765 424M773 457L764 444M780 438L777 434M760 463L757 457L757 450L753 443M732 427L737 433L745 434L752 439M732 449L738 445L746 446L752 442M743 468L747 460L752 452L753 443M782 422L783 424M783 424L790 422M777 433L783 424M798 424L796 422M252 493L252 493M252 493L252 493M939 498L945 496M939 498L937 504M945 496L949 499M949 499L949 504M940 507L949 504M940 507L938 507M937 504L938 507M254 488L255 489M255 489L256 488M252 493L255 489M255 489L255 489M959 509L961 508M959 509L958 505M958 505L959 500M959 500L961 500M954 497L949 499M954 497L959 500M949 504L949 506M949 506L958 505M961 493L960 491M960 491L961 491M954 497L955 493M955 493L960 491M960 491L960 491M946 488L945 496M946 488L946 488M955 493L952 488M917 508L913 505M917 508L922 501M919 498L922 501M919 498L911 501M911 501L913 505M932 504L929 510M932 504L926 499M927 510L924 500M926 499L924 500M937 504L932 504M938 507L937 510M917 508L917 510M922 501L924 500M949 510L950 509M950 509L951 510M940 507L943 510M949 506L950 509M959 509L958 510M924 491L926 499M924 491L928 489M926 499L932 494M928 489L932 494M946 488L944 488M939 498L935 494M936 488L935 494M926 499L926 499M935 494L932 494M928 489L928 488M960 491L960 488M913 505L909 508M908 510L909 508M913 488L916 491M919 488L919 489M919 489L916 491M916 491L916 491M905 488L907 494M907 494L916 491M924 491L919 489M919 498L916 491M293 500L295 499M293 500L287 497M295 499L298 492M298 492L293 489M293 489L287 492M287 497L287 492M276 488L279 490M279 490L284 490M284 488L284 490M293 488L293 489M287 492L284 490M314 506L314 510M314 506L311 505M311 505L306 509M306 509L306 510M292 503L297 508M292 503L286 509M286 509L286 509M286 509L289 510M296 510L296 510M296 510L297 508M300 502L300 504M300 502L295 499M293 500L292 503M300 504L297 508M286 510L286 509M296 510L296 510M306 509L300 504M311 505L309 500M300 502L305 499M309 500L305 499M298 492L303 491M305 499L304 492M303 491L304 492M706 488L707 490M715 488L715 489M715 489L710 492M707 490L710 492M842 489L842 488M842 489L834 495M832 488L833 493M834 495L833 493M855 510L854 507M854 507L849 508M849 508L847 510M779 510L780 507M780 507L775 502M775 502L769 505M769 505L772 510M882 499L882 491M882 499L877 503M877 503L872 497M882 491L879 490M879 490L872 496M872 496L872 497M889 501L888 505M889 501L882 499M877 506L877 503M877 506L877 506M877 506L888 505M888 488L888 490M888 490L882 491M878 488L879 490M508 501L511 507M508 501L501 499M511 507L511 508M499 503L511 508M499 503L499 503M499 503L501 499M309 500L312 498M310 490L304 492M310 490L314 491M312 498L314 491M314 506L320 504M312 498L321 499M320 504L321 499M516 489L515 488M516 489L521 490M522 488L522 489M522 489L521 490M533 488L533 490M530 495L522 489M530 495L531 495M531 495L533 490M451 488L450 491M462 488L462 488M450 491L458 492M462 488L458 492M486 498L494 499M486 498L485 497M485 497L486 494M494 499L494 490M494 490L491 491M491 491L486 494M486 498L491 506M485 497L484 498M491 506L484 508M484 508L481 504M481 504L484 498M477 510L476 506M484 508L483 510M481 504L476 506M546 508L547 510M546 508L556 507M556 507L555 510M275 509L274 508M274 508L273 508M263 500L264 501M263 500L260 491M264 501L270 498M270 498L269 490M260 491L264 489M264 489L269 490M255 489L260 491M263 500L263 500M264 488L264 489M270 488L269 490M274 499L276 505M274 499L276 497M276 497L285 499M276 505L284 505M284 505L285 499M274 508L276 505M264 501L264 501M270 498L274 499M279 490L276 497M287 497L285 499M286 509L284 505M309 488L310 490M303 491L303 488M644 488L644 491M635 488L638 494M638 494L644 491M629 488L626 493M626 493L623 493M620 488L623 493M695 496L693 489M695 496L697 497M697 497L701 491M701 491L696 488M694 488L693 489M707 490L701 491M710 492L709 498M697 497L699 500M709 498L699 500M686 489L685 499M686 489L693 489M695 496L685 499M685 499L685 499M699 500L698 503M698 503L689 505M685 499L689 505M873 510L874 509M874 509L866 503M863 510L861 505M861 505L866 503M877 506L874 509M872 497L869 498M869 498L866 503M854 507L858 503M858 503L861 505M877 506L880 510M889 510L888 505M821 488L821 489M833 493L826 494M826 494L821 489M810 488L809 492M809 492L819 491M821 489L819 491M757 510L758 508M764 510L763 508M763 508L758 507M758 507L758 508M745 510L745 508M748 507L745 508M748 507L758 508M769 505L769 505M769 505L763 508M735 488L741 488M741 488L741 488M738 496L733 498M738 496L744 503M733 498L734 505M734 505L739 507M739 507L743 507M744 503L743 507M728 510L734 505M728 510L728 510M738 510L739 507M745 508L743 507M801 488L800 490M800 490L795 490M795 490L794 488M786 488L791 492M795 490L791 492M775 488L774 491M783 488L779 493M774 491L779 493M872 496L869 490M869 490L869 488M897 492L891 492M897 492L900 488M893 488L890 491M890 491L891 492M888 490L890 491M889 501L891 500M891 500L891 492M891 500L894 501M897 492L900 496M894 501L900 496M911 501L906 498M909 508L903 503M903 503L906 498M907 494L906 498M900 496L906 498M906 498L906 498M497 488L496 489M496 489L501 495M501 495L507 492M507 492L508 488M494 490L496 489M489 488L491 491M499 503L494 499M501 499L501 495M512 495L507 492M512 495L512 496M508 501L512 496M516 489L512 495M492 507L491 510M492 507L497 506M497 506L499 510M491 506L492 507M499 503L497 506M511 508L511 510M379 491L381 488M379 491L387 490M388 488L387 490M371 488L371 488M371 488L373 488M379 491L379 491M375 488L379 491M380 510L382 502M374 504L377 510M374 504L376 500M382 502L380 500M380 500L378 499M378 499L376 500M371 488L368 495M379 491L378 499M376 500L368 496M368 496L368 495M374 504L366 507M366 507L366 510M365 502L368 496M365 502L366 507M366 507L366 507M314 491L317 489M316 488L317 489M365 502L357 498M357 498L354 500M366 507L354 504M354 500L354 504M523 500L519 497M523 500L524 504M522 506L524 504M522 506L516 503M516 503L516 498M516 498L519 497M530 495L523 500M521 490L519 497M511 507L516 503M521 510L522 506M512 496L516 498M535 502L538 510M535 502L528 505M528 505L530 510M538 510L538 510M535 501L535 502M535 501L547 499M546 507L538 510M546 507L547 499M531 495L534 498M534 498L535 501M524 504L528 505M546 508L546 507M450 491L450 491M443 488L443 489M443 489L450 491M481 488L482 490M482 490L474 494M471 488L470 490M470 490L474 494M486 494L482 490M484 498L475 497M475 497L474 494M462 488L469 490M469 490L470 490M546 494L550 488M546 494L542 492M542 492L541 490M541 490L541 488M534 498L542 492M547 499L547 499M547 499L546 494M533 490L541 490M549 499L557 494M549 499L558 505M557 494L561 500M561 500L559 505M558 505L559 505M556 507L558 505M547 499L549 499M560 488L559 490M553 488L557 490M557 490L559 490M557 494L557 490M728 510L725 508M725 508L717 509M717 509L717 510M723 501L716 501M723 501L727 494M716 501L721 492M721 492L726 493M726 493L727 493M727 493L727 494M716 501L716 501M716 501L716 508M725 508L723 501M717 509L716 508M733 498L727 494M715 489L721 492M716 501L709 498M709 498L709 498M725 488L726 493M732 488L727 493M743 490L741 488M743 490L738 496M711 509L711 510M711 509L707 507M707 507L702 510M716 508L711 509M709 498L707 507M698 503L701 510M686 489L686 489M686 489L685 488M689 505L689 507M689 510L689 507M869 498L864 496M858 503L858 503M858 503L864 496M869 490L862 493M864 496L862 493M860 488L859 490M862 493L859 490M809 492L808 493M800 490L801 492M808 493L801 492M791 492L789 498M781 496L779 493M781 496L787 499M787 499L789 498M780 507L786 504M775 502L775 501M775 501L781 496M787 499L786 504M790 510L789 508M786 504L789 508M834 495L835 495M826 494L824 501M824 501L833 498M835 495L833 498M753 494L755 498M753 494L749 490M746 500L752 499M746 500L743 490M752 499L755 498M743 490L749 490M750 488L749 490M758 488L753 494M748 507L752 499M744 503L746 500M743 490L743 490M758 507L757 499M757 499L755 498M764 489L760 497M764 489L769 490M769 490L771 491M767 500L770 494M767 500L760 497M770 494L771 491M757 499L760 497M763 488L764 489M769 488L769 490M774 491L771 491M769 505L767 500M775 501L770 494M902 504L896 503M902 504L901 510M896 503L893 510M894 501L896 503M903 503L902 504M387 491L397 491M387 491L388 497M388 497L392 499M392 499L396 497M397 491L396 497M387 490L387 491M398 489L398 488M398 489L397 491M380 500L388 497M398 489L402 490M403 501L402 501M403 501L405 498M405 498L402 490M402 501L396 497M327 508L330 509M327 508L324 508M324 508L324 510M324 510L324 510M330 510L330 509M335 500L328 501M335 500L336 506M336 506L330 509M328 501L327 508M320 504L324 508M321 499L323 495M323 495L328 501M323 510L324 510M337 506L338 510M337 506L336 506M334 488L332 492M324 488L322 492M332 492L323 493M323 493L322 492M317 489L322 492M323 495L323 493M335 500L336 497M336 497L332 492M368 495L361 493M362 488L361 493M357 498L360 493M361 493L360 493M349 509L354 505M349 509L349 510M354 505L357 510M337 506L344 504M344 504L349 509M354 504L354 505M476 506L472 505M472 505L469 510M443 489L438 490M450 491L449 496M449 496L446 499M446 499L440 496M440 496L438 490M439 505L446 503M439 505L436 503M446 503L446 499M436 503L437 499M440 496L437 499M436 488L436 489M438 490L436 489M562 510L563 508M559 505L563 507M563 508L563 507M563 508L565 510M561 500L564 498M559 490L565 491M564 498L565 491M569 488L569 489M569 489L565 491M586 488L589 488M589 488L589 488M580 488L581 488M581 488L581 488M598 488L599 491M593 494L599 491M593 494L589 488M615 488L616 489M607 488L606 490M606 490L612 494M616 489L613 494M612 494L613 494M619 488L616 489M601 492L599 491M601 492L606 490M604 501L601 492M604 501L605 502M605 502L612 494M604 501L596 503M593 494L592 494M592 494L596 503M599 510L594 508M592 510L592 509M594 508L592 508M592 509L592 508M604 510L606 503M605 502L606 503M596 503L594 508M591 510L592 509M628 510L630 507M630 507L632 506M636 510L632 506M626 493L634 498M638 494L637 497M634 498L637 497M623 494L616 497M623 494L624 500M616 497L616 505M624 500L620 505M620 505L618 506M618 506L616 505M616 505L616 505M623 493L623 494M613 494L616 497M632 502L634 498M632 502L624 500M606 503L616 505M630 507L620 505M632 506L632 502M620 510L618 506M613 510L616 505M644 491L646 493M654 488L656 490M646 493L656 490M659 488L657 490M656 490L657 490M675 488L673 492M669 488L673 492M855 498L857 491M855 498L847 497M846 495L851 489M846 495L847 497M851 489L857 491M847 497L847 497M858 503L855 498M859 490L857 491M846 503L847 497M846 503L849 508M842 489L846 495M851 488L851 489M839 498L835 495M839 498L847 497M846 503L839 505M839 505L839 498M817 496L819 491M817 496L810 498M808 493L809 497M810 498L809 497M839 505L836 509M833 498L832 505M832 505L836 509M836 510L836 509M403 501L411 504M402 501L401 507M411 504L404 509M401 507L404 509M413 505L415 507M413 505L411 504M404 509L405 510M413 510L414 509M415 507L414 509M414 509L415 510M439 505L438 510M447 504L446 510M447 504L446 503M360 493L354 488M469 490L466 498M475 497L472 504M472 504L466 498M472 505L472 505M472 504L472 505M564 498L572 499M569 489L573 493M572 499L573 493M581 488L580 490M592 494L585 499M580 490L585 499M580 490L573 493M648 502L641 510M648 502L641 501M641 501L640 509M641 510L640 509M638 510L640 509M637 497L641 501M641 510L641 510M686 489L673 492M673 492L673 492M673 492L673 492M685 499L681 500M673 492L681 500M657 490L658 493M668 488L662 493M658 493L662 493M673 492L669 497M662 493L669 497M804 500L804 507M804 500L798 501M798 501L798 501M798 501L798 504M798 504L799 506M799 506L804 507M810 498L812 503M809 497L804 500M812 503L806 508M806 508L804 507M801 492L798 501M789 498L798 501M789 508L798 504M798 510L799 506M807 510L806 508M827 504L826 510M827 504L823 501M822 502L823 501M822 502L817 506M817 506L818 510M832 505L827 504M824 501L823 501M817 496L822 502M812 503L817 506M405 498L411 494M402 490L409 489M409 489L411 493M411 494L411 493M413 505L415 498M411 494L415 498M382 502L389 507M387 510L389 507M392 499L390 507M389 507L390 507M418 507L423 510M418 507L426 500M428 504L426 500M428 504L429 510M415 507L418 507M436 503L428 504M350 490L347 489M350 490L350 497M347 489L341 492M350 497L346 498M346 498L340 496M340 496L341 492M346 488L347 489M352 488L350 490M354 500L350 497M339 488L341 492M344 504L346 498M336 497L340 496M459 499L460 499M459 499L457 500M460 499L463 506M457 500L455 506M463 506L460 510M455 506L456 510M458 492L459 499M466 498L460 499M449 496L457 500M472 505L463 506M447 504L455 506M563 507L570 503M572 510L573 509M570 503L573 509M572 499L572 499M570 503L572 499M689 507L680 509M681 500L679 502M679 502L680 509M679 510L680 509M646 493L650 500M658 493L656 499M656 499L650 500M648 502L648 502M650 500L648 502M648 510L649 507M649 507L648 502M437 499L430 496M436 489L433 491M430 496L433 491M426 500L426 500M430 496L426 500M415 498L422 496M426 500L422 496M409 489L409 488M397 509L397 510M397 509L394 509M394 509L394 510M401 507L397 509M390 507L394 509M580 510L577 508M581 510L587 505M577 508L578 501M578 501L585 500M587 505L585 500M573 509L577 508M592 508L587 505M572 499L578 501M585 499L585 500M679 502L672 504M672 504L672 510M420 488L421 489M421 489L422 490M422 490L426 488M426 488L426 488M411 493L421 489M422 496L422 490M433 491L426 488M669 497L668 500M656 499L659 502M668 500L659 502M672 504L669 502M668 500L669 502M656 509L659 505M656 509L656 510M659 505L665 510M665 510L665 510M649 507L656 509M659 502L659 505M669 502L665 510M232 500L233 499L236 499M166 378L174 387L184 392L196 394M196 400L196 394M196 400L186 405L176 408L168 415M168 415L167 412M165 377L166 378M165 377L159 383L152 387M167 412L158 407L156 404M165 377L165 375M165 375L170 365L179 358L185 349M146 358L151 354L153 346L158 339M187 271L189 281M233 484L228 487L219 494M183 500L184 495M184 495L191 487L201 483L208 475M208 475L209 483L217 487L219 494M196 394L203 390L208 385L212 378M185 349L190 353L195 356L200 360M200 360L202 367L208 371L212 378M187 271L172 263M172 263L169 257L169 250L166 244M166 244L174 236L185 233L189 232M153 213L154 213L157 219M157 219L162 214L163 213M186 213L186 214M189 281L189 283M199 288L199 288L189 283M200 360L206 353L210 349M215 378L212 378M196 400L204 416M219 404L211 407L204 416M223 441L227 450M223 441L218 433M208 429L218 433M208 429L198 431L193 441L183 443M183 443L183 457M225 439L223 441M208 475L208 474M204 416L208 429M184 495L181 485L172 481M170 472L175 468L179 462L183 457M168 415L164 426M161 426L164 426M183 443L181 442M164 426L171 429L174 438L181 442M181 316L182 309L181 303L178 297M181 316L169 321L157 323L144 322M178 297L169 296L161 291L152 291M140 318L141 320M140 318L143 311L143 304L145 297M152 291L145 297M144 322L141 320M190 327L181 316M158 339L154 333L150 327L144 322M172 263L165 267L156 269L151 275M151 275L152 291M139 325L141 320M121 239L123 238L129 232L138 230M140 264L134 264M140 264L146 256L147 246L152 238M152 238L150 233M129 213L130 223L138 230M157 219L150 233M166 244L152 238M134 264L130 270L128 270M145 297L137 293L132 291M140 318L138 318M1054 358L1044 373M1059 436L1055 438M1040 409L1047 407L1053 403L1060 401M1059 384L1060 401M1030 409L1040 409M974 213L973 213M1054 358L1048 349L1048 338L1041 330M1020 362L1021 365M1020 362L1025 352L1030 343L1034 332M1034 332L1041 330M1020 362L1009 359L999 356L989 351M1001 327L1009 319M1034 332L1027 327L1019 321L1009 319M977 302L987 298M977 302L977 309L979 315L982 321M987 298L994 300L1001 303L1006 308M1009 319L1006 308M956 225L960 225L970 220M968 213L971 217M973 216L974 213M973 216L971 217M966 459L978 447M1002 458L1003 457M1003 457L1008 460M1021 365L1015 371L1012 379L1005 384M983 352L985 363L990 372L992 383M992 383L1005 384M1030 409L1023 413M960 318L960 318M961 348L966 348L977 348M975 341L977 348M982 321L977 327L978 335L975 341M980 352L974 360L966 367L963 374M992 383L980 393M963 377L969 380L976 386L980 393M1008 399L999 402L990 403L982 406M980 393L982 406M1000 224L1007 218L1011 213M974 242L973 235L973 227L970 220M1000 224L1003 241M960 303L962 302M962 302L961 290L961 279L962 267M962 267L958 262M960 318L960 316M992 273L982 271L971 273L962 267M974 242L967 247L963 255L958 259M993 249L995 256L994 263L994 271M1043 460L1043 457L1040 450L1037 444M1047 460L1048 458L1055 454L1058 447M1055 439L1058 447M1055 439L1049 440L1043 442L1037 442M1037 442L1037 444M1030 460L1035 453L1037 444M1023 413L1016 427M1016 427L1023 433L1031 436L1037 442M1016 427L1014 429M1014 429L1012 439L1008 448L1003 457M971 414L981 407M971 414L965 427M975 439L983 434L991 429L999 424M975 439L965 427M982 406L981 407M1014 429L999 424M1006 308L1012 300L1017 292L1025 288M994 271L1004 273L1013 276L1022 274M1025 288L1022 274M1023 245L1016 241L1009 242L1003 241M1023 245L1026 251L1025 259L1027 266M1022 274L1027 266M1069 355L1067 350L1065 343L1066 335M1025 288L1034 292L1042 298L1050 303M1044 328L1045 319L1048 311L1050 303M1052 264L1058 274L1055 286L1060 297M1052 264L1044 265L1035 263L1027 266M1050 303L1060 297M1038 234L1046 231L1051 224L1057 220M1032 234L1029 223L1021 215L1020 213M1057 220L1054 213M1059 256L1066 254M1059 256L1053 248L1047 239L1038 234M1071 229L1071 238L1065 245L1066 254M1071 229L1057 220M1059 256L1052 264M1023 245L1032 234M1085 221L1083 226M1083 226L1071 229M1066 254L1072 257M1066 335L1071 334M1060 297L1068 297M1074 308L1074 307L1068 297M1072 257L1079 269M1068 297L1071 295" fill="none" stroke="#22160d" stroke-width="1.8" stroke-linejoin="round"/>
<path d="M927 420L932 404L949 390L962 373M979 381L975 373L967 371M970 327L979 318M664 405L655 414L652 420M591 420L598 418L609 416M609 416L612 420M574 420L568 411L562 402L552 394M503 420L504 417L505 404L511 394M511 394L511 394M511 394L525 398L539 390L552 394M509 320L526 336L542 354L563 364M509 320L501 323M511 394L508 371L511 347L500 325M552 394L554 383L563 375L563 364M979 240L976 247L974 270M985 292L999 285L1012 282M955 269L961 269L968 272L974 270M979 318L982 310L981 300L985 292M535 240L537 249L537 258M595 240L598 250L611 266M537 258L541 265L544 272L544 279M544 279L567 279L590 278L611 266M511 394L489 388L466 383L443 382M438 298L441 282M441 282L447 269L462 263L468 250M481 264L476 259L474 253L468 250M463 240L463 241L468 250M417 240L420 256L427 271L441 282M542 290L544 279M709 420L714 416L720 407L726 399M915 420L909 411L903 400L893 391M893 391L885 414L875 420M721 313L732 307L745 306L757 303M721 313L724 336L715 357L711 378M711 378L722 388M780 338L777 327L766 319L764 308M664 405L668 395L669 385L672 375M672 375L685 372L697 381L711 378M726 399L722 388M751 267L743 250L725 242L723 240M751 267L759 252L777 248L781 240M816 246L806 241L804 240M757 303L756 291L754 279L751 267M685 240L683 247M645 244L658 243L670 244L683 247M611 266L613 268M721 313L705 314L691 308L676 303M683 247L686 266L681 285L676 303M863 240L873 246M955 269L942 268L932 276L920 277M848 420L846 412L836 398M780 338L786 344M786 344L786 361L795 376L799 392M443 382L439 388L440 396L436 403M458 420L457 419L449 408L436 403M439 363L430 356L422 348L414 341M415 313L414 322L414 332L414 341M400 240L397 243M415 313L404 308L398 297L390 289M344 240L333 247L332 264L320 272M397 243L379 243L362 245L348 240M674 304L656 297L637 295L620 284M674 304L670 321L660 336L652 351M652 351L642 350L633 353L624 356M592 338L591 331M613 268L620 284M676 303L674 304M672 375L668 365L661 357L652 351M542 290L557 305L573 319L591 331M609 416L614 396L622 377L624 356M563 364L574 356L586 350L592 338M859 303L876 303L891 310L908 308M859 303L854 312L852 322L848 331M913 316L908 308M913 316L914 330L905 343L905 358M884 377L867 374M856 297L859 303M786 344L808 346L829 340L848 331M436 403L429 411L421 416L416 420M320 272L320 273M320 273L334 278L346 287L359 294M410 420L401 412L386 404L376 390M352 396L359 391L367 391L376 390M414 341L407 344L401 349L393 350M353 340L367 340L378 351L393 350M393 350L388 364L381 376L376 390M242 385L242 385L246 368M282 420L269 409L260 387L246 368M325 380L325 371L319 363L320 355M320 273L313 280L308 287L301 295M320 355L312 348M301 295L302 313L309 330L312 348M246 368L245 363M312 348L291 358L267 356L245 363M239 356L245 363M245 253L265 262L281 276L293 294M245 253L238 256L235 263L229 266M229 268L239 283L262 285L273 302M251 240L251 241L247 246L245 253" fill="none" stroke="#7448b8" stroke-width="2.2" stroke-linejoin="round"/>
<line x1="26.0" y1="213.0" x2="300.0" y2="213.0" stroke="#7a2a50" stroke-width="2.4"/>
<line x1="300.0" y1="213.0" x2="1126.0" y2="213.0" stroke="#231a14" stroke-width="2.4"/>
<line x1="155.0" y1="237.0" x2="526.0" y2="237.0" stroke="#231a14" stroke-width="2"/>
<line x1="178.0" y1="314.0" x2="1086.0" y2="314.0" stroke="#231a14" stroke-width="2"/>
<line x1="426.0" y1="324.0" x2="926.0" y2="324.0" stroke="#231a14" stroke-width="2"/>
<line x1="273.0" y1="346.0" x2="836.0" y2="346.0" stroke="#231a14" stroke-width="2"/>
<line x1="221.0" y1="422.0" x2="957.0" y2="422.0" stroke="#231a14" stroke-width="2"/>
<line x1="316.0" y1="427.0" x2="957.0" y2="427.0" stroke="#231a14" stroke-width="2"/>
<line x1="173.0" y1="455.0" x2="961.0" y2="455.0" stroke="#231a14" stroke-width="2"/>
<line x1="226.0" y1="490.0" x2="956.0" y2="490.0" stroke="#231a14" stroke-width="2"/>
<line x1="276.0" y1="509.0" x2="926.0" y2="509.0" stroke="#231a14" stroke-width="2.4"/>
<line x1="0.0" y1="561.0" x2="1239.0" y2="561.0" stroke="#a0343c" stroke-width="2.6"/>
<path d="M58.0 171.0 L1168.0 171.0" fill="none" stroke="#3a2a1a" stroke-width="4" stroke-dasharray="20 12"/>
<path d="M58.0 171.0 L70.0 200.0 L93.0 260.0 L115.0 317.0 L141.0 384.0 L161.0 438.0 L184.0 502.0" fill="none" stroke="#1a1410" stroke-width="3.2" stroke-dasharray="15 11"/>
<path d="M1158.0 173.0 L1148.0 205.0 L1135.0 235.0 L1125.0 265.0 L1109.0 300.0 L1095.0 352.0 L1069.0 415.0 L1046.0 476.0 L1037.0 502.0" fill="none" stroke="#1a1410" stroke-width="3.2" stroke-dasharray="15 11"/>
<path d="M510.0 25.0 L585.0 25.0" fill="none" stroke="#1a1410" stroke-width="3" stroke-dasharray="18 12"/>
<path d="M135.0 180.0 H973.0 M135.0 242.0 H973.0 M973.0 180.0 V242.0" fill="none" stroke="#d4dc5a" stroke-width="5.5" stroke-dasharray="27 11"/>
<path d="M190 171 V213 M299 171 V213 M409 171 V213 M518 171 V213 M627 171 V213 M736 171 V213 M846 171 V213 M955 171 V213 M1064 171 V213 M1174 171 V213 " stroke="#231a14" stroke-width="3" fill="none"/>
<line x1="1172" y1="170" x2="1172" y2="210" stroke="#231a14" stroke-width="2.5"/>
<rect x="448" y="41" width="256" height="108" fill="#ffffff" fill-opacity="0.2" stroke="#ffffff" stroke-opacity="0.85" stroke-width="2.5"/>
</g></svg>
<div class="t ti" style="left:19px;top:5px">应力/MPa</div>
<div class="cb" style="left:226.0px;top:84.5px;width:23.0px;height:442.5px;background:linear-gradient(to bottom,#b9282a 0.0%, #b9282a 6.5%,#c23a2c 6.5%, #c23a2c 10.0%,#c84a2c 10.0%, #c84a2c 14.0%,#cd5f2e 14.0%, #cd5f2e 18.0%,#d5782e 18.0%, #d5782e 21.5%,#d49f36 21.5%, #d49f36 26.0%,#c6c03f 26.0%, #c6c03f 30.0%,#a0bd40 30.0%, #a0bd40 34.5%,#7fb23d 34.5%, #7fb23d 39.0%,#6aab3c 39.0%, #6aab3c 43.0%,#5fa53c 43.0%, #5fa53c 47.0%,#5aa042 47.0%, #5aa042 51.0%,#58a052 51.0%, #58a052 55.5%,#5aa46e 55.5%, #5aa46e 60.0%,#5ea88e 60.0%, #5ea88e 64.0%,#58a9b0 64.0%, #58a9b0 68.5%,#4b98c0 68.5%, #4b98c0 73.0%,#4676b0 73.0%, #4676b0 76.5%,#3e62a4 76.5%, #3e62a4 80.0%,#3a5699 80.0%, #3a5699 84.0%,#364f94 84.0%, #364f94 100.0%,#334c90 100.0%, #334c90 100.0%)"></div>
<div class="t lb" style="right:2935.5px;top:69.0px;font-size:49.0px">5.300 0</div>
<div class="t lb" style="right:2935.5px;top:105.7px;font-size:49.0px">2.500 0</div>
<div class="t lb" style="right:2935.5px;top:142.4px;font-size:49.0px"><span class="m">−</span>2.500 0</div>
<div class="t lb" style="right:2935.5px;top:179.1px;font-size:49.0px"><span class="m">−</span>7.500 0</div>
<div class="t lb" style="right:2935.5px;top:215.8px;font-size:49.0px"><span class="m">−</span>0.125 0</div>
<div class="t lb" style="right:2935.5px;top:252.5px;font-size:49.0px"><span class="m">−</span>0.175 0</div>
<div class="t lb" style="right:2935.5px;top:289.2px;font-size:49.0px"><span class="m">−</span>0.225 0</div>
<div class="t lb" style="right:2935.5px;top:325.9px;font-size:49.0px"><span class="m">−</span>0.275 0</div>
<div class="t lb" style="right:2935.5px;top:362.6px;font-size:49.0px"><span class="m">−</span>0.325 0</div>
<div class="t lb" style="right:2935.5px;top:399.3px;font-size:49.0px"><span class="m">−</span>0.375 0</div>
<div class="t lb" style="right:2935.5px;top:436.0px;font-size:49.0px"><span class="m">−</span>0.425 0</div>
<div class="t lb" style="right:2935.5px;top:472.7px;font-size:49.0px"><span class="m">−</span>0.426 0</div>
<div class="t ti" style="left:1629.5px;top:6px">应力/MPa</div>
<div class="cb" style="left:1841.5px;top:65.5px;width:19.5px;height:498.5px;background:linear-gradient(to bottom,#b9282a 0.0%, #b9282a 6.5%,#c23a2c 6.5%, #c23a2c 10.0%,#c84a2c 10.0%, #c84a2c 14.0%,#cd5f2e 14.0%, #cd5f2e 18.0%,#d5782e 18.0%, #d5782e 21.5%,#d49f36 21.5%, #d49f36 26.0%,#c6c03f 26.0%, #c6c03f 30.0%,#a0bd40 30.0%, #a0bd40 34.5%,#7fb23d 34.5%, #7fb23d 39.0%,#6aab3c 39.0%, #6aab3c 43.0%,#5fa53c 43.0%, #5fa53c 47.0%,#5aa042 47.0%, #5aa042 51.0%,#58a052 51.0%, #58a052 55.5%,#5aa46e 55.5%, #5aa46e 60.0%,#5ea88e 60.0%, #5ea88e 64.0%,#58a9b0 64.0%, #58a9b0 68.5%,#4b98c0 68.5%, #4b98c0 73.0%,#4676b0 73.0%, #4676b0 76.5%,#3e62a4 76.5%, #3e62a4 80.0%,#3a5699 80.0%, #3a5699 84.0%,#364f94 84.0%, #364f94 100.0%,#334c90 100.0%, #334c90 100.0%)"></div>
<div class="t lb" style="right:1317.5px;top:67.0px;font-size:49.0px">3.435 9</div>
<div class="t lb" style="right:1317.5px;top:115.8px;font-size:49.0px">0.000 0</div>
<div class="t lb" style="right:1317.5px;top:164.6px;font-size:49.0px"><span class="m">−</span>5.000 0</div>
<div class="t lb" style="right:1317.5px;top:213.4px;font-size:49.0px"><span class="m">−</span>0.100 0</div>
<div class="t lb" style="right:1317.5px;top:262.2px;font-size:49.0px"><span class="m">−</span>0.150 0</div>
<div class="t lb" style="right:1317.5px;top:311.0px;font-size:49.0px"><span class="m">−</span>0.200 0</div>
<div class="t lb" style="right:1317.5px;top:359.8px;font-size:49.0px"><span class="m">−</span>0.250 0</div>
<div class="t lb" style="right:1317.5px;top:408.6px;font-size:49.0px"><span class="m">−</span>0.300 0</div>
<div class="t lb" style="right:1317.5px;top:457.4px;font-size:49.0px"><span class="m">−</span>0.350 0</div>
<div class="t lb" style="right:1317.5px;top:506.2px;font-size:49.0px"><span class="m">−</span>0.400 0</div>
<div class="t ti" style="left:19px;top:728.2px">应力/MPa</div>
<div class="cb" style="left:228.5px;top:806.0px;width:21.5px;height:509.0px;background:linear-gradient(to bottom,#b9282a 0.0%, #b9282a 6.5%,#c23a2c 6.5%, #c23a2c 10.0%,#c84a2c 10.0%, #c84a2c 14.0%,#cd5f2e 14.0%, #cd5f2e 18.0%,#d5782e 18.0%, #d5782e 21.5%,#d49f36 21.5%, #d49f36 26.0%,#c6c03f 26.0%, #c6c03f 30.0%,#a0bd40 30.0%, #a0bd40 34.5%,#7fb23d 34.5%, #7fb23d 39.0%,#6aab3c 39.0%, #6aab3c 43.0%,#5fa53c 43.0%, #5fa53c 47.0%,#5aa042 47.0%, #5aa042 51.0%,#58a052 51.0%, #58a052 55.5%,#5aa46e 55.5%, #5aa46e 60.0%,#5ea88e 60.0%, #5ea88e 64.0%,#58a9b0 64.0%, #58a9b0 68.5%,#4b98c0 68.5%, #4b98c0 73.0%,#4676b0 73.0%, #4676b0 76.5%,#3e62a4 76.5%, #3e62a4 80.0%,#3a5699 80.0%, #3a5699 84.0%,#364f94 84.0%, #364f94 100.0%,#334c90 100.0%, #334c90 100.0%)"></div>
<div class="t lb" style="right:2927.5px;top:795.0px;font-size:49.0px">3.3066 0</div>
<div class="t lb" style="right:2927.5px;top:843.1px;font-size:49.0px">0.0000 0</div>
<div class="t lb" style="right:2927.5px;top:891.3px;font-size:49.0px"><span class="m">−</span>0.5000 0</div>
<div class="t lb" style="right:2927.5px;top:939.5px;font-size:49.0px"><span class="m">−</span>0.1000 0</div>
<div class="t lb" style="right:2927.5px;top:987.6px;font-size:49.0px"><span class="m">−</span>0.1500 0</div>
<div class="t lb" style="right:2927.5px;top:1035.8px;font-size:49.0px"><span class="m">−</span>0.2000 0</div>
<div class="t lb" style="right:2927.5px;top:1083.9px;font-size:49.0px"><span class="m">−</span>0.2500 0</div>
<div class="t lb" style="right:2927.5px;top:1132.0px;font-size:49.0px"><span class="m">−</span>0.3000 0</div>
<div class="t lb" style="right:2927.5px;top:1180.2px;font-size:49.0px"><span class="m">−</span>0.3500 0</div>
<div class="t lb" style="right:2927.5px;top:1228.3px;font-size:49.0px"><span class="m">−</span>0.4000 0</div>
<div class="t lb" style="right:2927.5px;top:1276.5px;font-size:49.0px"><span class="m">−</span>0.4427 9</div>
<div class="t ti" style="left:1630.5px;top:729px">应力/MPa</div>
<div class="cb" style="left:1838.5px;top:794.5px;width:21.5px;height:530.5px;background:linear-gradient(to bottom,#b9282a 0.0%, #b9282a 6.5%,#c23a2c 6.5%, #c23a2c 10.0%,#c84a2c 10.0%, #c84a2c 14.0%,#cd5f2e 14.0%, #cd5f2e 18.0%,#d5782e 18.0%, #d5782e 21.5%,#d49f36 21.5%, #d49f36 26.0%,#c6c03f 26.0%, #c6c03f 30.0%,#a0bd40 30.0%, #a0bd40 34.5%,#7fb23d 34.5%, #7fb23d 39.0%,#6aab3c 39.0%, #6aab3c 43.0%,#5fa53c 43.0%, #5fa53c 47.0%,#5aa042 47.0%, #5aa042 51.0%,#58a052 51.0%, #58a052 55.5%,#5aa46e 55.5%, #5aa46e 60.0%,#5ea88e 60.0%, #5ea88e 64.0%,#58a9b0 64.0%, #58a9b0 68.5%,#4b98c0 68.5%, #4b98c0 73.0%,#4676b0 73.0%, #4676b0 76.5%,#3e62a4 76.5%, #3e62a4 80.0%,#3a5699 80.0%, #3a5699 84.0%,#364f94 84.0%, #364f94 100.0%,#334c90 100.0%, #334c90 100.0%)"></div>
<div class="t lb" style="right:1317.5px;top:808.0px;font-size:49.0px">2.500 0</div>
<div class="t lb" style="right:1317.5px;top:858.3px;font-size:49.0px"><span class="m">−</span>2.500 0</div>
<div class="t lb" style="right:1317.5px;top:908.6px;font-size:49.0px"><span class="m">−</span>7.500 0</div>
<div class="t lb" style="right:1317.5px;top:958.9px;font-size:49.0px"><span class="m">−</span>0.125 0</div>
<div class="t lb" style="right:1317.5px;top:1009.2px;font-size:49.0px"><span class="m">−</span>0.175 0</div>
<div class="t lb" style="right:1317.5px;top:1059.5px;font-size:49.0px"><span class="m">−</span>0.225 0</div>
<div class="t lb" style="right:1317.5px;top:1109.8px;font-size:49.0px"><span class="m">−</span>0.275 0</div>
<div class="t lb" style="right:1317.5px;top:1160.1px;font-size:49.0px"><span class="m">−</span>0.325 0</div>
<div class="t lb" style="right:1317.5px;top:1210.4px;font-size:49.0px"><span class="m">−</span>0.375 0</div>
<div class="t lb" style="right:1317.5px;top:1260.7px;font-size:49.0px"><span class="m">−</span>0.425 0</div>
<div class="t cap" style="left:731px;top:666px">未弱化</div>
<div class="t cap" style="left:2413px;top:666px">低位弱化</div>
<div class="t cap" style="left:704px;top:1415px">中位弱化</div>
<div class="t cap" style="left:2414px;top:1415px">高位弱化</div>
<div class="t bx" style="left:731px;top:47px">马鞍形</div>
<div class="t bx" style="left:2366px;top:816px">倒梯形</div>
</body></html>
